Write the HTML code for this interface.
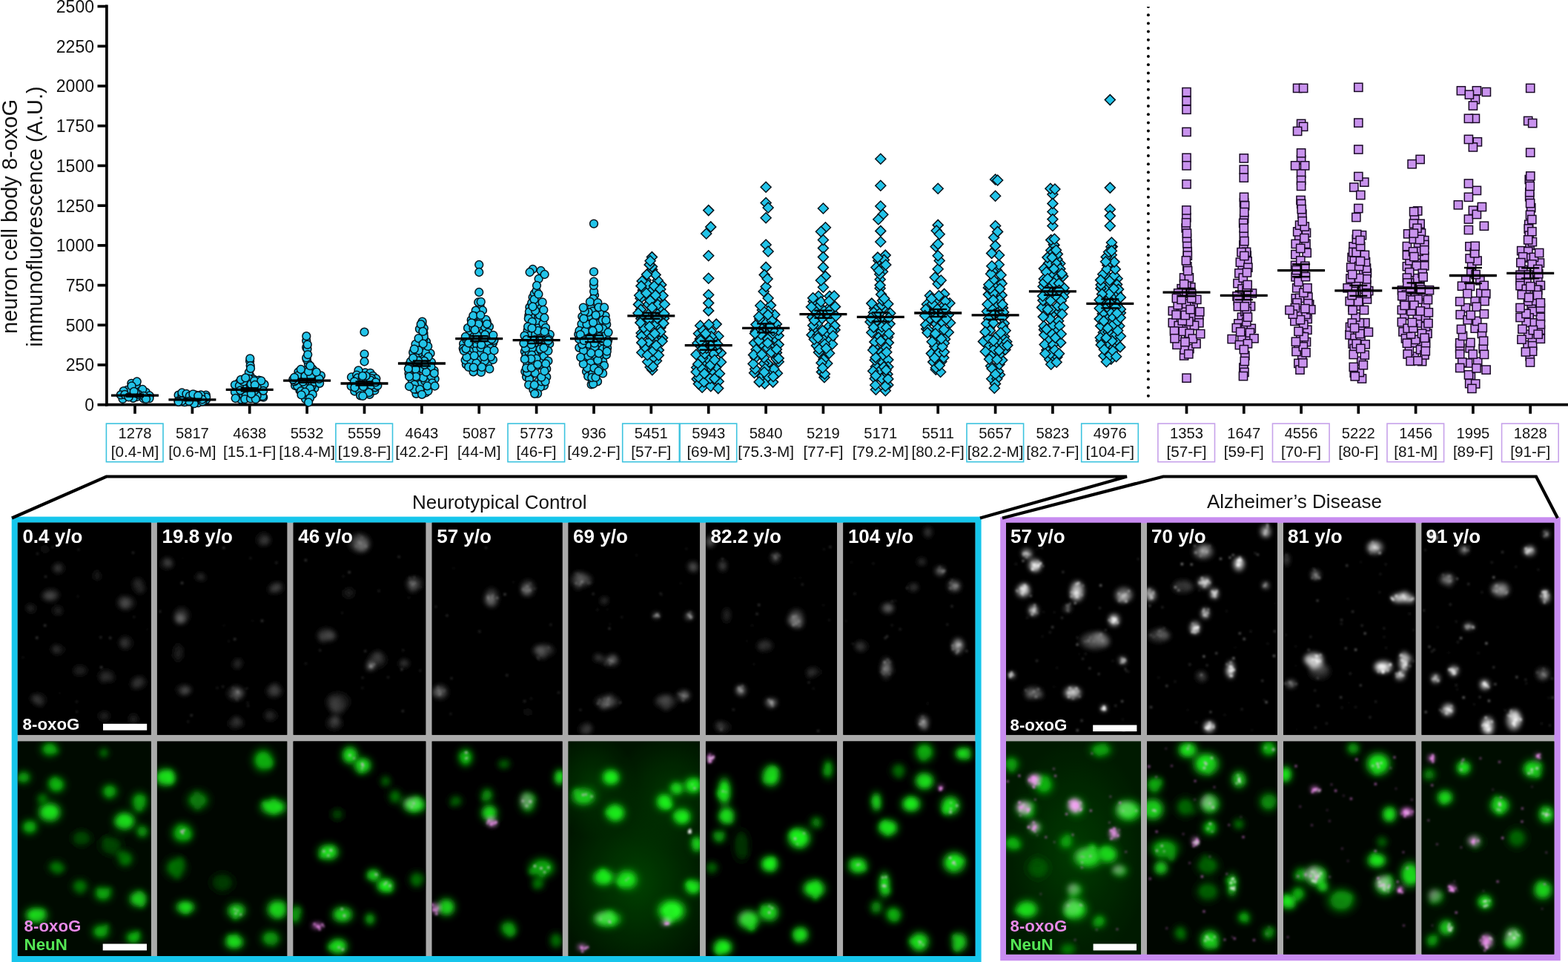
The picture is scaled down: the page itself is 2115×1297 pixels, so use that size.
<!DOCTYPE html>
<html><head><meta charset="utf-8"><title>8-oxoG neuron immunofluorescence</title>
<style>html,body{margin:0;padding:0;background:#fff;} body{width:2115px;height:1297px;overflow:hidden;} svg{display:block;}</style>
</head><body>
<svg width="2115" height="1297" viewBox="0 0 2115 1297">
<rect width="2115" height="1297" fill="#fff"/>
<defs>
<filter id="b3" x="-50%" y="-50%" width="200%" height="200%"><feGaussianBlur stdDeviation="3"/></filter>
<filter id="b5" x="-50%" y="-50%" width="200%" height="200%"><feGaussianBlur stdDeviation="5"/></filter>
<filter id="b2" x="-50%" y="-50%" width="200%" height="200%"><feGaussianBlur stdDeviation="1.6"/></filter>
<filter id="b25" x="-50%" y="-50%" width="200%" height="200%"><feGaussianBlur stdDeviation="25"/></filter>
<radialGradient id="hz1"><stop offset="0" stop-color="#003000"/><stop offset="1" stop-color="#003000" stop-opacity="0"/></radialGradient>
<radialGradient id="hz2"><stop offset="0" stop-color="#002400"/><stop offset="1" stop-color="#002400" stop-opacity="0"/></radialGradient>
<clipPath id="ct0"><rect x="23.8" y="704.7" width="180.0" height="286.0999999999999"/></clipPath>
<clipPath id="cb0"><rect x="23.8" y="999.5" width="180.0" height="289.5"/></clipPath>
<clipPath id="ct1"><rect x="211.9" y="704.7" width="175.4" height="286.0999999999999"/></clipPath>
<clipPath id="cb1"><rect x="211.9" y="999.5" width="175.4" height="289.5"/></clipPath>
<clipPath id="ct2"><rect x="395.6" y="704.7" width="178.69999999999993" height="286.0999999999999"/></clipPath>
<clipPath id="cb2"><rect x="395.6" y="999.5" width="178.7" height="289.5"/></clipPath>
<clipPath id="ct3"><rect x="582.6" y="704.7" width="176.0" height="286.0999999999999"/></clipPath>
<clipPath id="cb3"><rect x="582.6" y="999.5" width="176.0" height="289.5"/></clipPath>
<clipPath id="ct4"><rect x="766.5" y="704.7" width="177.5" height="286.0999999999999"/></clipPath>
<clipPath id="cb4"><rect x="766.5" y="999.5" width="177.5" height="289.5"/></clipPath>
<clipPath id="ct5"><rect x="951.9" y="704.7" width="177.10000000000002" height="286.0999999999999"/></clipPath>
<clipPath id="cb5"><rect x="951.9" y="999.5" width="177.1" height="289.5"/></clipPath>
<clipPath id="ct6"><rect x="1137.3" y="704.7" width="178.0" height="286.0999999999999"/></clipPath>
<clipPath id="cb6"><rect x="1137.3" y="999.5" width="178.0" height="289.5"/></clipPath>
<clipPath id="ct7"><rect x="1357.0" y="704.7" width="182.0" height="286.0999999999999"/></clipPath>
<clipPath id="cb7"><rect x="1357.0" y="999.5" width="182.0" height="287.1"/></clipPath>
<clipPath id="ct8"><rect x="1547.0" y="704.7" width="176.0" height="286.0999999999999"/></clipPath>
<clipPath id="cb8"><rect x="1547.0" y="999.5" width="176.0" height="287.1"/></clipPath>
<clipPath id="ct9"><rect x="1731.0" y="704.7" width="178.5" height="286.0999999999999"/></clipPath>
<clipPath id="cb9"><rect x="1731.0" y="999.5" width="178.5" height="287.1"/></clipPath>
<clipPath id="ct10"><rect x="1917.5" y="704.7" width="178.9000000000001" height="286.0999999999999"/></clipPath>
<clipPath id="cb10"><rect x="1917.5" y="999.5" width="178.9" height="287.1"/></clipPath>
</defs>
<rect x="15.7" y="696.6" width="1307.8999999999999" height="602.4" fill="#16C6EC"/>
<rect x="23.8" y="704.7" width="1291.5" height="584.3" fill="#ABABAB"/>
<rect x="1349.2" y="697.3" width="755.6" height="597.9" fill="#C88CF0"/>
<rect x="1357" y="705.3" width="739.4" height="581.3" fill="#ABABAB"/>
<rect x="23.8" y="704.7" width="180.0" height="286.1" fill="#000"/>
<rect x="23.8" y="999.5" width="180.0" height="289.5" fill="rgb(0, 10, 0)"/>
<rect x="211.9" y="704.7" width="175.4" height="286.1" fill="#000"/>
<rect x="211.9" y="999.5" width="175.4" height="289.5" fill="rgb(0, 6, 0)"/>
<rect x="395.6" y="704.7" width="178.7" height="286.1" fill="#000"/>
<rect x="395.6" y="999.5" width="178.7" height="289.5" fill="rgb(0, 0, 0)"/>
<rect x="582.6" y="704.7" width="176.0" height="286.1" fill="#000"/>
<rect x="582.6" y="999.5" width="176.0" height="289.5" fill="rgb(0, 0, 0)"/>
<rect x="766.5" y="704.7" width="177.5" height="286.1" fill="#000"/>
<rect x="766.5" y="999.5" width="177.5" height="289.5" fill="rgb(0, 20, 0)"/>
<rect x="951.9" y="704.7" width="177.1" height="286.1" fill="#000"/>
<rect x="951.9" y="999.5" width="177.1" height="289.5" fill="rgb(0, 0, 0)"/>
<rect x="1137.3" y="704.7" width="178.0" height="286.1" fill="#000"/>
<rect x="1137.3" y="999.5" width="178.0" height="289.5" fill="rgb(0, 0, 0)"/>
<rect x="1357.0" y="705.3" width="182.0" height="285.5" fill="#000"/>
<rect x="1357.0" y="999.5" width="182.0" height="287.1" fill="rgb(0, 26, 0)"/>
<rect x="1547.0" y="705.3" width="176.0" height="285.5" fill="#000"/>
<rect x="1547.0" y="999.5" width="176.0" height="287.1" fill="rgb(0, 6, 0)"/>
<rect x="1731.0" y="705.3" width="178.5" height="285.5" fill="#000"/>
<rect x="1731.0" y="999.5" width="178.5" height="287.1" fill="rgb(0, 5, 0)"/>
<rect x="1917.5" y="705.3" width="178.9" height="285.5" fill="#000"/>
<rect x="1917.5" y="999.5" width="178.9" height="287.1" fill="rgb(0, 13, 0)"/>
<g clip-path="url(#ct0)"><rect x="23.8" y="702.7" width="180.0" height="288.1" fill="#000"/><g filter="url(#b3)">
<ellipse cx="79" cy="766" rx="8.1" ry="7.2" fill="rgb(22,22,22)" style="mix-blend-mode:screen"/>
<ellipse transform="rotate(84 78.6 766.4)" cx="78.6" cy="766.4" rx="5.2" ry="4.0" fill="rgb(24,24,24)" style="mix-blend-mode:screen"/>
<ellipse transform="rotate(143 76.4 766.1)" cx="76.4" cy="766.1" rx="4.3" ry="3.4" fill="rgb(22,22,22)" style="mix-blend-mode:screen"/>
<ellipse cx="69" cy="802" rx="10.8" ry="8.1" fill="rgb(32,32,32)" style="mix-blend-mode:screen"/>
<ellipse transform="rotate(8 64.6 804.5)" cx="64.6" cy="804.5" rx="8.3" ry="5.3" fill="rgb(32,32,32)" style="mix-blend-mode:screen"/>
<ellipse transform="rotate(3 70.7 802.9)" cx="70.7" cy="802.9" rx="7.0" ry="3.3" fill="rgb(25,25,25)" style="mix-blend-mode:screen"/>
<ellipse cx="170" cy="813" rx="11.7" ry="9.0" fill="rgb(35,35,35)" style="mix-blend-mode:screen"/>
<ellipse transform="rotate(84 166.4 810.7)" cx="166.4" cy="810.7" rx="7.3" ry="5.6" fill="rgb(26,26,26)" style="mix-blend-mode:screen"/>
<ellipse transform="rotate(119 170.2 814.3)" cx="170.2" cy="814.3" rx="7.3" ry="4.2" fill="rgb(32,32,32)" style="mix-blend-mode:screen"/>
<ellipse cx="187" cy="790" rx="8.1" ry="9.9" fill="rgb(22,22,22)" style="mix-blend-mode:screen"/>
<ellipse transform="rotate(127 191.0 794.9)" cx="191.0" cy="794.9" rx="4.8" ry="4.5" fill="rgb(23,23,23)" style="mix-blend-mode:screen"/>
<ellipse transform="rotate(72 185.3 785.7)" cx="185.3" cy="785.7" rx="6.0" ry="4.9" fill="rgb(23,23,23)" style="mix-blend-mode:screen"/>
<ellipse cx="77" cy="823" rx="6.3" ry="6.3" fill="rgb(19,19,19)" style="mix-blend-mode:screen"/>
<ellipse transform="rotate(38 79.9 825.2)" cx="79.9" cy="825.2" rx="4.7" ry="3.3" fill="rgb(14,14,14)" style="mix-blend-mode:screen"/>
<ellipse transform="rotate(113 80.0 822.4)" cx="80.0" cy="822.4" rx="4.5" ry="2.9" fill="rgb(14,14,14)" style="mix-blend-mode:screen"/>
<ellipse cx="43" cy="821" rx="7.2" ry="6.3" fill="rgb(16,16,16)" style="mix-blend-mode:screen"/>
<ellipse transform="rotate(136 40.0 819.9)" cx="40.0" cy="819.9" rx="3.8" ry="2.9" fill="rgb(17,17,17)" style="mix-blend-mode:screen"/>
<ellipse transform="rotate(32 40.1 818.2)" cx="40.1" cy="818.2" rx="4.7" ry="3.2" fill="rgb(16,16,16)" style="mix-blend-mode:screen"/>
<ellipse cx="170" cy="867" rx="9.0" ry="9.0" fill="rgb(22,22,22)" style="mix-blend-mode:screen"/>
<ellipse transform="rotate(116 167.2 869.1)" cx="167.2" cy="869.1" rx="4.8" ry="4.6" fill="rgb(17,17,17)" style="mix-blend-mode:screen"/>
<ellipse transform="rotate(145 167.4 864.9)" cx="167.4" cy="864.9" rx="5.3" ry="5.7" fill="rgb(24,24,24)" style="mix-blend-mode:screen"/>
<ellipse cx="78" cy="876" rx="9.0" ry="6.3" fill="rgb(19,19,19)" style="mix-blend-mode:screen"/>
<ellipse transform="rotate(116 75.4 875.3)" cx="75.4" cy="875.3" rx="4.8" ry="4.2" fill="rgb(20,20,20)" style="mix-blend-mode:screen"/>
<ellipse transform="rotate(59 75.4 874.5)" cx="75.4" cy="874.5" rx="5.2" ry="2.6" fill="rgb(19,19,19)" style="mix-blend-mode:screen"/>
<ellipse cx="108" cy="904" rx="9.0" ry="7.2" fill="rgb(19,19,19)" style="mix-blend-mode:screen"/>
<ellipse transform="rotate(108 104.3 904.6)" cx="104.3" cy="904.6" rx="5.4" ry="3.7" fill="rgb(16,16,16)" style="mix-blend-mode:screen"/>
<ellipse transform="rotate(156 112.1 903.9)" cx="112.1" cy="903.9" rx="5.0" ry="3.1" fill="rgb(18,18,18)" style="mix-blend-mode:screen"/>
<ellipse cx="143" cy="911" rx="10.8" ry="8.1" fill="rgb(22,22,22)" style="mix-blend-mode:screen"/>
<ellipse transform="rotate(34 147.4 913.6)" cx="147.4" cy="913.6" rx="7.6" ry="5.3" fill="rgb(18,18,18)" style="mix-blend-mode:screen"/>
<ellipse transform="rotate(109 139.7 914.6)" cx="139.7" cy="914.6" rx="6.7" ry="3.4" fill="rgb(24,24,24)" style="mix-blend-mode:screen"/>
<ellipse cx="187" cy="920" rx="9.9" ry="8.1" fill="rgb(28,28,28)" style="mix-blend-mode:screen"/>
<ellipse transform="rotate(127 182.4 923.7)" cx="182.4" cy="923.7" rx="5.7" ry="5.0" fill="rgb(24,24,24)" style="mix-blend-mode:screen"/>
<ellipse transform="rotate(130 188.0 918.3)" cx="188.0" cy="918.3" rx="5.1" ry="3.7" fill="rgb(23,23,23)" style="mix-blend-mode:screen"/>
<ellipse cx="52" cy="943" rx="9.9" ry="8.1" fill="rgb(25,25,25)" style="mix-blend-mode:screen"/>
<ellipse transform="rotate(50 52.6 945.9)" cx="52.6" cy="945.9" rx="7.5" ry="3.6" fill="rgb(25,25,25)" style="mix-blend-mode:screen"/>
<ellipse transform="rotate(11 47.2 941.1)" cx="47.2" cy="941.1" rx="5.4" ry="4.0" fill="rgb(23,23,23)" style="mix-blend-mode:screen"/>
<ellipse cx="140" cy="966" rx="8.1" ry="6.3" fill="rgb(16,16,16)" style="mix-blend-mode:screen"/>
<ellipse transform="rotate(160 140.6 963.7)" cx="140.6" cy="963.7" rx="6.3" ry="3.6" fill="rgb(14,14,14)" style="mix-blend-mode:screen"/>
<ellipse transform="rotate(6 141.5 966.5)" cx="141.5" cy="966.5" rx="4.1" ry="4.0" fill="rgb(12,12,12)" style="mix-blend-mode:screen"/>
<ellipse cx="180" cy="968" rx="7.2" ry="6.3" fill="rgb(16,16,16)" style="mix-blend-mode:screen"/>
<ellipse transform="rotate(115 181.4 970.9)" cx="181.4" cy="970.9" rx="4.6" ry="3.7" fill="rgb(12,12,12)" style="mix-blend-mode:screen"/>
<ellipse transform="rotate(98 178.7 971.1)" cx="178.7" cy="971.1" rx="5.1" ry="4.0" fill="rgb(12,12,12)" style="mix-blend-mode:screen"/>
<ellipse cx="130" cy="775" rx="5.4" ry="7.2" fill="rgb(12,12,12)" style="mix-blend-mode:screen"/>
<ellipse transform="rotate(165 131.3 776.5)" cx="131.3" cy="776.5" rx="3.2" ry="4.2" fill="rgb(13,13,13)" style="mix-blend-mode:screen"/>
<ellipse transform="rotate(142 132.2 777.7)" cx="132.2" cy="777.7" rx="4.0" ry="3.9" fill="rgb(11,11,11)" style="mix-blend-mode:screen"/>
<ellipse cx="60" cy="740" rx="5.4" ry="5.4" fill="rgb(9,9,9)" style="mix-blend-mode:screen"/>
<ellipse transform="rotate(110 60.7 739.4)" cx="60.7" cy="739.4" rx="2.8" ry="3.1" fill="rgb(9,9,9)" style="mix-blend-mode:screen"/>
<ellipse transform="rotate(70 62.7 742.1)" cx="62.7" cy="742.1" rx="3.8" ry="3.0" fill="rgb(9,9,9)" style="mix-blend-mode:screen"/>
</g><g filter="url(#b2)" style="mix-blend-mode:screen">
<circle cx="103.3" cy="946.1" r="1.2" fill="rgb(55,55,55)"/>
<circle cx="31.0" cy="886.3" r="0.8" fill="rgb(78,78,78)"/>
<circle cx="148.7" cy="860.1" r="1.3" fill="rgb(86,86,86)"/>
<circle cx="70.8" cy="737.6" r="1.1" fill="rgb(68,68,68)"/>
<circle cx="61.5" cy="777.5" r="1.1" fill="rgb(104,104,104)"/>
<circle cx="103.6" cy="959.5" r="1.1" fill="rgb(69,69,69)"/>
<circle cx="60.7" cy="843.3" r="1.3" fill="rgb(98,98,98)"/>
<circle cx="180.7" cy="831.6" r="0.9" fill="rgb(84,84,84)"/>
<circle cx="49.8" cy="859.9" r="1.3" fill="rgb(100,100,100)"/>
<circle cx="151.0" cy="974.2" r="0.7" fill="rgb(66,66,66)"/>
<circle cx="105.1" cy="804.1" r="0.9" fill="rgb(62,62,62)"/>
<circle cx="135.9" cy="859.2" r="1.3" fill="rgb(68,68,68)"/>
<circle cx="198.6" cy="848.8" r="0.6" fill="rgb(54,54,54)"/>
<circle cx="179.4" cy="745.2" r="1.1" fill="rgb(92,92,92)"/>
<circle cx="80.2" cy="934.2" r="0.7" fill="rgb(51,51,51)"/>
<circle cx="105.9" cy="740.9" r="0.8" fill="rgb(99,99,99)"/>
<circle cx="50.6" cy="746.5" r="1.0" fill="rgb(87,87,87)"/>
<circle cx="136.7" cy="899.8" r="1.4" fill="rgb(98,98,98)"/>
</g></g>
<g clip-path="url(#ct1)"><rect x="211.9" y="702.7" width="175.4" height="288.1" fill="#000"/><g filter="url(#b3)">
<ellipse cx="225" cy="760" rx="9.0" ry="7.2" fill="rgb(28,28,28)" style="mix-blend-mode:screen"/>
<ellipse transform="rotate(32 226.7 757.8)" cx="226.7" cy="757.8" rx="4.5" ry="3.7" fill="rgb(26,26,26)" style="mix-blend-mode:screen"/>
<ellipse transform="rotate(62 226.9 757.7)" cx="226.9" cy="757.7" rx="6.2" ry="3.8" fill="rgb(24,24,24)" style="mix-blend-mode:screen"/>
<ellipse cx="355" cy="727" rx="9.0" ry="9.0" fill="rgb(25,25,25)" style="mix-blend-mode:screen"/>
<ellipse transform="rotate(143 356.0 729.3)" cx="356.0" cy="729.3" rx="6.8" ry="3.7" fill="rgb(22,22,22)" style="mix-blend-mode:screen"/>
<ellipse transform="rotate(82 358.9 729.0)" cx="358.9" cy="729.0" rx="6.1" ry="5.8" fill="rgb(20,20,20)" style="mix-blend-mode:screen"/>
<ellipse cx="372" cy="793" rx="10.8" ry="7.2" fill="rgb(25,25,25)" style="mix-blend-mode:screen"/>
<ellipse transform="rotate(143 370.7 793.5)" cx="370.7" cy="793.5" rx="8.2" ry="3.7" fill="rgb(27,27,27)" style="mix-blend-mode:screen"/>
<ellipse transform="rotate(147 373.6 790.9)" cx="373.6" cy="790.9" rx="7.3" ry="4.2" fill="rgb(26,26,26)" style="mix-blend-mode:screen"/>
<ellipse cx="245" cy="830" rx="9.9" ry="10.8" fill="rgb(38,38,38)" style="mix-blend-mode:screen"/>
<ellipse transform="rotate(176 242.2 834.3)" cx="242.2" cy="834.3" rx="6.4" ry="6.6" fill="rgb(42,42,42)" style="mix-blend-mode:screen"/>
<ellipse transform="rotate(63 243.2 834.4)" cx="243.2" cy="834.4" rx="5.2" ry="5.5" fill="rgb(41,41,41)" style="mix-blend-mode:screen"/>
<ellipse cx="240" cy="880" rx="7.2" ry="12.6" fill="rgb(16,16,16)" style="mix-blend-mode:screen"/>
<ellipse transform="rotate(5 240.4 883.4)" cx="240.4" cy="883.4" rx="5.2" ry="5.1" fill="rgb(14,14,14)" style="mix-blend-mode:screen"/>
<ellipse transform="rotate(142 242.2 875.9)" cx="242.2" cy="875.9" rx="3.9" ry="5.4" fill="rgb(14,14,14)" style="mix-blend-mode:screen"/>
<ellipse cx="320" cy="895" rx="6.3" ry="7.2" fill="rgb(19,19,19)" style="mix-blend-mode:screen"/>
<ellipse transform="rotate(124 320.1 896.6)" cx="320.1" cy="896.6" rx="4.8" ry="3.8" fill="rgb(20,20,20)" style="mix-blend-mode:screen"/>
<ellipse transform="rotate(95 322.8 892.0)" cx="322.8" cy="892.0" rx="3.7" ry="4.3" fill="rgb(15,15,15)" style="mix-blend-mode:screen"/>
<ellipse cx="248" cy="930" rx="9.9" ry="6.3" fill="rgb(35,35,35)" style="mix-blend-mode:screen"/>
<ellipse transform="rotate(101 249.4 930.1)" cx="249.4" cy="930.1" rx="5.8" ry="3.1" fill="rgb(37,37,37)" style="mix-blend-mode:screen"/>
<ellipse transform="rotate(153 251.4 932.5)" cx="251.4" cy="932.5" rx="7.6" ry="3.4" fill="rgb(29,29,29)" style="mix-blend-mode:screen"/>
<ellipse cx="318" cy="935" rx="10.8" ry="9.0" fill="rgb(44,44,44)" style="mix-blend-mode:screen"/>
<ellipse transform="rotate(91 318.8 932.3)" cx="318.8" cy="932.3" rx="7.2" ry="3.6" fill="rgb(42,42,42)" style="mix-blend-mode:screen"/>
<ellipse transform="rotate(144 323.1 935.1)" cx="323.1" cy="935.1" rx="7.1" ry="4.7" fill="rgb(40,40,40)" style="mix-blend-mode:screen"/>
<ellipse cx="370" cy="932" rx="10.8" ry="8.1" fill="rgb(28,28,28)" style="mix-blend-mode:screen"/>
<ellipse transform="rotate(74 372.1 928.5)" cx="372.1" cy="928.5" rx="8.3" ry="5.2" fill="rgb(27,27,27)" style="mix-blend-mode:screen"/>
<ellipse transform="rotate(78 367.5 931.8)" cx="367.5" cy="931.8" rx="7.8" ry="5.2" fill="rgb(22,22,22)" style="mix-blend-mode:screen"/>
<ellipse cx="318" cy="975" rx="10.8" ry="7.2" fill="rgb(25,25,25)" style="mix-blend-mode:screen"/>
<ellipse transform="rotate(111 317.7 973.7)" cx="317.7" cy="973.7" rx="8.2" ry="3.1" fill="rgb(21,21,21)" style="mix-blend-mode:screen"/>
<ellipse transform="rotate(41 321.0 971.6)" cx="321.0" cy="971.6" rx="7.5" ry="3.4" fill="rgb(21,21,21)" style="mix-blend-mode:screen"/>
<ellipse cx="365" cy="965" rx="9.0" ry="7.2" fill="rgb(19,19,19)" style="mix-blend-mode:screen"/>
<ellipse transform="rotate(132 363.7 965.9)" cx="363.7" cy="965.9" rx="4.8" ry="3.8" fill="rgb(15,15,15)" style="mix-blend-mode:screen"/>
<ellipse transform="rotate(79 362.8 962.8)" cx="362.8" cy="962.8" rx="5.4" ry="3.6" fill="rgb(18,18,18)" style="mix-blend-mode:screen"/>
<ellipse cx="270" cy="778" rx="7.2" ry="4.5" fill="rgb(22,22,22)" style="mix-blend-mode:screen"/>
<ellipse transform="rotate(114 270.2 776.5)" cx="270.2" cy="776.5" rx="4.9" ry="2.4" fill="rgb(18,18,18)" style="mix-blend-mode:screen"/>
<ellipse transform="rotate(42 272.5 778.5)" cx="272.5" cy="778.5" rx="5.1" ry="2.8" fill="rgb(23,23,23)" style="mix-blend-mode:screen"/>
</g><g filter="url(#b2)" style="mix-blend-mode:screen">
<circle cx="320.9" cy="933.3" r="1.7" fill="rgb(60,60,60)"/>
<circle cx="320.3" cy="944.3" r="0.9" fill="rgb(80,80,80)"/>
<circle cx="318.6" cy="941.9" r="0.9" fill="rgb(59,59,59)"/>
<circle cx="320.4" cy="931.5" r="0.9" fill="rgb(76,76,76)"/>
<circle cx="311.6" cy="938.7" r="1.0" fill="rgb(50,50,50)"/>
<circle cx="313.7" cy="927.1" r="0.9" fill="rgb(82,82,82)"/>
<circle cx="300.6" cy="925.8" r="1.1" fill="rgb(80,80,80)"/>
<circle cx="246.3" cy="752.5" r="0.6" fill="rgb(56,56,56)"/>
<circle cx="308.5" cy="864.5" r="0.7" fill="rgb(84,84,84)"/>
<circle cx="245.5" cy="786.1" r="1.4" fill="rgb(100,100,100)"/>
<circle cx="372.8" cy="758.7" r="1.4" fill="rgb(53,53,53)"/>
<circle cx="293.1" cy="927.5" r="1.0" fill="rgb(69,69,69)"/>
<circle cx="302.2" cy="843.1" r="0.6" fill="rgb(86,86,86)"/>
<circle cx="334.1" cy="947.5" r="1.0" fill="rgb(60,60,60)"/>
<circle cx="340.6" cy="836.9" r="0.7" fill="rgb(61,61,61)"/>
<circle cx="301.8" cy="738.6" r="1.2" fill="rgb(103,103,103)"/>
<circle cx="334.7" cy="951.7" r="0.9" fill="rgb(87,87,87)"/>
<circle cx="316.7" cy="861.8" r="1.2" fill="rgb(108,108,108)"/>
<circle cx="258.2" cy="964.4" r="1.2" fill="rgb(94,94,94)"/>
<circle cx="353.5" cy="837.0" r="1.3" fill="rgb(103,103,103)"/>
<circle cx="333.0" cy="928.1" r="0.9" fill="rgb(95,95,95)"/>
<circle cx="337.8" cy="752.5" r="1.0" fill="rgb(70,70,70)"/>
<circle cx="215.7" cy="824.4" r="1.1" fill="rgb(88,88,88)"/>
<circle cx="253.7" cy="972.9" r="0.9" fill="rgb(89,89,89)"/>
</g></g>
<g clip-path="url(#ct2)"><rect x="395.6" y="702.7" width="178.7" height="288.1" fill="#000"/><g filter="url(#b3)">
<ellipse cx="485" cy="732" rx="14.4" ry="12.6" fill="rgb(41,41,41)" style="mix-blend-mode:screen"/>
<ellipse transform="rotate(70 487.3 732.9)" cx="487.3" cy="732.9" rx="11.2" ry="7.1" fill="rgb(39,39,39)" style="mix-blend-mode:screen"/>
<ellipse transform="rotate(4 487.9 735.3)" cx="487.9" cy="735.3" rx="9.7" ry="7.5" fill="rgb(46,46,46)" style="mix-blend-mode:screen"/>
<ellipse cx="559" cy="787" rx="10.8" ry="9.0" fill="rgb(41,41,41)" style="mix-blend-mode:screen"/>
<ellipse transform="rotate(35 556.4 786.1)" cx="556.4" cy="786.1" rx="6.5" ry="3.7" fill="rgb(31,31,31)" style="mix-blend-mode:screen"/>
<ellipse transform="rotate(91 556.3 790.7)" cx="556.3" cy="790.7" rx="8.3" ry="4.9" fill="rgb(39,39,39)" style="mix-blend-mode:screen"/>
<ellipse cx="440" cy="856" rx="11.7" ry="9.0" fill="rgb(38,38,38)" style="mix-blend-mode:screen"/>
<ellipse transform="rotate(14 445.8 857.2)" cx="445.8" cy="857.2" rx="7.8" ry="5.4" fill="rgb(40,40,40)" style="mix-blend-mode:screen"/>
<ellipse transform="rotate(85 434.7 859.9)" cx="434.7" cy="859.9" rx="6.4" ry="4.7" fill="rgb(31,31,31)" style="mix-blend-mode:screen"/>
<ellipse cx="509" cy="890" rx="12.6" ry="10.8" fill="rgb(22,22,22)" style="mix-blend-mode:screen"/>
<ellipse transform="rotate(76 510.4 885.2)" cx="510.4" cy="885.2" rx="8.1" ry="6.0" fill="rgb(24,24,24)" style="mix-blend-mode:screen"/>
<ellipse transform="rotate(101 507.3 887.7)" cx="507.3" cy="887.7" rx="7.3" ry="6.3" fill="rgb(22,22,22)" style="mix-blend-mode:screen"/>
<ellipse cx="500" cy="898" rx="5.4" ry="5.4" fill="rgb(57,57,57)" style="mix-blend-mode:screen"/>
<ellipse transform="rotate(8 498.9 895.4)" cx="498.9" cy="895.4" rx="2.9" ry="3.2" fill="rgb(48,48,48)" style="mix-blend-mode:screen"/>
<ellipse transform="rotate(9 499.4 900.1)" cx="499.4" cy="900.1" rx="4.2" ry="3.5" fill="rgb(59,59,59)" style="mix-blend-mode:screen"/>
<ellipse cx="456" cy="946" rx="16.2" ry="12.6" fill="rgb(25,25,25)" style="mix-blend-mode:screen"/>
<ellipse transform="rotate(86 449.1 951.1)" cx="449.1" cy="951.1" rx="12.5" ry="5.8" fill="rgb(23,23,23)" style="mix-blend-mode:screen"/>
<ellipse transform="rotate(84 456.4 951.5)" cx="456.4" cy="951.5" rx="12.5" ry="7.8" fill="rgb(26,26,26)" style="mix-blend-mode:screen"/>
<ellipse cx="451" cy="975" rx="10.8" ry="9.0" fill="rgb(28,28,28)" style="mix-blend-mode:screen"/>
<ellipse transform="rotate(82 452.1 971.5)" cx="452.1" cy="971.5" rx="6.0" ry="3.6" fill="rgb(28,28,28)" style="mix-blend-mode:screen"/>
<ellipse transform="rotate(120 451.3 971.6)" cx="451.3" cy="971.6" rx="6.8" ry="4.2" fill="rgb(26,26,26)" style="mix-blend-mode:screen"/>
<ellipse cx="470" cy="800" rx="9.0" ry="7.2" fill="rgb(11,11,11)" style="mix-blend-mode:screen"/>
<ellipse transform="rotate(96 470.7 799.4)" cx="470.7" cy="799.4" rx="7.0" ry="4.7" fill="rgb(12,12,12)" style="mix-blend-mode:screen"/>
<ellipse transform="rotate(161 472.1 798.1)" cx="472.1" cy="798.1" rx="6.5" ry="4.0" fill="rgb(9,9,9)" style="mix-blend-mode:screen"/>
<ellipse cx="545" cy="895" rx="7.2" ry="5.4" fill="rgb(25,25,25)" style="mix-blend-mode:screen"/>
<ellipse transform="rotate(102 544.0 893.8)" cx="544.0" cy="893.8" rx="4.8" ry="3.0" fill="rgb(25,25,25)" style="mix-blend-mode:screen"/>
<ellipse transform="rotate(176 546.8 893.3)" cx="546.8" cy="893.3" rx="5.4" ry="3.4" fill="rgb(21,21,21)" style="mix-blend-mode:screen"/>
</g><g filter="url(#b2)" style="mix-blend-mode:screen">
<circle cx="485.9" cy="732.2" r="1.2" fill="rgb(55,55,55)"/>
<circle cx="483.9" cy="731.0" r="0.9" fill="rgb(63,63,63)"/>
<circle cx="493.8" cy="736.6" r="1.4" fill="rgb(63,63,63)"/>
<circle cx="479.9" cy="736.6" r="1.1" fill="rgb(53,53,53)"/>
<circle cx="484.6" cy="720.9" r="0.9" fill="rgb(49,49,49)"/>
<circle cx="488.4" cy="724.3" r="1.0" fill="rgb(70,70,70)"/>
<circle cx="556.4" cy="788.1" r="1.2" fill="rgb(72,72,72)"/>
<circle cx="552.6" cy="779.3" r="1.3" fill="rgb(56,56,56)"/>
<circle cx="558.7" cy="778.3" r="1.2" fill="rgb(60,60,60)"/>
<circle cx="567.2" cy="791.8" r="0.9" fill="rgb(49,49,49)"/>
<circle cx="553.9" cy="785.2" r="1.1" fill="rgb(68,68,68)"/>
<circle cx="559.1" cy="786.3" r="1.5" fill="rgb(53,53,53)"/>
<circle cx="501.5" cy="898.9" r="1.5" fill="rgb(96,96,96)"/>
<circle cx="499.8" cy="898.8" r="1.5" fill="rgb(80,80,80)"/>
<circle cx="499.6" cy="898.5" r="1.4" fill="rgb(95,95,95)"/>
<circle cx="504.7" cy="895.4" r="1.2" fill="rgb(104,104,104)"/>
<circle cx="500.6" cy="896.4" r="1.2" fill="rgb(78,78,78)"/>
<circle cx="504.7" cy="896.0" r="1.2" fill="rgb(75,75,75)"/>
<circle cx="461.5" cy="826.3" r="0.9" fill="rgb(73,73,73)"/>
<circle cx="431.7" cy="876.8" r="1.0" fill="rgb(97,97,97)"/>
<circle cx="543.7" cy="876.6" r="1.2" fill="rgb(60,60,60)"/>
<circle cx="551.5" cy="805.7" r="1.0" fill="rgb(51,51,51)"/>
<circle cx="492.7" cy="877.8" r="1.1" fill="rgb(107,107,107)"/>
<circle cx="538.1" cy="750.8" r="1.2" fill="rgb(82,82,82)"/>
<circle cx="412.3" cy="755.3" r="1.3" fill="rgb(94,94,94)"/>
<circle cx="412.4" cy="894.6" r="1.2" fill="rgb(58,58,58)"/>
<circle cx="511.0" cy="796.6" r="1.2" fill="rgb(63,63,63)"/>
<circle cx="488.7" cy="927.5" r="0.9" fill="rgb(73,73,73)"/>
<circle cx="566.8" cy="904.2" r="1.0" fill="rgb(79,79,79)"/>
<circle cx="523.5" cy="913.2" r="0.9" fill="rgb(104,104,104)"/>
<circle cx="541.9" cy="902.8" r="1.2" fill="rgb(101,101,101)"/>
<circle cx="543.3" cy="958.7" r="1.1" fill="rgb(107,107,107)"/>
<circle cx="489.1" cy="913.7" r="0.9" fill="rgb(98,98,98)"/>
<circle cx="471.1" cy="771.6" r="1.4" fill="rgb(94,94,94)"/>
<circle cx="463.2" cy="777.0" r="0.9" fill="rgb(62,62,62)"/>
<circle cx="448.6" cy="979.2" r="0.8" fill="rgb(53,53,53)"/>
</g></g>
<g clip-path="url(#ct3)"><rect x="582.6" y="702.7" width="176.0" height="288.1" fill="#000"/><g filter="url(#b3)">
<ellipse cx="663" cy="806" rx="9.0" ry="12.6" fill="rgb(51,51,51)" style="mix-blend-mode:screen"/>
<ellipse transform="rotate(32 659.5 807.9)" cx="659.5" cy="807.9" rx="4.7" ry="6.5" fill="rgb(53,53,53)" style="mix-blend-mode:screen"/>
<ellipse transform="rotate(20 663.8 811.2)" cx="663.8" cy="811.2" rx="5.0" ry="5.7" fill="rgb(39,39,39)" style="mix-blend-mode:screen"/>
<ellipse cx="712" cy="793" rx="9.0" ry="10.8" fill="rgb(48,48,48)" style="mix-blend-mode:screen"/>
<ellipse transform="rotate(40 709.6 795.3)" cx="709.6" cy="795.3" rx="5.0" ry="5.0" fill="rgb(46,46,46)" style="mix-blend-mode:screen"/>
<ellipse transform="rotate(99 709.1 795.8)" cx="709.1" cy="795.8" rx="6.5" ry="5.6" fill="rgb(41,41,41)" style="mix-blend-mode:screen"/>
<ellipse cx="733" cy="877" rx="14.4" ry="8.1" fill="rgb(38,38,38)" style="mix-blend-mode:screen"/>
<ellipse transform="rotate(62 729.6 880.1)" cx="729.6" cy="880.1" rx="9.4" ry="5.3" fill="rgb(41,41,41)" style="mix-blend-mode:screen"/>
<ellipse transform="rotate(171 732.7 874.7)" cx="732.7" cy="874.7" rx="10.4" ry="4.0" fill="rgb(29,29,29)" style="mix-blend-mode:screen"/>
<ellipse cx="594" cy="933" rx="9.9" ry="9.9" fill="rgb(44,44,44)" style="mix-blend-mode:screen"/>
<ellipse transform="rotate(178 594.3 933.2)" cx="594.3" cy="933.2" rx="6.8" ry="4.5" fill="rgb(38,38,38)" style="mix-blend-mode:screen"/>
<ellipse transform="rotate(143 589.2 932.7)" cx="589.2" cy="932.7" rx="6.9" ry="5.5" fill="rgb(39,39,39)" style="mix-blend-mode:screen"/>
<ellipse cx="712" cy="960" rx="5.4" ry="4.5" fill="rgb(12,12,12)" style="mix-blend-mode:screen"/>
<ellipse transform="rotate(47 710.1 958.5)" cx="710.1" cy="958.5" rx="4.0" ry="2.4" fill="rgb(11,11,11)" style="mix-blend-mode:screen"/>
<ellipse transform="rotate(96 712.7 962.2)" cx="712.7" cy="962.2" rx="2.9" ry="2.7" fill="rgb(10,10,10)" style="mix-blend-mode:screen"/>
</g><g filter="url(#b2)" style="mix-blend-mode:screen">
<circle cx="670.8" cy="806.1" r="1.6" fill="rgb(90,90,90)"/>
<circle cx="665.2" cy="807.8" r="0.9" fill="rgb(85,85,85)"/>
<circle cx="658.6" cy="806.8" r="1.4" fill="rgb(94,94,94)"/>
<circle cx="664.8" cy="802.8" r="1.2" fill="rgb(87,87,87)"/>
<circle cx="663.7" cy="805.4" r="1.0" fill="rgb(89,89,89)"/>
<circle cx="658.2" cy="804.1" r="1.6" fill="rgb(63,63,63)"/>
<circle cx="710.9" cy="796.3" r="1.1" fill="rgb(56,56,56)"/>
<circle cx="705.3" cy="794.7" r="1.5" fill="rgb(66,66,66)"/>
<circle cx="714.9" cy="795.8" r="1.8" fill="rgb(70,70,70)"/>
<circle cx="715.0" cy="786.5" r="1.2" fill="rgb(54,54,54)"/>
<circle cx="711.4" cy="790.4" r="1.3" fill="rgb(74,74,74)"/>
<circle cx="721.4" cy="793.7" r="1.0" fill="rgb(82,82,82)"/>
<circle cx="591.7" cy="931.0" r="1.3" fill="rgb(63,63,63)"/>
<circle cx="592.9" cy="936.4" r="1.5" fill="rgb(63,63,63)"/>
<circle cx="593.9" cy="935.1" r="1.1" fill="rgb(74,74,74)"/>
<circle cx="599.5" cy="931.0" r="1.1" fill="rgb(74,74,74)"/>
<circle cx="594.4" cy="932.1" r="0.9" fill="rgb(55,55,55)"/>
<circle cx="590.8" cy="926.3" r="1.2" fill="rgb(56,56,56)"/>
<circle cx="728.6" cy="884.1" r="0.8" fill="rgb(55,55,55)"/>
<circle cx="611.6" cy="766.0" r="0.7" fill="rgb(74,74,74)"/>
<circle cx="742.9" cy="842.3" r="1.1" fill="rgb(80,80,80)"/>
<circle cx="716.5" cy="941.7" r="0.9" fill="rgb(73,73,73)"/>
<circle cx="655.5" cy="738.6" r="1.2" fill="rgb(74,74,74)"/>
<circle cx="753.5" cy="933.8" r="1.1" fill="rgb(89,89,89)"/>
<circle cx="587.8" cy="818.1" r="1.1" fill="rgb(70,70,70)"/>
<circle cx="602.9" cy="829.9" r="1.2" fill="rgb(80,80,80)"/>
<circle cx="726.5" cy="888.8" r="1.2" fill="rgb(59,59,59)"/>
<circle cx="739.9" cy="872.9" r="1.0" fill="rgb(71,71,71)"/>
<circle cx="609.0" cy="914.6" r="1.0" fill="rgb(109,109,109)"/>
<circle cx="707.6" cy="945.3" r="1.4" fill="rgb(61,61,61)"/>
<circle cx="692.5" cy="784.6" r="0.8" fill="rgb(54,54,54)"/>
<circle cx="683.8" cy="910.4" r="1.3" fill="rgb(69,69,69)"/>
<circle cx="646.7" cy="851.4" r="1.4" fill="rgb(57,57,57)"/>
<circle cx="607.9" cy="962.6" r="1.0" fill="rgb(82,82,82)"/>
<circle cx="681.0" cy="801.3" r="1.4" fill="rgb(104,104,104)"/>
<circle cx="725.2" cy="886.3" r="1.3" fill="rgb(57,57,57)"/>
</g></g>
<g clip-path="url(#ct4)"><rect x="766.5" y="702.7" width="177.5" height="288.1" fill="#000"/><g filter="url(#b3)">
<ellipse cx="784" cy="782" rx="14.4" ry="9.0" fill="rgb(44,44,44)" style="mix-blend-mode:screen"/>
<ellipse transform="rotate(103 781.0 785.6)" cx="781.0" cy="785.6" rx="10.5" ry="4.0" fill="rgb(37,37,37)" style="mix-blend-mode:screen"/>
<ellipse transform="rotate(32 784.7 778.2)" cx="784.7" cy="778.2" rx="11.1" ry="5.8" fill="rgb(34,34,34)" style="mix-blend-mode:screen"/>
<ellipse cx="824" cy="891" rx="10.8" ry="7.2" fill="rgb(44,44,44)" style="mix-blend-mode:screen"/>
<ellipse transform="rotate(133 825.7 889.6)" cx="825.7" cy="889.6" rx="6.5" ry="4.0" fill="rgb(44,44,44)" style="mix-blend-mode:screen"/>
<ellipse transform="rotate(84 827.3 887.5)" cx="827.3" cy="887.5" rx="5.8" ry="3.6" fill="rgb(36,36,36)" style="mix-blend-mode:screen"/>
<ellipse cx="807" cy="888" rx="7.2" ry="5.4" fill="rgb(25,25,25)" style="mix-blend-mode:screen"/>
<ellipse transform="rotate(47 807.5 886.2)" cx="807.5" cy="886.2" rx="4.7" ry="2.6" fill="rgb(24,24,24)" style="mix-blend-mode:screen"/>
<ellipse transform="rotate(26 808.0 885.5)" cx="808.0" cy="885.5" rx="5.5" ry="3.0" fill="rgb(25,25,25)" style="mix-blend-mode:screen"/>
<ellipse cx="819" cy="946" rx="16.2" ry="8.1" fill="rgb(41,41,41)" style="mix-blend-mode:screen"/>
<ellipse transform="rotate(124 818.5 945.3)" cx="818.5" cy="945.3" rx="11.5" ry="4.8" fill="rgb(40,40,40)" style="mix-blend-mode:screen"/>
<ellipse transform="rotate(154 818.8 950.0)" cx="818.8" cy="950.0" rx="9.9" ry="4.1" fill="rgb(44,44,44)" style="mix-blend-mode:screen"/>
<ellipse cx="898" cy="946" rx="14.4" ry="9.0" fill="rgb(32,32,32)" style="mix-blend-mode:screen"/>
<ellipse transform="rotate(95 898.9 949.6)" cx="898.9" cy="949.6" rx="8.9" ry="5.8" fill="rgb(30,30,30)" style="mix-blend-mode:screen"/>
<ellipse transform="rotate(162 895.4 942.0)" cx="895.4" cy="942.0" rx="10.1" ry="5.0" fill="rgb(32,32,32)" style="mix-blend-mode:screen"/>
<ellipse cx="922" cy="938" rx="9.0" ry="7.2" fill="rgb(51,51,51)" style="mix-blend-mode:screen"/>
<ellipse transform="rotate(13 924.3 936.6)" cx="924.3" cy="936.6" rx="4.8" ry="3.7" fill="rgb(49,49,49)" style="mix-blend-mode:screen"/>
<ellipse transform="rotate(125 922.0 937.3)" cx="922.0" cy="937.3" rx="5.8" ry="3.3" fill="rgb(39,39,39)" style="mix-blend-mode:screen"/>
<ellipse cx="935" cy="764" rx="7.2" ry="7.2" fill="rgb(38,38,38)" style="mix-blend-mode:screen"/>
<ellipse transform="rotate(12 933.6 763.2)" cx="933.6" cy="763.2" rx="5.4" ry="4.7" fill="rgb(32,32,32)" style="mix-blend-mode:screen"/>
<ellipse transform="rotate(145 936.2 766.6)" cx="936.2" cy="766.6" rx="4.0" ry="4.3" fill="rgb(34,34,34)" style="mix-blend-mode:screen"/>
<ellipse cx="790" cy="983" rx="9.0" ry="7.2" fill="rgb(35,35,35)" style="mix-blend-mode:screen"/>
<ellipse transform="rotate(143 790.6 985.9)" cx="790.6" cy="985.9" rx="4.8" ry="3.9" fill="rgb(27,27,27)" style="mix-blend-mode:screen"/>
<ellipse transform="rotate(54 794.1 979.4)" cx="794.1" cy="979.4" rx="5.3" ry="2.9" fill="rgb(29,29,29)" style="mix-blend-mode:screen"/>
<ellipse cx="930" cy="830" rx="4.5" ry="4.5" fill="rgb(76,76,76)" style="mix-blend-mode:screen"/>
<ellipse transform="rotate(64 931.8 831.4)" cx="931.8" cy="831.4" rx="3.0" ry="1.8" fill="rgb(69,69,69)" style="mix-blend-mode:screen"/>
<ellipse transform="rotate(90 927.9 831.8)" cx="927.9" cy="831.8" rx="3.4" ry="3.0" fill="rgb(66,66,66)" style="mix-blend-mode:screen"/>
<ellipse cx="885" cy="830" rx="3.6" ry="3.6" fill="rgb(76,76,76)" style="mix-blend-mode:screen"/>
<ellipse transform="rotate(166 884.9 828.9)" cx="884.9" cy="828.9" rx="2.7" ry="1.6" fill="rgb(66,66,66)" style="mix-blend-mode:screen"/>
<ellipse transform="rotate(31 886.2 829.5)" cx="886.2" cy="829.5" rx="2.7" ry="2.4" fill="rgb(71,71,71)" style="mix-blend-mode:screen"/>
<ellipse cx="815" cy="810" rx="5.4" ry="5.4" fill="rgb(25,25,25)" style="mix-blend-mode:screen"/>
<ellipse transform="rotate(158 813.4 810.7)" cx="813.4" cy="810.7" rx="2.8" ry="2.3" fill="rgb(21,21,21)" style="mix-blend-mode:screen"/>
<ellipse transform="rotate(157 816.2 809.0)" cx="816.2" cy="809.0" rx="3.8" ry="2.3" fill="rgb(27,27,27)" style="mix-blend-mode:screen"/>
</g><g filter="url(#b2)" style="mix-blend-mode:screen">
<circle cx="779.3" cy="773.6" r="0.9" fill="rgb(65,65,65)"/>
<circle cx="784.8" cy="784.9" r="1.0" fill="rgb(74,74,74)"/>
<circle cx="785.5" cy="784.0" r="1.6" fill="rgb(72,72,72)"/>
<circle cx="777.0" cy="786.5" r="1.4" fill="rgb(80,80,80)"/>
<circle cx="784.6" cy="784.8" r="1.5" fill="rgb(81,81,81)"/>
<circle cx="782.4" cy="788.0" r="1.8" fill="rgb(53,53,53)"/>
<circle cx="818.4" cy="892.5" r="0.8" fill="rgb(68,68,68)"/>
<circle cx="821.4" cy="889.7" r="1.6" fill="rgb(58,58,58)"/>
<circle cx="826.8" cy="892.1" r="1.0" fill="rgb(75,75,75)"/>
<circle cx="822.9" cy="895.1" r="1.7" fill="rgb(56,56,56)"/>
<circle cx="824.4" cy="891.0" r="1.6" fill="rgb(65,65,65)"/>
<circle cx="816.1" cy="895.7" r="1.0" fill="rgb(67,67,67)"/>
<circle cx="808.6" cy="944.1" r="1.5" fill="rgb(58,58,58)"/>
<circle cx="820.8" cy="941.7" r="1.6" fill="rgb(62,62,62)"/>
<circle cx="815.4" cy="941.9" r="1.0" fill="rgb(76,76,76)"/>
<circle cx="819.5" cy="944.6" r="1.0" fill="rgb(65,65,65)"/>
<circle cx="806.7" cy="948.4" r="1.6" fill="rgb(71,71,71)"/>
<circle cx="819.7" cy="950.2" r="1.4" fill="rgb(53,53,53)"/>
<circle cx="921.7" cy="938.0" r="1.5" fill="rgb(80,80,80)"/>
<circle cx="914.6" cy="935.1" r="1.0" fill="rgb(64,64,64)"/>
<circle cx="926.7" cy="938.4" r="1.2" fill="rgb(74,74,74)"/>
<circle cx="921.4" cy="944.0" r="1.7" fill="rgb(60,60,60)"/>
<circle cx="917.3" cy="936.3" r="1.0" fill="rgb(87,87,87)"/>
<circle cx="923.8" cy="939.9" r="1.1" fill="rgb(59,59,59)"/>
<circle cx="928.2" cy="828.3" r="1.4" fill="rgb(101,101,101)"/>
<circle cx="933.3" cy="832.1" r="1.1" fill="rgb(96,96,96)"/>
<circle cx="931.8" cy="832.8" r="1.6" fill="rgb(134,134,134)"/>
<circle cx="931.8" cy="830.7" r="1.0" fill="rgb(107,107,107)"/>
<circle cx="930.2" cy="830.0" r="1.6" fill="rgb(114,114,114)"/>
<circle cx="930.7" cy="829.9" r="1.5" fill="rgb(112,112,112)"/>
<circle cx="931.1" cy="830.3" r="0.9" fill="rgb(137,137,137)"/>
<circle cx="884.1" cy="830.7" r="0.9" fill="rgb(110,110,110)"/>
<circle cx="888.7" cy="830.8" r="1.5" fill="rgb(130,130,130)"/>
<circle cx="885.1" cy="831.0" r="1.0" fill="rgb(118,118,118)"/>
<circle cx="881.6" cy="830.8" r="1.1" fill="rgb(107,107,107)"/>
<circle cx="887.3" cy="829.7" r="1.2" fill="rgb(88,88,88)"/>
<circle cx="884.9" cy="829.8" r="1.5" fill="rgb(106,106,106)"/>
<circle cx="886.5" cy="828.3" r="1.3" fill="rgb(137,137,137)"/>
<circle cx="836.7" cy="947.2" r="1.2" fill="rgb(72,72,72)"/>
<circle cx="805.9" cy="822.3" r="1.0" fill="rgb(61,61,61)"/>
<circle cx="796.9" cy="786.0" r="1.0" fill="rgb(62,62,62)"/>
<circle cx="822.0" cy="847.4" r="1.1" fill="rgb(109,109,109)"/>
<circle cx="918.2" cy="786.3" r="0.7" fill="rgb(72,72,72)"/>
<circle cx="888.5" cy="826.2" r="0.6" fill="rgb(66,66,66)"/>
<circle cx="800.1" cy="800.8" r="1.3" fill="rgb(73,73,73)"/>
<circle cx="892.6" cy="802.4" r="0.7" fill="rgb(71,71,71)"/>
<circle cx="931.0" cy="825.4" r="1.2" fill="rgb(95,95,95)"/>
<circle cx="925.9" cy="739.8" r="0.9" fill="rgb(69,69,69)"/>
<circle cx="782.9" cy="957.1" r="1.2" fill="rgb(69,69,69)"/>
<circle cx="858.6" cy="748.5" r="0.8" fill="rgb(73,73,73)"/>
<circle cx="775.6" cy="772.7" r="0.6" fill="rgb(85,85,85)"/>
<circle cx="822.7" cy="841.6" r="0.7" fill="rgb(82,82,82)"/>
<circle cx="891.1" cy="800.3" r="1.1" fill="rgb(93,93,93)"/>
<circle cx="794.0" cy="786.3" r="1.2" fill="rgb(66,66,66)"/>
<circle cx="838.8" cy="832.1" r="0.8" fill="rgb(101,101,101)"/>
<circle cx="819.2" cy="821.7" r="0.6" fill="rgb(62,62,62)"/>
</g></g>
<g clip-path="url(#ct5)"><rect x="951.9" y="702.7" width="177.1" height="288.1" fill="#000"/><g filter="url(#b3)">
<ellipse cx="1074" cy="834" rx="9.9" ry="12.6" fill="rgb(57,57,57)" style="mix-blend-mode:screen"/>
<ellipse transform="rotate(146 1069.3 835.6)" cx="1069.3" cy="835.6" rx="7.6" ry="5.9" fill="rgb(55,55,55)" style="mix-blend-mode:screen"/>
<ellipse transform="rotate(124 1075.7 839.3)" cx="1075.7" cy="839.3" rx="6.8" ry="8.2" fill="rgb(47,47,47)" style="mix-blend-mode:screen"/>
<ellipse cx="1046" cy="752" rx="5.4" ry="7.2" fill="rgb(44,44,44)" style="mix-blend-mode:screen"/>
<ellipse transform="rotate(16 1048.0 750.1)" cx="1048.0" cy="750.1" rx="3.3" ry="3.6" fill="rgb(44,44,44)" style="mix-blend-mode:screen"/>
<ellipse transform="rotate(89 1043.6 751.2)" cx="1043.6" cy="751.2" rx="3.1" ry="3.1" fill="rgb(39,39,39)" style="mix-blend-mode:screen"/>
<ellipse cx="975" cy="763" rx="5.4" ry="8.1" fill="rgb(32,32,32)" style="mix-blend-mode:screen"/>
<ellipse transform="rotate(120 974.5 762.8)" cx="974.5" cy="762.8" rx="3.1" ry="3.4" fill="rgb(26,26,26)" style="mix-blend-mode:screen"/>
<ellipse transform="rotate(105 974.1 762.4)" cx="974.1" cy="762.4" rx="3.8" ry="4.4" fill="rgb(25,25,25)" style="mix-blend-mode:screen"/>
<ellipse cx="1032" cy="871" rx="10.8" ry="7.2" fill="rgb(28,28,28)" style="mix-blend-mode:screen"/>
<ellipse transform="rotate(66 1034.2 867.6)" cx="1034.2" cy="867.6" rx="5.6" ry="3.6" fill="rgb(25,25,25)" style="mix-blend-mode:screen"/>
<ellipse transform="rotate(84 1027.2 871.0)" cx="1027.2" cy="871.0" rx="6.4" ry="3.3" fill="rgb(27,27,27)" style="mix-blend-mode:screen"/>
<ellipse cx="1000" cy="931" rx="6.3" ry="7.2" fill="rgb(70,70,70)" style="mix-blend-mode:screen"/>
<ellipse transform="rotate(102 997.0 929.9)" cx="997.0" cy="929.9" rx="3.6" ry="4.1" fill="rgb(76,76,76)" style="mix-blend-mode:screen"/>
<ellipse transform="rotate(172 998.0 930.8)" cx="998.0" cy="930.8" rx="3.8" ry="4.0" fill="rgb(69,69,69)" style="mix-blend-mode:screen"/>
<ellipse cx="1040" cy="947" rx="8.1" ry="5.4" fill="rgb(70,70,70)" style="mix-blend-mode:screen"/>
<ellipse transform="rotate(112 1043.6 948.5)" cx="1043.6" cy="948.5" rx="5.0" ry="2.7" fill="rgb(69,69,69)" style="mix-blend-mode:screen"/>
<ellipse transform="rotate(69 1038.2 948.8)" cx="1038.2" cy="948.8" rx="6.1" ry="2.2" fill="rgb(76,76,76)" style="mix-blend-mode:screen"/>
<ellipse cx="975" cy="980" rx="10.8" ry="7.2" fill="rgb(25,25,25)" style="mix-blend-mode:screen"/>
<ellipse transform="rotate(65 971.1 980.1)" cx="971.1" cy="980.1" rx="8.3" ry="3.1" fill="rgb(22,22,22)" style="mix-blend-mode:screen"/>
<ellipse transform="rotate(42 971.7 978.0)" cx="971.7" cy="978.0" rx="5.4" ry="3.9" fill="rgb(25,25,25)" style="mix-blend-mode:screen"/>
<ellipse cx="958" cy="730" rx="6.3" ry="8.1" fill="rgb(38,38,38)" style="mix-blend-mode:screen"/>
<ellipse transform="rotate(117 957.3 727.9)" cx="957.3" cy="727.9" rx="4.1" ry="4.6" fill="rgb(35,35,35)" style="mix-blend-mode:screen"/>
<ellipse transform="rotate(60 958.4 732.7)" cx="958.4" cy="732.7" rx="3.8" ry="5.1" fill="rgb(42,42,42)" style="mix-blend-mode:screen"/>
<ellipse cx="1097" cy="906" rx="10.8" ry="5.4" fill="rgb(22,22,22)" style="mix-blend-mode:screen"/>
<ellipse transform="rotate(124 1095.0 907.2)" cx="1095.0" cy="907.2" rx="8.3" ry="3.3" fill="rgb(22,22,22)" style="mix-blend-mode:screen"/>
<ellipse transform="rotate(101 1093.3 906.7)" cx="1093.3" cy="906.7" rx="6.5" ry="2.5" fill="rgb(20,20,20)" style="mix-blend-mode:screen"/>
<ellipse cx="980" cy="830" rx="5.4" ry="10.8" fill="rgb(19,19,19)" style="mix-blend-mode:screen"/>
<ellipse transform="rotate(45 981.3 830.4)" cx="981.3" cy="830.4" rx="3.2" ry="4.7" fill="rgb(16,16,16)" style="mix-blend-mode:screen"/>
<ellipse transform="rotate(12 980.1 826.0)" cx="980.1" cy="826.0" rx="2.9" ry="6.3" fill="rgb(14,14,14)" style="mix-blend-mode:screen"/>
</g><g filter="url(#b2)" style="mix-blend-mode:screen">
<circle cx="1077.6" cy="837.9" r="1.3" fill="rgb(98,98,98)"/>
<circle cx="1078.7" cy="843.8" r="0.9" fill="rgb(102,102,102)"/>
<circle cx="1073.9" cy="840.7" r="1.2" fill="rgb(99,99,99)"/>
<circle cx="1073.4" cy="830.7" r="1.1" fill="rgb(95,95,95)"/>
<circle cx="1070.0" cy="842.7" r="1.6" fill="rgb(101,101,101)"/>
<circle cx="1070.0" cy="831.7" r="1.4" fill="rgb(95,95,95)"/>
<circle cx="1048.2" cy="746.7" r="1.2" fill="rgb(54,54,54)"/>
<circle cx="1045.4" cy="750.5" r="0.8" fill="rgb(56,56,56)"/>
<circle cx="1041.4" cy="748.3" r="0.9" fill="rgb(83,83,83)"/>
<circle cx="1045.1" cy="749.1" r="1.2" fill="rgb(71,71,71)"/>
<circle cx="1051.1" cy="748.9" r="1.5" fill="rgb(52,52,52)"/>
<circle cx="1046.2" cy="752.2" r="1.5" fill="rgb(60,60,60)"/>
<circle cx="1000.8" cy="931.0" r="0.8" fill="rgb(96,96,96)"/>
<circle cx="996.9" cy="930.0" r="1.1" fill="rgb(98,98,98)"/>
<circle cx="1001.7" cy="924.9" r="1.2" fill="rgb(94,94,94)"/>
<circle cx="996.2" cy="927.1" r="1.2" fill="rgb(130,130,130)"/>
<circle cx="998.7" cy="927.1" r="0.9" fill="rgb(121,121,121)"/>
<circle cx="1000.3" cy="931.7" r="1.1" fill="rgb(128,128,128)"/>
<circle cx="999.2" cy="931.1" r="0.8" fill="rgb(96,96,96)"/>
<circle cx="1038.9" cy="946.7" r="1.1" fill="rgb(112,112,112)"/>
<circle cx="1040.6" cy="949.7" r="1.1" fill="rgb(98,98,98)"/>
<circle cx="1040.5" cy="947.1" r="1.1" fill="rgb(126,126,126)"/>
<circle cx="1041.4" cy="947.5" r="1.8" fill="rgb(104,104,104)"/>
<circle cx="1042.2" cy="951.7" r="1.2" fill="rgb(104,104,104)"/>
<circle cx="1041.2" cy="944.9" r="1.4" fill="rgb(82,82,82)"/>
<circle cx="1037.1" cy="944.0" r="1.7" fill="rgb(93,93,93)"/>
<circle cx="1103.6" cy="985.4" r="1.3" fill="rgb(76,76,76)"/>
<circle cx="1079.4" cy="779.0" r="0.7" fill="rgb(51,51,51)"/>
<circle cx="974.5" cy="753.5" r="1.2" fill="rgb(71,71,71)"/>
<circle cx="1007.6" cy="864.3" r="0.8" fill="rgb(50,50,50)"/>
<circle cx="1119.9" cy="737.5" r="1.2" fill="rgb(81,81,81)"/>
<circle cx="1091.0" cy="920.1" r="1.2" fill="rgb(73,73,73)"/>
<circle cx="1097.2" cy="928.2" r="0.7" fill="rgb(109,109,109)"/>
<circle cx="1118.4" cy="836.1" r="0.8" fill="rgb(92,92,92)"/>
<circle cx="1111.4" cy="740.6" r="0.8" fill="rgb(84,84,84)"/>
<circle cx="1021.1" cy="827.8" r="1.2" fill="rgb(89,89,89)"/>
<circle cx="1017.0" cy="895.5" r="0.8" fill="rgb(71,71,71)"/>
<circle cx="1110.6" cy="815.8" r="0.9" fill="rgb(55,55,55)"/>
<circle cx="1082.3" cy="788.0" r="1.0" fill="rgb(94,94,94)"/>
<circle cx="1071.6" cy="779.4" r="0.7" fill="rgb(56,56,56)"/>
<circle cx="1014.5" cy="843.3" r="1.0" fill="rgb(50,50,50)"/>
<circle cx="1023.7" cy="815.7" r="1.4" fill="rgb(82,82,82)"/>
<circle cx="989.3" cy="956.7" r="1.2" fill="rgb(69,69,69)"/>
<circle cx="972.7" cy="983.6" r="1.4" fill="rgb(75,75,75)"/>
</g></g>
<g clip-path="url(#ct6)"><rect x="1137.3" y="702.7" width="178.0" height="288.1" fill="#000"/><g filter="url(#b3)">
<ellipse cx="1292" cy="871" rx="7.2" ry="10.8" fill="rgb(83,83,83)" style="mix-blend-mode:screen"/>
<ellipse transform="rotate(32 1290.0 870.0)" cx="1290.0" cy="870.0" rx="4.1" ry="6.2" fill="rgb(84,84,84)" style="mix-blend-mode:screen"/>
<ellipse transform="rotate(64 1295.2 869.1)" cx="1295.2" cy="869.1" rx="5.6" ry="4.6" fill="rgb(68,68,68)" style="mix-blend-mode:screen"/>
<ellipse cx="1195" cy="901" rx="6.3" ry="14.4" fill="rgb(57,57,57)" style="mix-blend-mode:screen"/>
<ellipse transform="rotate(38 1195.8 899.2)" cx="1195.8" cy="899.2" rx="4.2" ry="9.2" fill="rgb(57,57,57)" style="mix-blend-mode:screen"/>
<ellipse transform="rotate(102 1197.2 902.9)" cx="1197.2" cy="902.9" rx="3.3" ry="8.9" fill="rgb(54,54,54)" style="mix-blend-mode:screen"/>
<ellipse cx="1287" cy="790" rx="9.0" ry="8.1" fill="rgb(51,51,51)" style="mix-blend-mode:screen"/>
<ellipse transform="rotate(75 1288.7 789.6)" cx="1288.7" cy="789.6" rx="5.5" ry="3.7" fill="rgb(51,51,51)" style="mix-blend-mode:screen"/>
<ellipse transform="rotate(6 1287.9 790.6)" cx="1287.9" cy="790.6" rx="6.1" ry="4.2" fill="rgb(48,48,48)" style="mix-blend-mode:screen"/>
<ellipse cx="1197" cy="820" rx="9.0" ry="7.2" fill="rgb(38,38,38)" style="mix-blend-mode:screen"/>
<ellipse transform="rotate(27 1197.8 820.7)" cx="1197.8" cy="820.7" rx="5.7" ry="4.8" fill="rgb(42,42,42)" style="mix-blend-mode:screen"/>
<ellipse transform="rotate(178 1199.1 818.7)" cx="1199.1" cy="818.7" rx="5.5" ry="4.5" fill="rgb(39,39,39)" style="mix-blend-mode:screen"/>
<ellipse cx="1268" cy="769" rx="6.3" ry="5.4" fill="rgb(57,57,57)" style="mix-blend-mode:screen"/>
<ellipse transform="rotate(42 1265.6 771.6)" cx="1265.6" cy="771.6" rx="4.6" ry="3.1" fill="rgb(53,53,53)" style="mix-blend-mode:screen"/>
<ellipse transform="rotate(92 1270.8 770.8)" cx="1270.8" cy="770.8" rx="4.9" ry="2.2" fill="rgb(60,60,60)" style="mix-blend-mode:screen"/>
<ellipse cx="1231" cy="792" rx="7.2" ry="5.4" fill="rgb(28,28,28)" style="mix-blend-mode:screen"/>
<ellipse transform="rotate(145 1233.7 793.1)" cx="1233.7" cy="793.1" rx="4.5" ry="2.9" fill="rgb(24,24,24)" style="mix-blend-mode:screen"/>
<ellipse transform="rotate(116 1233.6 790.4)" cx="1233.6" cy="790.4" rx="3.7" ry="2.9" fill="rgb(24,24,24)" style="mix-blend-mode:screen"/>
<ellipse cx="1245" cy="973" rx="7.2" ry="9.0" fill="rgb(60,60,60)" style="mix-blend-mode:screen"/>
<ellipse transform="rotate(144 1247.1 972.9)" cx="1247.1" cy="972.9" rx="5.3" ry="5.4" fill="rgb(51,51,51)" style="mix-blend-mode:screen"/>
<ellipse transform="rotate(27 1245.4 976.7)" cx="1245.4" cy="976.7" rx="4.3" ry="3.8" fill="rgb(63,63,63)" style="mix-blend-mode:screen"/>
<ellipse cx="1162" cy="871" rx="9.0" ry="7.2" fill="rgb(25,25,25)" style="mix-blend-mode:screen"/>
<ellipse transform="rotate(150 1157.8 869.9)" cx="1157.8" cy="869.9" rx="4.8" ry="3.2" fill="rgb(27,27,27)" style="mix-blend-mode:screen"/>
<ellipse transform="rotate(162 1161.0 873.5)" cx="1161.0" cy="873.5" rx="4.7" ry="4.8" fill="rgb(25,25,25)" style="mix-blend-mode:screen"/>
<ellipse cx="1252" cy="718" rx="5.4" ry="7.2" fill="rgb(28,28,28)" style="mix-blend-mode:screen"/>
<ellipse transform="rotate(131 1250.4 718.9)" cx="1250.4" cy="718.9" rx="3.0" ry="4.1" fill="rgb(31,31,31)" style="mix-blend-mode:screen"/>
<ellipse transform="rotate(57 1251.6 714.5)" cx="1251.6" cy="714.5" rx="3.6" ry="3.4" fill="rgb(25,25,25)" style="mix-blend-mode:screen"/>
<ellipse cx="1247" cy="980" rx="4.5" ry="4.5" fill="rgb(38,38,38)" style="mix-blend-mode:screen"/>
<ellipse transform="rotate(23 1247.5 980.9)" cx="1247.5" cy="980.9" rx="3.1" ry="2.3" fill="rgb(31,31,31)" style="mix-blend-mode:screen"/>
<ellipse transform="rotate(110 1245.3 978.3)" cx="1245.3" cy="978.3" rx="2.7" ry="2.0" fill="rgb(42,42,42)" style="mix-blend-mode:screen"/>
<ellipse cx="1243" cy="757" rx="5.4" ry="5.4" fill="rgb(25,25,25)" style="mix-blend-mode:screen"/>
<ellipse transform="rotate(65 1245.7 758.0)" cx="1245.7" cy="758.0" rx="3.2" ry="2.7" fill="rgb(26,26,26)" style="mix-blend-mode:screen"/>
<ellipse transform="rotate(148 1241.1 757.7)" cx="1241.1" cy="757.7" rx="3.3" ry="2.8" fill="rgb(23,23,23)" style="mix-blend-mode:screen"/>
</g><g filter="url(#b2)" style="mix-blend-mode:screen">
<circle cx="1284.8" cy="870.6" r="1.5" fill="rgb(115,115,115)"/>
<circle cx="1292.4" cy="877.6" r="1.7" fill="rgb(111,111,111)"/>
<circle cx="1290.5" cy="880.5" r="1.3" fill="rgb(135,135,135)"/>
<circle cx="1294.7" cy="869.2" r="1.4" fill="rgb(139,139,139)"/>
<circle cx="1291.5" cy="871.2" r="1.1" fill="rgb(119,119,119)"/>
<circle cx="1285.2" cy="874.9" r="1.5" fill="rgb(111,111,111)"/>
<circle cx="1291.1" cy="868.5" r="0.9" fill="rgb(119,119,119)"/>
<circle cx="1293.5" cy="869.2" r="1.1" fill="rgb(119,119,119)"/>
<circle cx="1197.4" cy="889.3" r="1.3" fill="rgb(90,90,90)"/>
<circle cx="1199.8" cy="909.0" r="1.2" fill="rgb(68,68,68)"/>
<circle cx="1191.6" cy="908.8" r="1.1" fill="rgb(93,93,93)"/>
<circle cx="1200.1" cy="892.4" r="1.4" fill="rgb(65,65,65)"/>
<circle cx="1192.6" cy="902.1" r="1.1" fill="rgb(84,84,84)"/>
<circle cx="1193.1" cy="892.9" r="1.8" fill="rgb(106,106,106)"/>
<circle cx="1290.7" cy="789.8" r="1.4" fill="rgb(89,89,89)"/>
<circle cx="1284.1" cy="781.9" r="1.3" fill="rgb(60,60,60)"/>
<circle cx="1281.9" cy="793.3" r="1.8" fill="rgb(65,65,65)"/>
<circle cx="1287.9" cy="793.1" r="1.2" fill="rgb(63,63,63)"/>
<circle cx="1287.0" cy="789.3" r="1.4" fill="rgb(64,64,64)"/>
<circle cx="1282.0" cy="785.6" r="1.6" fill="rgb(67,67,67)"/>
<circle cx="1267.4" cy="764.6" r="1.3" fill="rgb(69,69,69)"/>
<circle cx="1273.7" cy="769.5" r="1.7" fill="rgb(105,105,105)"/>
<circle cx="1270.3" cy="769.3" r="1.3" fill="rgb(87,87,87)"/>
<circle cx="1272.0" cy="771.9" r="1.3" fill="rgb(77,77,77)"/>
<circle cx="1270.7" cy="771.3" r="0.9" fill="rgb(70,70,70)"/>
<circle cx="1266.1" cy="768.9" r="1.0" fill="rgb(98,98,98)"/>
<circle cx="1244.6" cy="973.3" r="1.3" fill="rgb(78,78,78)"/>
<circle cx="1241.7" cy="971.4" r="0.9" fill="rgb(107,107,107)"/>
<circle cx="1245.7" cy="971.8" r="1.3" fill="rgb(112,112,112)"/>
<circle cx="1241.1" cy="976.2" r="1.8" fill="rgb(107,107,107)"/>
<circle cx="1244.9" cy="973.1" r="1.6" fill="rgb(75,75,75)"/>
<circle cx="1244.5" cy="966.3" r="1.3" fill="rgb(75,75,75)"/>
<circle cx="1245.8" cy="973.2" r="1.8" fill="rgb(82,82,82)"/>
<circle cx="1251.2" cy="948.4" r="0.9" fill="rgb(52,52,52)"/>
<circle cx="1152.9" cy="800.5" r="1.3" fill="rgb(56,56,56)"/>
<circle cx="1196.5" cy="858.0" r="1.3" fill="rgb(89,89,89)"/>
<circle cx="1304.0" cy="877.9" r="1.3" fill="rgb(80,80,80)"/>
<circle cx="1207.9" cy="810.2" r="0.8" fill="rgb(94,94,94)"/>
<circle cx="1203.3" cy="842.9" r="0.9" fill="rgb(78,78,78)"/>
<circle cx="1214.2" cy="848.4" r="1.3" fill="rgb(52,52,52)"/>
<circle cx="1150.0" cy="867.8" r="0.9" fill="rgb(82,82,82)"/>
<circle cx="1178.0" cy="759.7" r="0.9" fill="rgb(72,72,72)"/>
<circle cx="1223.5" cy="792.8" r="1.0" fill="rgb(94,94,94)"/>
<circle cx="1140.9" cy="837.2" r="0.6" fill="rgb(107,107,107)"/>
<circle cx="1242.5" cy="976.9" r="1.1" fill="rgb(71,71,71)"/>
<circle cx="1203.5" cy="810.6" r="1.1" fill="rgb(86,86,86)"/>
<circle cx="1194.1" cy="860.2" r="1.2" fill="rgb(80,80,80)"/>
<circle cx="1148.5" cy="758.1" r="0.8" fill="rgb(65,65,65)"/>
<circle cx="1277.7" cy="842.0" r="0.9" fill="rgb(101,101,101)"/>
<circle cx="1189.0" cy="906.1" r="1.4" fill="rgb(55,55,55)"/>
<circle cx="1284.0" cy="817.4" r="1.3" fill="rgb(69,69,69)"/>
</g></g>
<g clip-path="url(#ct7)"><rect x="1357.0" y="702.7" width="182.0" height="288.1" fill="#000"/><g filter="url(#b3)">
<ellipse cx="1396" cy="762" rx="8.1" ry="8.1" fill="rgb(160,160,160)" style="mix-blend-mode:screen"/>
<ellipse transform="rotate(137 1398.3 763.2)" cx="1398.3" cy="763.2" rx="4.2" ry="4.6" fill="rgb(123,123,123)" style="mix-blend-mode:screen"/>
<ellipse transform="rotate(4 1396.4 765.5)" cx="1396.4" cy="765.5" rx="6.2" ry="4.8" fill="rgb(158,158,158)" style="mix-blend-mode:screen"/>
<ellipse cx="1380" cy="797" rx="9.0" ry="8.1" fill="rgb(136,136,136)" style="mix-blend-mode:screen"/>
<ellipse transform="rotate(75 1380.7 793.0)" cx="1380.7" cy="793.0" rx="6.2" ry="5.4" fill="rgb(139,139,139)" style="mix-blend-mode:screen"/>
<ellipse transform="rotate(79 1383.8 793.6)" cx="1383.8" cy="793.6" rx="6.4" ry="4.0" fill="rgb(141,141,141)" style="mix-blend-mode:screen"/>
<ellipse cx="1453" cy="797" rx="9.0" ry="13.5" fill="rgb(136,136,136)" style="mix-blend-mode:screen"/>
<ellipse transform="rotate(58 1452.5 796.1)" cx="1452.5" cy="796.1" rx="6.3" ry="5.5" fill="rgb(108,108,108)" style="mix-blend-mode:screen"/>
<ellipse transform="rotate(99 1449.5 801.5)" cx="1449.5" cy="801.5" rx="4.8" ry="5.7" fill="rgb(135,135,135)" style="mix-blend-mode:screen"/>
<ellipse cx="1516" cy="802" rx="11.7" ry="9.9" fill="rgb(96,96,96)" style="mix-blend-mode:screen"/>
<ellipse transform="rotate(166 1513.8 806.5)" cx="1513.8" cy="806.5" rx="6.5" ry="5.0" fill="rgb(92,92,92)" style="mix-blend-mode:screen"/>
<ellipse transform="rotate(157 1516.4 805.4)" cx="1516.4" cy="805.4" rx="7.4" ry="3.9" fill="rgb(76,76,76)" style="mix-blend-mode:screen"/>
<ellipse cx="1394" cy="823" rx="6.3" ry="7.2" fill="rgb(112,112,112)" style="mix-blend-mode:screen"/>
<ellipse transform="rotate(167 1393.6 822.1)" cx="1393.6" cy="822.1" rx="4.0" ry="4.2" fill="rgb(112,112,112)" style="mix-blend-mode:screen"/>
<ellipse transform="rotate(134 1393.3 825.0)" cx="1393.3" cy="825.0" rx="3.4" ry="4.0" fill="rgb(88,88,88)" style="mix-blend-mode:screen"/>
<ellipse cx="1503" cy="836" rx="7.2" ry="8.1" fill="rgb(136,136,136)" style="mix-blend-mode:screen"/>
<ellipse transform="rotate(63 1500.9 834.8)" cx="1500.9" cy="834.8" rx="4.8" ry="4.3" fill="rgb(110,110,110)" style="mix-blend-mode:screen"/>
<ellipse transform="rotate(64 1502.2 836.6)" cx="1502.2" cy="836.6" rx="4.8" ry="4.2" fill="rgb(144,144,144)" style="mix-blend-mode:screen"/>
<ellipse cx="1477" cy="864" rx="19.8" ry="11.7" fill="rgb(56,56,56)" style="mix-blend-mode:screen"/>
<ellipse transform="rotate(42 1486.5 862.0)" cx="1486.5" cy="862.0" rx="11.3" ry="6.9" fill="rgb(56,56,56)" style="mix-blend-mode:screen"/>
<ellipse transform="rotate(148 1478.5 861.2)" cx="1478.5" cy="861.2" rx="12.0" ry="6.9" fill="rgb(43,43,43)" style="mix-blend-mode:screen"/>
<ellipse cx="1447" cy="934" rx="11.7" ry="8.1" fill="rgb(104,104,104)" style="mix-blend-mode:screen"/>
<ellipse transform="rotate(176 1446.2 935.0)" cx="1446.2" cy="935.0" rx="8.8" ry="4.2" fill="rgb(99,99,99)" style="mix-blend-mode:screen"/>
<ellipse transform="rotate(18 1446.8 931.8)" cx="1446.8" cy="931.8" rx="6.8" ry="5.1" fill="rgb(107,107,107)" style="mix-blend-mode:screen"/>
<ellipse cx="1394" cy="934" rx="11.7" ry="8.1" fill="rgb(56,56,56)" style="mix-blend-mode:screen"/>
<ellipse transform="rotate(99 1388.6 935.6)" cx="1388.6" cy="935.6" rx="6.9" ry="3.5" fill="rgb(53,53,53)" style="mix-blend-mode:screen"/>
<ellipse transform="rotate(18 1399.3 936.1)" cx="1399.3" cy="936.1" rx="8.4" ry="3.6" fill="rgb(58,58,58)" style="mix-blend-mode:screen"/>
<ellipse cx="1514" cy="890" rx="4.5" ry="4.5" fill="rgb(96,96,96)" style="mix-blend-mode:screen"/>
<ellipse transform="rotate(22 1512.6 890.2)" cx="1512.6" cy="890.2" rx="3.2" ry="2.5" fill="rgb(93,93,93)" style="mix-blend-mode:screen"/>
<ellipse transform="rotate(66 1515.8 891.9)" cx="1515.8" cy="891.9" rx="3.4" ry="2.6" fill="rgb(96,96,96)" style="mix-blend-mode:screen"/>
<ellipse cx="1489" cy="955" rx="3.6" ry="3.6" fill="rgb(160,160,160)" style="mix-blend-mode:screen"/>
<ellipse transform="rotate(48 1488.2 956.3)" cx="1488.2" cy="956.3" rx="2.0" ry="1.4" fill="rgb(163,163,163)" style="mix-blend-mode:screen"/>
<ellipse transform="rotate(46 1489.1 954.1)" cx="1489.1" cy="954.1" rx="1.9" ry="1.9" fill="rgb(137,137,137)" style="mix-blend-mode:screen"/>
<ellipse cx="1385" cy="746" rx="7.2" ry="6.3" fill="rgb(88,88,88)" style="mix-blend-mode:screen"/>
<ellipse transform="rotate(92 1383.4 744.6)" cx="1383.4" cy="744.6" rx="5.3" ry="2.7" fill="rgb(75,75,75)" style="mix-blend-mode:screen"/>
<ellipse transform="rotate(98 1387.6 748.2)" cx="1387.6" cy="748.2" rx="5.1" ry="3.4" fill="rgb(86,86,86)" style="mix-blend-mode:screen"/>
<ellipse cx="1365" cy="910" rx="3.6" ry="3.6" fill="rgb(120,120,120)" style="mix-blend-mode:screen"/>
<ellipse transform="rotate(47 1365.6 911.5)" cx="1365.6" cy="911.5" rx="1.9" ry="2.3" fill="rgb(124,124,124)" style="mix-blend-mode:screen"/>
<ellipse transform="rotate(82 1364.5 911.0)" cx="1364.5" cy="911.0" rx="2.2" ry="2.1" fill="rgb(100,100,100)" style="mix-blend-mode:screen"/>
<ellipse cx="1440" cy="820" rx="4.5" ry="4.5" fill="rgb(56,56,56)" style="mix-blend-mode:screen"/>
<ellipse transform="rotate(63 1442.0 820.0)" cx="1442.0" cy="820.0" rx="2.5" ry="2.9" fill="rgb(53,53,53)" style="mix-blend-mode:screen"/>
<ellipse transform="rotate(13 1438.2 822.0)" cx="1438.2" cy="822.0" rx="3.4" ry="1.9" fill="rgb(55,55,55)" style="mix-blend-mode:screen"/>
</g><g filter="url(#b2)" style="mix-blend-mode:screen">
<circle cx="1395.1" cy="761.6" r="1.1" fill="rgb(255,255,255)"/>
<circle cx="1396.4" cy="761.6" r="0.9" fill="rgb(255,255,255)"/>
<circle cx="1400.8" cy="762.9" r="1.5" fill="rgb(255,255,255)"/>
<circle cx="1400.1" cy="756.7" r="0.9" fill="rgb(242,242,242)"/>
<circle cx="1394.4" cy="761.7" r="1.2" fill="rgb(243,243,243)"/>
<circle cx="1394.3" cy="762.0" r="1.2" fill="rgb(255,255,255)"/>
<circle cx="1395.3" cy="762.1" r="1.4" fill="rgb(238,238,238)"/>
<circle cx="1400.7" cy="761.2" r="1.1" fill="rgb(196,196,196)"/>
<circle cx="1392.9" cy="767.2" r="1.8" fill="rgb(255,255,255)"/>
<circle cx="1403.5" cy="759.6" r="1.7" fill="rgb(255,255,255)"/>
<circle cx="1400.2" cy="762.5" r="1.5" fill="rgb(250,250,250)"/>
<circle cx="1392.0" cy="758.6" r="0.9" fill="rgb(255,255,255)"/>
<circle cx="1371.0" cy="796.0" r="0.9" fill="rgb(156,156,156)"/>
<circle cx="1386.2" cy="791.0" r="0.8" fill="rgb(155,155,155)"/>
<circle cx="1383.1" cy="791.8" r="1.4" fill="rgb(206,206,206)"/>
<circle cx="1380.4" cy="790.1" r="0.9" fill="rgb(153,153,153)"/>
<circle cx="1382.5" cy="789.0" r="1.2" fill="rgb(238,238,238)"/>
<circle cx="1378.3" cy="799.5" r="1.6" fill="rgb(154,154,154)"/>
<circle cx="1379.6" cy="802.0" r="1.1" fill="rgb(206,206,206)"/>
<circle cx="1378.0" cy="793.5" r="1.7" fill="rgb(176,176,176)"/>
<circle cx="1380.6" cy="798.1" r="1.3" fill="rgb(178,178,178)"/>
<circle cx="1380.7" cy="794.2" r="1.5" fill="rgb(177,177,177)"/>
<circle cx="1452.7" cy="804.4" r="1.7" fill="rgb(179,179,179)"/>
<circle cx="1453.9" cy="800.0" r="1.1" fill="rgb(183,183,183)"/>
<circle cx="1452.1" cy="787.5" r="1.3" fill="rgb(233,233,233)"/>
<circle cx="1459.4" cy="802.2" r="1.0" fill="rgb(177,177,177)"/>
<circle cx="1444.9" cy="804.2" r="1.2" fill="rgb(190,190,190)"/>
<circle cx="1461.0" cy="789.5" r="0.9" fill="rgb(192,192,192)"/>
<circle cx="1454.8" cy="786.2" r="1.6" fill="rgb(187,187,187)"/>
<circle cx="1451.0" cy="799.8" r="1.5" fill="rgb(213,213,213)"/>
<circle cx="1445.3" cy="798.8" r="1.3" fill="rgb(154,154,154)"/>
<circle cx="1452.5" cy="797.6" r="0.9" fill="rgb(246,246,246)"/>
<circle cx="1519.0" cy="810.8" r="1.7" fill="rgb(177,177,177)"/>
<circle cx="1509.7" cy="810.1" r="1.5" fill="rgb(118,118,118)"/>
<circle cx="1518.2" cy="801.3" r="1.5" fill="rgb(117,117,117)"/>
<circle cx="1522.6" cy="796.9" r="1.3" fill="rgb(176,176,176)"/>
<circle cx="1515.0" cy="802.9" r="1.7" fill="rgb(127,127,127)"/>
<circle cx="1518.1" cy="802.8" r="0.8" fill="rgb(133,133,133)"/>
<circle cx="1515.2" cy="803.8" r="1.3" fill="rgb(116,116,116)"/>
<circle cx="1509.2" cy="800.5" r="1.3" fill="rgb(162,162,162)"/>
<circle cx="1394.5" cy="822.8" r="0.9" fill="rgb(144,144,144)"/>
<circle cx="1392.2" cy="828.4" r="1.3" fill="rgb(203,203,203)"/>
<circle cx="1395.2" cy="825.1" r="1.1" fill="rgb(173,173,173)"/>
<circle cx="1395.7" cy="815.9" r="1.4" fill="rgb(164,164,164)"/>
<circle cx="1395.8" cy="820.1" r="1.7" fill="rgb(142,142,142)"/>
<circle cx="1394.2" cy="823.0" r="1.2" fill="rgb(190,190,190)"/>
<circle cx="1395.0" cy="823.4" r="1.5" fill="rgb(140,140,140)"/>
<circle cx="1394.0" cy="823.1" r="1.6" fill="rgb(144,144,144)"/>
<circle cx="1389.7" cy="823.0" r="1.0" fill="rgb(165,165,165)"/>
<circle cx="1505.3" cy="836.2" r="1.1" fill="rgb(157,157,157)"/>
<circle cx="1500.9" cy="833.9" r="1.4" fill="rgb(201,201,201)"/>
<circle cx="1501.9" cy="838.8" r="1.4" fill="rgb(243,243,243)"/>
<circle cx="1499.4" cy="838.3" r="1.1" fill="rgb(199,199,199)"/>
<circle cx="1504.5" cy="835.0" r="1.7" fill="rgb(248,248,248)"/>
<circle cx="1503.9" cy="835.1" r="1.8" fill="rgb(204,204,204)"/>
<circle cx="1502.7" cy="837.4" r="1.0" fill="rgb(226,226,226)"/>
<circle cx="1502.0" cy="835.3" r="1.1" fill="rgb(249,249,249)"/>
<circle cx="1507.3" cy="839.4" r="1.4" fill="rgb(188,188,188)"/>
<circle cx="1496.0" cy="836.1" r="1.2" fill="rgb(205,205,205)"/>
<circle cx="1487.4" cy="864.1" r="1.4" fill="rgb(74,74,74)"/>
<circle cx="1470.5" cy="859.8" r="1.3" fill="rgb(66,66,66)"/>
<circle cx="1463.7" cy="864.9" r="1.1" fill="rgb(103,103,103)"/>
<circle cx="1475.3" cy="864.4" r="1.0" fill="rgb(96,96,96)"/>
<circle cx="1484.9" cy="855.3" r="1.7" fill="rgb(73,73,73)"/>
<circle cx="1468.1" cy="863.9" r="1.7" fill="rgb(86,86,86)"/>
<circle cx="1441.1" cy="934.3" r="1.6" fill="rgb(139,139,139)"/>
<circle cx="1442.8" cy="933.9" r="1.0" fill="rgb(132,132,132)"/>
<circle cx="1452.0" cy="928.1" r="1.7" fill="rgb(193,193,193)"/>
<circle cx="1443.1" cy="927.7" r="1.6" fill="rgb(172,172,172)"/>
<circle cx="1447.7" cy="932.6" r="1.1" fill="rgb(180,180,180)"/>
<circle cx="1447.4" cy="941.9" r="1.3" fill="rgb(118,118,118)"/>
<circle cx="1441.6" cy="939.6" r="1.7" fill="rgb(164,164,164)"/>
<circle cx="1454.3" cy="931.7" r="1.5" fill="rgb(122,122,122)"/>
<circle cx="1456.4" cy="939.3" r="1.1" fill="rgb(184,184,184)"/>
<circle cx="1397.4" cy="939.5" r="1.8" fill="rgb(94,94,94)"/>
<circle cx="1392.9" cy="933.3" r="0.9" fill="rgb(93,93,93)"/>
<circle cx="1400.4" cy="929.1" r="1.7" fill="rgb(95,95,95)"/>
<circle cx="1383.4" cy="930.6" r="1.3" fill="rgb(89,89,89)"/>
<circle cx="1390.7" cy="936.0" r="1.0" fill="rgb(63,63,63)"/>
<circle cx="1394.8" cy="932.1" r="1.6" fill="rgb(90,90,90)"/>
<circle cx="1513.2" cy="887.7" r="1.1" fill="rgb(130,130,130)"/>
<circle cx="1515.2" cy="892.8" r="1.7" fill="rgb(157,157,157)"/>
<circle cx="1511.9" cy="893.9" r="1.1" fill="rgb(173,173,173)"/>
<circle cx="1516.8" cy="889.1" r="1.6" fill="rgb(177,177,177)"/>
<circle cx="1513.3" cy="891.1" r="1.3" fill="rgb(145,145,145)"/>
<circle cx="1518.0" cy="890.9" r="1.3" fill="rgb(146,146,146)"/>
<circle cx="1514.0" cy="888.8" r="1.4" fill="rgb(122,122,122)"/>
<circle cx="1514.1" cy="891.6" r="0.9" fill="rgb(113,113,113)"/>
<circle cx="1487.8" cy="956.6" r="1.4" fill="rgb(255,255,255)"/>
<circle cx="1487.7" cy="955.8" r="1.3" fill="rgb(208,208,208)"/>
<circle cx="1489.4" cy="954.9" r="1.5" fill="rgb(231,231,231)"/>
<circle cx="1489.2" cy="952.9" r="1.7" fill="rgb(255,255,255)"/>
<circle cx="1489.8" cy="954.5" r="1.8" fill="rgb(244,244,244)"/>
<circle cx="1488.3" cy="954.9" r="0.9" fill="rgb(255,255,255)"/>
<circle cx="1490.2" cy="956.7" r="1.5" fill="rgb(212,212,212)"/>
<circle cx="1488.8" cy="953.8" r="1.4" fill="rgb(255,255,255)"/>
<circle cx="1488.5" cy="953.3" r="0.9" fill="rgb(231,231,231)"/>
<circle cx="1485.4" cy="955.6" r="0.9" fill="rgb(255,255,255)"/>
<circle cx="1489.9" cy="955.4" r="1.2" fill="rgb(255,255,255)"/>
<circle cx="1490.1" cy="956.2" r="1.5" fill="rgb(248,248,248)"/>
<circle cx="1381.0" cy="748.5" r="1.4" fill="rgb(143,143,143)"/>
<circle cx="1390.2" cy="747.4" r="0.9" fill="rgb(107,107,107)"/>
<circle cx="1384.9" cy="746.0" r="1.2" fill="rgb(103,103,103)"/>
<circle cx="1384.2" cy="746.1" r="1.7" fill="rgb(161,161,161)"/>
<circle cx="1380.5" cy="746.3" r="1.8" fill="rgb(119,119,119)"/>
<circle cx="1386.7" cy="747.4" r="1.7" fill="rgb(113,113,113)"/>
<circle cx="1381.9" cy="745.8" r="1.7" fill="rgb(125,125,125)"/>
<circle cx="1384.7" cy="751.3" r="1.2" fill="rgb(145,145,145)"/>
<circle cx="1363.9" cy="911.2" r="1.1" fill="rgb(175,175,175)"/>
<circle cx="1363.9" cy="908.9" r="1.6" fill="rgb(162,162,162)"/>
<circle cx="1363.3" cy="910.5" r="1.3" fill="rgb(214,214,214)"/>
<circle cx="1362.6" cy="912.4" r="1.6" fill="rgb(222,222,222)"/>
<circle cx="1362.9" cy="911.5" r="1.1" fill="rgb(201,201,201)"/>
<circle cx="1364.4" cy="906.4" r="1.5" fill="rgb(194,194,194)"/>
<circle cx="1362.7" cy="911.0" r="1.6" fill="rgb(155,155,155)"/>
<circle cx="1361.4" cy="909.1" r="1.5" fill="rgb(165,165,165)"/>
<circle cx="1366.6" cy="910.2" r="1.1" fill="rgb(203,203,203)"/>
<circle cx="1364.4" cy="909.5" r="1.8" fill="rgb(170,170,170)"/>
<circle cx="1441.4" cy="824.1" r="1.4" fill="rgb(65,65,65)"/>
<circle cx="1441.7" cy="816.4" r="1.4" fill="rgb(79,79,79)"/>
<circle cx="1439.1" cy="816.5" r="1.4" fill="rgb(94,94,94)"/>
<circle cx="1440.0" cy="823.3" r="1.3" fill="rgb(86,86,86)"/>
<circle cx="1440.6" cy="819.9" r="1.1" fill="rgb(95,95,95)"/>
<circle cx="1439.3" cy="815.5" r="1.4" fill="rgb(74,74,74)"/>
<circle cx="1453.0" cy="859.5" r="1.1" fill="rgb(75,75,75)"/>
<circle cx="1518.0" cy="901.9" r="1.2" fill="rgb(93,93,93)"/>
<circle cx="1433.8" cy="771.3" r="1.0" fill="rgb(140,140,140)"/>
<circle cx="1453.3" cy="984.6" r="1.4" fill="rgb(135,135,135)"/>
<circle cx="1421.8" cy="926.0" r="0.8" fill="rgb(61,61,61)"/>
<circle cx="1482.2" cy="908.7" r="0.9" fill="rgb(174,174,174)"/>
<circle cx="1407.7" cy="825.1" r="0.6" fill="rgb(130,130,130)"/>
<circle cx="1425.7" cy="900.4" r="0.8" fill="rgb(72,72,72)"/>
<circle cx="1514.3" cy="970.0" r="0.7" fill="rgb(87,87,87)"/>
<circle cx="1380.0" cy="756.3" r="1.2" fill="rgb(169,169,169)"/>
<circle cx="1406.1" cy="858.0" r="0.6" fill="rgb(154,154,154)"/>
<circle cx="1504.8" cy="951.4" r="1.2" fill="rgb(81,81,81)"/>
<circle cx="1483.5" cy="819.7" r="0.8" fill="rgb(181,181,181)"/>
<circle cx="1443.4" cy="813.8" r="1.2" fill="rgb(116,116,116)"/>
<circle cx="1460.5" cy="888.3" r="0.8" fill="rgb(198,198,198)"/>
<circle cx="1398.6" cy="890.9" r="1.4" fill="rgb(72,72,72)"/>
<circle cx="1419.7" cy="845.6" r="1.3" fill="rgb(114,114,114)"/>
<circle cx="1521.9" cy="905.4" r="0.9" fill="rgb(75,75,75)"/>
<circle cx="1484.7" cy="789.2" r="1.3" fill="rgb(182,182,182)"/>
<circle cx="1399.3" cy="826.5" r="1.2" fill="rgb(84,84,84)"/>
<circle cx="1367.4" cy="910.1" r="1.3" fill="rgb(59,59,59)"/>
<circle cx="1455.7" cy="881.7" r="0.6" fill="rgb(64,64,64)"/>
<circle cx="1421.8" cy="982.9" r="1.3" fill="rgb(140,140,140)"/>
<circle cx="1370.2" cy="760.4" r="1.2" fill="rgb(53,53,53)"/>
<circle cx="1390.4" cy="803.4" r="1.2" fill="rgb(150,150,150)"/>
<circle cx="1416.4" cy="852.5" r="1.0" fill="rgb(93,93,93)"/>
<circle cx="1422.3" cy="825.5" r="0.8" fill="rgb(87,87,87)"/>
<circle cx="1405.4" cy="738.8" r="1.1" fill="rgb(96,96,96)"/>
<circle cx="1406.8" cy="763.2" r="1.0" fill="rgb(176,176,176)"/>
<circle cx="1450.1" cy="813.3" r="1.2" fill="rgb(183,183,183)"/>
<circle cx="1469.8" cy="900.9" r="1.0" fill="rgb(153,153,153)"/>
<circle cx="1432.5" cy="833.0" r="1.0" fill="rgb(125,125,125)"/>
<circle cx="1453.1" cy="869.1" r="1.3" fill="rgb(168,168,168)"/>
<circle cx="1398.9" cy="740.3" r="0.6" fill="rgb(95,95,95)"/>
<circle cx="1500.8" cy="891.1" r="0.8" fill="rgb(92,92,92)"/>
<circle cx="1513.6" cy="945.5" r="1.2" fill="rgb(152,152,152)"/>
<circle cx="1491.5" cy="849.3" r="1.0" fill="rgb(109,109,109)"/>
<circle cx="1515.7" cy="984.6" r="1.3" fill="rgb(187,187,187)"/>
<circle cx="1372.2" cy="797.0" r="1.0" fill="rgb(195,195,195)"/>
<circle cx="1450.6" cy="812.8" r="1.0" fill="rgb(179,179,179)"/>
<circle cx="1535.3" cy="753.7" r="0.6" fill="rgb(198,198,198)"/>
<circle cx="1385.4" cy="832.9" r="0.7" fill="rgb(145,145,145)"/>
<circle cx="1459.1" cy="971.5" r="1.2" fill="rgb(115,115,115)"/>
<circle cx="1464.4" cy="881.5" r="1.0" fill="rgb(75,75,75)"/>
<circle cx="1519.3" cy="904.7" r="1.0" fill="rgb(82,82,82)"/>
</g></g>
<g clip-path="url(#ct8)"><rect x="1547.0" y="702.7" width="176.0" height="288.1" fill="#000"/><g filter="url(#b3)">
<ellipse cx="1623" cy="744" rx="13.5" ry="9.9" fill="rgb(72,72,72)" style="mix-blend-mode:screen"/>
<ellipse transform="rotate(114 1623.6 742.4)" cx="1623.6" cy="742.4" rx="6.8" ry="4.5" fill="rgb(69,69,69)" style="mix-blend-mode:screen"/>
<ellipse transform="rotate(137 1625.1 741.2)" cx="1625.1" cy="741.2" rx="8.0" ry="6.5" fill="rgb(55,55,55)" style="mix-blend-mode:screen"/>
<ellipse cx="1671" cy="761" rx="7.2" ry="9.0" fill="rgb(152,152,152)" style="mix-blend-mode:screen"/>
<ellipse transform="rotate(47 1671.4 757.4)" cx="1671.4" cy="757.4" rx="5.2" ry="5.3" fill="rgb(150,150,150)" style="mix-blend-mode:screen"/>
<ellipse transform="rotate(144 1672.9 757.0)" cx="1672.9" cy="757.0" rx="3.9" ry="4.0" fill="rgb(115,115,115)" style="mix-blend-mode:screen"/>
<ellipse cx="1625" cy="786" rx="8.1" ry="7.2" fill="rgb(128,128,128)" style="mix-blend-mode:screen"/>
<ellipse transform="rotate(172 1621.2 783.6)" cx="1621.2" cy="783.6" rx="4.8" ry="3.3" fill="rgb(118,118,118)" style="mix-blend-mode:screen"/>
<ellipse transform="rotate(111 1627.7 783.7)" cx="1627.7" cy="783.7" rx="6.2" ry="2.9" fill="rgb(126,126,126)" style="mix-blend-mode:screen"/>
<ellipse cx="1638" cy="800" rx="5.4" ry="6.3" fill="rgb(136,136,136)" style="mix-blend-mode:screen"/>
<ellipse transform="rotate(45 1638.3 799.3)" cx="1638.3" cy="799.3" rx="3.8" ry="2.8" fill="rgb(144,144,144)" style="mix-blend-mode:screen"/>
<ellipse transform="rotate(50 1638.0 803.0)" cx="1638.0" cy="803.0" rx="4.1" ry="3.6" fill="rgb(114,114,114)" style="mix-blend-mode:screen"/>
<ellipse cx="1551" cy="802" rx="7.2" ry="9.0" fill="rgb(96,96,96)" style="mix-blend-mode:screen"/>
<ellipse transform="rotate(52 1547.9 799.2)" cx="1547.9" cy="799.2" rx="5.3" ry="5.3" fill="rgb(80,80,80)" style="mix-blend-mode:screen"/>
<ellipse transform="rotate(69 1554.5 803.5)" cx="1554.5" cy="803.5" rx="5.0" ry="4.7" fill="rgb(94,94,94)" style="mix-blend-mode:screen"/>
<ellipse cx="1595" cy="791" rx="13.5" ry="9.0" fill="rgb(32,32,32)" style="mix-blend-mode:screen"/>
<ellipse transform="rotate(96 1589.0 790.9)" cx="1589.0" cy="790.9" rx="6.9" ry="3.6" fill="rgb(28,28,28)" style="mix-blend-mode:screen"/>
<ellipse transform="rotate(27 1601.5 789.8)" cx="1601.5" cy="789.8" rx="9.0" ry="5.8" fill="rgb(27,27,27)" style="mix-blend-mode:screen"/>
<ellipse cx="1626" cy="827" rx="5.4" ry="7.2" fill="rgb(112,112,112)" style="mix-blend-mode:screen"/>
<ellipse transform="rotate(138 1624.3 827.0)" cx="1624.3" cy="827.0" rx="3.5" ry="3.3" fill="rgb(104,104,104)" style="mix-blend-mode:screen"/>
<ellipse transform="rotate(156 1624.3 828.6)" cx="1624.3" cy="828.6" rx="2.8" ry="3.2" fill="rgb(87,87,87)" style="mix-blend-mode:screen"/>
<ellipse cx="1612" cy="846" rx="6.3" ry="8.1" fill="rgb(144,144,144)" style="mix-blend-mode:screen"/>
<ellipse transform="rotate(134 1611.8 848.8)" cx="1611.8" cy="848.8" rx="4.5" ry="4.8" fill="rgb(141,141,141)" style="mix-blend-mode:screen"/>
<ellipse transform="rotate(29 1609.2 848.6)" cx="1609.2" cy="848.6" rx="3.2" ry="3.2" fill="rgb(115,115,115)" style="mix-blend-mode:screen"/>
<ellipse cx="1563" cy="857" rx="14.4" ry="9.0" fill="rgb(44,44,44)" style="mix-blend-mode:screen"/>
<ellipse transform="rotate(8 1568.4 855.9)" cx="1568.4" cy="855.9" rx="10.6" ry="5.0" fill="rgb(34,34,34)" style="mix-blend-mode:screen"/>
<ellipse transform="rotate(52 1569.0 852.8)" cx="1569.0" cy="852.8" rx="8.0" ry="3.8" fill="rgb(34,34,34)" style="mix-blend-mode:screen"/>
<ellipse cx="1660" cy="903" rx="4.5" ry="11.7" fill="rgb(168,168,168)" style="mix-blend-mode:screen"/>
<ellipse transform="rotate(30 1658.7 904.6)" cx="1658.7" cy="904.6" rx="2.9" ry="5.8" fill="rgb(136,136,136)" style="mix-blend-mode:screen"/>
<ellipse transform="rotate(70 1658.4 903.8)" cx="1658.4" cy="903.8" rx="2.8" ry="4.7" fill="rgb(158,158,158)" style="mix-blend-mode:screen"/>
<ellipse cx="1631" cy="980" rx="7.2" ry="7.2" fill="rgb(152,152,152)" style="mix-blend-mode:screen"/>
<ellipse transform="rotate(2 1631.8 977.8)" cx="1631.8" cy="977.8" rx="5.4" ry="4.0" fill="rgb(133,133,133)" style="mix-blend-mode:screen"/>
<ellipse transform="rotate(24 1630.2 980.3)" cx="1630.2" cy="980.3" rx="4.4" ry="4.2" fill="rgb(167,167,167)" style="mix-blend-mode:screen"/>
<ellipse cx="1707" cy="716" rx="7.2" ry="9.0" fill="rgb(88,88,88)" style="mix-blend-mode:screen"/>
<ellipse transform="rotate(7 1706.1 717.9)" cx="1706.1" cy="717.9" rx="4.2" ry="4.2" fill="rgb(95,95,95)" style="mix-blend-mode:screen"/>
<ellipse transform="rotate(166 1708.8 718.6)" cx="1708.8" cy="718.6" rx="4.0" ry="4.5" fill="rgb(89,89,89)" style="mix-blend-mode:screen"/>
<ellipse cx="1707" cy="789" rx="4.5" ry="4.5" fill="rgb(72,72,72)" style="mix-blend-mode:screen"/>
<ellipse transform="rotate(176 1708.6 790.2)" cx="1708.6" cy="790.2" rx="3.2" ry="2.8" fill="rgb(57,57,57)" style="mix-blend-mode:screen"/>
<ellipse transform="rotate(162 1706.4 789.5)" cx="1706.4" cy="789.5" rx="3.0" ry="2.9" fill="rgb(79,79,79)" style="mix-blend-mode:screen"/>
<ellipse cx="1620" cy="912" rx="7.2" ry="7.2" fill="rgb(32,32,32)" style="mix-blend-mode:screen"/>
<ellipse transform="rotate(173 1623.6 914.4)" cx="1623.6" cy="914.4" rx="3.9" ry="3.6" fill="rgb(31,31,31)" style="mix-blend-mode:screen"/>
<ellipse transform="rotate(11 1620.5 909.3)" cx="1620.5" cy="909.3" rx="4.9" ry="3.4" fill="rgb(33,33,33)" style="mix-blend-mode:screen"/>
</g><g filter="url(#b2)" style="mix-blend-mode:screen">
<circle cx="1619.2" cy="749.7" r="1.2" fill="rgb(91,91,91)"/>
<circle cx="1631.8" cy="735.9" r="1.2" fill="rgb(95,95,95)"/>
<circle cx="1622.1" cy="742.1" r="1.0" fill="rgb(126,126,126)"/>
<circle cx="1618.5" cy="742.8" r="0.8" fill="rgb(81,81,81)"/>
<circle cx="1627.7" cy="744.0" r="1.8" fill="rgb(95,95,95)"/>
<circle cx="1622.4" cy="743.5" r="1.0" fill="rgb(119,119,119)"/>
<circle cx="1612.8" cy="744.9" r="1.7" fill="rgb(127,127,127)"/>
<circle cx="1668.9" cy="762.4" r="1.1" fill="rgb(216,216,216)"/>
<circle cx="1670.8" cy="756.6" r="1.0" fill="rgb(249,249,249)"/>
<circle cx="1672.5" cy="752.0" r="1.4" fill="rgb(194,194,194)"/>
<circle cx="1671.1" cy="761.3" r="1.0" fill="rgb(218,218,218)"/>
<circle cx="1670.5" cy="755.6" r="1.8" fill="rgb(247,247,247)"/>
<circle cx="1671.7" cy="761.3" r="1.3" fill="rgb(175,175,175)"/>
<circle cx="1673.3" cy="755.2" r="1.7" fill="rgb(233,233,233)"/>
<circle cx="1670.4" cy="761.8" r="0.8" fill="rgb(244,244,244)"/>
<circle cx="1671.0" cy="761.3" r="0.9" fill="rgb(189,189,189)"/>
<circle cx="1670.0" cy="760.8" r="1.6" fill="rgb(239,239,239)"/>
<circle cx="1670.5" cy="761.9" r="1.5" fill="rgb(247,247,247)"/>
<circle cx="1628.5" cy="783.2" r="1.7" fill="rgb(199,199,199)"/>
<circle cx="1621.3" cy="779.4" r="1.6" fill="rgb(171,171,171)"/>
<circle cx="1622.3" cy="783.4" r="1.3" fill="rgb(145,145,145)"/>
<circle cx="1624.6" cy="790.6" r="1.3" fill="rgb(192,192,192)"/>
<circle cx="1626.0" cy="786.4" r="1.5" fill="rgb(202,202,202)"/>
<circle cx="1631.8" cy="785.6" r="1.3" fill="rgb(171,171,171)"/>
<circle cx="1618.1" cy="785.8" r="1.7" fill="rgb(181,181,181)"/>
<circle cx="1621.6" cy="786.3" r="1.2" fill="rgb(190,190,190)"/>
<circle cx="1625.4" cy="786.0" r="0.9" fill="rgb(182,182,182)"/>
<circle cx="1624.4" cy="785.0" r="1.2" fill="rgb(158,158,158)"/>
<circle cx="1634.5" cy="797.0" r="1.1" fill="rgb(198,198,198)"/>
<circle cx="1634.6" cy="804.4" r="0.8" fill="rgb(174,174,174)"/>
<circle cx="1640.1" cy="797.9" r="0.9" fill="rgb(166,166,166)"/>
<circle cx="1641.3" cy="796.8" r="1.5" fill="rgb(159,159,159)"/>
<circle cx="1638.6" cy="802.9" r="0.9" fill="rgb(214,214,214)"/>
<circle cx="1639.8" cy="799.1" r="1.6" fill="rgb(167,167,167)"/>
<circle cx="1638.2" cy="800.2" r="1.3" fill="rgb(219,219,219)"/>
<circle cx="1641.7" cy="796.9" r="0.8" fill="rgb(174,174,174)"/>
<circle cx="1635.9" cy="798.1" r="1.7" fill="rgb(183,183,183)"/>
<circle cx="1638.9" cy="804.1" r="1.7" fill="rgb(160,160,160)"/>
<circle cx="1555.5" cy="800.1" r="1.5" fill="rgb(131,131,131)"/>
<circle cx="1556.0" cy="797.7" r="1.3" fill="rgb(110,110,110)"/>
<circle cx="1553.6" cy="806.0" r="1.7" fill="rgb(176,176,176)"/>
<circle cx="1551.0" cy="807.2" r="1.0" fill="rgb(130,130,130)"/>
<circle cx="1550.8" cy="794.8" r="1.2" fill="rgb(132,132,132)"/>
<circle cx="1549.2" cy="795.5" r="0.9" fill="rgb(141,141,141)"/>
<circle cx="1552.1" cy="802.9" r="1.3" fill="rgb(167,167,167)"/>
<circle cx="1549.3" cy="799.3" r="1.0" fill="rgb(134,134,134)"/>
<circle cx="1629.4" cy="826.3" r="1.5" fill="rgb(136,136,136)"/>
<circle cx="1623.1" cy="824.3" r="1.4" fill="rgb(190,190,190)"/>
<circle cx="1629.9" cy="821.8" r="1.4" fill="rgb(160,160,160)"/>
<circle cx="1624.4" cy="829.2" r="1.4" fill="rgb(156,156,156)"/>
<circle cx="1624.8" cy="829.1" r="1.6" fill="rgb(197,197,197)"/>
<circle cx="1623.9" cy="821.3" r="1.4" fill="rgb(158,158,158)"/>
<circle cx="1626.0" cy="829.4" r="1.6" fill="rgb(134,134,134)"/>
<circle cx="1627.5" cy="825.9" r="0.9" fill="rgb(157,157,157)"/>
<circle cx="1628.3" cy="830.8" r="0.9" fill="rgb(200,200,200)"/>
<circle cx="1611.9" cy="852.5" r="1.7" fill="rgb(186,186,186)"/>
<circle cx="1610.1" cy="849.2" r="1.1" fill="rgb(183,183,183)"/>
<circle cx="1610.4" cy="847.1" r="0.8" fill="rgb(240,240,240)"/>
<circle cx="1608.6" cy="840.7" r="1.0" fill="rgb(197,197,197)"/>
<circle cx="1612.4" cy="846.5" r="1.4" fill="rgb(247,247,247)"/>
<circle cx="1615.0" cy="846.4" r="1.1" fill="rgb(226,226,226)"/>
<circle cx="1614.7" cy="846.8" r="1.8" fill="rgb(200,200,200)"/>
<circle cx="1608.1" cy="852.1" r="1.4" fill="rgb(255,255,255)"/>
<circle cx="1615.8" cy="850.9" r="1.4" fill="rgb(171,171,171)"/>
<circle cx="1612.5" cy="846.5" r="1.0" fill="rgb(206,206,206)"/>
<circle cx="1615.8" cy="845.8" r="1.8" fill="rgb(255,255,255)"/>
<circle cx="1563.5" cy="850.9" r="1.6" fill="rgb(65,65,65)"/>
<circle cx="1561.8" cy="855.7" r="1.2" fill="rgb(66,66,66)"/>
<circle cx="1552.2" cy="856.3" r="1.4" fill="rgb(72,72,72)"/>
<circle cx="1566.0" cy="849.4" r="0.9" fill="rgb(52,52,52)"/>
<circle cx="1565.3" cy="857.4" r="1.1" fill="rgb(81,81,81)"/>
<circle cx="1556.4" cy="858.7" r="1.1" fill="rgb(68,68,68)"/>
<circle cx="1660.3" cy="899.0" r="1.6" fill="rgb(255,255,255)"/>
<circle cx="1662.6" cy="903.0" r="1.7" fill="rgb(200,200,200)"/>
<circle cx="1661.2" cy="904.4" r="1.4" fill="rgb(255,255,255)"/>
<circle cx="1659.0" cy="898.6" r="1.0" fill="rgb(254,254,254)"/>
<circle cx="1658.8" cy="903.7" r="0.9" fill="rgb(255,255,255)"/>
<circle cx="1660.6" cy="904.9" r="1.4" fill="rgb(255,255,255)"/>
<circle cx="1664.7" cy="903.2" r="1.2" fill="rgb(255,255,255)"/>
<circle cx="1662.1" cy="911.6" r="1.0" fill="rgb(255,255,255)"/>
<circle cx="1660.1" cy="892.9" r="1.0" fill="rgb(255,255,255)"/>
<circle cx="1660.6" cy="904.4" r="1.7" fill="rgb(218,218,218)"/>
<circle cx="1661.9" cy="899.9" r="1.2" fill="rgb(205,205,205)"/>
<circle cx="1660.2" cy="911.0" r="1.6" fill="rgb(255,255,255)"/>
<circle cx="1627.8" cy="981.3" r="1.2" fill="rgb(224,224,224)"/>
<circle cx="1626.0" cy="981.4" r="1.1" fill="rgb(252,252,252)"/>
<circle cx="1630.0" cy="979.6" r="1.2" fill="rgb(176,176,176)"/>
<circle cx="1630.8" cy="980.2" r="1.2" fill="rgb(180,180,180)"/>
<circle cx="1637.0" cy="977.7" r="1.1" fill="rgb(174,174,174)"/>
<circle cx="1629.4" cy="981.7" r="1.4" fill="rgb(186,186,186)"/>
<circle cx="1632.5" cy="977.5" r="0.9" fill="rgb(191,191,191)"/>
<circle cx="1636.8" cy="980.6" r="1.5" fill="rgb(197,197,197)"/>
<circle cx="1631.2" cy="979.4" r="1.1" fill="rgb(192,192,192)"/>
<circle cx="1631.7" cy="974.4" r="1.3" fill="rgb(205,205,205)"/>
<circle cx="1628.8" cy="982.8" r="1.1" fill="rgb(255,255,255)"/>
<circle cx="1709.6" cy="707.9" r="1.8" fill="rgb(138,138,138)"/>
<circle cx="1708.2" cy="715.4" r="1.0" fill="rgb(164,164,164)"/>
<circle cx="1707.3" cy="714.9" r="1.2" fill="rgb(118,118,118)"/>
<circle cx="1709.8" cy="710.5" r="1.7" fill="rgb(112,112,112)"/>
<circle cx="1709.6" cy="712.4" r="1.1" fill="rgb(102,102,102)"/>
<circle cx="1706.2" cy="719.8" r="1.4" fill="rgb(161,161,161)"/>
<circle cx="1707.2" cy="715.4" r="1.5" fill="rgb(115,115,115)"/>
<circle cx="1706.1" cy="717.8" r="0.9" fill="rgb(103,103,103)"/>
<circle cx="1704.8" cy="790.4" r="1.4" fill="rgb(102,102,102)"/>
<circle cx="1707.0" cy="789.1" r="1.1" fill="rgb(117,117,117)"/>
<circle cx="1705.2" cy="789.1" r="0.9" fill="rgb(95,95,95)"/>
<circle cx="1706.6" cy="790.4" r="0.8" fill="rgb(87,87,87)"/>
<circle cx="1706.9" cy="789.0" r="1.2" fill="rgb(128,128,128)"/>
<circle cx="1704.7" cy="789.9" r="0.9" fill="rgb(82,82,82)"/>
<circle cx="1707.6" cy="786.4" r="1.1" fill="rgb(107,107,107)"/>
<circle cx="1678.2" cy="861.5" r="1.3" fill="rgb(168,168,168)"/>
<circle cx="1702.7" cy="917.7" r="1.0" fill="rgb(151,151,151)"/>
<circle cx="1640.7" cy="880.7" r="1.3" fill="rgb(128,128,128)"/>
<circle cx="1696.6" cy="747.8" r="1.1" fill="rgb(162,162,162)"/>
<circle cx="1651.9" cy="963.7" r="1.0" fill="rgb(57,57,57)"/>
<circle cx="1613.6" cy="973.8" r="1.1" fill="rgb(74,74,74)"/>
<circle cx="1573.8" cy="924.8" r="1.2" fill="rgb(123,123,123)"/>
<circle cx="1601.8" cy="957.4" r="0.8" fill="rgb(51,51,51)"/>
<circle cx="1675.1" cy="956.3" r="0.8" fill="rgb(166,166,166)"/>
<circle cx="1562.9" cy="913.5" r="0.6" fill="rgb(159,159,159)"/>
<circle cx="1709.8" cy="867.8" r="1.0" fill="rgb(55,55,55)"/>
<circle cx="1607.2" cy="761.0" r="1.3" fill="rgb(182,182,182)"/>
<circle cx="1570.3" cy="847.0" r="1.1" fill="rgb(91,91,91)"/>
<circle cx="1567.9" cy="818.8" r="1.0" fill="rgb(111,111,111)"/>
<circle cx="1623.9" cy="885.0" r="1.3" fill="rgb(191,191,191)"/>
<circle cx="1705.1" cy="943.7" r="0.8" fill="rgb(84,84,84)"/>
<circle cx="1628.1" cy="896.9" r="0.9" fill="rgb(140,140,140)"/>
<circle cx="1719.6" cy="813.4" r="0.7" fill="rgb(52,52,52)"/>
<circle cx="1585.0" cy="918.9" r="0.6" fill="rgb(176,176,176)"/>
<circle cx="1589.8" cy="795.8" r="1.3" fill="rgb(167,167,167)"/>
<circle cx="1594.3" cy="760.5" r="1.4" fill="rgb(195,195,195)"/>
<circle cx="1672.3" cy="853.9" r="1.2" fill="rgb(162,162,162)"/>
<circle cx="1636.6" cy="803.1" r="1.1" fill="rgb(128,128,128)"/>
<circle cx="1604.8" cy="895.9" r="1.4" fill="rgb(72,72,72)"/>
<circle cx="1585.4" cy="791.8" r="1.4" fill="rgb(194,194,194)"/>
<circle cx="1708.1" cy="946.8" r="1.3" fill="rgb(177,177,177)"/>
<circle cx="1646.5" cy="753.4" r="1.3" fill="rgb(159,159,159)"/>
<circle cx="1693.1" cy="745.7" r="1.2" fill="rgb(59,59,59)"/>
<circle cx="1632.9" cy="960.0" r="1.0" fill="rgb(198,198,198)"/>
<circle cx="1665.2" cy="902.4" r="0.9" fill="rgb(154,154,154)"/>
<circle cx="1659.0" cy="751.8" r="1.2" fill="rgb(185,185,185)"/>
<circle cx="1687.0" cy="851.2" r="1.0" fill="rgb(80,80,80)"/>
<circle cx="1666.1" cy="872.9" r="0.6" fill="rgb(66,66,66)"/>
<circle cx="1617.4" cy="796.4" r="0.8" fill="rgb(84,84,84)"/>
<circle cx="1620.5" cy="910.0" r="1.1" fill="rgb(186,186,186)"/>
<circle cx="1552.6" cy="953.4" r="1.2" fill="rgb(141,141,141)"/>
<circle cx="1654.5" cy="824.0" r="0.7" fill="rgb(100,100,100)"/>
<circle cx="1663.2" cy="748.3" r="1.3" fill="rgb(152,152,152)"/>
<circle cx="1663.9" cy="887.5" r="1.4" fill="rgb(171,171,171)"/>
<circle cx="1688.8" cy="984.3" r="0.6" fill="rgb(118,118,118)"/>
<circle cx="1654.7" cy="895.7" r="1.1" fill="rgb(179,179,179)"/>
<circle cx="1611.5" cy="735.9" r="1.1" fill="rgb(174,174,174)"/>
<circle cx="1718.5" cy="884.3" r="1.2" fill="rgb(177,177,177)"/>
<circle cx="1719.4" cy="851.2" r="0.9" fill="rgb(184,184,184)"/>
<circle cx="1550.9" cy="816.8" r="1.4" fill="rgb(102,102,102)"/>
</g></g>
<g clip-path="url(#ct9)"><rect x="1731.0" y="702.7" width="178.5" height="288.1" fill="#000"/><g filter="url(#b3)">
<ellipse cx="1855" cy="738" rx="10.8" ry="9.0" fill="rgb(104,104,104)" style="mix-blend-mode:screen"/>
<ellipse transform="rotate(18 1853.9 736.0)" cx="1853.9" cy="736.0" rx="6.3" ry="4.5" fill="rgb(104,104,104)" style="mix-blend-mode:screen"/>
<ellipse transform="rotate(144 1850.9 738.9)" cx="1850.9" cy="738.9" rx="6.4" ry="5.9" fill="rgb(94,94,94)" style="mix-blend-mode:screen"/>
<ellipse cx="1775" cy="775" rx="6.3" ry="6.3" fill="rgb(64,64,64)" style="mix-blend-mode:screen"/>
<ellipse transform="rotate(3 1773.1 775.2)" cx="1773.1" cy="775.2" rx="3.7" ry="4.0" fill="rgb(53,53,53)" style="mix-blend-mode:screen"/>
<ellipse transform="rotate(48 1773.7 774.9)" cx="1773.7" cy="774.9" rx="4.1" ry="2.6" fill="rgb(60,60,60)" style="mix-blend-mode:screen"/>
<ellipse cx="1892" cy="806" rx="15.3" ry="6.3" fill="rgb(136,136,136)" style="mix-blend-mode:screen"/>
<ellipse transform="rotate(139 1889.7 804.6)" cx="1889.7" cy="804.6" rx="10.6" ry="3.5" fill="rgb(143,143,143)" style="mix-blend-mode:screen"/>
<ellipse transform="rotate(23 1897.6 807.5)" cx="1897.6" cy="807.5" rx="10.8" ry="3.9" fill="rgb(104,104,104)" style="mix-blend-mode:screen"/>
<ellipse cx="1772" cy="889" rx="12.6" ry="9.0" fill="rgb(152,152,152)" style="mix-blend-mode:screen"/>
<ellipse transform="rotate(102 1778.2 891.5)" cx="1778.2" cy="891.5" rx="8.5" ry="5.0" fill="rgb(122,122,122)" style="mix-blend-mode:screen"/>
<ellipse transform="rotate(48 1767.4 893.2)" cx="1767.4" cy="893.2" rx="9.7" ry="4.5" fill="rgb(143,143,143)" style="mix-blend-mode:screen"/>
<ellipse cx="1866" cy="899" rx="11.7" ry="8.1" fill="rgb(160,160,160)" style="mix-blend-mode:screen"/>
<ellipse transform="rotate(39 1861.0 900.4)" cx="1861.0" cy="900.4" rx="6.8" ry="4.5" fill="rgb(135,135,135)" style="mix-blend-mode:screen"/>
<ellipse transform="rotate(178 1863.9 900.3)" cx="1863.9" cy="900.3" rx="8.7" ry="5.2" fill="rgb(174,174,174)" style="mix-blend-mode:screen"/>
<ellipse cx="1894" cy="892" rx="6.3" ry="13.5" fill="rgb(144,144,144)" style="mix-blend-mode:screen"/>
<ellipse transform="rotate(105 1892.4 896.4)" cx="1892.4" cy="896.4" rx="3.3" ry="5.6" fill="rgb(112,112,112)" style="mix-blend-mode:screen"/>
<ellipse transform="rotate(95 1896.8 887.0)" cx="1896.8" cy="887.0" rx="3.2" ry="8.2" fill="rgb(146,146,146)" style="mix-blend-mode:screen"/>
<ellipse cx="1889" cy="911" rx="6.3" ry="5.4" fill="rgb(120,120,120)" style="mix-blend-mode:screen"/>
<ellipse transform="rotate(89 1886.2 913.1)" cx="1886.2" cy="913.1" rx="3.9" ry="2.1" fill="rgb(126,126,126)" style="mix-blend-mode:screen"/>
<ellipse transform="rotate(167 1890.3 908.5)" cx="1890.3" cy="908.5" rx="4.3" ry="2.3" fill="rgb(113,113,113)" style="mix-blend-mode:screen"/>
<ellipse cx="1741" cy="922" rx="7.2" ry="5.4" fill="rgb(56,56,56)" style="mix-blend-mode:screen"/>
<ellipse transform="rotate(139 1742.6 923.1)" cx="1742.6" cy="923.1" rx="4.8" ry="2.7" fill="rgb(48,48,48)" style="mix-blend-mode:screen"/>
<ellipse transform="rotate(160 1741.2 920.8)" cx="1741.2" cy="920.8" rx="4.3" ry="3.3" fill="rgb(48,48,48)" style="mix-blend-mode:screen"/>
<ellipse cx="1780" cy="905" rx="14.4" ry="10.8" fill="rgb(32,32,32)" style="mix-blend-mode:screen"/>
<ellipse transform="rotate(173 1778.1 901.7)" cx="1778.1" cy="901.7" rx="10.2" ry="7.1" fill="rgb(24,24,24)" style="mix-blend-mode:screen"/>
<ellipse transform="rotate(9 1781.3 900.3)" cx="1781.3" cy="900.3" rx="9.6" ry="6.1" fill="rgb(25,25,25)" style="mix-blend-mode:screen"/>
<ellipse cx="1735" cy="755" rx="4.5" ry="9.0" fill="rgb(32,32,32)" style="mix-blend-mode:screen"/>
<ellipse transform="rotate(40 1737.0 753.2)" cx="1737.0" cy="753.2" rx="2.4" ry="3.6" fill="rgb(26,26,26)" style="mix-blend-mode:screen"/>
<ellipse transform="rotate(171 1735.0 754.3)" cx="1735.0" cy="754.3" rx="2.6" ry="5.6" fill="rgb(28,28,28)" style="mix-blend-mode:screen"/>
</g><g filter="url(#b2)" style="mix-blend-mode:screen">
<circle cx="1853.9" cy="737.8" r="1.4" fill="rgb(119,119,119)"/>
<circle cx="1855.4" cy="737.7" r="1.0" fill="rgb(171,171,171)"/>
<circle cx="1851.3" cy="730.7" r="1.0" fill="rgb(173,173,173)"/>
<circle cx="1861.1" cy="745.6" r="1.7" fill="rgb(188,188,188)"/>
<circle cx="1854.4" cy="737.9" r="1.7" fill="rgb(145,145,145)"/>
<circle cx="1858.1" cy="739.1" r="1.7" fill="rgb(120,120,120)"/>
<circle cx="1854.4" cy="738.6" r="1.0" fill="rgb(144,144,144)"/>
<circle cx="1848.6" cy="740.4" r="0.9" fill="rgb(168,168,168)"/>
<circle cx="1854.4" cy="737.9" r="1.6" fill="rgb(151,151,151)"/>
<circle cx="1774.6" cy="780.5" r="1.2" fill="rgb(83,83,83)"/>
<circle cx="1775.0" cy="775.0" r="1.3" fill="rgb(98,98,98)"/>
<circle cx="1773.6" cy="768.8" r="1.0" fill="rgb(105,105,105)"/>
<circle cx="1776.0" cy="778.0" r="1.4" fill="rgb(85,85,85)"/>
<circle cx="1778.9" cy="777.5" r="0.8" fill="rgb(91,91,91)"/>
<circle cx="1779.5" cy="779.3" r="1.7" fill="rgb(112,112,112)"/>
<circle cx="1770.0" cy="779.2" r="1.5" fill="rgb(80,80,80)"/>
<circle cx="1895.1" cy="805.5" r="0.9" fill="rgb(153,153,153)"/>
<circle cx="1903.2" cy="808.7" r="1.3" fill="rgb(214,214,214)"/>
<circle cx="1899.8" cy="808.8" r="0.9" fill="rgb(166,166,166)"/>
<circle cx="1883.4" cy="803.6" r="1.6" fill="rgb(234,234,234)"/>
<circle cx="1895.2" cy="807.5" r="1.3" fill="rgb(167,167,167)"/>
<circle cx="1905.8" cy="807.0" r="1.6" fill="rgb(222,222,222)"/>
<circle cx="1877.3" cy="806.4" r="1.6" fill="rgb(238,238,238)"/>
<circle cx="1893.2" cy="804.7" r="0.9" fill="rgb(188,188,188)"/>
<circle cx="1892.7" cy="802.9" r="1.1" fill="rgb(253,253,253)"/>
<circle cx="1879.3" cy="808.4" r="1.6" fill="rgb(251,251,251)"/>
<circle cx="1781.1" cy="883.1" r="1.4" fill="rgb(201,201,201)"/>
<circle cx="1780.3" cy="891.5" r="1.3" fill="rgb(255,255,255)"/>
<circle cx="1776.6" cy="893.3" r="1.3" fill="rgb(178,178,178)"/>
<circle cx="1776.9" cy="890.9" r="1.5" fill="rgb(255,255,255)"/>
<circle cx="1775.7" cy="885.5" r="0.9" fill="rgb(221,221,221)"/>
<circle cx="1773.8" cy="883.7" r="0.9" fill="rgb(217,217,217)"/>
<circle cx="1771.2" cy="889.2" r="0.9" fill="rgb(184,184,184)"/>
<circle cx="1770.4" cy="889.6" r="1.4" fill="rgb(255,255,255)"/>
<circle cx="1776.9" cy="885.1" r="1.1" fill="rgb(189,189,189)"/>
<circle cx="1776.2" cy="884.3" r="1.4" fill="rgb(244,244,244)"/>
<circle cx="1774.5" cy="889.6" r="1.6" fill="rgb(220,220,220)"/>
<circle cx="1872.8" cy="897.2" r="0.8" fill="rgb(211,211,211)"/>
<circle cx="1861.3" cy="897.7" r="1.0" fill="rgb(255,255,255)"/>
<circle cx="1866.1" cy="899.1" r="1.6" fill="rgb(183,183,183)"/>
<circle cx="1867.3" cy="898.0" r="1.4" fill="rgb(181,181,181)"/>
<circle cx="1866.2" cy="904.3" r="1.5" fill="rgb(255,255,255)"/>
<circle cx="1864.6" cy="904.1" r="1.6" fill="rgb(214,214,214)"/>
<circle cx="1865.5" cy="906.4" r="1.7" fill="rgb(255,255,255)"/>
<circle cx="1859.3" cy="905.7" r="1.1" fill="rgb(249,249,249)"/>
<circle cx="1863.7" cy="896.9" r="0.8" fill="rgb(193,193,193)"/>
<circle cx="1863.7" cy="897.7" r="1.6" fill="rgb(192,192,192)"/>
<circle cx="1871.9" cy="904.0" r="1.2" fill="rgb(212,212,212)"/>
<circle cx="1875.3" cy="896.1" r="1.8" fill="rgb(255,255,255)"/>
<circle cx="1889.1" cy="883.9" r="1.4" fill="rgb(229,229,229)"/>
<circle cx="1892.9" cy="896.8" r="1.0" fill="rgb(223,223,223)"/>
<circle cx="1890.4" cy="882.4" r="1.0" fill="rgb(239,239,239)"/>
<circle cx="1896.4" cy="892.9" r="1.6" fill="rgb(208,208,208)"/>
<circle cx="1890.7" cy="889.9" r="1.4" fill="rgb(227,227,227)"/>
<circle cx="1892.4" cy="884.8" r="1.0" fill="rgb(221,221,221)"/>
<circle cx="1896.1" cy="896.4" r="1.7" fill="rgb(255,255,255)"/>
<circle cx="1893.0" cy="899.9" r="1.3" fill="rgb(217,217,217)"/>
<circle cx="1896.3" cy="902.1" r="1.0" fill="rgb(171,171,171)"/>
<circle cx="1893.8" cy="894.8" r="0.9" fill="rgb(182,182,182)"/>
<circle cx="1892.9" cy="891.6" r="1.4" fill="rgb(231,231,231)"/>
<circle cx="1886.7" cy="909.1" r="1.1" fill="rgb(190,190,190)"/>
<circle cx="1884.5" cy="911.9" r="1.5" fill="rgb(154,154,154)"/>
<circle cx="1883.4" cy="908.2" r="1.3" fill="rgb(190,190,190)"/>
<circle cx="1889.2" cy="909.4" r="1.2" fill="rgb(168,168,168)"/>
<circle cx="1888.5" cy="906.9" r="1.8" fill="rgb(151,151,151)"/>
<circle cx="1892.3" cy="910.7" r="1.4" fill="rgb(224,224,224)"/>
<circle cx="1888.6" cy="911.3" r="1.4" fill="rgb(136,136,136)"/>
<circle cx="1888.2" cy="907.6" r="1.2" fill="rgb(205,205,205)"/>
<circle cx="1888.8" cy="907.6" r="1.3" fill="rgb(192,192,192)"/>
<circle cx="1887.1" cy="908.2" r="1.5" fill="rgb(143,143,143)"/>
<circle cx="1740.1" cy="919.7" r="1.3" fill="rgb(103,103,103)"/>
<circle cx="1742.9" cy="924.5" r="1.0" fill="rgb(78,78,78)"/>
<circle cx="1742.0" cy="921.3" r="1.0" fill="rgb(92,92,92)"/>
<circle cx="1733.5" cy="921.4" r="1.7" fill="rgb(66,66,66)"/>
<circle cx="1748.4" cy="922.2" r="1.2" fill="rgb(101,101,101)"/>
<circle cx="1738.7" cy="920.0" r="1.2" fill="rgb(69,69,69)"/>
<circle cx="1810.0" cy="954.0" r="1.0" fill="rgb(67,67,67)"/>
<circle cx="1815.3" cy="874.1" r="1.1" fill="rgb(168,168,168)"/>
<circle cx="1789.4" cy="975.4" r="0.8" fill="rgb(139,139,139)"/>
<circle cx="1828.5" cy="953.4" r="1.1" fill="rgb(56,56,56)"/>
<circle cx="1818.1" cy="807.3" r="0.8" fill="rgb(73,73,73)"/>
<circle cx="1809.3" cy="841.1" r="0.8" fill="rgb(140,140,140)"/>
<circle cx="1841.2" cy="854.0" r="1.2" fill="rgb(169,169,169)"/>
<circle cx="1774.4" cy="981.0" r="0.9" fill="rgb(131,131,131)"/>
<circle cx="1777.4" cy="914.4" r="1.1" fill="rgb(115,115,115)"/>
<circle cx="1777.7" cy="951.6" r="1.3" fill="rgb(89,89,89)"/>
<circle cx="1809.5" cy="835.8" r="1.0" fill="rgb(136,136,136)"/>
<circle cx="1828.6" cy="876.0" r="1.2" fill="rgb(192,192,192)"/>
<circle cx="1749.1" cy="983.7" r="0.6" fill="rgb(52,52,52)"/>
<circle cx="1875.8" cy="804.2" r="0.7" fill="rgb(54,54,54)"/>
<circle cx="1819.4" cy="947.4" r="0.7" fill="rgb(52,52,52)"/>
<circle cx="1735.2" cy="748.2" r="1.0" fill="rgb(97,97,97)"/>
<circle cx="1902.0" cy="898.1" r="1.1" fill="rgb(178,178,178)"/>
<circle cx="1891.9" cy="904.4" r="0.9" fill="rgb(85,85,85)"/>
<circle cx="1816.7" cy="762.4" r="1.0" fill="rgb(188,188,188)"/>
<circle cx="1767.9" cy="858.6" r="0.8" fill="rgb(170,170,170)"/>
<circle cx="1835.5" cy="757.8" r="0.7" fill="rgb(86,86,86)"/>
<circle cx="1821.2" cy="908.1" r="1.2" fill="rgb(84,84,84)"/>
<circle cx="1835.3" cy="924.0" r="0.9" fill="rgb(199,199,199)"/>
<circle cx="1906.9" cy="849.5" r="0.7" fill="rgb(126,126,126)"/>
<circle cx="1747.8" cy="897.4" r="0.6" fill="rgb(65,65,65)"/>
<circle cx="1747.7" cy="871.5" r="0.8" fill="rgb(79,79,79)"/>
<circle cx="1866.9" cy="847.2" r="1.1" fill="rgb(72,72,72)"/>
<circle cx="1906.6" cy="891.5" r="1.0" fill="rgb(116,116,116)"/>
<circle cx="1855.6" cy="946.0" r="0.8" fill="rgb(167,167,167)"/>
<circle cx="1869.1" cy="760.8" r="1.0" fill="rgb(69,69,69)"/>
<circle cx="1765.2" cy="876.2" r="1.4" fill="rgb(92,92,92)"/>
<circle cx="1808.6" cy="940.3" r="1.0" fill="rgb(191,191,191)"/>
<circle cx="1867.1" cy="858.8" r="0.7" fill="rgb(109,109,109)"/>
<circle cx="1847.9" cy="967.1" r="0.9" fill="rgb(153,153,153)"/>
<circle cx="1824.6" cy="824.6" r="1.2" fill="rgb(108,108,108)"/>
<circle cx="1734.2" cy="856.1" r="0.7" fill="rgb(126,126,126)"/>
<circle cx="1860.8" cy="798.6" r="0.8" fill="rgb(110,110,110)"/>
<circle cx="1837.2" cy="843.3" r="0.9" fill="rgb(152,152,152)"/>
<circle cx="1869.7" cy="873.6" r="1.0" fill="rgb(65,65,65)"/>
<circle cx="1777.1" cy="809.8" r="1.0" fill="rgb(192,192,192)"/>
<circle cx="1861.9" cy="774.0" r="0.7" fill="rgb(144,144,144)"/>
<circle cx="1771.7" cy="766.8" r="1.3" fill="rgb(53,53,53)"/>
<circle cx="1901.3" cy="827.4" r="1.2" fill="rgb(51,51,51)"/>
<circle cx="1848.7" cy="746.2" r="0.7" fill="rgb(164,164,164)"/>
<circle cx="1773.7" cy="931.0" r="0.8" fill="rgb(165,165,165)"/>
</g></g>
<g clip-path="url(#ct10)"><rect x="1917.5" y="702.7" width="178.9" height="288.1" fill="#000"/><g filter="url(#b3)">
<ellipse cx="1975" cy="741" rx="6.3" ry="5.4" fill="rgb(64,64,64)" style="mix-blend-mode:screen"/>
<ellipse transform="rotate(95 1975.1 742.6)" cx="1975.1" cy="742.6" rx="3.5" ry="2.2" fill="rgb(62,62,62)" style="mix-blend-mode:screen"/>
<ellipse transform="rotate(83 1973.0 741.1)" cx="1973.0" cy="741.1" rx="4.3" ry="2.9" fill="rgb(62,62,62)" style="mix-blend-mode:screen"/>
<ellipse cx="1933" cy="723" rx="5.4" ry="5.4" fill="rgb(64,64,64)" style="mix-blend-mode:screen"/>
<ellipse transform="rotate(96 1933.8 722.5)" cx="1933.8" cy="722.5" rx="4.0" ry="3.6" fill="rgb(68,68,68)" style="mix-blend-mode:screen"/>
<ellipse transform="rotate(99 1934.8 724.5)" cx="1934.8" cy="724.5" rx="3.1" ry="2.3" fill="rgb(64,64,64)" style="mix-blend-mode:screen"/>
<ellipse cx="2063" cy="743" rx="8.1" ry="6.3" fill="rgb(112,112,112)" style="mix-blend-mode:screen"/>
<ellipse transform="rotate(99 2064.3 741.4)" cx="2064.3" cy="741.4" rx="5.4" ry="3.2" fill="rgb(109,109,109)" style="mix-blend-mode:screen"/>
<ellipse transform="rotate(159 2060.9 741.8)" cx="2060.9" cy="741.8" rx="4.8" ry="3.0" fill="rgb(113,113,113)" style="mix-blend-mode:screen"/>
<ellipse cx="1952" cy="781" rx="10.8" ry="7.2" fill="rgb(56,56,56)" style="mix-blend-mode:screen"/>
<ellipse transform="rotate(136 1951.4 780.5)" cx="1951.4" cy="780.5" rx="7.7" ry="4.4" fill="rgb(55,55,55)" style="mix-blend-mode:screen"/>
<ellipse transform="rotate(80 1954.4 784.4)" cx="1954.4" cy="784.4" rx="7.4" ry="3.4" fill="rgb(51,51,51)" style="mix-blend-mode:screen"/>
<ellipse cx="2024" cy="795" rx="12.6" ry="9.9" fill="rgb(68,68,68)" style="mix-blend-mode:screen"/>
<ellipse transform="rotate(94 2028.2 794.2)" cx="2028.2" cy="794.2" rx="7.6" ry="3.9" fill="rgb(65,65,65)" style="mix-blend-mode:screen"/>
<ellipse transform="rotate(25 2021.2 794.8)" cx="2021.2" cy="794.8" rx="9.5" ry="6.5" fill="rgb(75,75,75)" style="mix-blend-mode:screen"/>
<ellipse cx="2084" cy="804" rx="5.4" ry="9.0" fill="rgb(136,136,136)" style="mix-blend-mode:screen"/>
<ellipse transform="rotate(158 2085.6 802.0)" cx="2085.6" cy="802.0" rx="2.8" ry="4.2" fill="rgb(102,102,102)" style="mix-blend-mode:screen"/>
<ellipse transform="rotate(150 2086.4 805.6)" cx="2086.4" cy="805.6" rx="3.0" ry="4.8" fill="rgb(144,144,144)" style="mix-blend-mode:screen"/>
<ellipse cx="1982" cy="845" rx="7.2" ry="3.6" fill="rgb(96,96,96)" style="mix-blend-mode:screen"/>
<ellipse transform="rotate(147 1979.1 844.6)" cx="1979.1" cy="844.6" rx="4.2" ry="2.1" fill="rgb(89,89,89)" style="mix-blend-mode:screen"/>
<ellipse transform="rotate(105 1979.4 844.1)" cx="1979.4" cy="844.1" rx="4.8" ry="2.1" fill="rgb(74,74,74)" style="mix-blend-mode:screen"/>
<ellipse cx="1961" cy="904" rx="6.3" ry="6.3" fill="rgb(136,136,136)" style="mix-blend-mode:screen"/>
<ellipse transform="rotate(102 1960.5 906.8)" cx="1960.5" cy="906.8" rx="4.7" ry="2.8" fill="rgb(138,138,138)" style="mix-blend-mode:screen"/>
<ellipse transform="rotate(172 1959.7 904.3)" cx="1959.7" cy="904.3" rx="4.3" ry="2.5" fill="rgb(132,132,132)" style="mix-blend-mode:screen"/>
<ellipse cx="1936" cy="915" rx="5.4" ry="6.3" fill="rgb(104,104,104)" style="mix-blend-mode:screen"/>
<ellipse transform="rotate(137 1938.4 914.8)" cx="1938.4" cy="914.8" rx="3.6" ry="3.9" fill="rgb(86,86,86)" style="mix-blend-mode:screen"/>
<ellipse transform="rotate(84 1936.3 913.5)" cx="1936.3" cy="913.5" rx="3.2" ry="3.5" fill="rgb(96,96,96)" style="mix-blend-mode:screen"/>
<ellipse cx="2003" cy="923" rx="6.3" ry="6.3" fill="rgb(136,136,136)" style="mix-blend-mode:screen"/>
<ellipse transform="rotate(5 2000.8 921.4)" cx="2000.8" cy="921.4" rx="4.1" ry="3.7" fill="rgb(108,108,108)" style="mix-blend-mode:screen"/>
<ellipse transform="rotate(119 2002.4 925.5)" cx="2002.4" cy="925.5" rx="3.7" ry="4.0" fill="rgb(133,133,133)" style="mix-blend-mode:screen"/>
<ellipse cx="1953" cy="957" rx="8.1" ry="8.1" fill="rgb(136,136,136)" style="mix-blend-mode:screen"/>
<ellipse transform="rotate(171 1951.8 959.8)" cx="1951.8" cy="959.8" rx="5.6" ry="3.6" fill="rgb(114,114,114)" style="mix-blend-mode:screen"/>
<ellipse transform="rotate(68 1954.9 954.2)" cx="1954.9" cy="954.2" rx="4.8" ry="4.0" fill="rgb(121,121,121)" style="mix-blend-mode:screen"/>
<ellipse cx="2007" cy="978" rx="8.1" ry="11.7" fill="rgb(144,144,144)" style="mix-blend-mode:screen"/>
<ellipse transform="rotate(143 2004.3 976.8)" cx="2004.3" cy="976.8" rx="4.8" ry="6.9" fill="rgb(113,113,113)" style="mix-blend-mode:screen"/>
<ellipse transform="rotate(127 2006.4 983.6)" cx="2006.4" cy="983.6" rx="5.9" ry="7.5" fill="rgb(155,155,155)" style="mix-blend-mode:screen"/>
<ellipse cx="2042" cy="971" rx="9.9" ry="13.5" fill="rgb(144,144,144)" style="mix-blend-mode:screen"/>
<ellipse transform="rotate(12 2046.3 969.8)" cx="2046.3" cy="969.8" rx="6.0" ry="6.5" fill="rgb(140,140,140)" style="mix-blend-mode:screen"/>
<ellipse transform="rotate(13 2043.2 964.4)" cx="2043.2" cy="964.4" rx="6.1" ry="7.1" fill="rgb(148,148,148)" style="mix-blend-mode:screen"/>
<ellipse cx="2081" cy="908" rx="9.0" ry="8.1" fill="rgb(48,48,48)" style="mix-blend-mode:screen"/>
<ellipse transform="rotate(120 2084.1 909.1)" cx="2084.1" cy="909.1" rx="5.1" ry="4.5" fill="rgb(38,38,38)" style="mix-blend-mode:screen"/>
<ellipse transform="rotate(49 2080.2 911.7)" cx="2080.2" cy="911.7" rx="5.3" ry="5.3" fill="rgb(44,44,44)" style="mix-blend-mode:screen"/>
<ellipse cx="2086" cy="720" rx="4.5" ry="4.5" fill="rgb(64,64,64)" style="mix-blend-mode:screen"/>
<ellipse transform="rotate(121 2085.3 718.8)" cx="2085.3" cy="718.8" rx="3.4" ry="1.8" fill="rgb(60,60,60)" style="mix-blend-mode:screen"/>
<ellipse transform="rotate(124 2085.2 721.0)" cx="2085.2" cy="721.0" rx="3.1" ry="1.9" fill="rgb(59,59,59)" style="mix-blend-mode:screen"/>
</g><g filter="url(#b2)" style="mix-blend-mode:screen">
<circle cx="1976.1" cy="741.3" r="1.0" fill="rgb(86,86,86)"/>
<circle cx="1974.8" cy="741.6" r="1.3" fill="rgb(73,73,73)"/>
<circle cx="1975.1" cy="740.1" r="1.5" fill="rgb(76,76,76)"/>
<circle cx="1975.8" cy="741.4" r="1.1" fill="rgb(95,95,95)"/>
<circle cx="1975.7" cy="738.2" r="1.2" fill="rgb(97,97,97)"/>
<circle cx="1980.4" cy="741.8" r="1.6" fill="rgb(90,90,90)"/>
<circle cx="1977.3" cy="742.5" r="1.0" fill="rgb(97,97,97)"/>
<circle cx="1937.8" cy="725.4" r="1.8" fill="rgb(117,117,117)"/>
<circle cx="1929.0" cy="721.9" r="1.3" fill="rgb(100,100,100)"/>
<circle cx="1934.7" cy="726.2" r="1.5" fill="rgb(93,93,93)"/>
<circle cx="1934.6" cy="723.4" r="1.6" fill="rgb(77,77,77)"/>
<circle cx="1931.4" cy="723.2" r="1.3" fill="rgb(109,109,109)"/>
<circle cx="1932.4" cy="725.2" r="0.9" fill="rgb(72,72,72)"/>
<circle cx="1938.3" cy="724.3" r="1.3" fill="rgb(114,114,114)"/>
<circle cx="2067.3" cy="741.7" r="0.9" fill="rgb(183,183,183)"/>
<circle cx="2058.2" cy="744.6" r="1.5" fill="rgb(160,160,160)"/>
<circle cx="2059.9" cy="746.6" r="1.3" fill="rgb(143,143,143)"/>
<circle cx="2059.0" cy="744.5" r="1.0" fill="rgb(130,130,130)"/>
<circle cx="2062.7" cy="741.9" r="1.8" fill="rgb(166,166,166)"/>
<circle cx="2058.2" cy="739.9" r="1.8" fill="rgb(190,190,190)"/>
<circle cx="2060.4" cy="744.7" r="0.8" fill="rgb(189,189,189)"/>
<circle cx="2060.7" cy="743.4" r="1.5" fill="rgb(172,172,172)"/>
<circle cx="2065.8" cy="740.4" r="0.9" fill="rgb(184,184,184)"/>
<circle cx="1946.3" cy="775.0" r="1.3" fill="rgb(88,88,88)"/>
<circle cx="1947.3" cy="780.8" r="1.0" fill="rgb(70,70,70)"/>
<circle cx="1953.6" cy="777.2" r="1.4" fill="rgb(64,64,64)"/>
<circle cx="1955.6" cy="776.7" r="1.8" fill="rgb(70,70,70)"/>
<circle cx="1954.4" cy="784.5" r="1.0" fill="rgb(82,82,82)"/>
<circle cx="1951.8" cy="782.4" r="0.8" fill="rgb(70,70,70)"/>
<circle cx="2018.6" cy="789.5" r="1.8" fill="rgb(89,89,89)"/>
<circle cx="2018.6" cy="797.2" r="1.4" fill="rgb(123,123,123)"/>
<circle cx="2014.3" cy="796.7" r="1.1" fill="rgb(114,114,114)"/>
<circle cx="2032.8" cy="798.2" r="1.4" fill="rgb(114,114,114)"/>
<circle cx="2031.3" cy="800.2" r="1.6" fill="rgb(85,85,85)"/>
<circle cx="2017.9" cy="790.4" r="1.2" fill="rgb(80,80,80)"/>
<circle cx="2023.8" cy="793.8" r="1.2" fill="rgb(78,78,78)"/>
<circle cx="2086.2" cy="799.2" r="0.9" fill="rgb(176,176,176)"/>
<circle cx="2086.5" cy="797.2" r="1.0" fill="rgb(224,224,224)"/>
<circle cx="2084.0" cy="803.9" r="1.1" fill="rgb(170,170,170)"/>
<circle cx="2084.2" cy="803.9" r="1.5" fill="rgb(169,169,169)"/>
<circle cx="2084.1" cy="801.5" r="1.7" fill="rgb(160,160,160)"/>
<circle cx="2089.1" cy="802.4" r="0.9" fill="rgb(210,210,210)"/>
<circle cx="2083.8" cy="797.8" r="1.6" fill="rgb(237,237,237)"/>
<circle cx="2078.4" cy="803.8" r="1.2" fill="rgb(200,200,200)"/>
<circle cx="2081.1" cy="798.3" r="1.7" fill="rgb(212,212,212)"/>
<circle cx="2083.3" cy="812.4" r="1.1" fill="rgb(242,242,242)"/>
<circle cx="1986.5" cy="845.4" r="1.8" fill="rgb(152,152,152)"/>
<circle cx="1976.9" cy="844.0" r="1.0" fill="rgb(162,162,162)"/>
<circle cx="1980.3" cy="843.6" r="1.1" fill="rgb(123,123,123)"/>
<circle cx="1978.4" cy="847.1" r="1.1" fill="rgb(147,147,147)"/>
<circle cx="1987.6" cy="846.0" r="1.6" fill="rgb(162,162,162)"/>
<circle cx="1982.1" cy="844.8" r="1.3" fill="rgb(128,128,128)"/>
<circle cx="1980.2" cy="848.0" r="0.8" fill="rgb(122,122,122)"/>
<circle cx="1981.6" cy="845.1" r="1.4" fill="rgb(110,110,110)"/>
<circle cx="1958.1" cy="901.8" r="1.4" fill="rgb(160,160,160)"/>
<circle cx="1959.0" cy="903.7" r="1.0" fill="rgb(175,175,175)"/>
<circle cx="1958.6" cy="904.3" r="1.5" fill="rgb(212,212,212)"/>
<circle cx="1960.3" cy="908.0" r="1.5" fill="rgb(179,179,179)"/>
<circle cx="1962.1" cy="907.8" r="1.6" fill="rgb(228,228,228)"/>
<circle cx="1955.0" cy="902.8" r="1.6" fill="rgb(253,253,253)"/>
<circle cx="1959.9" cy="905.4" r="0.9" fill="rgb(216,216,216)"/>
<circle cx="1961.3" cy="904.6" r="1.2" fill="rgb(219,219,219)"/>
<circle cx="1965.7" cy="901.5" r="1.1" fill="rgb(207,207,207)"/>
<circle cx="1960.9" cy="904.3" r="1.7" fill="rgb(164,164,164)"/>
<circle cx="1936.0" cy="915.1" r="1.2" fill="rgb(193,193,193)"/>
<circle cx="1936.4" cy="912.0" r="0.9" fill="rgb(192,192,192)"/>
<circle cx="1932.4" cy="915.7" r="1.7" fill="rgb(118,118,118)"/>
<circle cx="1934.0" cy="918.8" r="0.9" fill="rgb(123,123,123)"/>
<circle cx="1939.8" cy="917.7" r="1.7" fill="rgb(190,190,190)"/>
<circle cx="1935.5" cy="914.9" r="1.3" fill="rgb(177,177,177)"/>
<circle cx="1936.7" cy="910.9" r="1.0" fill="rgb(161,161,161)"/>
<circle cx="1936.3" cy="915.4" r="1.1" fill="rgb(150,150,150)"/>
<circle cx="1936.3" cy="914.9" r="0.9" fill="rgb(176,176,176)"/>
<circle cx="2007.9" cy="926.7" r="1.4" fill="rgb(175,175,175)"/>
<circle cx="2000.7" cy="921.7" r="0.9" fill="rgb(188,188,188)"/>
<circle cx="2002.2" cy="920.7" r="1.6" fill="rgb(214,214,214)"/>
<circle cx="2005.5" cy="924.3" r="1.7" fill="rgb(188,188,188)"/>
<circle cx="2002.1" cy="922.1" r="0.8" fill="rgb(199,199,199)"/>
<circle cx="2002.5" cy="923.0" r="1.3" fill="rgb(167,167,167)"/>
<circle cx="2001.6" cy="922.7" r="1.1" fill="rgb(212,212,212)"/>
<circle cx="2002.9" cy="922.7" r="1.2" fill="rgb(238,238,238)"/>
<circle cx="2003.9" cy="924.7" r="0.9" fill="rgb(217,217,217)"/>
<circle cx="2004.3" cy="922.2" r="0.9" fill="rgb(194,194,194)"/>
<circle cx="1945.1" cy="959.2" r="1.0" fill="rgb(172,172,172)"/>
<circle cx="1947.8" cy="955.4" r="1.0" fill="rgb(167,167,167)"/>
<circle cx="1951.4" cy="955.8" r="1.5" fill="rgb(155,155,155)"/>
<circle cx="1957.7" cy="951.9" r="1.0" fill="rgb(240,240,240)"/>
<circle cx="1951.1" cy="961.8" r="1.4" fill="rgb(215,215,215)"/>
<circle cx="1951.1" cy="956.3" r="0.9" fill="rgb(177,177,177)"/>
<circle cx="1957.6" cy="958.8" r="1.7" fill="rgb(161,161,161)"/>
<circle cx="1954.2" cy="956.7" r="1.4" fill="rgb(251,251,251)"/>
<circle cx="1956.3" cy="957.1" r="1.1" fill="rgb(189,189,189)"/>
<circle cx="1954.9" cy="957.9" r="1.2" fill="rgb(154,154,154)"/>
<circle cx="2005.0" cy="978.3" r="1.7" fill="rgb(255,255,255)"/>
<circle cx="2000.1" cy="978.0" r="1.6" fill="rgb(200,200,200)"/>
<circle cx="2007.5" cy="973.7" r="1.2" fill="rgb(241,241,241)"/>
<circle cx="2008.7" cy="982.6" r="1.5" fill="rgb(174,174,174)"/>
<circle cx="2007.0" cy="984.1" r="1.4" fill="rgb(249,249,249)"/>
<circle cx="2012.2" cy="973.1" r="1.5" fill="rgb(236,236,236)"/>
<circle cx="2004.1" cy="967.4" r="1.5" fill="rgb(226,226,226)"/>
<circle cx="2002.7" cy="976.0" r="1.1" fill="rgb(255,255,255)"/>
<circle cx="2008.6" cy="983.8" r="1.5" fill="rgb(195,195,195)"/>
<circle cx="2007.0" cy="978.0" r="1.4" fill="rgb(184,184,184)"/>
<circle cx="2002.4" cy="983.1" r="0.9" fill="rgb(212,212,212)"/>
<circle cx="2038.2" cy="958.1" r="1.4" fill="rgb(171,171,171)"/>
<circle cx="2037.2" cy="965.3" r="1.3" fill="rgb(216,216,216)"/>
<circle cx="2051.1" cy="970.2" r="1.6" fill="rgb(208,208,208)"/>
<circle cx="2037.8" cy="961.0" r="0.9" fill="rgb(255,255,255)"/>
<circle cx="2042.6" cy="974.2" r="1.7" fill="rgb(250,250,250)"/>
<circle cx="2042.8" cy="977.8" r="1.5" fill="rgb(255,255,255)"/>
<circle cx="2034.0" cy="964.4" r="0.9" fill="rgb(255,255,255)"/>
<circle cx="2045.0" cy="970.1" r="1.6" fill="rgb(228,228,228)"/>
<circle cx="2041.1" cy="975.2" r="1.6" fill="rgb(255,255,255)"/>
<circle cx="2043.0" cy="970.8" r="1.5" fill="rgb(229,229,229)"/>
<circle cx="2049.3" cy="968.2" r="0.9" fill="rgb(192,192,192)"/>
<circle cx="2082.1" cy="910.0" r="1.1" fill="rgb(74,74,74)"/>
<circle cx="2081.5" cy="908.6" r="1.6" fill="rgb(78,78,78)"/>
<circle cx="2084.5" cy="911.1" r="1.2" fill="rgb(89,89,89)"/>
<circle cx="2073.5" cy="906.5" r="1.7" fill="rgb(54,54,54)"/>
<circle cx="2082.1" cy="901.8" r="1.3" fill="rgb(66,66,66)"/>
<circle cx="2081.5" cy="907.8" r="1.4" fill="rgb(56,56,56)"/>
<circle cx="2086.7" cy="719.8" r="1.3" fill="rgb(81,81,81)"/>
<circle cx="2086.6" cy="717.4" r="0.9" fill="rgb(103,103,103)"/>
<circle cx="2086.9" cy="722.6" r="0.9" fill="rgb(106,106,106)"/>
<circle cx="2087.3" cy="720.8" r="1.1" fill="rgb(91,91,91)"/>
<circle cx="2086.2" cy="720.3" r="1.8" fill="rgb(102,102,102)"/>
<circle cx="2083.1" cy="716.7" r="1.4" fill="rgb(78,78,78)"/>
<circle cx="2083.3" cy="723.0" r="1.4" fill="rgb(100,100,100)"/>
<circle cx="2079.4" cy="975.6" r="1.0" fill="rgb(70,70,70)"/>
<circle cx="1934.4" cy="876.0" r="1.2" fill="rgb(83,83,83)"/>
<circle cx="1981.7" cy="736.7" r="0.7" fill="rgb(183,183,183)"/>
<circle cx="1966.5" cy="865.8" r="1.2" fill="rgb(58,58,58)"/>
<circle cx="2044.8" cy="764.3" r="0.7" fill="rgb(143,143,143)"/>
<circle cx="2012.3" cy="758.2" r="1.0" fill="rgb(92,92,92)"/>
<circle cx="2014.7" cy="899.6" r="0.9" fill="rgb(189,189,189)"/>
<circle cx="1980.7" cy="787.4" r="0.9" fill="rgb(160,160,160)"/>
<circle cx="1956.6" cy="783.2" r="1.3" fill="rgb(113,113,113)"/>
<circle cx="1996.1" cy="939.8" r="1.1" fill="rgb(120,120,120)"/>
<circle cx="1964.2" cy="837.9" r="0.7" fill="rgb(158,158,158)"/>
<circle cx="1998.9" cy="798.4" r="0.9" fill="rgb(93,93,93)"/>
<circle cx="1954.1" cy="880.0" r="0.8" fill="rgb(56,56,56)"/>
<circle cx="1965.6" cy="780.3" r="1.1" fill="rgb(175,175,175)"/>
<circle cx="2074.8" cy="768.2" r="0.9" fill="rgb(78,78,78)"/>
<circle cx="2008.4" cy="944.9" r="1.3" fill="rgb(175,175,175)"/>
<circle cx="1922.5" cy="741.6" r="0.9" fill="rgb(100,100,100)"/>
<circle cx="1920.6" cy="823.0" r="1.3" fill="rgb(69,69,69)"/>
<circle cx="1956.3" cy="815.0" r="1.3" fill="rgb(76,76,76)"/>
<circle cx="1939.2" cy="845.5" r="0.8" fill="rgb(83,83,83)"/>
<circle cx="2093.5" cy="914.8" r="0.9" fill="rgb(160,160,160)"/>
<circle cx="2090.5" cy="978.0" r="0.8" fill="rgb(145,145,145)"/>
<circle cx="1928.0" cy="872.0" r="1.3" fill="rgb(122,122,122)"/>
<circle cx="2094.1" cy="940.6" r="1.4" fill="rgb(86,86,86)"/>
<circle cx="2026.6" cy="744.3" r="1.4" fill="rgb(81,81,81)"/>
<circle cx="2058.7" cy="921.4" r="0.6" fill="rgb(149,149,149)"/>
<circle cx="2083.3" cy="809.8" r="1.0" fill="rgb(165,165,165)"/>
<circle cx="2004.9" cy="867.4" r="1.3" fill="rgb(187,187,187)"/>
<circle cx="1988.5" cy="949.6" r="0.9" fill="rgb(76,76,76)"/>
<circle cx="1975.6" cy="746.6" r="0.6" fill="rgb(110,110,110)"/>
<circle cx="2088.9" cy="940.8" r="0.6" fill="rgb(121,121,121)"/>
<circle cx="1965.5" cy="929.5" r="0.7" fill="rgb(94,94,94)"/>
<circle cx="1994.2" cy="880.5" r="0.9" fill="rgb(68,68,68)"/>
<circle cx="2016.9" cy="922.5" r="1.4" fill="rgb(111,111,111)"/>
<circle cx="1964.2" cy="923.8" r="1.3" fill="rgb(61,61,61)"/>
<circle cx="2014.8" cy="778.4" r="1.3" fill="rgb(172,172,172)"/>
<circle cx="1942.2" cy="957.2" r="0.9" fill="rgb(193,193,193)"/>
<circle cx="2057.8" cy="916.3" r="0.9" fill="rgb(135,135,135)"/>
<circle cx="1974.2" cy="940.4" r="1.4" fill="rgb(167,167,167)"/>
<circle cx="1931.4" cy="878.4" r="0.8" fill="rgb(155,155,155)"/>
<circle cx="1923.2" cy="960.0" r="1.2" fill="rgb(167,167,167)"/>
<circle cx="1977.7" cy="845.2" r="0.7" fill="rgb(171,171,171)"/>
<circle cx="2045.9" cy="913.0" r="1.4" fill="rgb(119,119,119)"/>
<circle cx="2030.0" cy="957.5" r="0.9" fill="rgb(79,79,79)"/>
<circle cx="1970.6" cy="860.3" r="1.4" fill="rgb(163,163,163)"/>
</g></g>
<g clip-path="url(#cb0)">
<rect x="23.8" y="999.5" width="180.0" height="291.5" fill="rgb(0, 10, 0)"/>
<g filter="url(#b5)" style="mix-blend-mode:screen">
<ellipse cx="67" cy="1010" rx="13.2" ry="10.8" fill="rgb(5,70,5)"/>
<ellipse cx="76" cy="1058" rx="13.2" ry="12.0" fill="rgb(6,76,6)"/>
<ellipse cx="67" cy="1095" rx="16.8" ry="14.4" fill="rgb(8,108,8)"/>
<ellipse cx="40" cy="1115" rx="12.0" ry="10.8" fill="rgb(6,76,6)"/>
<ellipse cx="32" cy="1048" rx="10.8" ry="9.6" fill="rgb(5,63,5)"/>
<ellipse cx="57" cy="1077" rx="8.4" ry="8.4" fill="rgb(3,44,3)"/>
<ellipse cx="148" cy="1067" rx="12.0" ry="10.8" fill="rgb(5,70,5)"/>
<ellipse cx="188" cy="1081" rx="12.0" ry="14.4" fill="rgb(5,70,5)"/>
<ellipse cx="168" cy="1107" rx="15.6" ry="13.2" fill="rgb(9,114,9)"/>
<ellipse cx="192" cy="1121" rx="9.6" ry="9.6" fill="rgb(5,63,5)"/>
<ellipse cx="169" cy="1158" rx="12.0" ry="12.0" fill="rgb(3,44,3)"/>
<ellipse cx="76" cy="1169" rx="12.0" ry="9.6" fill="rgb(3,44,3)"/>
<ellipse cx="108" cy="1195" rx="12.0" ry="10.8" fill="rgb(3,44,3)"/>
<ellipse cx="139" cy="1205" rx="13.2" ry="10.8" fill="rgb(5,70,5)"/>
<ellipse cx="186" cy="1212" rx="13.2" ry="12.0" fill="rgb(7,89,7)"/>
<ellipse cx="49" cy="1234" rx="16.8" ry="12.0" fill="rgb(8,102,8)"/>
<ellipse cx="136" cy="1256" rx="13.2" ry="10.8" fill="rgb(5,70,5)"/>
<ellipse cx="180" cy="1264" rx="12.0" ry="9.6" fill="rgb(6,76,6)"/>
<ellipse cx="140" cy="1015" rx="7.2" ry="7.2" fill="rgb(3,44,3)"/>
<ellipse cx="110" cy="1130" rx="14.4" ry="12.0" fill="rgb(2,25,2)"/>
<ellipse cx="150" cy="1140" rx="16.8" ry="14.4" fill="rgb(1,22,1)"/>
</g><g filter="url(#b3)" style="mix-blend-mode:screen">
<ellipse cx="67" cy="1010" rx="8.8" ry="7.2" fill="rgb(9,134,9)"/>
<ellipse transform="rotate(176 71.5 1013.2)" cx="71.5" cy="1013.2" rx="7.9" ry="2.9" fill="rgb(9,125,9)"/>
<ellipse transform="rotate(19 66.0 1009.9)" cx="66.0" cy="1009.9" rx="6.7" ry="3.2" fill="rgb(9,130,9)"/>
<ellipse cx="76" cy="1058" rx="8.8" ry="8.0" fill="rgb(10,147,10)"/>
<ellipse transform="rotate(61 71.4 1058.4)" cx="71.4" cy="1058.4" rx="7.6" ry="4.1" fill="rgb(10,145,10)"/>
<ellipse transform="rotate(124 72.2 1053.5)" cx="72.2" cy="1053.5" rx="7.1" ry="4.3" fill="rgb(10,132,10)"/>
<ellipse cx="67" cy="1095" rx="11.2" ry="9.6" fill="rgb(15,208,15)"/>
<ellipse transform="rotate(10 65.7 1099.9)" cx="65.7" cy="1099.9" rx="10.3" ry="4.5" fill="rgb(15,168,15)"/>
<ellipse transform="rotate(53 64.6 1094.2)" cx="64.6" cy="1094.2" rx="7.4" ry="5.3" fill="rgb(15,195,15)"/>
<ellipse cx="40" cy="1115" rx="8.0" ry="7.2" fill="rgb(10,147,10)"/>
<ellipse transform="rotate(131 42.1 1113.6)" cx="42.1" cy="1113.6" rx="6.9" ry="2.9" fill="rgb(10,123,10)"/>
<ellipse transform="rotate(110 38.2 1115.5)" cx="38.2" cy="1115.5" rx="5.1" ry="3.9" fill="rgb(10,127,10)"/>
<ellipse cx="32" cy="1048" rx="7.2" ry="6.4" fill="rgb(9,122,9)"/>
<ellipse transform="rotate(37 35.3 1046.2)" cx="35.3" cy="1046.2" rx="5.1" ry="2.6" fill="rgb(9,110,9)"/>
<ellipse transform="rotate(159 28.2 1049.0)" cx="28.2" cy="1049.0" rx="6.1" ry="4.1" fill="rgb(9,115,9)"/>
<ellipse cx="57" cy="1077" rx="5.6" ry="5.6" fill="rgb(6,85,6)"/>
<ellipse transform="rotate(69 59.4 1075.4)" cx="59.4" cy="1075.4" rx="5.5" ry="3.2" fill="rgb(6,84,6)"/>
<ellipse transform="rotate(16 57.9 1075.9)" cx="57.9" cy="1075.9" rx="4.0" ry="3.2" fill="rgb(6,70,6)"/>
<ellipse cx="148" cy="1067" rx="8.0" ry="7.2" fill="rgb(9,134,9)"/>
<ellipse transform="rotate(164 149.6 1068.2)" cx="149.6" cy="1068.2" rx="5.6" ry="2.9" fill="rgb(9,100,9)"/>
<ellipse transform="rotate(84 146.7 1070.7)" cx="146.7" cy="1070.7" rx="5.5" ry="3.5" fill="rgb(9,127,9)"/>
<ellipse cx="188" cy="1081" rx="8.0" ry="9.6" fill="rgb(9,134,9)"/>
<ellipse transform="rotate(131 191.0 1078.5)" cx="191.0" cy="1078.5" rx="7.0" ry="3.7" fill="rgb(9,120,9)"/>
<ellipse transform="rotate(68 186.6 1086.8)" cx="186.6" cy="1086.8" rx="8.0" ry="5.4" fill="rgb(9,109,9)"/>
<ellipse cx="168" cy="1107" rx="10.4" ry="8.8" fill="rgb(16,220,16)"/>
<ellipse transform="rotate(112 170.6 1106.8)" cx="170.6" cy="1106.8" rx="7.6" ry="4.1" fill="rgb(16,186,16)"/>
<ellipse transform="rotate(16 164.5 1109.1)" cx="164.5" cy="1109.1" rx="8.5" ry="6.0" fill="rgb(16,171,16)"/>
<ellipse cx="192" cy="1121" rx="6.4" ry="6.4" fill="rgb(9,122,9)"/>
<ellipse transform="rotate(133 194.3 1122.4)" cx="194.3" cy="1122.4" rx="5.2" ry="2.4" fill="rgb(9,97,9)"/>
<ellipse transform="rotate(21 192.2 1117.3)" cx="192.2" cy="1117.3" rx="4.8" ry="3.4" fill="rgb(9,95,9)"/>
<ellipse cx="169" cy="1158" rx="8.0" ry="8.0" fill="rgb(6,85,6)"/>
<ellipse transform="rotate(22 166.2 1153.8)" cx="166.2" cy="1153.8" rx="8.0" ry="5.3" fill="rgb(6,83,6)"/>
<ellipse transform="rotate(158 165.4 1155.0)" cx="165.4" cy="1155.0" rx="5.4" ry="4.6" fill="rgb(6,64,6)"/>
<ellipse cx="76" cy="1169" rx="8.0" ry="6.4" fill="rgb(6,85,6)"/>
<ellipse transform="rotate(152 80.6 1172.4)" cx="80.6" cy="1172.4" rx="7.2" ry="4.3" fill="rgb(6,70,6)"/>
<ellipse transform="rotate(137 80.0 1172.8)" cx="80.0" cy="1172.8" rx="7.1" ry="3.2" fill="rgb(6,80,6)"/>
<ellipse cx="108" cy="1195" rx="8.0" ry="7.2" fill="rgb(6,85,6)"/>
<ellipse transform="rotate(103 108.7 1198.9)" cx="108.7" cy="1198.9" rx="6.3" ry="4.7" fill="rgb(6,64,6)"/>
<ellipse transform="rotate(168 110.1 1194.8)" cx="110.1" cy="1194.8" rx="5.7" ry="4.3" fill="rgb(6,79,6)"/>
<ellipse cx="139" cy="1205" rx="8.8" ry="7.2" fill="rgb(9,134,9)"/>
<ellipse transform="rotate(169 143.1 1200.6)" cx="143.1" cy="1200.6" rx="8.3" ry="2.7" fill="rgb(9,114,9)"/>
<ellipse transform="rotate(39 137.0 1203.2)" cx="137.0" cy="1203.2" rx="8.1" ry="4.2" fill="rgb(9,122,9)"/>
<ellipse cx="186" cy="1212" rx="8.8" ry="8.0" fill="rgb(12,171,12)"/>
<ellipse transform="rotate(52 190.5 1208.1)" cx="190.5" cy="1208.1" rx="8.1" ry="4.8" fill="rgb(12,145,12)"/>
<ellipse transform="rotate(95 191.4 1215.7)" cx="191.4" cy="1215.7" rx="8.2" ry="4.3" fill="rgb(12,159,12)"/>
<ellipse cx="49" cy="1234" rx="11.2" ry="8.0" fill="rgb(14,196,14)"/>
<ellipse transform="rotate(150 51.5 1237.5)" cx="51.5" cy="1237.5" rx="7.1" ry="4.8" fill="rgb(14,154,14)"/>
<ellipse transform="rotate(153 53.4 1230.9)" cx="53.4" cy="1230.9" rx="7.7" ry="3.4" fill="rgb(14,184,14)"/>
<ellipse cx="136" cy="1256" rx="8.8" ry="7.2" fill="rgb(9,134,9)"/>
<ellipse transform="rotate(29 137.7 1257.1)" cx="137.7" cy="1257.1" rx="6.2" ry="4.6" fill="rgb(9,130,9)"/>
<ellipse transform="rotate(126 140.9 1252.6)" cx="140.9" cy="1252.6" rx="8.5" ry="3.7" fill="rgb(9,118,9)"/>
<ellipse cx="180" cy="1264" rx="8.0" ry="6.4" fill="rgb(10,147,10)"/>
<ellipse transform="rotate(152 179.1 1261.9)" cx="179.1" cy="1261.9" rx="7.7" ry="2.5" fill="rgb(10,122,10)"/>
<ellipse transform="rotate(130 183.9 1260.2)" cx="183.9" cy="1260.2" rx="6.0" ry="3.6" fill="rgb(10,145,10)"/>
<ellipse cx="140" cy="1015" rx="4.8" ry="4.8" fill="rgb(6,85,6)"/>
<ellipse transform="rotate(151 139.5 1012.4)" cx="139.5" cy="1012.4" rx="4.4" ry="1.9" fill="rgb(6,74,6)"/>
<ellipse transform="rotate(147 138.0 1013.4)" cx="138.0" cy="1013.4" rx="3.0" ry="2.4" fill="rgb(6,64,6)"/>
<ellipse cx="110" cy="1130" rx="9.6" ry="8.0" fill="rgb(3,49,3)"/>
<ellipse transform="rotate(155 108.6 1133.5)" cx="108.6" cy="1133.5" rx="8.7" ry="3.9" fill="rgb(3,39,3)"/>
<ellipse transform="rotate(13 113.2 1131.6)" cx="113.2" cy="1131.6" rx="7.5" ry="4.1" fill="rgb(3,42,3)"/>
<ellipse cx="150" cy="1140" rx="11.2" ry="9.6" fill="rgb(3,44,3)"/>
<ellipse transform="rotate(72 150.8 1142.3)" cx="150.8" cy="1142.3" rx="10.5" ry="5.6" fill="rgb(3,38,3)"/>
<ellipse transform="rotate(49 145.7 1135.7)" cx="145.7" cy="1135.7" rx="8.6" ry="6.2" fill="rgb(3,43,3)"/>
</g><g filter="url(#b2)">
</g></g>
<g clip-path="url(#cb1)">
<rect x="211.9" y="999.5" width="175.4" height="291.5" fill="rgb(0, 6, 0)"/>
<g filter="url(#b5)" style="mix-blend-mode:screen">
<ellipse cx="355" cy="1025" rx="15.6" ry="16.8" fill="rgb(6,76,6)"/>
<ellipse cx="223" cy="1048" rx="15.6" ry="13.2" fill="rgb(8,108,8)"/>
<ellipse cx="267" cy="1079" rx="16.8" ry="14.4" fill="rgb(4,51,4)"/>
<ellipse cx="369" cy="1088" rx="19.2" ry="12.0" fill="rgb(8,108,8)"/>
<ellipse cx="246" cy="1123" rx="15.6" ry="14.4" fill="rgb(6,82,6)"/>
<ellipse cx="237" cy="1170" rx="15.6" ry="15.6" fill="rgb(3,44,3)"/>
<ellipse cx="250" cy="1223" rx="14.4" ry="9.6" fill="rgb(8,108,8)"/>
<ellipse cx="319" cy="1228" rx="14.4" ry="12.0" fill="rgb(7,89,7)"/>
<ellipse cx="374" cy="1226" rx="15.6" ry="14.4" fill="rgb(8,102,8)"/>
<ellipse cx="316" cy="1270" rx="14.4" ry="10.8" fill="rgb(8,108,8)"/>
<ellipse cx="365" cy="1265" rx="14.4" ry="12.0" fill="rgb(5,63,5)"/>
<ellipse cx="300" cy="1190" rx="16.8" ry="14.4" fill="rgb(1,19,1)"/>
</g><g filter="url(#b3)" style="mix-blend-mode:screen">
<ellipse cx="355" cy="1025" rx="10.4" ry="11.2" fill="rgb(10,147,10)"/>
<ellipse transform="rotate(66 361.0 1027.8)" cx="361.0" cy="1027.8" rx="8.5" ry="7.5" fill="rgb(10,137,10)"/>
<ellipse transform="rotate(123 355.0 1026.9)" cx="355.0" cy="1026.9" rx="7.2" ry="6.2" fill="rgb(10,133,10)"/>
<ellipse cx="223" cy="1048" rx="10.4" ry="8.8" fill="rgb(15,208,15)"/>
<ellipse transform="rotate(139 222.1 1050.0)" cx="222.1" cy="1050.0" rx="7.9" ry="4.0" fill="rgb(15,166,15)"/>
<ellipse transform="rotate(81 229.0 1047.9)" cx="229.0" cy="1047.9" rx="9.6" ry="5.7" fill="rgb(15,206,15)"/>
<ellipse cx="267" cy="1079" rx="11.2" ry="9.6" fill="rgb(7,98,7)"/>
<ellipse transform="rotate(67 267.0 1074.5)" cx="267.0" cy="1074.5" rx="8.7" ry="5.0" fill="rgb(7,75,7)"/>
<ellipse transform="rotate(96 266.7 1084.7)" cx="266.7" cy="1084.7" rx="7.8" ry="5.6" fill="rgb(7,77,7)"/>
<ellipse cx="369" cy="1088" rx="12.8" ry="8.0" fill="rgb(15,208,15)"/>
<ellipse transform="rotate(89 369.3 1087.1)" cx="369.3" cy="1087.1" rx="11.3" ry="4.5" fill="rgb(15,177,15)"/>
<ellipse transform="rotate(45 361.8 1088.0)" cx="361.8" cy="1088.0" rx="10.2" ry="4.9" fill="rgb(15,186,15)"/>
<ellipse cx="246" cy="1123" rx="10.4" ry="9.6" fill="rgb(11,159,11)"/>
<ellipse transform="rotate(111 252.0 1125.9)" cx="252.0" cy="1125.9" rx="6.9" ry="5.8" fill="rgb(11,139,11)"/>
<ellipse transform="rotate(105 242.1 1121.6)" cx="242.1" cy="1121.6" rx="9.9" ry="5.2" fill="rgb(11,129,11)"/>
<ellipse cx="237" cy="1170" rx="10.4" ry="10.4" fill="rgb(6,85,6)"/>
<ellipse transform="rotate(84 243.1 1163.8)" cx="243.1" cy="1163.8" rx="8.7" ry="6.0" fill="rgb(6,70,6)"/>
<ellipse transform="rotate(79 238.2 1175.7)" cx="238.2" cy="1175.7" rx="9.4" ry="5.7" fill="rgb(6,71,6)"/>
<ellipse cx="250" cy="1223" rx="9.6" ry="6.4" fill="rgb(15,208,15)"/>
<ellipse transform="rotate(41 247.2 1226.4)" cx="247.2" cy="1226.4" rx="7.9" ry="4.2" fill="rgb(15,159,15)"/>
<ellipse transform="rotate(110 254.3 1225.5)" cx="254.3" cy="1225.5" rx="7.0" ry="2.7" fill="rgb(15,182,15)"/>
<ellipse cx="319" cy="1228" rx="9.6" ry="8.0" fill="rgb(12,171,12)"/>
<ellipse transform="rotate(100 318.3 1231.3)" cx="318.3" cy="1231.3" rx="8.9" ry="4.4" fill="rgb(12,170,12)"/>
<ellipse transform="rotate(163 320.1 1227.2)" cx="320.1" cy="1227.2" rx="6.6" ry="5.3" fill="rgb(12,163,12)"/>
<ellipse cx="374" cy="1226" rx="10.4" ry="9.6" fill="rgb(14,196,14)"/>
<ellipse transform="rotate(134 376.3 1224.3)" cx="376.3" cy="1224.3" rx="9.2" ry="5.1" fill="rgb(14,167,14)"/>
<ellipse transform="rotate(160 375.7 1231.1)" cx="375.7" cy="1231.1" rx="8.0" ry="5.7" fill="rgb(14,170,14)"/>
<ellipse cx="316" cy="1270" rx="9.6" ry="7.2" fill="rgb(15,208,15)"/>
<ellipse transform="rotate(92 318.0 1266.4)" cx="318.0" cy="1266.4" rx="8.3" ry="3.1" fill="rgb(15,170,15)"/>
<ellipse transform="rotate(50 313.6 1267.8)" cx="313.6" cy="1267.8" rx="9.1" ry="4.1" fill="rgb(15,185,15)"/>
<ellipse cx="365" cy="1265" rx="9.6" ry="8.0" fill="rgb(9,122,9)"/>
<ellipse transform="rotate(70 366.8 1267.6)" cx="366.8" cy="1267.6" rx="8.3" ry="3.5" fill="rgb(9,104,9)"/>
<ellipse transform="rotate(159 368.0 1269.2)" cx="368.0" cy="1269.2" rx="9.3" ry="3.6" fill="rgb(9,93,9)"/>
<ellipse cx="300" cy="1190" rx="11.2" ry="9.6" fill="rgb(2,36,2)"/>
<ellipse transform="rotate(62 294.8 1191.4)" cx="294.8" cy="1191.4" rx="9.6" ry="5.2" fill="rgb(2,28,2)"/>
<ellipse transform="rotate(111 300.5 1190.1)" cx="300.5" cy="1190.1" rx="10.0" ry="5.7" fill="rgb(2,33,2)"/>
</g><g filter="url(#b2)">
<circle cx="248.1" cy="1119.3" r="1.6" fill="rgb(182,182,182)"/>
<circle cx="246.6" cy="1123.5" r="1.5" fill="rgb(182,182,182)"/>
<circle cx="245.0" cy="1121.1" r="2.0" fill="rgb(182,182,182)"/>
<circle cx="317.9" cy="1231.6" r="1.5" fill="rgb(194,194,194)"/>
<circle cx="320.4" cy="1227.8" r="1.3" fill="rgb(194,194,194)"/>
<circle cx="316.8" cy="1226.0" r="1.3" fill="rgb(194,194,194)"/>
<circle cx="324.6" cy="1233.1" r="1.4" fill="rgb(194,194,194)"/>
</g></g>
<g clip-path="url(#cb2)">
<rect x="395.6" y="999.5" width="178.7" height="291.5" fill="rgb(0, 0, 0)"/>
<g filter="url(#b5)" style="mix-blend-mode:screen">
<ellipse cx="472" cy="1018" rx="12.0" ry="13.2" fill="rgb(8,108,8)"/>
<ellipse cx="489" cy="1032" rx="13.2" ry="12.0" fill="rgb(8,108,8)"/>
<ellipse cx="559" cy="1085" rx="16.8" ry="12.0" fill="rgb(9,121,9)"/>
<ellipse cx="443" cy="1149" rx="15.6" ry="12.0" fill="rgb(8,108,8)"/>
<ellipse cx="504" cy="1180" rx="10.8" ry="9.6" fill="rgb(7,95,7)"/>
<ellipse cx="520" cy="1194" rx="13.2" ry="10.8" fill="rgb(9,121,9)"/>
<ellipse cx="462" cy="1233" rx="15.6" ry="12.0" fill="rgb(8,102,8)"/>
<ellipse cx="456" cy="1276" rx="14.4" ry="12.0" fill="rgb(8,108,8)"/>
<ellipse cx="562" cy="1186" rx="10.8" ry="12.0" fill="rgb(3,44,3)"/>
<ellipse cx="499" cy="1239" rx="8.4" ry="9.6" fill="rgb(5,63,5)"/>
<ellipse cx="398" cy="1233" rx="9.6" ry="14.4" fill="rgb(5,63,5)"/>
<ellipse cx="533" cy="1074" rx="9.6" ry="10.8" fill="rgb(3,44,3)"/>
<ellipse cx="520" cy="1053" rx="7.2" ry="8.4" fill="rgb(3,38,3)"/>
<ellipse cx="455" cy="1098" rx="9.6" ry="9.6" fill="rgb(2,25,2)"/>
</g><g filter="url(#b3)" style="mix-blend-mode:screen">
<ellipse cx="472" cy="1018" rx="8.0" ry="8.8" fill="rgb(15,208,15)"/>
<ellipse transform="rotate(168 472.8 1015.2)" cx="472.8" cy="1015.2" rx="7.1" ry="3.5" fill="rgb(15,161,15)"/>
<ellipse transform="rotate(171 472.3 1016.1)" cx="472.3" cy="1016.1" rx="7.5" ry="3.4" fill="rgb(15,178,15)"/>
<ellipse cx="489" cy="1032" rx="8.8" ry="8.0" fill="rgb(15,208,15)"/>
<ellipse transform="rotate(67 486.1 1036.9)" cx="486.1" cy="1036.9" rx="6.4" ry="3.9" fill="rgb(15,157,15)"/>
<ellipse transform="rotate(55 489.3 1030.8)" cx="489.3" cy="1030.8" rx="7.0" ry="3.5" fill="rgb(15,180,15)"/>
<ellipse cx="559" cy="1085" rx="11.2" ry="8.0" fill="rgb(17,232,17)"/>
<ellipse transform="rotate(103 559.3 1085.8)" cx="559.3" cy="1085.8" rx="8.9" ry="3.5" fill="rgb(17,216,17)"/>
<ellipse transform="rotate(55 565.2 1081.2)" cx="565.2" cy="1081.2" rx="8.7" ry="3.5" fill="rgb(17,198,17)"/>
<ellipse cx="555.5" cy="1083.0" rx="10.5" ry="7.5" fill="rgb(240,125,240)" opacity="0.24"/>
<ellipse cx="443" cy="1149" rx="10.4" ry="8.0" fill="rgb(15,208,15)"/>
<ellipse transform="rotate(98 447.7 1147.0)" cx="447.7" cy="1147.0" rx="7.0" ry="4.1" fill="rgb(15,187,15)"/>
<ellipse transform="rotate(131 438.2 1149.4)" cx="438.2" cy="1149.4" rx="10.2" ry="3.3" fill="rgb(15,200,15)"/>
<ellipse cx="504" cy="1180" rx="7.2" ry="6.4" fill="rgb(13,183,13)"/>
<ellipse transform="rotate(67 503.6 1181.3)" cx="503.6" cy="1181.3" rx="5.8" ry="4.1" fill="rgb(13,180,13)"/>
<ellipse transform="rotate(125 500.1 1179.1)" cx="500.1" cy="1179.1" rx="5.8" ry="4.1" fill="rgb(13,175,13)"/>
<ellipse cx="520" cy="1194" rx="8.8" ry="7.2" fill="rgb(17,232,17)"/>
<ellipse transform="rotate(128 522.9 1193.2)" cx="522.9" cy="1193.2" rx="5.9" ry="4.7" fill="rgb(17,203,17)"/>
<ellipse transform="rotate(42 523.8 1197.5)" cx="523.8" cy="1197.5" rx="5.6" ry="3.8" fill="rgb(17,219,17)"/>
<ellipse cx="462" cy="1233" rx="10.4" ry="8.0" fill="rgb(14,196,14)"/>
<ellipse transform="rotate(69 459.4 1233.1)" cx="459.4" cy="1233.1" rx="8.2" ry="4.9" fill="rgb(14,173,14)"/>
<ellipse transform="rotate(36 464.1 1230.8)" cx="464.1" cy="1230.8" rx="7.8" ry="4.1" fill="rgb(14,158,14)"/>
<ellipse cx="456" cy="1276" rx="9.6" ry="8.0" fill="rgb(15,208,15)"/>
<ellipse transform="rotate(177 456.1 1278.6)" cx="456.1" cy="1278.6" rx="7.1" ry="4.3" fill="rgb(15,169,15)"/>
<ellipse transform="rotate(7 450.1 1277.3)" cx="450.1" cy="1277.3" rx="8.1" ry="4.0" fill="rgb(15,186,15)"/>
<ellipse cx="562" cy="1186" rx="7.2" ry="8.0" fill="rgb(6,85,6)"/>
<ellipse transform="rotate(3 566.4 1184.1)" cx="566.4" cy="1184.1" rx="5.1" ry="4.8" fill="rgb(6,66,6)"/>
<ellipse transform="rotate(159 564.2 1184.5)" cx="564.2" cy="1184.5" rx="5.1" ry="4.4" fill="rgb(6,67,6)"/>
<ellipse cx="499" cy="1239" rx="5.6" ry="6.4" fill="rgb(9,122,9)"/>
<ellipse transform="rotate(56 499.2 1241.3)" cx="499.2" cy="1241.3" rx="4.8" ry="3.8" fill="rgb(9,119,9)"/>
<ellipse transform="rotate(101 499.5 1236.7)" cx="499.5" cy="1236.7" rx="3.5" ry="3.1" fill="rgb(9,120,9)"/>
<ellipse cx="427.8" cy="1248.0" rx="6.8" ry="3.8" fill="rgb(240,125,240)" opacity="0.72"/>
<ellipse cx="398" cy="1233" rx="6.4" ry="9.6" fill="rgb(9,122,9)"/>
<ellipse transform="rotate(139 396.5 1230.1)" cx="396.5" cy="1230.1" rx="4.3" ry="5.7" fill="rgb(9,111,9)"/>
<ellipse transform="rotate(3 401.0 1227.8)" cx="401.0" cy="1227.8" rx="6.1" ry="5.3" fill="rgb(9,109,9)"/>
<ellipse cx="533" cy="1074" rx="6.4" ry="7.2" fill="rgb(6,85,6)"/>
<ellipse transform="rotate(102 533.0 1073.2)" cx="533.0" cy="1073.2" rx="5.4" ry="4.4" fill="rgb(6,83,6)"/>
<ellipse transform="rotate(138 532.7 1077.5)" cx="532.7" cy="1077.5" rx="4.7" ry="3.4" fill="rgb(6,74,6)"/>
<ellipse cx="520" cy="1053" rx="4.8" ry="5.6" fill="rgb(5,73,5)"/>
<ellipse transform="rotate(13 522.9 1054.0)" cx="522.9" cy="1054.0" rx="3.8" ry="3.1" fill="rgb(5,64,5)"/>
<ellipse transform="rotate(87 518.7 1055.8)" cx="518.7" cy="1055.8" rx="3.5" ry="3.7" fill="rgb(5,69,5)"/>
<ellipse cx="455" cy="1098" rx="6.4" ry="6.4" fill="rgb(3,49,3)"/>
<ellipse transform="rotate(78 455.4 1098.4)" cx="455.4" cy="1098.4" rx="5.4" ry="3.5" fill="rgb(3,48,3)"/>
<ellipse transform="rotate(49 453.9 1097.7)" cx="453.9" cy="1097.7" rx="4.6" ry="2.6" fill="rgb(3,42,3)"/>
</g><g filter="url(#b2)">
<circle cx="471.9" cy="1018.2" r="1.7" fill="rgb(178,178,178)"/>
<circle cx="477.6" cy="1022.2" r="1.3" fill="rgb(178,178,178)"/>
<circle cx="488.4" cy="1036.1" r="1.3" fill="rgb(182,182,182)"/>
<circle cx="488.6" cy="1029.8" r="1.9" fill="rgb(182,182,182)"/>
<circle cx="489.5" cy="1032.1" r="1.9" fill="rgb(182,182,182)"/>
<circle cx="558.0" cy="1083.2" r="1.6" fill="rgb(178,178,178)"/>
<circle cx="555.6" cy="1087.9" r="1.3" fill="rgb(178,178,178)"/>
<circle cx="436.9" cy="1147.8" r="1.8" fill="rgb(186,186,186)"/>
<circle cx="442.8" cy="1153.3" r="1.6" fill="rgb(186,186,186)"/>
<circle cx="446.3" cy="1146.4" r="1.9" fill="rgb(186,186,186)"/>
<circle cx="506.5" cy="1178.9" r="1.4" fill="rgb(178,178,178)"/>
<circle cx="507.8" cy="1179.3" r="1.5" fill="rgb(178,178,178)"/>
<circle cx="520.9" cy="1190.0" r="1.5" fill="rgb(182,182,182)"/>
<circle cx="518.8" cy="1192.5" r="1.4" fill="rgb(182,182,182)"/>
<circle cx="525.9" cy="1194.3" r="1.8" fill="rgb(182,182,182)"/>
<circle cx="461.2" cy="1225.7" r="1.8" fill="rgb(178,178,178)"/>
<circle cx="464.4" cy="1234.5" r="1.9" fill="rgb(178,178,178)"/>
<circle cx="462.2" cy="1280.1" r="1.8" fill="rgb(178,178,178)"/>
<circle cx="457.1" cy="1277.3" r="1.7" fill="rgb(178,178,178)"/>
<circle cx="428.0" cy="1248.9" r="1.4" fill="rgb(245,150,245)"/>
<circle cx="431.1" cy="1253.0" r="1.4" fill="rgb(245,150,245)"/>
<circle cx="431.7" cy="1249.2" r="0.9" fill="rgb(245,150,245)"/>
<circle cx="434.8" cy="1246.5" r="1.5" fill="rgb(245,150,245)"/>
<circle cx="436.6" cy="1249.1" r="1.1" fill="rgb(245,150,245)"/>
<circle cx="424.2" cy="1245.9" r="1.4" fill="rgb(245,150,245)"/>
<circle cx="429.8" cy="1249.8" r="1.6" fill="rgb(245,150,245)"/>
</g></g>
<g clip-path="url(#cb3)">
<rect x="582.6" y="999.5" width="176.0" height="291.5" fill="rgb(0, 0, 0)"/>
<g filter="url(#b5)" style="mix-blend-mode:screen">
<ellipse cx="628" cy="1021" rx="10.8" ry="13.2" fill="rgb(6,82,6)"/>
<ellipse cx="657" cy="1072" rx="9.6" ry="10.8" fill="rgb(4,57,4)"/>
<ellipse cx="660" cy="1096" rx="12.0" ry="12.0" fill="rgb(8,108,8)"/>
<ellipse cx="665" cy="1110" rx="9.6" ry="7.2" fill="rgb(1,12,1)"/>
<ellipse cx="712" cy="1082" rx="12.0" ry="15.6" fill="rgb(5,70,5)"/>
<ellipse cx="755" cy="1048" rx="8.4" ry="12.0" fill="rgb(8,102,8)"/>
<ellipse cx="615" cy="1080" rx="9.6" ry="8.4" fill="rgb(3,38,3)"/>
<ellipse cx="731" cy="1170" rx="19.2" ry="14.4" fill="rgb(6,76,6)"/>
<ellipse cx="602" cy="1223" rx="13.2" ry="13.2" fill="rgb(8,102,8)"/>
<ellipse cx="686" cy="1252" rx="12.0" ry="12.0" fill="rgb(5,70,5)"/>
<ellipse cx="750" cy="1268" rx="9.6" ry="12.0" fill="rgb(3,44,3)"/>
<ellipse cx="726" cy="1191" rx="9.6" ry="9.6" fill="rgb(3,44,3)"/>
<ellipse cx="680" cy="1030" rx="9.6" ry="7.2" fill="rgb(3,38,3)"/>
</g><g filter="url(#b3)" style="mix-blend-mode:screen">
<ellipse cx="628" cy="1021" rx="7.2" ry="8.8" fill="rgb(11,159,11)"/>
<ellipse transform="rotate(168 624.6 1019.6)" cx="624.6" cy="1019.6" rx="4.9" ry="5.1" fill="rgb(11,135,11)"/>
<ellipse transform="rotate(66 626.6 1024.2)" cx="626.6" cy="1024.2" rx="6.7" ry="3.8" fill="rgb(11,152,11)"/>
<ellipse cx="657" cy="1072" rx="6.4" ry="7.2" fill="rgb(8,110,8)"/>
<ellipse transform="rotate(22 657.4 1071.5)" cx="657.4" cy="1071.5" rx="4.8" ry="4.1" fill="rgb(8,107,8)"/>
<ellipse transform="rotate(176 653.5 1076.1)" cx="653.5" cy="1076.1" rx="4.3" ry="4.2" fill="rgb(8,101,8)"/>
<ellipse cx="660" cy="1096" rx="8.0" ry="8.0" fill="rgb(15,208,15)"/>
<ellipse transform="rotate(39 659.7 1095.7)" cx="659.7" cy="1095.7" rx="7.5" ry="4.5" fill="rgb(15,163,15)"/>
<ellipse transform="rotate(72 662.5 1098.4)" cx="662.5" cy="1098.4" rx="5.9" ry="4.6" fill="rgb(15,184,15)"/>
<ellipse cx="665" cy="1110" rx="6.4" ry="4.8" fill="rgb(1,24,1)"/>
<ellipse transform="rotate(53 664.4 1111.7)" cx="664.4" cy="1111.7" rx="4.2" ry="1.9" fill="rgb(1,20,1)"/>
<ellipse transform="rotate(76 662.7 1107.1)" cx="662.7" cy="1107.1" rx="6.1" ry="1.9" fill="rgb(1,20,1)"/>
<ellipse cx="663.0" cy="1108.8" rx="6.0" ry="4.5" fill="rgb(240,125,240)" opacity="0.84"/>
<ellipse cx="712" cy="1082" rx="8.0" ry="10.4" fill="rgb(9,134,9)"/>
<ellipse transform="rotate(149 716.9 1076.7)" cx="716.9" cy="1076.7" rx="5.7" ry="5.9" fill="rgb(9,112,9)"/>
<ellipse transform="rotate(24 710.6 1075.7)" cx="710.6" cy="1075.7" rx="7.2" ry="7.1" fill="rgb(9,123,9)"/>
<ellipse cx="709.5" cy="1079.4" rx="7.5" ry="9.8" fill="rgb(240,125,240)" opacity="0.36"/>
<ellipse cx="755" cy="1048" rx="5.6" ry="8.0" fill="rgb(14,196,14)"/>
<ellipse transform="rotate(62 753.3 1050.7)" cx="753.3" cy="1050.7" rx="4.1" ry="4.0" fill="rgb(14,172,14)"/>
<ellipse transform="rotate(76 757.9 1045.5)" cx="757.9" cy="1045.5" rx="4.4" ry="5.0" fill="rgb(14,191,14)"/>
<ellipse cx="615" cy="1080" rx="6.4" ry="5.6" fill="rgb(5,73,5)"/>
<ellipse transform="rotate(130 615.3 1078.9)" cx="615.3" cy="1078.9" rx="4.9" ry="3.8" fill="rgb(5,66,5)"/>
<ellipse transform="rotate(130 611.7 1082.4)" cx="611.7" cy="1082.4" rx="5.1" ry="3.4" fill="rgb(5,67,5)"/>
<ellipse cx="731" cy="1170" rx="12.8" ry="9.6" fill="rgb(10,147,10)"/>
<ellipse transform="rotate(156 723.7 1172.0)" cx="723.7" cy="1172.0" rx="11.6" ry="5.7" fill="rgb(10,125,10)"/>
<ellipse transform="rotate(87 731.0 1173.2)" cx="731.0" cy="1173.2" rx="10.5" ry="5.9" fill="rgb(10,114,10)"/>
<ellipse cx="602" cy="1223" rx="8.8" ry="8.8" fill="rgb(14,196,14)"/>
<ellipse transform="rotate(150 598.3 1222.6)" cx="598.3" cy="1222.6" rx="8.3" ry="4.3" fill="rgb(14,147,14)"/>
<ellipse transform="rotate(103 600.5 1225.2)" cx="600.5" cy="1225.2" rx="6.0" ry="4.5" fill="rgb(14,161,14)"/>
<ellipse cx="586.5" cy="1224.2" rx="4.5" ry="6.8" fill="rgb(240,125,240)" opacity="0.72"/>
<ellipse cx="686" cy="1252" rx="8.0" ry="8.0" fill="rgb(9,134,9)"/>
<ellipse transform="rotate(129 689.9 1256.9)" cx="689.9" cy="1256.9" rx="7.1" ry="5.3" fill="rgb(9,123,9)"/>
<ellipse transform="rotate(152 682.6 1248.4)" cx="682.6" cy="1248.4" rx="6.6" ry="4.0" fill="rgb(9,101,9)"/>
<ellipse cx="750" cy="1268" rx="6.4" ry="8.0" fill="rgb(6,85,6)"/>
<ellipse transform="rotate(41 753.3 1269.2)" cx="753.3" cy="1269.2" rx="5.1" ry="4.4" fill="rgb(6,65,6)"/>
<ellipse transform="rotate(11 749.7 1268.8)" cx="749.7" cy="1268.8" rx="6.0" ry="3.7" fill="rgb(6,71,6)"/>
<ellipse cx="726" cy="1191" rx="6.4" ry="6.4" fill="rgb(6,85,6)"/>
<ellipse transform="rotate(169 723.5 1188.4)" cx="723.5" cy="1188.4" rx="5.0" ry="3.1" fill="rgb(6,82,6)"/>
<ellipse transform="rotate(164 724.9 1194.1)" cx="724.9" cy="1194.1" rx="6.1" ry="3.8" fill="rgb(6,83,6)"/>
<ellipse cx="680" cy="1030" rx="6.4" ry="4.8" fill="rgb(5,73,5)"/>
<ellipse transform="rotate(30 676.9 1032.7)" cx="676.9" cy="1032.7" rx="4.9" ry="1.9" fill="rgb(5,68,5)"/>
<ellipse transform="rotate(160 681.3 1028.5)" cx="681.3" cy="1028.5" rx="5.6" ry="2.5" fill="rgb(5,58,5)"/>
</g><g filter="url(#b2)">
<circle cx="629.8" cy="1021.7" r="1.3" fill="rgb(182,182,182)"/>
<circle cx="628.8" cy="1014.7" r="1.9" fill="rgb(182,182,182)"/>
<circle cx="628.7" cy="1022.5" r="1.4" fill="rgb(182,182,182)"/>
<circle cx="662.7" cy="1111.1" r="1.6" fill="rgb(245,150,245)"/>
<circle cx="667.7" cy="1110.1" r="1.0" fill="rgb(245,150,245)"/>
<circle cx="662.5" cy="1111.6" r="1.3" fill="rgb(245,150,245)"/>
<circle cx="668.9" cy="1108.3" r="1.3" fill="rgb(245,150,245)"/>
<circle cx="665.4" cy="1109.9" r="1.1" fill="rgb(245,150,245)"/>
<circle cx="659.4" cy="1106.5" r="1.6" fill="rgb(245,150,245)"/>
<circle cx="657.6" cy="1109.8" r="1.2" fill="rgb(245,150,245)"/>
<circle cx="669.0" cy="1108.6" r="1.6" fill="rgb(245,150,245)"/>
<circle cx="705.3" cy="1079.8" r="1.5" fill="rgb(186,186,186)"/>
<circle cx="715.2" cy="1080.7" r="2.0" fill="rgb(186,186,186)"/>
<circle cx="710.4" cy="1086.6" r="1.6" fill="rgb(186,186,186)"/>
<circle cx="721.4" cy="1167.7" r="1.8" fill="rgb(194,194,194)"/>
<circle cx="734.5" cy="1175.8" r="1.5" fill="rgb(194,194,194)"/>
<circle cx="729.9" cy="1170.6" r="1.9" fill="rgb(194,194,194)"/>
<circle cx="739.7" cy="1169.5" r="1.6" fill="rgb(194,194,194)"/>
<circle cx="588.5" cy="1227.4" r="1.2" fill="rgb(245,150,245)"/>
<circle cx="588.7" cy="1227.7" r="1.2" fill="rgb(245,150,245)"/>
<circle cx="586.4" cy="1226.3" r="1.0" fill="rgb(245,150,245)"/>
<circle cx="590.0" cy="1224.5" r="1.1" fill="rgb(245,150,245)"/>
<circle cx="584.7" cy="1227.0" r="1.3" fill="rgb(245,150,245)"/>
<circle cx="588.8" cy="1232.0" r="1.7" fill="rgb(245,150,245)"/>
<circle cx="582.8" cy="1219.8" r="1.6" fill="rgb(245,150,245)"/>
</g></g>
<g clip-path="url(#cb4)">
<rect x="766.5" y="999.5" width="177.5" height="291.5" fill="rgb(0, 20, 0)"/>
<g style="mix-blend-mode:screen"><ellipse cx="860" cy="1190" rx="110" ry="130" fill="url(#hz1)"/><ellipse cx="905" cy="1070" rx="80" ry="80" fill="url(#hz2)"/><ellipse cx="800" cy="1060" rx="60" ry="70" fill="url(#hz2)"/></g>
<g filter="url(#b5)" style="mix-blend-mode:screen">
<ellipse cx="824" cy="1048" rx="13.2" ry="12.0" fill="rgb(9,121,9)"/>
<ellipse cx="787" cy="1074" rx="18.0" ry="13.2" fill="rgb(7,89,7)"/>
<ellipse cx="830" cy="1096" rx="14.4" ry="13.2" fill="rgb(9,121,9)"/>
<ellipse cx="896" cy="1081" rx="12.0" ry="12.0" fill="rgb(9,121,9)"/>
<ellipse cx="920" cy="1101" rx="13.2" ry="12.0" fill="rgb(9,121,9)"/>
<ellipse cx="935" cy="1059" rx="13.2" ry="12.0" fill="rgb(9,114,9)"/>
<ellipse cx="913" cy="1063" rx="9.6" ry="9.6" fill="rgb(8,108,8)"/>
<ellipse cx="940" cy="1138" rx="8.4" ry="12.0" fill="rgb(8,102,8)"/>
<ellipse cx="814" cy="1183" rx="15.6" ry="12.0" fill="rgb(9,121,9)"/>
<ellipse cx="846" cy="1186" rx="15.6" ry="14.4" fill="rgb(8,108,8)"/>
<ellipse cx="935" cy="1196" rx="12.0" ry="10.8" fill="rgb(9,114,9)"/>
<ellipse cx="906" cy="1228" rx="20.4" ry="16.8" fill="rgb(10,127,10)"/>
<ellipse cx="819" cy="1239" rx="20.4" ry="12.0" fill="rgb(9,114,9)"/>
</g><g filter="url(#b3)" style="mix-blend-mode:screen">
<ellipse cx="824" cy="1048" rx="8.8" ry="8.0" fill="rgb(17,232,17)"/>
<ellipse transform="rotate(124 824.4 1048.2)" cx="824.4" cy="1048.2" rx="5.8" ry="4.1" fill="rgb(17,195,17)"/>
<ellipse transform="rotate(7 827.5 1049.7)" cx="827.5" cy="1049.7" rx="5.7" ry="4.3" fill="rgb(17,221,17)"/>
<ellipse cx="787" cy="1074" rx="12.0" ry="8.8" fill="rgb(12,171,12)"/>
<ellipse transform="rotate(42 782.2 1071.8)" cx="782.2" cy="1071.8" rx="10.7" ry="5.7" fill="rgb(12,154,12)"/>
<ellipse transform="rotate(7 787.1 1069.2)" cx="787.1" cy="1069.2" rx="8.1" ry="3.8" fill="rgb(12,131,12)"/>
<ellipse cx="830" cy="1096" rx="9.6" ry="8.8" fill="rgb(17,232,17)"/>
<ellipse transform="rotate(153 827.6 1092.2)" cx="827.6" cy="1092.2" rx="7.7" ry="5.5" fill="rgb(17,194,17)"/>
<ellipse transform="rotate(7 826.2 1096.0)" cx="826.2" cy="1096.0" rx="9.3" ry="4.9" fill="rgb(17,202,17)"/>
<ellipse cx="896" cy="1081" rx="8.0" ry="8.0" fill="rgb(17,232,17)"/>
<ellipse transform="rotate(90 894.0 1082.3)" cx="894.0" cy="1082.3" rx="6.9" ry="4.8" fill="rgb(17,202,17)"/>
<ellipse transform="rotate(173 899.9 1085.8)" cx="899.9" cy="1085.8" rx="7.0" ry="5.0" fill="rgb(17,221,17)"/>
<ellipse cx="920" cy="1101" rx="8.8" ry="8.0" fill="rgb(17,232,17)"/>
<ellipse transform="rotate(152 916.6 1098.0)" cx="916.6" cy="1098.0" rx="5.6" ry="4.9" fill="rgb(17,199,17)"/>
<ellipse transform="rotate(166 916.0 1098.7)" cx="916.0" cy="1098.7" rx="8.2" ry="3.7" fill="rgb(17,184,17)"/>
<ellipse cx="935" cy="1059" rx="8.8" ry="8.0" fill="rgb(16,220,16)"/>
<ellipse transform="rotate(101 938.2 1057.8)" cx="938.2" cy="1057.8" rx="7.9" ry="3.5" fill="rgb(16,202,16)"/>
<ellipse transform="rotate(44 936.9 1055.7)" cx="936.9" cy="1055.7" rx="6.0" ry="4.0" fill="rgb(16,207,16)"/>
<ellipse cx="913" cy="1063" rx="6.4" ry="6.4" fill="rgb(15,208,15)"/>
<ellipse transform="rotate(32 909.9 1063.7)" cx="909.9" cy="1063.7" rx="6.3" ry="3.3" fill="rgb(15,174,15)"/>
<ellipse transform="rotate(47 913.0 1059.3)" cx="913.0" cy="1059.3" rx="5.5" ry="2.7" fill="rgb(15,161,15)"/>
<ellipse cx="940" cy="1138" rx="5.6" ry="8.0" fill="rgb(14,196,14)"/>
<ellipse transform="rotate(133 937.7 1134.4)" cx="937.7" cy="1134.4" rx="4.1" ry="3.8" fill="rgb(14,178,14)"/>
<ellipse transform="rotate(103 938.4 1138.5)" cx="938.4" cy="1138.5" rx="3.8" ry="4.6" fill="rgb(14,153,14)"/>
<ellipse cx="814" cy="1183" rx="10.4" ry="8.0" fill="rgb(17,232,17)"/>
<ellipse transform="rotate(32 811.1 1184.7)" cx="811.1" cy="1184.7" rx="6.8" ry="5.1" fill="rgb(17,179,17)"/>
<ellipse transform="rotate(64 814.5 1178.2)" cx="814.5" cy="1178.2" rx="7.4" ry="5.1" fill="rgb(17,210,17)"/>
<ellipse cx="846" cy="1186" rx="10.4" ry="9.6" fill="rgb(15,208,15)"/>
<ellipse transform="rotate(103 839.6 1186.3)" cx="839.6" cy="1186.3" rx="10.3" ry="5.2" fill="rgb(15,165,15)"/>
<ellipse transform="rotate(5 841.2 1189.1)" cx="841.2" cy="1189.1" rx="9.8" ry="5.5" fill="rgb(15,191,15)"/>
<ellipse cx="935" cy="1196" rx="8.0" ry="7.2" fill="rgb(16,220,16)"/>
<ellipse transform="rotate(149 930.2 1192.1)" cx="930.2" cy="1192.1" rx="5.8" ry="4.8" fill="rgb(16,211,16)"/>
<ellipse transform="rotate(159 938.1 1192.5)" cx="938.1" cy="1192.5" rx="6.0" ry="3.2" fill="rgb(16,165,16)"/>
<ellipse cx="906" cy="1228" rx="13.6" ry="11.2" fill="rgb(18,245,18)"/>
<ellipse transform="rotate(8 901.1 1228.0)" cx="901.1" cy="1228.0" rx="9.6" ry="6.6" fill="rgb(18,242,18)"/>
<ellipse transform="rotate(101 903.5 1233.8)" cx="903.5" cy="1233.8" rx="12.4" ry="6.2" fill="rgb(18,214,18)"/>
<ellipse cx="819" cy="1239" rx="13.6" ry="8.0" fill="rgb(16,220,16)"/>
<ellipse transform="rotate(144 818.2 1235.7)" cx="818.2" cy="1235.7" rx="10.9" ry="5.5" fill="rgb(16,199,16)"/>
<ellipse transform="rotate(29 818.4 1241.4)" cx="818.4" cy="1241.4" rx="11.7" ry="3.6" fill="rgb(16,184,16)"/>
<ellipse cx="814.8" cy="1237.0" rx="12.8" ry="7.5" fill="rgb(240,125,240)" opacity="0.18"/>
<ellipse cx="785.0" cy="1277.0" rx="6.0" ry="3.8" fill="rgb(240,125,240)" opacity="0.72"/>
<ellipse cx="898.0" cy="1244.0" rx="6.0" ry="3.8" fill="rgb(240,125,240)" opacity="0.60"/>
</g><g filter="url(#b2)">
<circle cx="798.1" cy="1073.8" r="1.6" fill="rgb(186,186,186)"/>
<circle cx="786.4" cy="1071.8" r="1.8" fill="rgb(186,186,186)"/>
<circle cx="790.3" cy="1071.1" r="1.6" fill="rgb(186,186,186)"/>
<circle cx="933.8" cy="1057.5" r="1.0" fill="rgb(178,178,178)"/>
<circle cx="936.8" cy="1062.6" r="1.6" fill="rgb(178,178,178)"/>
<circle cx="847.6" cy="1184.1" r="1.2" fill="rgb(178,178,178)"/>
<circle cx="844.6" cy="1186.7" r="1.3" fill="rgb(178,178,178)"/>
<circle cx="810.3" cy="1239.4" r="1.1" fill="rgb(182,182,182)"/>
<circle cx="821.8" cy="1242.1" r="1.5" fill="rgb(182,182,182)"/>
<circle cx="822.8" cy="1243.4" r="1.6" fill="rgb(182,182,182)"/>
<circle cx="792.8" cy="1276.9" r="1.5" fill="rgb(245,150,245)"/>
<circle cx="788.9" cy="1279.4" r="1.1" fill="rgb(245,150,245)"/>
<circle cx="785.3" cy="1278.4" r="1.5" fill="rgb(245,150,245)"/>
<circle cx="784.2" cy="1276.9" r="1.1" fill="rgb(245,150,245)"/>
<circle cx="789.8" cy="1277.9" r="1.5" fill="rgb(245,150,245)"/>
<circle cx="785.6" cy="1282.7" r="1.5" fill="rgb(245,150,245)"/>
<circle cx="784.5" cy="1278.0" r="1.3" fill="rgb(245,150,245)"/>
<circle cx="900.1" cy="1245.2" r="1.6" fill="rgb(245,150,245)"/>
<circle cx="899.7" cy="1245.7" r="1.2" fill="rgb(245,150,245)"/>
<circle cx="899.7" cy="1244.8" r="1.3" fill="rgb(245,150,245)"/>
<circle cx="898.0" cy="1245.0" r="1.4" fill="rgb(245,150,245)"/>
<circle cx="900.7" cy="1245.7" r="1.2" fill="rgb(245,150,245)"/>
<circle cx="901.9" cy="1245.0" r="1.2" fill="rgb(245,150,245)"/>
<circle cx="897.3" cy="1246.3" r="1.0" fill="rgb(245,150,245)"/>
<circle cx="929.2" cy="1121.9" r="1.4" fill="rgb(234,234,234)"/>
<circle cx="930.0" cy="1120.1" r="1.8" fill="rgb(234,234,234)"/>
<circle cx="929.8" cy="1120.8" r="1.8" fill="rgb(234,234,234)"/>
<circle cx="931.6" cy="1119.7" r="1.1" fill="rgb(234,234,234)"/>
<circle cx="931.2" cy="1118.0" r="1.0" fill="rgb(234,234,234)"/>
<circle cx="929.4" cy="1122.4" r="1.5" fill="rgb(234,234,234)"/>
<circle cx="931.3" cy="1122.6" r="1.2" fill="rgb(234,234,234)"/>
<circle cx="930.9" cy="1121.9" r="2.0" fill="rgb(234,234,234)"/>
</g></g>
<g clip-path="url(#cb5)">
<rect x="951.9" y="999.5" width="177.1" height="291.5" fill="rgb(0, 0, 0)"/>
<g filter="url(#b5)" style="mix-blend-mode:screen">
<ellipse cx="1040" cy="1046" rx="13.2" ry="15.6" fill="rgb(9,114,9)"/>
<ellipse cx="977" cy="1067" rx="9.6" ry="20.4" fill="rgb(9,114,9)"/>
<ellipse cx="980" cy="1100" rx="12.0" ry="13.2" fill="rgb(9,114,9)"/>
<ellipse cx="970" cy="1128" rx="9.6" ry="9.6" fill="rgb(5,70,5)"/>
<ellipse cx="1078" cy="1130" rx="16.8" ry="15.6" fill="rgb(9,121,9)"/>
<ellipse cx="1101" cy="1109" rx="9.6" ry="9.6" fill="rgb(4,51,4)"/>
<ellipse cx="1038" cy="1165" rx="13.2" ry="12.0" fill="rgb(9,121,9)"/>
<ellipse cx="1098" cy="1198" rx="16.8" ry="13.2" fill="rgb(9,114,9)"/>
<ellipse cx="1010" cy="1240" rx="16.8" ry="14.4" fill="rgb(8,108,8)"/>
<ellipse cx="1038" cy="1230" rx="14.4" ry="14.4" fill="rgb(7,95,7)"/>
<ellipse cx="1080" cy="1260" rx="12.0" ry="12.0" fill="rgb(8,108,8)"/>
<ellipse cx="975" cy="1277" rx="14.4" ry="12.0" fill="rgb(9,121,9)"/>
<ellipse cx="1117" cy="1037" rx="7.2" ry="14.4" fill="rgb(6,76,6)"/>
<ellipse cx="1000" cy="1140" rx="12.0" ry="24.0" fill="rgb(1,19,1)"/>
<ellipse cx="960" cy="1170" rx="9.6" ry="9.6" fill="rgb(3,38,3)"/>
</g><g filter="url(#b3)" style="mix-blend-mode:screen">
<ellipse cx="1040" cy="1046" rx="8.8" ry="10.4" fill="rgb(16,220,16)"/>
<ellipse transform="rotate(4 1042.3 1039.8)" cx="1042.3" cy="1039.8" rx="7.7" ry="7.0" fill="rgb(16,176,16)"/>
<ellipse transform="rotate(122 1035.8 1048.2)" cx="1035.8" cy="1048.2" rx="8.5" ry="4.9" fill="rgb(16,166,16)"/>
<ellipse cx="977" cy="1067" rx="6.4" ry="13.6" fill="rgb(16,220,16)"/>
<ellipse transform="rotate(98 976.0 1072.0)" cx="976.0" cy="1072.0" rx="4.1" ry="7.7" fill="rgb(16,199,16)"/>
<ellipse transform="rotate(139 974.2 1072.5)" cx="974.2" cy="1072.5" rx="5.5" ry="9.2" fill="rgb(16,200,16)"/>
<ellipse cx="980" cy="1100" rx="8.0" ry="8.8" fill="rgb(16,220,16)"/>
<ellipse transform="rotate(65 983.3 1102.4)" cx="983.3" cy="1102.4" rx="8.0" ry="3.5" fill="rgb(16,165,16)"/>
<ellipse transform="rotate(179 975.4 1101.0)" cx="975.4" cy="1101.0" rx="5.6" ry="3.4" fill="rgb(16,189,16)"/>
<ellipse cx="970" cy="1128" rx="6.4" ry="6.4" fill="rgb(9,134,9)"/>
<ellipse transform="rotate(63 967.3 1126.9)" cx="967.3" cy="1126.9" rx="6.1" ry="4.4" fill="rgb(9,109,9)"/>
<ellipse transform="rotate(125 973.8 1125.6)" cx="973.8" cy="1125.6" rx="5.1" ry="3.4" fill="rgb(9,105,9)"/>
<ellipse cx="1078" cy="1130" rx="11.2" ry="10.4" fill="rgb(17,232,17)"/>
<ellipse transform="rotate(40 1075.4 1133.7)" cx="1075.4" cy="1133.7" rx="10.2" ry="5.9" fill="rgb(17,220,17)"/>
<ellipse transform="rotate(145 1072.1 1125.1)" cx="1072.1" cy="1125.1" rx="8.0" ry="6.1" fill="rgb(17,229,17)"/>
<ellipse cx="1101" cy="1109" rx="6.4" ry="6.4" fill="rgb(7,98,7)"/>
<ellipse transform="rotate(24 1103.1 1112.0)" cx="1103.1" cy="1112.0" rx="4.2" ry="3.8" fill="rgb(7,78,7)"/>
<ellipse transform="rotate(30 1099.9 1110.6)" cx="1099.9" cy="1110.6" rx="4.7" ry="3.3" fill="rgb(7,89,7)"/>
<ellipse cx="1038" cy="1165" rx="8.8" ry="8.0" fill="rgb(17,232,17)"/>
<ellipse transform="rotate(34 1039.0 1169.5)" cx="1039.0" cy="1169.5" rx="5.7" ry="3.4" fill="rgb(17,219,17)"/>
<ellipse transform="rotate(151 1040.2 1160.8)" cx="1040.2" cy="1160.8" rx="6.2" ry="4.8" fill="rgb(17,225,17)"/>
<ellipse cx="1098" cy="1198" rx="11.2" ry="8.8" fill="rgb(16,220,16)"/>
<ellipse transform="rotate(89 1100.1 1203.3)" cx="1100.1" cy="1203.3" rx="10.7" ry="4.0" fill="rgb(16,185,16)"/>
<ellipse transform="rotate(73 1103.8 1196.5)" cx="1103.8" cy="1196.5" rx="10.2" ry="3.8" fill="rgb(16,210,16)"/>
<ellipse cx="1010" cy="1240" rx="11.2" ry="9.6" fill="rgb(15,208,15)"/>
<ellipse transform="rotate(72 1012.2 1245.9)" cx="1012.2" cy="1245.9" rx="9.8" ry="5.8" fill="rgb(15,185,15)"/>
<ellipse transform="rotate(32 1008.5 1238.6)" cx="1008.5" cy="1238.6" rx="8.4" ry="6.0" fill="rgb(15,188,15)"/>
<ellipse cx="1006.5" cy="1237.6" rx="10.5" ry="9.0" fill="rgb(240,125,240)" opacity="0.12"/>
<ellipse cx="1038" cy="1230" rx="9.6" ry="9.6" fill="rgb(13,183,13)"/>
<ellipse transform="rotate(29 1032.5 1233.1)" cx="1032.5" cy="1233.1" rx="9.0" ry="4.7" fill="rgb(13,176,13)"/>
<ellipse transform="rotate(37 1033.2 1226.5)" cx="1033.2" cy="1226.5" rx="8.9" ry="3.7" fill="rgb(13,182,13)"/>
<ellipse cx="1080" cy="1260" rx="8.0" ry="8.0" fill="rgb(15,208,15)"/>
<ellipse transform="rotate(82 1075.1 1260.6)" cx="1075.1" cy="1260.6" rx="7.5" ry="5.1" fill="rgb(15,184,15)"/>
<ellipse transform="rotate(83 1076.3 1264.7)" cx="1076.3" cy="1264.7" rx="5.5" ry="3.6" fill="rgb(15,180,15)"/>
<ellipse cx="975" cy="1277" rx="9.6" ry="8.0" fill="rgb(17,232,17)"/>
<ellipse transform="rotate(98 971.2 1274.8)" cx="971.2" cy="1274.8" rx="7.0" ry="3.3" fill="rgb(17,188,17)"/>
<ellipse transform="rotate(79 969.8 1281.1)" cx="969.8" cy="1281.1" rx="6.5" ry="5.5" fill="rgb(17,200,17)"/>
<ellipse cx="1117" cy="1037" rx="4.8" ry="9.6" fill="rgb(10,147,10)"/>
<ellipse transform="rotate(8 1114.1 1040.4)" cx="1114.1" cy="1040.4" rx="3.9" ry="5.0" fill="rgb(10,120,10)"/>
<ellipse transform="rotate(126 1118.2 1037.8)" cx="1118.2" cy="1037.8" rx="3.5" ry="4.4" fill="rgb(10,112,10)"/>
<ellipse cx="957.8" cy="1021.6" rx="3.8" ry="5.2" fill="rgb(240,125,240)" opacity="0.60"/>
<ellipse cx="1000" cy="1140" rx="8.0" ry="16.0" fill="rgb(2,36,2)"/>
<ellipse transform="rotate(19 999.8 1138.4)" cx="999.8" cy="1138.4" rx="5.2" ry="6.3" fill="rgb(2,28,2)"/>
<ellipse transform="rotate(107 1001.5 1149.3)" cx="1001.5" cy="1149.3" rx="6.8" ry="8.5" fill="rgb(2,28,2)"/>
<ellipse cx="960" cy="1170" rx="6.4" ry="6.4" fill="rgb(5,73,5)"/>
<ellipse transform="rotate(47 958.3 1172.4)" cx="958.3" cy="1172.4" rx="4.1" ry="2.9" fill="rgb(5,60,5)"/>
<ellipse transform="rotate(131 963.4 1169.8)" cx="963.4" cy="1169.8" rx="4.6" ry="3.1" fill="rgb(5,63,5)"/>
</g><g filter="url(#b2)">
<circle cx="975.2" cy="1066.8" r="1.5" fill="rgb(178,178,178)"/>
<circle cx="979.3" cy="1067.8" r="1.1" fill="rgb(178,178,178)"/>
<circle cx="1072.5" cy="1130.7" r="1.9" fill="rgb(186,186,186)"/>
<circle cx="1084.5" cy="1123.7" r="1.4" fill="rgb(186,186,186)"/>
<circle cx="1075.5" cy="1137.9" r="1.1" fill="rgb(186,186,186)"/>
<circle cx="1037.6" cy="1230.4" r="1.8" fill="rgb(186,186,186)"/>
<circle cx="1037.7" cy="1221.7" r="1.2" fill="rgb(186,186,186)"/>
<circle cx="1041.2" cy="1224.6" r="1.5" fill="rgb(186,186,186)"/>
<circle cx="956.2" cy="1024.5" r="1.5" fill="rgb(194,194,194)"/>
<circle cx="962.3" cy="1021.4" r="1.4" fill="rgb(194,194,194)"/>
<circle cx="957.4" cy="1022.5" r="1.9" fill="rgb(194,194,194)"/>
<circle cx="959.9" cy="1021.3" r="1.4" fill="rgb(194,194,194)"/>
<circle cx="956.6" cy="1027.2" r="1.5" fill="rgb(245,150,245)"/>
<circle cx="956.1" cy="1020.5" r="1.5" fill="rgb(245,150,245)"/>
<circle cx="960.4" cy="1023.1" r="1.5" fill="rgb(245,150,245)"/>
<circle cx="957.5" cy="1017.3" r="1.1" fill="rgb(245,150,245)"/>
<circle cx="962.3" cy="1020.0" r="1.5" fill="rgb(245,150,245)"/>
<circle cx="958.4" cy="1021.8" r="1.1" fill="rgb(245,150,245)"/>
<circle cx="958.5" cy="1026.7" r="1.7" fill="rgb(245,150,245)"/>
</g></g>
<g clip-path="url(#cb6)">
<rect x="1137.3" y="999.5" width="178.0" height="291.5" fill="rgb(0, 0, 0)"/>
<g filter="url(#b5)" style="mix-blend-mode:screen">
<ellipse cx="1247" cy="1014" rx="14.4" ry="14.4" fill="rgb(6,76,6)"/>
<ellipse cx="1299" cy="1016" rx="12.0" ry="9.6" fill="rgb(8,108,8)"/>
<ellipse cx="1212" cy="1039" rx="10.8" ry="10.8" fill="rgb(3,44,3)"/>
<ellipse cx="1247" cy="1053" rx="14.4" ry="13.2" fill="rgb(8,108,8)"/>
<ellipse cx="1182" cy="1081" rx="7.2" ry="14.4" fill="rgb(8,108,8)"/>
<ellipse cx="1229" cy="1084" rx="14.4" ry="12.0" fill="rgb(9,114,9)"/>
<ellipse cx="1282" cy="1086" rx="14.4" ry="14.4" fill="rgb(8,108,8)"/>
<ellipse cx="1198" cy="1116" rx="14.4" ry="12.0" fill="rgb(9,121,9)"/>
<ellipse cx="1157" cy="1167" rx="14.4" ry="12.0" fill="rgb(9,114,9)"/>
<ellipse cx="1287" cy="1163" rx="16.8" ry="15.6" fill="rgb(9,114,9)"/>
<ellipse cx="1193" cy="1193" rx="8.4" ry="19.2" fill="rgb(8,108,8)"/>
<ellipse cx="1205" cy="1233" rx="12.0" ry="12.0" fill="rgb(6,76,6)"/>
<ellipse cx="1182" cy="1223" rx="9.6" ry="10.8" fill="rgb(4,57,4)"/>
<ellipse cx="1240" cy="1270" rx="14.4" ry="14.4" fill="rgb(9,114,9)"/>
<ellipse cx="1294" cy="1270" rx="12.0" ry="14.4" fill="rgb(7,89,7)"/>
</g><g filter="url(#b3)" style="mix-blend-mode:screen">
<ellipse cx="1247" cy="1014" rx="9.6" ry="9.6" fill="rgb(10,147,10)"/>
<ellipse transform="rotate(150 1245.2 1019.2)" cx="1245.2" cy="1019.2" rx="6.1" ry="6.6" fill="rgb(10,111,10)"/>
<ellipse transform="rotate(155 1247.0 1017.3)" cx="1247.0" cy="1017.3" rx="6.1" ry="6.2" fill="rgb(10,121,10)"/>
<ellipse cx="1299" cy="1016" rx="8.0" ry="6.4" fill="rgb(15,208,15)"/>
<ellipse transform="rotate(119 1303.3 1015.2)" cx="1303.3" cy="1015.2" rx="7.8" ry="3.6" fill="rgb(15,156,15)"/>
<ellipse transform="rotate(65 1303.8 1017.5)" cx="1303.8" cy="1017.5" rx="6.5" ry="4.1" fill="rgb(15,165,15)"/>
<ellipse cx="1212" cy="1039" rx="7.2" ry="7.2" fill="rgb(6,85,6)"/>
<ellipse transform="rotate(40 1212.3 1039.4)" cx="1212.3" cy="1039.4" rx="5.1" ry="3.4" fill="rgb(6,66,6)"/>
<ellipse transform="rotate(49 1211.7 1043.0)" cx="1211.7" cy="1043.0" rx="6.5" ry="4.8" fill="rgb(6,68,6)"/>
<ellipse cx="1247" cy="1053" rx="9.6" ry="8.8" fill="rgb(15,208,15)"/>
<ellipse transform="rotate(75 1243.8 1050.8)" cx="1243.8" cy="1050.8" rx="6.3" ry="4.8" fill="rgb(15,159,15)"/>
<ellipse transform="rotate(145 1244.0 1050.1)" cx="1244.0" cy="1050.1" rx="8.0" ry="5.1" fill="rgb(15,181,15)"/>
<ellipse cx="1182" cy="1081" rx="4.8" ry="9.6" fill="rgb(15,208,15)"/>
<ellipse transform="rotate(175 1183.5 1086.1)" cx="1183.5" cy="1086.1" rx="4.3" ry="3.7" fill="rgb(15,161,15)"/>
<ellipse transform="rotate(23 1179.7 1078.1)" cx="1179.7" cy="1078.1" rx="3.4" ry="6.0" fill="rgb(15,163,15)"/>
<ellipse cx="1229" cy="1084" rx="9.6" ry="8.0" fill="rgb(16,220,16)"/>
<ellipse transform="rotate(99 1232.4 1084.0)" cx="1232.4" cy="1084.0" rx="8.1" ry="3.2" fill="rgb(16,206,16)"/>
<ellipse transform="rotate(85 1228.5 1081.0)" cx="1228.5" cy="1081.0" rx="6.7" ry="3.8" fill="rgb(16,218,16)"/>
<ellipse cx="1282" cy="1086" rx="9.6" ry="9.6" fill="rgb(15,208,15)"/>
<ellipse transform="rotate(55 1283.0 1087.9)" cx="1283.0" cy="1087.9" rx="7.8" ry="6.4" fill="rgb(15,176,15)"/>
<ellipse transform="rotate(100 1276.6 1090.7)" cx="1276.6" cy="1090.7" rx="7.4" ry="5.6" fill="rgb(15,203,15)"/>
<ellipse cx="1198" cy="1116" rx="9.6" ry="8.0" fill="rgb(17,232,17)"/>
<ellipse transform="rotate(117 1192.3 1113.2)" cx="1192.3" cy="1113.2" rx="7.9" ry="5.5" fill="rgb(17,193,17)"/>
<ellipse transform="rotate(102 1198.7 1117.7)" cx="1198.7" cy="1117.7" rx="9.5" ry="4.0" fill="rgb(17,188,17)"/>
<ellipse cx="1157" cy="1167" rx="9.6" ry="8.0" fill="rgb(16,220,16)"/>
<ellipse transform="rotate(75 1151.3 1166.3)" cx="1151.3" cy="1166.3" rx="7.5" ry="3.2" fill="rgb(16,176,16)"/>
<ellipse transform="rotate(52 1162.3 1167.2)" cx="1162.3" cy="1167.2" rx="8.1" ry="4.0" fill="rgb(16,195,16)"/>
<ellipse cx="1287" cy="1163" rx="11.2" ry="10.4" fill="rgb(16,220,16)"/>
<ellipse transform="rotate(166 1291.3 1162.4)" cx="1291.3" cy="1162.4" rx="9.9" ry="4.4" fill="rgb(16,207,16)"/>
<ellipse transform="rotate(146 1289.9 1169.2)" cx="1289.9" cy="1169.2" rx="8.2" ry="3.9" fill="rgb(16,167,16)"/>
<ellipse cx="1193" cy="1193" rx="5.6" ry="12.8" fill="rgb(15,208,15)"/>
<ellipse transform="rotate(124 1194.2 1199.2)" cx="1194.2" cy="1199.2" rx="4.6" ry="7.7" fill="rgb(15,190,15)"/>
<ellipse transform="rotate(28 1193.3 1197.8)" cx="1193.3" cy="1197.8" rx="4.8" ry="5.1" fill="rgb(15,180,15)"/>
<ellipse cx="1205" cy="1233" rx="8.0" ry="8.0" fill="rgb(10,147,10)"/>
<ellipse transform="rotate(16 1205.6 1237.2)" cx="1205.6" cy="1237.2" rx="7.2" ry="5.2" fill="rgb(10,137,10)"/>
<ellipse transform="rotate(108 1209.7 1234.4)" cx="1209.7" cy="1234.4" rx="6.3" ry="4.5" fill="rgb(10,127,10)"/>
<ellipse cx="1182" cy="1223" rx="6.4" ry="7.2" fill="rgb(8,110,8)"/>
<ellipse transform="rotate(98 1180.7 1225.7)" cx="1180.7" cy="1225.7" rx="5.2" ry="4.3" fill="rgb(8,94,8)"/>
<ellipse transform="rotate(128 1184.7 1225.8)" cx="1184.7" cy="1225.8" rx="4.0" ry="3.0" fill="rgb(8,89,8)"/>
<ellipse cx="1240" cy="1270" rx="9.6" ry="9.6" fill="rgb(16,220,16)"/>
<ellipse transform="rotate(14 1235.0 1270.1)" cx="1235.0" cy="1270.1" rx="8.7" ry="4.9" fill="rgb(16,191,16)"/>
<ellipse transform="rotate(87 1244.5 1268.3)" cx="1244.5" cy="1268.3" rx="6.5" ry="5.3" fill="rgb(16,179,16)"/>
<ellipse cx="1294" cy="1270" rx="8.0" ry="9.6" fill="rgb(12,171,12)"/>
<ellipse transform="rotate(52 1290.2 1265.8)" cx="1290.2" cy="1265.8" rx="7.9" ry="4.3" fill="rgb(12,159,12)"/>
<ellipse transform="rotate(105 1291.4 1275.6)" cx="1291.4" cy="1275.6" rx="8.0" ry="5.6" fill="rgb(12,162,12)"/>
<ellipse cx="1269.0" cy="1061.2" rx="3.0" ry="3.0" fill="rgb(240,125,240)" opacity="0.72"/>
</g><g filter="url(#b2)">
<circle cx="1282.1" cy="1094.8" r="1.9" fill="rgb(198,198,198)"/>
<circle cx="1290.7" cy="1086.2" r="1.6" fill="rgb(198,198,198)"/>
<circle cx="1282.5" cy="1090.2" r="1.3" fill="rgb(198,198,198)"/>
<circle cx="1282.6" cy="1082.4" r="1.1" fill="rgb(198,198,198)"/>
<circle cx="1159.3" cy="1165.4" r="1.2" fill="rgb(178,178,178)"/>
<circle cx="1156.6" cy="1166.1" r="1.6" fill="rgb(178,178,178)"/>
<circle cx="1285.8" cy="1163.4" r="2.0" fill="rgb(194,194,194)"/>
<circle cx="1286.8" cy="1162.5" r="1.9" fill="rgb(194,194,194)"/>
<circle cx="1281.7" cy="1156.7" r="1.8" fill="rgb(194,194,194)"/>
<circle cx="1288.6" cy="1165.7" r="1.2" fill="rgb(194,194,194)"/>
<circle cx="1194.9" cy="1182.5" r="1.6" fill="rgb(194,194,194)"/>
<circle cx="1190.4" cy="1182.9" r="1.5" fill="rgb(194,194,194)"/>
<circle cx="1191.6" cy="1194.2" r="2.0" fill="rgb(194,194,194)"/>
<circle cx="1193.7" cy="1194.6" r="1.9" fill="rgb(194,194,194)"/>
<circle cx="1241.8" cy="1270.3" r="1.5" fill="rgb(190,190,190)"/>
<circle cx="1240.3" cy="1273.4" r="1.0" fill="rgb(190,190,190)"/>
<circle cx="1239.7" cy="1269.4" r="1.3" fill="rgb(190,190,190)"/>
<circle cx="1245.0" cy="1273.7" r="1.2" fill="rgb(190,190,190)"/>
<circle cx="1269.1" cy="1062.0" r="1.4" fill="rgb(245,150,245)"/>
<circle cx="1267.2" cy="1065.0" r="1.1" fill="rgb(245,150,245)"/>
<circle cx="1268.2" cy="1065.3" r="1.0" fill="rgb(245,150,245)"/>
<circle cx="1267.3" cy="1062.1" r="1.2" fill="rgb(245,150,245)"/>
<circle cx="1270.2" cy="1063.7" r="0.9" fill="rgb(245,150,245)"/>
<circle cx="1270.3" cy="1062.1" r="1.2" fill="rgb(245,150,245)"/>
<circle cx="1269.1" cy="1064.8" r="1.3" fill="rgb(245,150,245)"/>
</g></g>
<g clip-path="url(#cb7)">
<rect x="1357.0" y="999.5" width="182.0" height="291.5" fill="rgb(0, 26, 0)"/>
<g style="mix-blend-mode:screen"><ellipse cx="1450" cy="1150" rx="100" ry="150" fill="url(#hz2)"/></g>
<g filter="url(#b5)" style="mix-blend-mode:screen">
<ellipse cx="1485" cy="1011" rx="16.8" ry="10.8" fill="rgb(5,63,5)"/>
<ellipse cx="1364" cy="1030" rx="12.0" ry="10.8" fill="rgb(5,63,5)"/>
<ellipse cx="1397" cy="1053" rx="12.0" ry="10.8" fill="rgb(1,19,1)"/>
<ellipse cx="1408" cy="1058" rx="14.4" ry="14.4" fill="rgb(5,70,5)"/>
<ellipse cx="1383" cy="1091" rx="14.4" ry="13.2" fill="rgb(5,63,5)"/>
<ellipse cx="1452" cy="1088" rx="13.2" ry="14.4" fill="rgb(4,57,4)"/>
<ellipse cx="1522" cy="1093" rx="19.2" ry="15.6" fill="rgb(8,108,8)"/>
<ellipse cx="1397" cy="1116" rx="9.6" ry="9.6" fill="rgb(4,51,4)"/>
<ellipse cx="1504" cy="1125" rx="8.4" ry="9.6" fill="rgb(1,12,1)"/>
<ellipse cx="1366" cy="1137" rx="13.2" ry="10.8" fill="rgb(6,76,6)"/>
<ellipse cx="1438" cy="1135" rx="10.8" ry="10.8" fill="rgb(4,57,4)"/>
<ellipse cx="1468" cy="1156" rx="21.6" ry="15.6" fill="rgb(8,102,8)"/>
<ellipse cx="1494" cy="1152" rx="15.6" ry="13.2" fill="rgb(7,95,7)"/>
<ellipse cx="1511" cy="1174" rx="12.0" ry="9.6" fill="rgb(5,63,5)"/>
<ellipse cx="1450" cy="1200" rx="12.0" ry="10.8" fill="rgb(5,63,5)"/>
<ellipse cx="1385" cy="1226" rx="16.8" ry="13.2" fill="rgb(8,108,8)"/>
<ellipse cx="1450" cy="1226" rx="18.0" ry="15.6" fill="rgb(8,108,8)"/>
<ellipse cx="1483" cy="1242" rx="9.6" ry="9.6" fill="rgb(5,63,5)"/>
<ellipse cx="1400" cy="1170" rx="16.8" ry="16.8" fill="rgb(1,19,1)"/>
<ellipse cx="1440" cy="1280" rx="12.0" ry="9.6" fill="rgb(3,38,3)"/>
</g><g filter="url(#b3)" style="mix-blend-mode:screen">
<ellipse cx="1485" cy="1011" rx="11.2" ry="7.2" fill="rgb(9,122,9)"/>
<ellipse transform="rotate(128 1486.5 1011.8)" cx="1486.5" cy="1011.8" rx="9.4" ry="4.3" fill="rgb(9,119,9)"/>
<ellipse transform="rotate(150 1485.8 1007.2)" cx="1485.8" cy="1007.2" rx="7.2" ry="4.4" fill="rgb(9,107,9)"/>
<ellipse cx="1364" cy="1030" rx="8.0" ry="7.2" fill="rgb(9,122,9)"/>
<ellipse transform="rotate(75 1364.0 1034.0)" cx="1364.0" cy="1034.0" rx="7.7" ry="4.8" fill="rgb(9,105,9)"/>
<ellipse transform="rotate(78 1366.7 1029.5)" cx="1366.7" cy="1029.5" rx="7.7" ry="3.7" fill="rgb(9,113,9)"/>
<ellipse cx="1397" cy="1053" rx="8.0" ry="7.2" fill="rgb(2,36,2)"/>
<ellipse transform="rotate(99 1399.0 1053.6)" cx="1399.0" cy="1053.6" rx="5.8" ry="3.3" fill="rgb(2,28,2)"/>
<ellipse transform="rotate(39 1401.8 1048.7)" cx="1401.8" cy="1048.7" rx="7.4" ry="4.2" fill="rgb(2,28,2)"/>
<ellipse cx="1394.5" cy="1051.2" rx="7.5" ry="6.8" fill="rgb(240,125,240)" opacity="1.00"/>
<ellipse cx="1408" cy="1058" rx="9.6" ry="9.6" fill="rgb(9,134,9)"/>
<ellipse transform="rotate(121 1405.7 1053.3)" cx="1405.7" cy="1053.3" rx="8.3" ry="5.7" fill="rgb(9,125,9)"/>
<ellipse transform="rotate(143 1409.2 1052.4)" cx="1409.2" cy="1052.4" rx="6.6" ry="4.7" fill="rgb(9,129,9)"/>
<ellipse cx="1383" cy="1091" rx="9.6" ry="8.8" fill="rgb(9,122,9)"/>
<ellipse transform="rotate(147 1388.8 1096.2)" cx="1388.8" cy="1096.2" rx="6.6" ry="5.7" fill="rgb(9,117,9)"/>
<ellipse transform="rotate(164 1386.9 1087.7)" cx="1386.9" cy="1087.7" rx="9.3" ry="5.8" fill="rgb(9,116,9)"/>
<ellipse cx="1380.0" cy="1088.8" rx="9.0" ry="8.2" fill="rgb(240,125,240)" opacity="0.72"/>
<ellipse cx="1452" cy="1088" rx="8.8" ry="9.6" fill="rgb(8,110,8)"/>
<ellipse transform="rotate(145 1447.5 1084.0)" cx="1447.5" cy="1084.0" rx="6.6" ry="6.0" fill="rgb(8,87,8)"/>
<ellipse transform="rotate(74 1455.6 1086.8)" cx="1455.6" cy="1086.8" rx="8.8" ry="5.5" fill="rgb(8,101,8)"/>
<ellipse cx="1449.2" cy="1085.6" rx="8.2" ry="9.0" fill="rgb(240,125,240)" opacity="1.00"/>
<ellipse cx="1522" cy="1093" rx="12.8" ry="10.4" fill="rgb(15,208,15)"/>
<ellipse transform="rotate(34 1519.6 1089.6)" cx="1519.6" cy="1089.6" rx="11.5" ry="4.6" fill="rgb(15,187,15)"/>
<ellipse transform="rotate(103 1525.9 1094.4)" cx="1525.9" cy="1094.4" rx="10.0" ry="3.9" fill="rgb(15,183,15)"/>
<ellipse cx="1518.0" cy="1090.4" rx="12.0" ry="9.8" fill="rgb(240,125,240)" opacity="0.24"/>
<ellipse cx="1397" cy="1116" rx="6.4" ry="6.4" fill="rgb(7,98,7)"/>
<ellipse transform="rotate(160 1397.3 1117.3)" cx="1397.3" cy="1117.3" rx="5.6" ry="2.7" fill="rgb(7,97,7)"/>
<ellipse transform="rotate(173 1399.9 1115.3)" cx="1399.9" cy="1115.3" rx="4.2" ry="2.5" fill="rgb(7,96,7)"/>
<ellipse cx="1395.0" cy="1114.4" rx="6.0" ry="6.0" fill="rgb(240,125,240)" opacity="0.72"/>
<ellipse cx="1504" cy="1125" rx="5.6" ry="6.4" fill="rgb(1,24,1)"/>
<ellipse transform="rotate(89 1500.8 1126.4)" cx="1500.8" cy="1126.4" rx="4.2" ry="3.6" fill="rgb(1,21,1)"/>
<ellipse transform="rotate(132 1501.2 1122.7)" cx="1501.2" cy="1122.7" rx="3.7" ry="3.7" fill="rgb(1,19,1)"/>
<ellipse cx="1502.2" cy="1123.4" rx="5.2" ry="6.0" fill="rgb(240,125,240)" opacity="0.96"/>
<ellipse cx="1366" cy="1137" rx="8.8" ry="7.2" fill="rgb(10,147,10)"/>
<ellipse transform="rotate(159 1371.3 1140.9)" cx="1371.3" cy="1140.9" rx="5.5" ry="3.1" fill="rgb(10,136,10)"/>
<ellipse transform="rotate(151 1366.9 1137.3)" cx="1366.9" cy="1137.3" rx="7.6" ry="2.9" fill="rgb(10,111,10)"/>
<ellipse cx="1438" cy="1135" rx="7.2" ry="7.2" fill="rgb(8,110,8)"/>
<ellipse transform="rotate(88 1440.3 1131.3)" cx="1440.3" cy="1131.3" rx="7.2" ry="4.5" fill="rgb(8,103,8)"/>
<ellipse transform="rotate(115 1440.5 1133.2)" cx="1440.5" cy="1133.2" rx="5.8" ry="4.0" fill="rgb(8,97,8)"/>
<ellipse cx="1468" cy="1156" rx="14.4" ry="10.4" fill="rgb(14,196,14)"/>
<ellipse transform="rotate(137 1467.0 1154.4)" cx="1467.0" cy="1154.4" rx="14.3" ry="6.9" fill="rgb(14,178,14)"/>
<ellipse transform="rotate(91 1473.4 1150.9)" cx="1473.4" cy="1150.9" rx="13.3" ry="6.9" fill="rgb(14,171,14)"/>
<ellipse cx="1463.5" cy="1153.4" rx="13.5" ry="9.8" fill="rgb(240,125,240)" opacity="0.12"/>
<ellipse cx="1494" cy="1152" rx="10.4" ry="8.8" fill="rgb(13,183,13)"/>
<ellipse transform="rotate(157 1490.1 1146.6)" cx="1490.1" cy="1146.6" rx="7.8" ry="5.0" fill="rgb(13,181,13)"/>
<ellipse transform="rotate(115 1492.5 1150.7)" cx="1492.5" cy="1150.7" rx="10.0" ry="4.3" fill="rgb(13,168,13)"/>
<ellipse cx="1511" cy="1174" rx="8.0" ry="6.4" fill="rgb(9,122,9)"/>
<ellipse transform="rotate(177 1510.9 1173.6)" cx="1510.9" cy="1173.6" rx="7.8" ry="4.3" fill="rgb(9,107,9)"/>
<ellipse transform="rotate(20 1506.3 1176.2)" cx="1506.3" cy="1176.2" rx="6.9" ry="2.6" fill="rgb(9,106,9)"/>
<ellipse cx="1508.5" cy="1172.4" rx="7.5" ry="6.0" fill="rgb(240,125,240)" opacity="0.36"/>
<ellipse cx="1450" cy="1200" rx="8.0" ry="7.2" fill="rgb(9,122,9)"/>
<ellipse transform="rotate(63 1450.8 1201.7)" cx="1450.8" cy="1201.7" rx="6.2" ry="3.0" fill="rgb(9,107,9)"/>
<ellipse transform="rotate(115 1447.6 1204.0)" cx="1447.6" cy="1204.0" rx="7.4" ry="4.6" fill="rgb(9,108,9)"/>
<ellipse cx="1447.5" cy="1198.2" rx="7.5" ry="6.8" fill="rgb(240,125,240)" opacity="0.36"/>
<ellipse cx="1385" cy="1226" rx="11.2" ry="8.8" fill="rgb(15,208,15)"/>
<ellipse transform="rotate(97 1388.6 1224.9)" cx="1388.6" cy="1224.9" rx="7.3" ry="5.8" fill="rgb(15,172,15)"/>
<ellipse transform="rotate(153 1379.1 1224.6)" cx="1379.1" cy="1224.6" rx="10.8" ry="3.4" fill="rgb(15,172,15)"/>
<ellipse cx="1450" cy="1226" rx="12.0" ry="10.4" fill="rgb(15,208,15)"/>
<ellipse transform="rotate(114 1444.7 1225.3)" cx="1444.7" cy="1225.3" rx="11.5" ry="6.6" fill="rgb(15,197,15)"/>
<ellipse transform="rotate(8 1445.3 1232.4)" cx="1445.3" cy="1232.4" rx="9.1" ry="4.0" fill="rgb(15,180,15)"/>
<ellipse cx="1446.2" cy="1223.4" rx="11.2" ry="9.8" fill="rgb(240,125,240)" opacity="0.24"/>
<ellipse cx="1483" cy="1242" rx="6.4" ry="6.4" fill="rgb(9,122,9)"/>
<ellipse transform="rotate(175 1480.6 1245.9)" cx="1480.6" cy="1245.9" rx="6.4" ry="3.9" fill="rgb(9,102,9)"/>
<ellipse transform="rotate(37 1479.3 1242.8)" cx="1479.3" cy="1242.8" rx="5.7" ry="2.8" fill="rgb(9,99,9)"/>
<ellipse cx="1400" cy="1170" rx="11.2" ry="11.2" fill="rgb(2,36,2)"/>
<ellipse transform="rotate(58 1397.9 1163.1)" cx="1397.9" cy="1163.1" rx="7.5" ry="4.5" fill="rgb(2,29,2)"/>
<ellipse transform="rotate(169 1398.7 1164.1)" cx="1398.7" cy="1164.1" rx="8.5" ry="4.4" fill="rgb(2,29,2)"/>
<ellipse cx="1440" cy="1280" rx="8.0" ry="6.4" fill="rgb(5,73,5)"/>
<ellipse transform="rotate(14 1443.1 1277.5)" cx="1443.1" cy="1277.5" rx="7.7" ry="4.2" fill="rgb(5,61,5)"/>
<ellipse transform="rotate(13 1439.7 1280.6)" cx="1439.7" cy="1280.6" rx="7.3" ry="2.9" fill="rgb(5,71,5)"/>
</g><g filter="url(#b2)">
<circle cx="1397.6" cy="1052.1" r="1.5" fill="rgb(190,190,190)"/>
<circle cx="1396.0" cy="1056.7" r="1.3" fill="rgb(190,190,190)"/>
<circle cx="1395.2" cy="1052.5" r="1.0" fill="rgb(190,190,190)"/>
<circle cx="1401.5" cy="1056.5" r="1.4" fill="rgb(190,190,190)"/>
<circle cx="1388.4" cy="1052.5" r="1.1" fill="rgb(245,150,245)"/>
<circle cx="1396.5" cy="1056.4" r="1.6" fill="rgb(245,150,245)"/>
<circle cx="1394.5" cy="1048.9" r="1.4" fill="rgb(245,150,245)"/>
<circle cx="1394.7" cy="1061.5" r="1.5" fill="rgb(245,150,245)"/>
<circle cx="1396.2" cy="1049.9" r="1.4" fill="rgb(245,150,245)"/>
<circle cx="1393.7" cy="1048.4" r="1.6" fill="rgb(245,150,245)"/>
<circle cx="1393.9" cy="1060.0" r="1.2" fill="rgb(245,150,245)"/>
<circle cx="1393.6" cy="1052.9" r="1.3" fill="rgb(245,150,245)"/>
<circle cx="1395.2" cy="1052.8" r="1.1" fill="rgb(245,150,245)"/>
<circle cx="1388.7" cy="1051.4" r="1.5" fill="rgb(245,150,245)"/>
<circle cx="1380.5" cy="1085.5" r="1.6" fill="rgb(194,194,194)"/>
<circle cx="1385.8" cy="1094.7" r="1.3" fill="rgb(194,194,194)"/>
<circle cx="1387.6" cy="1091.1" r="2.0" fill="rgb(194,194,194)"/>
<circle cx="1376.3" cy="1092.3" r="1.6" fill="rgb(194,194,194)"/>
<circle cx="1387.0" cy="1092.4" r="1.8" fill="rgb(245,150,245)"/>
<circle cx="1378.6" cy="1088.3" r="1.7" fill="rgb(245,150,245)"/>
<circle cx="1375.2" cy="1082.0" r="1.7" fill="rgb(245,150,245)"/>
<circle cx="1375.7" cy="1088.4" r="1.4" fill="rgb(245,150,245)"/>
<circle cx="1376.3" cy="1099.5" r="1.0" fill="rgb(245,150,245)"/>
<circle cx="1384.7" cy="1090.8" r="1.3" fill="rgb(245,150,245)"/>
<circle cx="1377.7" cy="1088.8" r="1.4" fill="rgb(245,150,245)"/>
<circle cx="1458.8" cy="1090.6" r="1.1" fill="rgb(178,178,178)"/>
<circle cx="1457.0" cy="1082.5" r="1.8" fill="rgb(178,178,178)"/>
<circle cx="1449.8" cy="1085.8" r="1.4" fill="rgb(245,150,245)"/>
<circle cx="1457.4" cy="1091.4" r="1.6" fill="rgb(245,150,245)"/>
<circle cx="1451.0" cy="1093.1" r="1.0" fill="rgb(245,150,245)"/>
<circle cx="1446.0" cy="1080.7" r="1.0" fill="rgb(245,150,245)"/>
<circle cx="1442.5" cy="1081.1" r="1.1" fill="rgb(245,150,245)"/>
<circle cx="1452.3" cy="1086.2" r="0.9" fill="rgb(245,150,245)"/>
<circle cx="1457.0" cy="1092.6" r="1.1" fill="rgb(245,150,245)"/>
<circle cx="1452.8" cy="1084.0" r="1.0" fill="rgb(245,150,245)"/>
<circle cx="1451.3" cy="1084.4" r="1.0" fill="rgb(245,150,245)"/>
<circle cx="1453.1" cy="1088.1" r="1.3" fill="rgb(245,150,245)"/>
<circle cx="1515.0" cy="1093.2" r="1.1" fill="rgb(178,178,178)"/>
<circle cx="1532.6" cy="1093.2" r="1.4" fill="rgb(178,178,178)"/>
<circle cx="1394.2" cy="1108.9" r="1.4" fill="rgb(245,150,245)"/>
<circle cx="1395.3" cy="1114.2" r="1.1" fill="rgb(245,150,245)"/>
<circle cx="1387.5" cy="1115.3" r="1.8" fill="rgb(245,150,245)"/>
<circle cx="1396.0" cy="1121.0" r="1.2" fill="rgb(245,150,245)"/>
<circle cx="1394.0" cy="1117.7" r="1.8" fill="rgb(245,150,245)"/>
<circle cx="1392.6" cy="1118.5" r="1.0" fill="rgb(245,150,245)"/>
<circle cx="1395.8" cy="1115.4" r="1.6" fill="rgb(245,150,245)"/>
<circle cx="1502.7" cy="1126.9" r="0.9" fill="rgb(245,150,245)"/>
<circle cx="1498.5" cy="1131.1" r="1.2" fill="rgb(245,150,245)"/>
<circle cx="1500.0" cy="1130.2" r="1.1" fill="rgb(245,150,245)"/>
<circle cx="1502.9" cy="1117.3" r="1.7" fill="rgb(245,150,245)"/>
<circle cx="1507.9" cy="1126.6" r="1.6" fill="rgb(245,150,245)"/>
<circle cx="1503.7" cy="1120.6" r="1.0" fill="rgb(245,150,245)"/>
<circle cx="1500.8" cy="1120.8" r="1.3" fill="rgb(245,150,245)"/>
<circle cx="1502.7" cy="1123.5" r="1.2" fill="rgb(245,150,245)"/>
<circle cx="1498.4" cy="1119.7" r="1.8" fill="rgb(245,150,245)"/>
<circle cx="1470.7" cy="1154.3" r="1.4" fill="rgb(182,182,182)"/>
<circle cx="1461.9" cy="1155.3" r="1.1" fill="rgb(182,182,182)"/>
<circle cx="1459.6" cy="1162.8" r="1.4" fill="rgb(182,182,182)"/>
<circle cx="1457.3" cy="1220.0" r="1.5" fill="rgb(182,182,182)"/>
<circle cx="1459.5" cy="1221.2" r="1.0" fill="rgb(182,182,182)"/>
<circle cx="1441.0" cy="1221.0" r="1.3" fill="rgb(182,182,182)"/>
<circle cx="1423.6" cy="1046.1" r="1.4" fill="rgb(220,120,220)"/>
<circle cx="1459.3" cy="1169.6" r="1.2" fill="rgb(220,120,220)"/>
<circle cx="1518.7" cy="1148.5" r="1.1" fill="rgb(220,120,220)"/>
<circle cx="1438.6" cy="1097.6" r="1.5" fill="rgb(220,120,220)"/>
<circle cx="1474.1" cy="1142.2" r="0.8" fill="rgb(220,120,220)"/>
<circle cx="1472.8" cy="1015.8" r="1.1" fill="rgb(220,120,220)"/>
<circle cx="1396.6" cy="1113.4" r="0.9" fill="rgb(220,120,220)"/>
<circle cx="1399.0" cy="1126.2" r="0.8" fill="rgb(220,120,220)"/>
<circle cx="1403.8" cy="1205.4" r="0.8" fill="rgb(220,120,220)"/>
<circle cx="1509.7" cy="1118.9" r="0.9" fill="rgb(220,120,220)"/>
<circle cx="1496.5" cy="1109.1" r="1.0" fill="rgb(220,120,220)"/>
<circle cx="1359.2" cy="1053.6" r="1.4" fill="rgb(220,120,220)"/>
<circle cx="1447.0" cy="1125.5" r="1.2" fill="rgb(220,120,220)"/>
<circle cx="1374.9" cy="1046.0" r="1.4" fill="rgb(220,120,220)"/>
<circle cx="1471.3" cy="1093.0" r="1.4" fill="rgb(220,120,220)"/>
<circle cx="1410.8" cy="1128.7" r="1.3" fill="rgb(220,120,220)"/>
<circle cx="1510.7" cy="1082.2" r="1.5" fill="rgb(220,120,220)"/>
<circle cx="1396.4" cy="1078.1" r="1.1" fill="rgb(220,120,220)"/>
<circle cx="1459.0" cy="1155.0" r="1.1" fill="rgb(220,120,220)"/>
<circle cx="1497.8" cy="1074.0" r="1.0" fill="rgb(220,120,220)"/>
<circle cx="1479.3" cy="1253.4" r="0.9" fill="rgb(220,120,220)"/>
<circle cx="1422.2" cy="1135.3" r="0.9" fill="rgb(220,120,220)"/>
<circle cx="1450.2" cy="1267.2" r="0.9" fill="rgb(220,120,220)"/>
<circle cx="1506.9" cy="1252.8" r="1.1" fill="rgb(220,120,220)"/>
<circle cx="1421.5" cy="1036.6" r="1.1" fill="rgb(220,120,220)"/>
</g></g>
<g clip-path="url(#cb8)">
<rect x="1547.0" y="999.5" width="176.0" height="291.5" fill="rgb(0, 6, 0)"/>
<g filter="url(#b5)" style="mix-blend-mode:screen">
<ellipse cx="1602" cy="1011" rx="14.4" ry="12.0" fill="rgb(8,108,8)"/>
<ellipse cx="1627" cy="1030" rx="19.2" ry="16.8" fill="rgb(8,108,8)"/>
<ellipse cx="1711" cy="1009" rx="12.0" ry="12.0" fill="rgb(6,76,6)"/>
<ellipse cx="1671" cy="1051" rx="10.8" ry="13.2" fill="rgb(7,89,7)"/>
<ellipse cx="1557" cy="1058" rx="12.0" ry="12.0" fill="rgb(6,76,6)"/>
<ellipse cx="1555" cy="1091" rx="16.8" ry="16.8" fill="rgb(7,95,7)"/>
<ellipse cx="1632" cy="1084" rx="14.4" ry="14.4" fill="rgb(8,102,8)"/>
<ellipse cx="1711" cy="1081" rx="14.4" ry="14.4" fill="rgb(4,57,4)"/>
<ellipse cx="1599" cy="1088" rx="14.4" ry="14.4" fill="rgb(3,38,3)"/>
<ellipse cx="1632" cy="1116" rx="10.8" ry="10.8" fill="rgb(6,82,6)"/>
<ellipse cx="1671" cy="1111" rx="8.4" ry="8.4" fill="rgb(3,44,3)"/>
<ellipse cx="1571" cy="1144" rx="21.6" ry="14.4" fill="rgb(5,70,5)"/>
<ellipse cx="1613" cy="1135" rx="6.0" ry="8.4" fill="rgb(1,12,1)"/>
<ellipse cx="1566" cy="1170" rx="10.8" ry="10.8" fill="rgb(7,89,7)"/>
<ellipse cx="1629" cy="1167" rx="16.8" ry="14.4" fill="rgb(3,38,3)"/>
<ellipse cx="1662" cy="1193" rx="7.2" ry="18.0" fill="rgb(7,89,7)"/>
<ellipse cx="1629" cy="1202" rx="16.8" ry="14.4" fill="rgb(3,38,3)"/>
<ellipse cx="1678" cy="1237" rx="9.6" ry="8.4" fill="rgb(6,76,6)"/>
<ellipse cx="1632" cy="1267" rx="14.4" ry="14.4" fill="rgb(8,102,8)"/>
<ellipse cx="1592" cy="1258" rx="9.6" ry="10.8" fill="rgb(3,44,3)"/>
<ellipse cx="1711" cy="1258" rx="9.6" ry="9.6" fill="rgb(4,57,4)"/>
</g><g filter="url(#b3)" style="mix-blend-mode:screen">
<ellipse cx="1602" cy="1011" rx="9.6" ry="8.0" fill="rgb(15,208,15)"/>
<ellipse transform="rotate(46 1606.1 1009.8)" cx="1606.1" cy="1009.8" rx="6.6" ry="4.4" fill="rgb(15,199,15)"/>
<ellipse transform="rotate(53 1605.2 1011.1)" cx="1605.2" cy="1011.1" rx="7.2" ry="4.7" fill="rgb(15,187,15)"/>
<ellipse cx="1627" cy="1030" rx="12.8" ry="11.2" fill="rgb(15,208,15)"/>
<ellipse transform="rotate(139 1631.7 1034.2)" cx="1631.7" cy="1034.2" rx="9.3" ry="6.5" fill="rgb(15,162,15)"/>
<ellipse transform="rotate(79 1629.2 1035.5)" cx="1629.2" cy="1035.5" rx="8.4" ry="4.4" fill="rgb(15,159,15)"/>
<ellipse cx="1711" cy="1009" rx="8.0" ry="8.0" fill="rgb(10,147,10)"/>
<ellipse transform="rotate(7 1711.4 1007.2)" cx="1711.4" cy="1007.2" rx="5.2" ry="3.9" fill="rgb(10,143,10)"/>
<ellipse transform="rotate(39 1713.7 1010.8)" cx="1713.7" cy="1010.8" rx="6.3" ry="5.1" fill="rgb(10,145,10)"/>
<ellipse cx="1671" cy="1051" rx="7.2" ry="8.8" fill="rgb(12,171,12)"/>
<ellipse transform="rotate(172 1670.3 1052.6)" cx="1670.3" cy="1052.6" rx="6.0" ry="4.9" fill="rgb(12,130,12)"/>
<ellipse transform="rotate(47 1675.2 1052.1)" cx="1675.2" cy="1052.1" rx="6.0" ry="3.8" fill="rgb(12,134,12)"/>
<ellipse cx="1557" cy="1058" rx="8.0" ry="8.0" fill="rgb(10,147,10)"/>
<ellipse transform="rotate(33 1555.5 1062.6)" cx="1555.5" cy="1062.6" rx="7.0" ry="4.3" fill="rgb(10,117,10)"/>
<ellipse transform="rotate(136 1561.1 1056.3)" cx="1561.1" cy="1056.3" rx="8.0" ry="5.3" fill="rgb(10,125,10)"/>
<ellipse cx="1555" cy="1091" rx="11.2" ry="11.2" fill="rgb(13,183,13)"/>
<ellipse transform="rotate(85 1550.7 1089.2)" cx="1550.7" cy="1089.2" rx="9.5" ry="6.6" fill="rgb(13,158,13)"/>
<ellipse transform="rotate(148 1550.1 1093.1)" cx="1550.1" cy="1093.1" rx="8.1" ry="5.1" fill="rgb(13,156,13)"/>
<ellipse cx="1632" cy="1084" rx="9.6" ry="9.6" fill="rgb(14,196,14)"/>
<ellipse transform="rotate(38 1633.3 1079.4)" cx="1633.3" cy="1079.4" rx="8.5" ry="5.8" fill="rgb(14,161,14)"/>
<ellipse transform="rotate(64 1632.5 1079.8)" cx="1632.5" cy="1079.8" rx="9.6" ry="5.0" fill="rgb(14,149,14)"/>
<ellipse cx="1629.0" cy="1081.6" rx="9.0" ry="9.0" fill="rgb(240,125,240)" opacity="0.36"/>
<ellipse cx="1711" cy="1081" rx="9.6" ry="9.6" fill="rgb(8,110,8)"/>
<ellipse transform="rotate(50 1715.1 1078.0)" cx="1715.1" cy="1078.0" rx="7.4" ry="5.7" fill="rgb(8,86,8)"/>
<ellipse transform="rotate(23 1711.6 1078.9)" cx="1711.6" cy="1078.9" rx="8.8" ry="4.1" fill="rgb(8,89,8)"/>
<ellipse cx="1599" cy="1088" rx="9.6" ry="9.6" fill="rgb(5,73,5)"/>
<ellipse transform="rotate(30 1604.9 1092.1)" cx="1604.9" cy="1092.1" rx="9.0" ry="3.7" fill="rgb(5,54,5)"/>
<ellipse transform="rotate(74 1601.0 1088.0)" cx="1601.0" cy="1088.0" rx="6.1" ry="5.9" fill="rgb(5,65,5)"/>
<ellipse cx="1632" cy="1116" rx="7.2" ry="7.2" fill="rgb(11,159,11)"/>
<ellipse transform="rotate(51 1635.1 1111.8)" cx="1635.1" cy="1111.8" rx="5.0" ry="3.0" fill="rgb(11,152,11)"/>
<ellipse transform="rotate(178 1634.7 1120.4)" cx="1634.7" cy="1120.4" rx="4.9" ry="2.7" fill="rgb(11,126,11)"/>
<ellipse cx="1671" cy="1111" rx="5.6" ry="5.6" fill="rgb(6,85,6)"/>
<ellipse transform="rotate(173 1668.3 1109.8)" cx="1668.3" cy="1109.8" rx="3.9" ry="2.8" fill="rgb(6,79,6)"/>
<ellipse transform="rotate(10 1671.3 1108.6)" cx="1671.3" cy="1108.6" rx="4.1" ry="2.2" fill="rgb(6,67,6)"/>
<ellipse cx="1571" cy="1144" rx="14.4" ry="9.6" fill="rgb(9,134,9)"/>
<ellipse transform="rotate(85 1579.5 1149.7)" cx="1579.5" cy="1149.7" rx="12.0" ry="6.1" fill="rgb(9,115,9)"/>
<ellipse transform="rotate(172 1569.4 1149.0)" cx="1569.4" cy="1149.0" rx="12.1" ry="6.5" fill="rgb(9,109,9)"/>
<ellipse cx="1613" cy="1135" rx="4.0" ry="5.6" fill="rgb(1,24,1)"/>
<ellipse transform="rotate(90 1612.0 1138.4)" cx="1612.0" cy="1138.4" rx="2.6" ry="2.8" fill="rgb(1,22,1)"/>
<ellipse transform="rotate(175 1613.8 1132.9)" cx="1613.8" cy="1132.9" rx="3.4" ry="3.5" fill="rgb(1,20,1)"/>
<ellipse cx="1611.8" cy="1133.6" rx="3.8" ry="5.2" fill="rgb(240,125,240)" opacity="0.60"/>
<ellipse cx="1566" cy="1170" rx="7.2" ry="7.2" fill="rgb(12,171,12)"/>
<ellipse transform="rotate(132 1564.3 1171.8)" cx="1564.3" cy="1171.8" rx="5.4" ry="3.5" fill="rgb(12,161,12)"/>
<ellipse transform="rotate(85 1566.7 1169.5)" cx="1566.7" cy="1169.5" rx="6.5" ry="3.0" fill="rgb(12,152,12)"/>
<ellipse cx="1629" cy="1167" rx="11.2" ry="9.6" fill="rgb(5,73,5)"/>
<ellipse transform="rotate(93 1625.0 1162.5)" cx="1625.0" cy="1162.5" rx="10.9" ry="4.2" fill="rgb(5,58,5)"/>
<ellipse transform="rotate(51 1628.3 1170.2)" cx="1628.3" cy="1170.2" rx="8.0" ry="5.7" fill="rgb(5,56,5)"/>
<ellipse cx="1662" cy="1193" rx="4.8" ry="12.0" fill="rgb(12,171,12)"/>
<ellipse transform="rotate(28 1661.1 1199.7)" cx="1661.1" cy="1199.7" rx="3.9" ry="5.8" fill="rgb(12,141,12)"/>
<ellipse transform="rotate(91 1660.8 1187.1)" cx="1660.8" cy="1187.1" rx="3.7" ry="8.2" fill="rgb(12,160,12)"/>
<ellipse cx="1629" cy="1202" rx="11.2" ry="9.6" fill="rgb(5,73,5)"/>
<ellipse transform="rotate(66 1630.7 1200.3)" cx="1630.7" cy="1200.3" rx="7.4" ry="5.0" fill="rgb(5,59,5)"/>
<ellipse transform="rotate(14 1629.5 1205.5)" cx="1629.5" cy="1205.5" rx="10.8" ry="4.7" fill="rgb(5,55,5)"/>
<ellipse cx="1678" cy="1237" rx="6.4" ry="5.6" fill="rgb(10,147,10)"/>
<ellipse transform="rotate(50 1679.8 1239.6)" cx="1679.8" cy="1239.6" rx="5.9" ry="2.6" fill="rgb(10,116,10)"/>
<ellipse transform="rotate(105 1678.0 1233.5)" cx="1678.0" cy="1233.5" rx="4.5" ry="2.4" fill="rgb(10,126,10)"/>
<ellipse cx="1632" cy="1267" rx="9.6" ry="9.6" fill="rgb(14,196,14)"/>
<ellipse transform="rotate(56 1637.1 1271.8)" cx="1637.1" cy="1271.8" rx="7.2" ry="4.6" fill="rgb(14,162,14)"/>
<ellipse transform="rotate(3 1630.6 1272.5)" cx="1630.6" cy="1272.5" rx="8.0" ry="5.4" fill="rgb(14,164,14)"/>
<ellipse cx="1592" cy="1258" rx="6.4" ry="7.2" fill="rgb(6,85,6)"/>
<ellipse transform="rotate(77 1590.7 1260.0)" cx="1590.7" cy="1260.0" rx="6.2" ry="3.2" fill="rgb(6,66,6)"/>
<ellipse transform="rotate(31 1593.6 1261.9)" cx="1593.6" cy="1261.9" rx="5.9" ry="3.5" fill="rgb(6,79,6)"/>
<ellipse cx="1711" cy="1258" rx="6.4" ry="6.4" fill="rgb(8,110,8)"/>
<ellipse transform="rotate(93 1714.3 1255.1)" cx="1714.3" cy="1255.1" rx="5.3" ry="4.2" fill="rgb(8,109,8)"/>
<ellipse transform="rotate(87 1710.2 1259.2)" cx="1710.2" cy="1259.2" rx="5.8" ry="3.8" fill="rgb(8,102,8)"/>
</g><g filter="url(#b2)">
<circle cx="1602.1" cy="1009.4" r="1.7" fill="rgb(178,178,178)"/>
<circle cx="1603.8" cy="1005.6" r="1.2" fill="rgb(178,178,178)"/>
<circle cx="1626.8" cy="1030.0" r="2.0" fill="rgb(194,194,194)"/>
<circle cx="1625.2" cy="1027.9" r="1.6" fill="rgb(194,194,194)"/>
<circle cx="1624.4" cy="1035.4" r="1.8" fill="rgb(194,194,194)"/>
<circle cx="1634.4" cy="1022.0" r="1.7" fill="rgb(194,194,194)"/>
<circle cx="1707.2" cy="1008.1" r="1.2" fill="rgb(178,178,178)"/>
<circle cx="1717.5" cy="1010.4" r="2.0" fill="rgb(178,178,178)"/>
<circle cx="1671.6" cy="1049.6" r="1.6" fill="rgb(218,218,218)"/>
<circle cx="1671.7" cy="1053.5" r="1.8" fill="rgb(218,218,218)"/>
<circle cx="1671.1" cy="1051.0" r="1.8" fill="rgb(218,218,218)"/>
<circle cx="1669.8" cy="1045.4" r="1.1" fill="rgb(218,218,218)"/>
<circle cx="1668.0" cy="1056.0" r="1.2" fill="rgb(218,218,218)"/>
<circle cx="1672.6" cy="1054.5" r="1.2" fill="rgb(218,218,218)"/>
<circle cx="1554.9" cy="1092.6" r="1.2" fill="rgb(198,198,198)"/>
<circle cx="1558.5" cy="1093.6" r="1.3" fill="rgb(198,198,198)"/>
<circle cx="1556.2" cy="1092.4" r="1.4" fill="rgb(198,198,198)"/>
<circle cx="1557.8" cy="1092.3" r="1.0" fill="rgb(198,198,198)"/>
<circle cx="1631.9" cy="1082.9" r="1.5" fill="rgb(186,186,186)"/>
<circle cx="1636.0" cy="1088.6" r="2.0" fill="rgb(186,186,186)"/>
<circle cx="1631.8" cy="1083.3" r="1.2" fill="rgb(186,186,186)"/>
<circle cx="1635.0" cy="1121.1" r="1.1" fill="rgb(186,186,186)"/>
<circle cx="1632.4" cy="1110.8" r="1.8" fill="rgb(186,186,186)"/>
<circle cx="1629.5" cy="1117.3" r="1.4" fill="rgb(186,186,186)"/>
<circle cx="1567.3" cy="1140.4" r="1.7" fill="rgb(182,182,182)"/>
<circle cx="1560.5" cy="1146.9" r="1.6" fill="rgb(182,182,182)"/>
<circle cx="1570.3" cy="1147.8" r="1.2" fill="rgb(182,182,182)"/>
<circle cx="1613.2" cy="1134.9" r="1.4" fill="rgb(202,202,202)"/>
<circle cx="1610.9" cy="1136.4" r="1.1" fill="rgb(202,202,202)"/>
<circle cx="1612.8" cy="1134.4" r="1.3" fill="rgb(202,202,202)"/>
<circle cx="1612.9" cy="1135.4" r="2.0" fill="rgb(202,202,202)"/>
<circle cx="1616.1" cy="1136.8" r="1.7" fill="rgb(202,202,202)"/>
<circle cx="1614.7" cy="1133.2" r="1.4" fill="rgb(245,150,245)"/>
<circle cx="1609.4" cy="1136.3" r="1.2" fill="rgb(245,150,245)"/>
<circle cx="1613.3" cy="1138.7" r="1.6" fill="rgb(245,150,245)"/>
<circle cx="1616.5" cy="1134.1" r="1.4" fill="rgb(245,150,245)"/>
<circle cx="1612.8" cy="1138.8" r="1.0" fill="rgb(245,150,245)"/>
<circle cx="1614.4" cy="1130.9" r="1.2" fill="rgb(245,150,245)"/>
<circle cx="1610.0" cy="1140.6" r="1.3" fill="rgb(245,150,245)"/>
<circle cx="1664.7" cy="1196.5" r="1.4" fill="rgb(242,242,242)"/>
<circle cx="1664.9" cy="1199.5" r="1.2" fill="rgb(242,242,242)"/>
<circle cx="1662.9" cy="1198.5" r="1.2" fill="rgb(242,242,242)"/>
<circle cx="1661.0" cy="1197.4" r="1.9" fill="rgb(242,242,242)"/>
<circle cx="1660.4" cy="1190.4" r="1.8" fill="rgb(242,242,242)"/>
<circle cx="1665.7" cy="1188.4" r="1.0" fill="rgb(242,242,242)"/>
<circle cx="1663.2" cy="1184.8" r="1.7" fill="rgb(242,242,242)"/>
<circle cx="1661.6" cy="1185.7" r="1.2" fill="rgb(242,242,242)"/>
<circle cx="1665.2" cy="1189.2" r="1.2" fill="rgb(242,242,242)"/>
<circle cx="1630.3" cy="1266.7" r="1.2" fill="rgb(210,210,210)"/>
<circle cx="1631.1" cy="1266.1" r="1.0" fill="rgb(210,210,210)"/>
<circle cx="1627.9" cy="1263.3" r="1.9" fill="rgb(210,210,210)"/>
<circle cx="1634.8" cy="1267.5" r="1.1" fill="rgb(210,210,210)"/>
<circle cx="1638.2" cy="1263.3" r="1.2" fill="rgb(210,210,210)"/>
<circle cx="1625.9" cy="1268.1" r="1.6" fill="rgb(210,210,210)"/>
<circle cx="1632.0" cy="1154.9" r="0.9" fill="rgb(220,120,220)"/>
<circle cx="1559.6" cy="1047.7" r="1.1" fill="rgb(220,120,220)"/>
<circle cx="1573.7" cy="1251.5" r="0.9" fill="rgb(220,120,220)"/>
<circle cx="1551.2" cy="1184.7" r="1.2" fill="rgb(220,120,220)"/>
<circle cx="1677.0" cy="1128.6" r="1.4" fill="rgb(220,120,220)"/>
<circle cx="1665.3" cy="1265.4" r="1.3" fill="rgb(220,120,220)"/>
<circle cx="1596.1" cy="1124.4" r="0.9" fill="rgb(220,120,220)"/>
<circle cx="1657.7" cy="1112.3" r="1.1" fill="rgb(220,120,220)"/>
<circle cx="1612.1" cy="1053.0" r="1.2" fill="rgb(220,120,220)"/>
<circle cx="1673.8" cy="1101.5" r="0.8" fill="rgb(220,120,220)"/>
<circle cx="1654.7" cy="1178.3" r="1.1" fill="rgb(220,120,220)"/>
<circle cx="1691.5" cy="1267.5" r="1.3" fill="rgb(220,120,220)"/>
<circle cx="1652.0" cy="1266.9" r="1.2" fill="rgb(220,120,220)"/>
<circle cx="1638.0" cy="1061.3" r="1.0" fill="rgb(220,120,220)"/>
<circle cx="1611.6" cy="1078.1" r="0.9" fill="rgb(220,120,220)"/>
<circle cx="1580.5" cy="1032.6" r="1.1" fill="rgb(220,120,220)"/>
<circle cx="1624.0" cy="1228.9" r="1.3" fill="rgb(220,120,220)"/>
<circle cx="1708.9" cy="1258.9" r="0.8" fill="rgb(220,120,220)"/>
<circle cx="1662.2" cy="1263.3" r="0.8" fill="rgb(220,120,220)"/>
<circle cx="1572.7" cy="1009.3" r="0.8" fill="rgb(220,120,220)"/>
<circle cx="1711.8" cy="1250.1" r="0.8" fill="rgb(220,120,220)"/>
<circle cx="1549.8" cy="1033.5" r="1.4" fill="rgb(220,120,220)"/>
<circle cx="1604.6" cy="1163.4" r="1.0" fill="rgb(220,120,220)"/>
<circle cx="1621.4" cy="1181.7" r="1.5" fill="rgb(220,120,220)"/>
<circle cx="1560.1" cy="1121.3" r="1.3" fill="rgb(220,120,220)"/>
</g></g>
<g clip-path="url(#cb9)">
<rect x="1731.0" y="999.5" width="178.5" height="291.5" fill="rgb(0, 5, 0)"/>
<g filter="url(#b5)" style="mix-blend-mode:screen">
<ellipse cx="1825" cy="1009" rx="9.6" ry="9.6" fill="rgb(5,63,5)"/>
<ellipse cx="1859" cy="1030" rx="18.0" ry="16.8" fill="rgb(9,114,9)"/>
<ellipse cx="1734" cy="1044" rx="9.6" ry="12.0" fill="rgb(8,108,8)"/>
<ellipse cx="1874" cy="1098" rx="10.8" ry="12.0" fill="rgb(8,108,8)"/>
<ellipse cx="1864" cy="1135" rx="8.4" ry="8.4" fill="rgb(3,38,3)"/>
<ellipse cx="1857" cy="1160" rx="14.4" ry="10.8" fill="rgb(9,114,9)"/>
<ellipse cx="1755" cy="1179" rx="10.8" ry="10.8" fill="rgb(5,63,5)"/>
<ellipse cx="1775" cy="1181" rx="15.6" ry="15.6" fill="rgb(8,102,8)"/>
<ellipse cx="1784" cy="1195" rx="8.4" ry="8.4" fill="rgb(8,108,8)"/>
<ellipse cx="1868" cy="1193" rx="14.4" ry="14.4" fill="rgb(8,108,8)"/>
<ellipse cx="1902" cy="1179" rx="14.4" ry="19.2" fill="rgb(8,102,8)"/>
<ellipse cx="1751" cy="1205" rx="10.8" ry="10.8" fill="rgb(6,76,6)"/>
<ellipse cx="1737" cy="1216" rx="12.0" ry="10.8" fill="rgb(9,114,9)"/>
<ellipse cx="1809" cy="1214" rx="21.6" ry="18.0" fill="rgb(4,57,4)"/>
</g><g filter="url(#b3)" style="mix-blend-mode:screen">
<ellipse cx="1825" cy="1009" rx="6.4" ry="6.4" fill="rgb(9,122,9)"/>
<ellipse transform="rotate(51 1827.3 1010.0)" cx="1827.3" cy="1010.0" rx="4.5" ry="3.5" fill="rgb(9,92,9)"/>
<ellipse transform="rotate(108 1828.2 1009.7)" cx="1828.2" cy="1009.7" rx="5.8" ry="4.3" fill="rgb(9,103,9)"/>
<ellipse cx="1859" cy="1030" rx="12.0" ry="11.2" fill="rgb(16,220,16)"/>
<ellipse transform="rotate(96 1858.6 1032.0)" cx="1858.6" cy="1032.0" rx="11.6" ry="4.5" fill="rgb(16,178,16)"/>
<ellipse transform="rotate(103 1857.8 1035.9)" cx="1857.8" cy="1035.9" rx="8.4" ry="5.5" fill="rgb(16,186,16)"/>
<ellipse cx="1734" cy="1044" rx="6.4" ry="8.0" fill="rgb(15,208,15)"/>
<ellipse transform="rotate(112 1736.0 1045.8)" cx="1736.0" cy="1045.8" rx="4.9" ry="3.7" fill="rgb(15,205,15)"/>
<ellipse transform="rotate(127 1735.0 1048.3)" cx="1735.0" cy="1048.3" rx="6.0" ry="3.1" fill="rgb(15,200,15)"/>
<ellipse cx="1773.2" cy="1064.0" rx="5.2" ry="3.8" fill="rgb(240,125,240)" opacity="0.72"/>
<ellipse cx="1874" cy="1098" rx="7.2" ry="8.0" fill="rgb(15,208,15)"/>
<ellipse transform="rotate(123 1875.2 1095.5)" cx="1875.2" cy="1095.5" rx="6.7" ry="3.5" fill="rgb(15,196,15)"/>
<ellipse transform="rotate(149 1872.8 1094.6)" cx="1872.8" cy="1094.6" rx="6.0" ry="4.4" fill="rgb(15,192,15)"/>
<ellipse cx="1897.5" cy="1094.6" rx="7.5" ry="5.2" fill="rgb(240,125,240)" opacity="1.00"/>
<ellipse cx="1864" cy="1135" rx="5.6" ry="5.6" fill="rgb(5,73,5)"/>
<ellipse transform="rotate(32 1865.7 1134.7)" cx="1865.7" cy="1134.7" rx="5.1" ry="3.0" fill="rgb(5,72,5)"/>
<ellipse transform="rotate(42 1864.4 1132.9)" cx="1864.4" cy="1132.9" rx="4.9" ry="3.5" fill="rgb(5,55,5)"/>
<ellipse cx="1857" cy="1160" rx="9.6" ry="7.2" fill="rgb(16,220,16)"/>
<ellipse transform="rotate(78 1854.1 1157.3)" cx="1854.1" cy="1157.3" rx="8.7" ry="3.3" fill="rgb(16,180,16)"/>
<ellipse transform="rotate(155 1854.1 1159.1)" cx="1854.1" cy="1159.1" rx="6.4" ry="3.0" fill="rgb(16,204,16)"/>
<ellipse cx="1755" cy="1179" rx="7.2" ry="7.2" fill="rgb(9,122,9)"/>
<ellipse transform="rotate(118 1751.0 1180.5)" cx="1751.0" cy="1180.5" rx="5.3" ry="4.6" fill="rgb(9,96,9)"/>
<ellipse transform="rotate(149 1750.9 1181.1)" cx="1750.9" cy="1181.1" rx="5.4" ry="4.4" fill="rgb(9,111,9)"/>
<ellipse cx="1775" cy="1181" rx="10.4" ry="10.4" fill="rgb(14,196,14)"/>
<ellipse transform="rotate(112 1780.5 1181.8)" cx="1780.5" cy="1181.8" rx="10.1" ry="7.1" fill="rgb(14,176,14)"/>
<ellipse transform="rotate(22 1777.1 1180.8)" cx="1777.1" cy="1180.8" rx="8.2" ry="6.1" fill="rgb(14,170,14)"/>
<ellipse cx="1771.8" cy="1178.4" rx="9.8" ry="9.8" fill="rgb(240,125,240)" opacity="0.48"/>
<ellipse cx="1784" cy="1195" rx="5.6" ry="5.6" fill="rgb(15,208,15)"/>
<ellipse transform="rotate(36 1783.9 1193.2)" cx="1783.9" cy="1193.2" rx="4.7" ry="3.4" fill="rgb(15,194,15)"/>
<ellipse transform="rotate(21 1781.9 1194.6)" cx="1781.9" cy="1194.6" rx="4.2" ry="2.6" fill="rgb(15,164,15)"/>
<ellipse cx="1868" cy="1193" rx="9.6" ry="9.6" fill="rgb(15,208,15)"/>
<ellipse transform="rotate(92 1873.4 1188.3)" cx="1873.4" cy="1188.3" rx="9.2" ry="3.9" fill="rgb(15,160,15)"/>
<ellipse transform="rotate(64 1872.3 1190.8)" cx="1872.3" cy="1190.8" rx="8.3" ry="3.8" fill="rgb(15,161,15)"/>
<ellipse cx="1865.0" cy="1190.6" rx="9.0" ry="9.0" fill="rgb(240,125,240)" opacity="0.48"/>
<ellipse cx="1902" cy="1179" rx="9.6" ry="12.8" fill="rgb(14,196,14)"/>
<ellipse transform="rotate(50 1904.0 1179.5)" cx="1904.0" cy="1179.5" rx="8.6" ry="5.1" fill="rgb(14,178,14)"/>
<ellipse transform="rotate(144 1907.0 1185.0)" cx="1907.0" cy="1185.0" rx="7.2" ry="5.3" fill="rgb(14,192,14)"/>
<ellipse cx="1888.8" cy="1199.0" rx="3.8" ry="3.8" fill="rgb(240,125,240)" opacity="0.84"/>
<ellipse cx="1751" cy="1205" rx="7.2" ry="7.2" fill="rgb(10,147,10)"/>
<ellipse transform="rotate(122 1750.4 1208.8)" cx="1750.4" cy="1208.8" rx="6.5" ry="4.5" fill="rgb(10,114,10)"/>
<ellipse transform="rotate(157 1750.6 1206.3)" cx="1750.6" cy="1206.3" rx="6.6" ry="4.0" fill="rgb(10,125,10)"/>
<ellipse cx="1737" cy="1216" rx="8.0" ry="7.2" fill="rgb(16,220,16)"/>
<ellipse transform="rotate(27 1739.9 1219.1)" cx="1739.9" cy="1219.1" rx="6.8" ry="3.5" fill="rgb(16,175,16)"/>
<ellipse transform="rotate(80 1735.0 1211.5)" cx="1735.0" cy="1211.5" rx="6.2" ry="3.2" fill="rgb(16,219,16)"/>
<ellipse cx="1809" cy="1214" rx="14.4" ry="12.0" fill="rgb(8,110,8)"/>
<ellipse transform="rotate(5 1806.7 1215.5)" cx="1806.7" cy="1215.5" rx="11.8" ry="5.9" fill="rgb(8,87,8)"/>
<ellipse transform="rotate(11 1812.5 1208.4)" cx="1812.5" cy="1208.4" rx="13.1" ry="6.9" fill="rgb(8,107,8)"/>
</g><g filter="url(#b2)">
<circle cx="1857.3" cy="1028.8" r="1.1" fill="rgb(202,202,202)"/>
<circle cx="1851.8" cy="1032.4" r="1.5" fill="rgb(202,202,202)"/>
<circle cx="1858.1" cy="1030.0" r="1.9" fill="rgb(202,202,202)"/>
<circle cx="1859.3" cy="1034.1" r="1.8" fill="rgb(202,202,202)"/>
<circle cx="1862.9" cy="1028.7" r="1.5" fill="rgb(202,202,202)"/>
<circle cx="1776.4" cy="1063.5" r="1.1" fill="rgb(186,186,186)"/>
<circle cx="1775.4" cy="1066.2" r="1.0" fill="rgb(186,186,186)"/>
<circle cx="1779.3" cy="1066.3" r="1.8" fill="rgb(186,186,186)"/>
<circle cx="1774.6" cy="1063.7" r="1.2" fill="rgb(245,150,245)"/>
<circle cx="1773.9" cy="1064.9" r="1.3" fill="rgb(245,150,245)"/>
<circle cx="1770.2" cy="1067.8" r="1.5" fill="rgb(245,150,245)"/>
<circle cx="1780.4" cy="1064.8" r="1.4" fill="rgb(245,150,245)"/>
<circle cx="1777.2" cy="1063.5" r="1.1" fill="rgb(245,150,245)"/>
<circle cx="1771.7" cy="1064.9" r="1.7" fill="rgb(245,150,245)"/>
<circle cx="1773.8" cy="1064.5" r="1.5" fill="rgb(245,150,245)"/>
<circle cx="1896.4" cy="1092.8" r="1.1" fill="rgb(194,194,194)"/>
<circle cx="1899.3" cy="1095.7" r="1.4" fill="rgb(194,194,194)"/>
<circle cx="1898.3" cy="1097.4" r="1.4" fill="rgb(194,194,194)"/>
<circle cx="1899.2" cy="1095.9" r="1.5" fill="rgb(194,194,194)"/>
<circle cx="1904.2" cy="1098.2" r="0.9" fill="rgb(245,150,245)"/>
<circle cx="1898.0" cy="1096.0" r="1.6" fill="rgb(245,150,245)"/>
<circle cx="1905.0" cy="1094.2" r="1.3" fill="rgb(245,150,245)"/>
<circle cx="1890.7" cy="1097.2" r="1.0" fill="rgb(245,150,245)"/>
<circle cx="1895.0" cy="1098.7" r="1.1" fill="rgb(245,150,245)"/>
<circle cx="1894.6" cy="1096.6" r="1.0" fill="rgb(245,150,245)"/>
<circle cx="1894.3" cy="1094.4" r="1.0" fill="rgb(245,150,245)"/>
<circle cx="1895.8" cy="1095.7" r="1.4" fill="rgb(245,150,245)"/>
<circle cx="1895.0" cy="1100.6" r="1.4" fill="rgb(245,150,245)"/>
<circle cx="1778.3" cy="1181.1" r="1.8" fill="rgb(226,226,226)"/>
<circle cx="1771.1" cy="1187.4" r="1.9" fill="rgb(226,226,226)"/>
<circle cx="1781.5" cy="1177.7" r="1.4" fill="rgb(226,226,226)"/>
<circle cx="1774.2" cy="1181.1" r="1.3" fill="rgb(226,226,226)"/>
<circle cx="1774.4" cy="1188.8" r="1.8" fill="rgb(226,226,226)"/>
<circle cx="1769.9" cy="1175.6" r="1.4" fill="rgb(226,226,226)"/>
<circle cx="1772.8" cy="1178.3" r="1.0" fill="rgb(226,226,226)"/>
<circle cx="1761.1" cy="1179.4" r="1.3" fill="rgb(245,150,245)"/>
<circle cx="1776.5" cy="1178.1" r="1.1" fill="rgb(245,150,245)"/>
<circle cx="1775.4" cy="1185.7" r="1.2" fill="rgb(245,150,245)"/>
<circle cx="1775.5" cy="1183.6" r="1.8" fill="rgb(245,150,245)"/>
<circle cx="1773.4" cy="1175.6" r="1.1" fill="rgb(245,150,245)"/>
<circle cx="1768.1" cy="1181.1" r="1.5" fill="rgb(245,150,245)"/>
<circle cx="1866.9" cy="1198.5" r="1.8" fill="rgb(210,210,210)"/>
<circle cx="1867.6" cy="1195.0" r="1.6" fill="rgb(210,210,210)"/>
<circle cx="1860.9" cy="1189.5" r="1.8" fill="rgb(210,210,210)"/>
<circle cx="1863.7" cy="1194.1" r="1.8" fill="rgb(210,210,210)"/>
<circle cx="1867.0" cy="1192.5" r="1.4" fill="rgb(210,210,210)"/>
<circle cx="1872.5" cy="1197.0" r="1.8" fill="rgb(210,210,210)"/>
<circle cx="1865.2" cy="1192.5" r="1.3" fill="rgb(245,150,245)"/>
<circle cx="1873.7" cy="1193.9" r="1.6" fill="rgb(245,150,245)"/>
<circle cx="1868.2" cy="1201.2" r="0.9" fill="rgb(245,150,245)"/>
<circle cx="1872.4" cy="1201.8" r="1.1" fill="rgb(245,150,245)"/>
<circle cx="1858.9" cy="1184.0" r="1.6" fill="rgb(245,150,245)"/>
<circle cx="1860.7" cy="1194.4" r="1.3" fill="rgb(245,150,245)"/>
<circle cx="1891.2" cy="1203.2" r="1.4" fill="rgb(245,150,245)"/>
<circle cx="1889.2" cy="1197.6" r="1.1" fill="rgb(245,150,245)"/>
<circle cx="1889.0" cy="1200.6" r="1.5" fill="rgb(245,150,245)"/>
<circle cx="1887.1" cy="1200.0" r="1.8" fill="rgb(245,150,245)"/>
<circle cx="1887.8" cy="1201.3" r="1.1" fill="rgb(245,150,245)"/>
<circle cx="1888.8" cy="1201.2" r="1.4" fill="rgb(245,150,245)"/>
<circle cx="1886.9" cy="1201.1" r="1.7" fill="rgb(245,150,245)"/>
<circle cx="1887.2" cy="1202.4" r="1.4" fill="rgb(245,150,245)"/>
<circle cx="1898.3" cy="1170.7" r="1.4" fill="rgb(220,120,220)"/>
<circle cx="1796.0" cy="1057.7" r="0.9" fill="rgb(220,120,220)"/>
<circle cx="1875.9" cy="1035.5" r="0.9" fill="rgb(220,120,220)"/>
<circle cx="1881.0" cy="1021.1" r="1.3" fill="rgb(220,120,220)"/>
<circle cx="1801.6" cy="1066.0" r="1.5" fill="rgb(220,120,220)"/>
<circle cx="1883.0" cy="1063.2" r="0.8" fill="rgb(220,120,220)"/>
<circle cx="1829.8" cy="1024.1" r="1.5" fill="rgb(220,120,220)"/>
<circle cx="1790.2" cy="1092.2" r="0.7" fill="rgb(220,120,220)"/>
<circle cx="1818.2" cy="1160.8" r="0.8" fill="rgb(220,120,220)"/>
<circle cx="1855.2" cy="1147.5" r="1.4" fill="rgb(220,120,220)"/>
<circle cx="1893.5" cy="1247.8" r="1.1" fill="rgb(220,120,220)"/>
<circle cx="1793.6" cy="1182.3" r="1.0" fill="rgb(220,120,220)"/>
<circle cx="1812.4" cy="1072.8" r="0.8" fill="rgb(220,120,220)"/>
<circle cx="1750.9" cy="1181.4" r="1.4" fill="rgb(220,120,220)"/>
<circle cx="1904.4" cy="1078.2" r="0.9" fill="rgb(220,120,220)"/>
<circle cx="1748.0" cy="1032.9" r="1.4" fill="rgb(220,120,220)"/>
<circle cx="1793.4" cy="1106.8" r="0.9" fill="rgb(220,120,220)"/>
<circle cx="1855.3" cy="1057.1" r="1.5" fill="rgb(220,120,220)"/>
<circle cx="1737.1" cy="1263.5" r="1.0" fill="rgb(220,120,220)"/>
<circle cx="1810.4" cy="1144.1" r="0.9" fill="rgb(220,120,220)"/>
<circle cx="1892.9" cy="1149.0" r="1.1" fill="rgb(220,120,220)"/>
<circle cx="1885.2" cy="1188.9" r="1.4" fill="rgb(220,120,220)"/>
<circle cx="1753.7" cy="1087.5" r="0.9" fill="rgb(220,120,220)"/>
<circle cx="1822.4" cy="1076.9" r="1.4" fill="rgb(220,120,220)"/>
<circle cx="1769.5" cy="1112.6" r="1.0" fill="rgb(220,120,220)"/>
</g></g>
<g clip-path="url(#cb10)">
<rect x="1917.5" y="999.5" width="178.9" height="291.5" fill="rgb(0, 13, 0)"/>
<g filter="url(#b5)" style="mix-blend-mode:screen">
<ellipse cx="1974" cy="1035" rx="10.8" ry="10.8" fill="rgb(8,108,8)"/>
<ellipse cx="2067" cy="1037" rx="14.4" ry="13.2" fill="rgb(8,108,8)"/>
<ellipse cx="1949" cy="1075" rx="12.0" ry="10.8" fill="rgb(8,108,8)"/>
<ellipse cx="2023" cy="1086" rx="14.4" ry="13.2" fill="rgb(8,108,8)"/>
<ellipse cx="2086" cy="1098" rx="12.0" ry="13.2" fill="rgb(7,95,7)"/>
<ellipse cx="1928" cy="1044" rx="9.6" ry="9.6" fill="rgb(4,51,4)"/>
<ellipse cx="2046" cy="1130" rx="14.4" ry="14.4" fill="rgb(3,38,3)"/>
<ellipse cx="1990" cy="1135" rx="12.0" ry="9.6" fill="rgb(3,38,3)"/>
<ellipse cx="2081" cy="1200" rx="14.4" ry="14.4" fill="rgb(7,95,7)"/>
<ellipse cx="2003" cy="1216" rx="10.8" ry="10.8" fill="rgb(8,108,8)"/>
<ellipse cx="1937" cy="1209" rx="12.0" ry="12.0" fill="rgb(4,57,4)"/>
<ellipse cx="1951" cy="1251" rx="12.0" ry="12.0" fill="rgb(7,89,7)"/>
<ellipse cx="2007" cy="1270" rx="10.8" ry="12.0" fill="rgb(2,25,2)"/>
<ellipse cx="2042" cy="1265" rx="13.2" ry="15.6" fill="rgb(8,102,8)"/>
<ellipse cx="1932" cy="1268" rx="9.6" ry="9.6" fill="rgb(5,63,5)"/>
</g><g filter="url(#b3)" style="mix-blend-mode:screen">
<ellipse cx="1974" cy="1035" rx="7.2" ry="7.2" fill="rgb(15,208,15)"/>
<ellipse transform="rotate(89 1972.4 1036.9)" cx="1972.4" cy="1036.9" rx="5.5" ry="4.6" fill="rgb(15,197,15)"/>
<ellipse transform="rotate(169 1977.0 1034.1)" cx="1977.0" cy="1034.1" rx="5.1" ry="3.9" fill="rgb(15,204,15)"/>
<ellipse cx="2067" cy="1037" rx="9.6" ry="8.8" fill="rgb(15,208,15)"/>
<ellipse transform="rotate(156 2071.5 1034.0)" cx="2071.5" cy="1034.0" rx="9.0" ry="4.3" fill="rgb(15,171,15)"/>
<ellipse transform="rotate(68 2072.3 1041.1)" cx="2072.3" cy="1041.1" rx="8.2" ry="4.9" fill="rgb(15,156,15)"/>
<ellipse cx="1930.8" cy="1022.0" rx="3.8" ry="3.8" fill="rgb(240,125,240)" opacity="0.96"/>
<ellipse cx="1949" cy="1075" rx="8.0" ry="7.2" fill="rgb(15,208,15)"/>
<ellipse transform="rotate(75 1947.0 1078.7)" cx="1947.0" cy="1078.7" rx="5.7" ry="4.3" fill="rgb(15,183,15)"/>
<ellipse transform="rotate(169 1949.4 1071.8)" cx="1949.4" cy="1071.8" rx="5.4" ry="4.3" fill="rgb(15,170,15)"/>
<ellipse cx="2023" cy="1086" rx="9.6" ry="8.8" fill="rgb(15,208,15)"/>
<ellipse transform="rotate(77 2022.0 1089.4)" cx="2022.0" cy="1089.4" rx="8.6" ry="5.7" fill="rgb(15,184,15)"/>
<ellipse transform="rotate(86 2019.0 1081.7)" cx="2019.0" cy="1081.7" rx="8.9" ry="4.2" fill="rgb(15,163,15)"/>
<ellipse cx="2086" cy="1098" rx="8.0" ry="8.8" fill="rgb(13,183,13)"/>
<ellipse transform="rotate(49 2084.6 1093.4)" cx="2084.6" cy="1093.4" rx="5.8" ry="3.9" fill="rgb(13,153,13)"/>
<ellipse transform="rotate(22 2083.8 1100.5)" cx="2083.8" cy="1100.5" rx="6.9" ry="3.4" fill="rgb(13,160,13)"/>
<ellipse cx="1928" cy="1044" rx="6.4" ry="6.4" fill="rgb(7,98,7)"/>
<ellipse transform="rotate(44 1930.6 1046.1)" cx="1930.6" cy="1046.1" rx="4.2" ry="4.1" fill="rgb(7,74,7)"/>
<ellipse transform="rotate(105 1924.3 1044.9)" cx="1924.3" cy="1044.9" rx="5.1" ry="3.3" fill="rgb(7,89,7)"/>
<ellipse cx="2046" cy="1130" rx="9.6" ry="9.6" fill="rgb(5,73,5)"/>
<ellipse transform="rotate(18 2045.6 1133.1)" cx="2045.6" cy="1133.1" rx="7.8" ry="4.8" fill="rgb(5,59,5)"/>
<ellipse transform="rotate(174 2047.3 1128.7)" cx="2047.3" cy="1128.7" rx="9.3" ry="3.7" fill="rgb(5,58,5)"/>
<ellipse cx="1990" cy="1135" rx="8.0" ry="6.4" fill="rgb(5,73,5)"/>
<ellipse transform="rotate(52 1993.1 1131.8)" cx="1993.1" cy="1131.8" rx="7.7" ry="2.7" fill="rgb(5,62,5)"/>
<ellipse transform="rotate(88 1990.1 1137.3)" cx="1990.1" cy="1137.3" rx="8.0" ry="4.0" fill="rgb(5,67,5)"/>
<ellipse cx="1987.5" cy="1133.4" rx="7.5" ry="6.0" fill="rgb(240,125,240)" opacity="0.60"/>
<ellipse cx="1958.8" cy="1197.0" rx="3.8" ry="3.8" fill="rgb(240,125,240)" opacity="0.96"/>
<ellipse cx="2081" cy="1200" rx="9.6" ry="9.6" fill="rgb(13,183,13)"/>
<ellipse transform="rotate(99 2078.0 1197.9)" cx="2078.0" cy="1197.9" rx="9.5" ry="6.1" fill="rgb(13,171,13)"/>
<ellipse transform="rotate(128 2084.4 1201.3)" cx="2084.4" cy="1201.3" rx="8.9" ry="4.1" fill="rgb(13,177,13)"/>
<ellipse cx="2003" cy="1216" rx="7.2" ry="7.2" fill="rgb(15,208,15)"/>
<ellipse transform="rotate(174 2000.5 1215.2)" cx="2000.5" cy="1215.2" rx="6.7" ry="3.4" fill="rgb(15,172,15)"/>
<ellipse transform="rotate(178 2004.9 1219.3)" cx="2004.9" cy="1219.3" rx="6.1" ry="3.1" fill="rgb(15,185,15)"/>
<ellipse cx="1937" cy="1209" rx="8.0" ry="8.0" fill="rgb(8,110,8)"/>
<ellipse transform="rotate(23 1940.5 1206.1)" cx="1940.5" cy="1206.1" rx="6.6" ry="4.2" fill="rgb(8,106,8)"/>
<ellipse transform="rotate(124 1933.9 1213.2)" cx="1933.9" cy="1213.2" rx="6.2" ry="4.2" fill="rgb(8,106,8)"/>
<ellipse cx="1934.5" cy="1207.0" rx="7.5" ry="7.5" fill="rgb(240,125,240)" opacity="0.36"/>
<ellipse cx="1951" cy="1251" rx="8.0" ry="8.0" fill="rgb(12,171,12)"/>
<ellipse transform="rotate(4 1951.1 1246.9)" cx="1951.1" cy="1246.9" rx="6.1" ry="5.1" fill="rgb(12,153,12)"/>
<ellipse transform="rotate(103 1953.6 1252.7)" cx="1953.6" cy="1252.7" rx="6.7" ry="4.7" fill="rgb(12,138,12)"/>
<ellipse cx="2007" cy="1270" rx="7.2" ry="8.0" fill="rgb(3,49,3)"/>
<ellipse transform="rotate(13 2004.8 1269.7)" cx="2004.8" cy="1269.7" rx="5.7" ry="3.5" fill="rgb(3,44,3)"/>
<ellipse transform="rotate(39 2008.9 1273.0)" cx="2008.9" cy="1273.0" rx="6.1" ry="5.4" fill="rgb(3,36,3)"/>
<ellipse cx="2004.8" cy="1268.0" rx="6.8" ry="7.5" fill="rgb(240,125,240)" opacity="0.96"/>
<ellipse cx="2042" cy="1265" rx="8.8" ry="10.4" fill="rgb(14,196,14)"/>
<ellipse transform="rotate(109 2037.5 1268.9)" cx="2037.5" cy="1268.9" rx="5.5" ry="5.2" fill="rgb(14,181,14)"/>
<ellipse transform="rotate(178 2037.0 1270.8)" cx="2037.0" cy="1270.8" rx="7.5" ry="6.4" fill="rgb(14,181,14)"/>
<ellipse cx="2039.2" cy="1262.4" rx="8.2" ry="9.8" fill="rgb(240,125,240)" opacity="0.36"/>
<ellipse cx="1932" cy="1268" rx="6.4" ry="6.4" fill="rgb(9,122,9)"/>
<ellipse transform="rotate(70 1929.0 1271.9)" cx="1929.0" cy="1271.9" rx="4.0" ry="2.6" fill="rgb(9,104,9)"/>
<ellipse transform="rotate(91 1935.4 1265.6)" cx="1935.4" cy="1265.6" rx="5.8" ry="3.3" fill="rgb(9,113,9)"/>
<ellipse cx="2074.0" cy="1019.2" rx="3.0" ry="3.0" fill="rgb(240,125,240)" opacity="0.72"/>
</g><g filter="url(#b2)">
<circle cx="1972.0" cy="1029.7" r="1.2" fill="rgb(178,178,178)"/>
<circle cx="1971.1" cy="1037.6" r="1.7" fill="rgb(178,178,178)"/>
<circle cx="2066.7" cy="1036.9" r="1.2" fill="rgb(202,202,202)"/>
<circle cx="2062.1" cy="1042.6" r="1.6" fill="rgb(202,202,202)"/>
<circle cx="2066.3" cy="1041.6" r="1.3" fill="rgb(202,202,202)"/>
<circle cx="2073.1" cy="1035.8" r="1.9" fill="rgb(202,202,202)"/>
<circle cx="2066.1" cy="1037.7" r="1.8" fill="rgb(202,202,202)"/>
<circle cx="1932.8" cy="1026.9" r="1.6" fill="rgb(245,150,245)"/>
<circle cx="1932.9" cy="1020.8" r="1.5" fill="rgb(245,150,245)"/>
<circle cx="1932.4" cy="1023.3" r="1.0" fill="rgb(245,150,245)"/>
<circle cx="1933.5" cy="1024.0" r="1.0" fill="rgb(245,150,245)"/>
<circle cx="1930.2" cy="1023.0" r="1.1" fill="rgb(245,150,245)"/>
<circle cx="1932.6" cy="1018.3" r="1.5" fill="rgb(245,150,245)"/>
<circle cx="1930.3" cy="1022.4" r="1.3" fill="rgb(245,150,245)"/>
<circle cx="1931.3" cy="1022.8" r="1.2" fill="rgb(245,150,245)"/>
<circle cx="1931.1" cy="1024.1" r="1.0" fill="rgb(245,150,245)"/>
<circle cx="2022.7" cy="1083.2" r="2.0" fill="rgb(194,194,194)"/>
<circle cx="2020.2" cy="1091.3" r="1.4" fill="rgb(194,194,194)"/>
<circle cx="2023.1" cy="1085.5" r="2.0" fill="rgb(194,194,194)"/>
<circle cx="2023.1" cy="1092.1" r="1.3" fill="rgb(194,194,194)"/>
<circle cx="2090.0" cy="1098.5" r="1.1" fill="rgb(210,210,210)"/>
<circle cx="2086.3" cy="1096.3" r="1.0" fill="rgb(210,210,210)"/>
<circle cx="2081.7" cy="1096.8" r="1.6" fill="rgb(210,210,210)"/>
<circle cx="2085.9" cy="1097.6" r="1.9" fill="rgb(210,210,210)"/>
<circle cx="2088.0" cy="1092.2" r="1.0" fill="rgb(210,210,210)"/>
<circle cx="2085.6" cy="1099.6" r="1.9" fill="rgb(210,210,210)"/>
<circle cx="1987.5" cy="1138.2" r="1.1" fill="rgb(245,150,245)"/>
<circle cx="1987.9" cy="1134.0" r="1.3" fill="rgb(245,150,245)"/>
<circle cx="1988.1" cy="1132.1" r="1.1" fill="rgb(245,150,245)"/>
<circle cx="1986.1" cy="1134.9" r="1.6" fill="rgb(245,150,245)"/>
<circle cx="1988.9" cy="1133.3" r="0.9" fill="rgb(245,150,245)"/>
<circle cx="1987.9" cy="1135.1" r="1.7" fill="rgb(245,150,245)"/>
<circle cx="1993.7" cy="1133.6" r="1.4" fill="rgb(245,150,245)"/>
<circle cx="1957.5" cy="1197.0" r="1.4" fill="rgb(245,150,245)"/>
<circle cx="1955.8" cy="1195.2" r="1.2" fill="rgb(245,150,245)"/>
<circle cx="1960.3" cy="1199.8" r="0.9" fill="rgb(245,150,245)"/>
<circle cx="1958.0" cy="1200.4" r="1.7" fill="rgb(245,150,245)"/>
<circle cx="1954.8" cy="1195.4" r="1.6" fill="rgb(245,150,245)"/>
<circle cx="1963.4" cy="1197.6" r="1.2" fill="rgb(245,150,245)"/>
<circle cx="1960.5" cy="1201.2" r="1.6" fill="rgb(245,150,245)"/>
<circle cx="1955.6" cy="1200.3" r="1.5" fill="rgb(245,150,245)"/>
<circle cx="1959.0" cy="1198.0" r="1.7" fill="rgb(245,150,245)"/>
<circle cx="2004.1" cy="1214.9" r="1.8" fill="rgb(210,210,210)"/>
<circle cx="2002.5" cy="1221.7" r="1.8" fill="rgb(210,210,210)"/>
<circle cx="2003.3" cy="1215.4" r="1.2" fill="rgb(210,210,210)"/>
<circle cx="2001.5" cy="1215.5" r="1.4" fill="rgb(210,210,210)"/>
<circle cx="2009.0" cy="1214.4" r="1.2" fill="rgb(210,210,210)"/>
<circle cx="2005.6" cy="1220.6" r="1.6" fill="rgb(210,210,210)"/>
<circle cx="1958.2" cy="1251.4" r="1.2" fill="rgb(210,210,210)"/>
<circle cx="1956.7" cy="1254.4" r="1.8" fill="rgb(210,210,210)"/>
<circle cx="1954.5" cy="1253.6" r="1.9" fill="rgb(210,210,210)"/>
<circle cx="1957.8" cy="1250.8" r="1.8" fill="rgb(210,210,210)"/>
<circle cx="1953.8" cy="1249.8" r="1.7" fill="rgb(210,210,210)"/>
<circle cx="1954.8" cy="1246.1" r="1.6" fill="rgb(210,210,210)"/>
<circle cx="2009.7" cy="1265.2" r="1.9" fill="rgb(194,194,194)"/>
<circle cx="2011.9" cy="1266.4" r="1.2" fill="rgb(194,194,194)"/>
<circle cx="2005.2" cy="1273.1" r="1.0" fill="rgb(194,194,194)"/>
<circle cx="2005.8" cy="1276.4" r="2.0" fill="rgb(194,194,194)"/>
<circle cx="2000.6" cy="1270.3" r="1.0" fill="rgb(245,150,245)"/>
<circle cx="1997.0" cy="1267.9" r="1.2" fill="rgb(245,150,245)"/>
<circle cx="2001.1" cy="1263.2" r="1.3" fill="rgb(245,150,245)"/>
<circle cx="1999.4" cy="1273.0" r="1.1" fill="rgb(245,150,245)"/>
<circle cx="2004.1" cy="1272.0" r="1.0" fill="rgb(245,150,245)"/>
<circle cx="2005.5" cy="1278.3" r="1.6" fill="rgb(245,150,245)"/>
<circle cx="2004.4" cy="1270.7" r="1.4" fill="rgb(245,150,245)"/>
<circle cx="2003.9" cy="1276.1" r="1.7" fill="rgb(245,150,245)"/>
<circle cx="2003.3" cy="1272.5" r="1.6" fill="rgb(245,150,245)"/>
<circle cx="2045.6" cy="1259.7" r="1.3" fill="rgb(218,218,218)"/>
<circle cx="2042.5" cy="1264.7" r="2.0" fill="rgb(218,218,218)"/>
<circle cx="2041.9" cy="1264.4" r="1.2" fill="rgb(218,218,218)"/>
<circle cx="2044.2" cy="1256.3" r="1.1" fill="rgb(218,218,218)"/>
<circle cx="2036.8" cy="1259.3" r="1.7" fill="rgb(218,218,218)"/>
<circle cx="2048.5" cy="1261.3" r="1.2" fill="rgb(218,218,218)"/>
<circle cx="2077.3" cy="1021.8" r="1.1" fill="rgb(245,150,245)"/>
<circle cx="2076.9" cy="1017.3" r="1.2" fill="rgb(245,150,245)"/>
<circle cx="2074.3" cy="1019.2" r="1.4" fill="rgb(245,150,245)"/>
<circle cx="2076.0" cy="1021.8" r="1.0" fill="rgb(245,150,245)"/>
<circle cx="2074.1" cy="1020.0" r="1.8" fill="rgb(245,150,245)"/>
<circle cx="2073.2" cy="1019.1" r="1.1" fill="rgb(245,150,245)"/>
<circle cx="2074.6" cy="1018.1" r="1.4" fill="rgb(245,150,245)"/>
<circle cx="1926.8" cy="1106.0" r="1.1" fill="rgb(220,120,220)"/>
<circle cx="2066.5" cy="1060.8" r="0.7" fill="rgb(220,120,220)"/>
<circle cx="2013.6" cy="1064.5" r="0.7" fill="rgb(220,120,220)"/>
<circle cx="1938.4" cy="1138.2" r="1.0" fill="rgb(220,120,220)"/>
<circle cx="1965.8" cy="1201.0" r="0.7" fill="rgb(220,120,220)"/>
<circle cx="1970.9" cy="1142.5" r="0.9" fill="rgb(220,120,220)"/>
<circle cx="2088.5" cy="1098.5" r="1.1" fill="rgb(220,120,220)"/>
<circle cx="2085.7" cy="1149.3" r="0.9" fill="rgb(220,120,220)"/>
<circle cx="2002.8" cy="1281.5" r="1.4" fill="rgb(220,120,220)"/>
<circle cx="1973.8" cy="1024.1" r="1.4" fill="rgb(220,120,220)"/>
<circle cx="1971.9" cy="1026.2" r="1.0" fill="rgb(220,120,220)"/>
<circle cx="2053.0" cy="1107.8" r="1.3" fill="rgb(220,120,220)"/>
<circle cx="2083.5" cy="1192.1" r="1.4" fill="rgb(220,120,220)"/>
<circle cx="2022.5" cy="1027.3" r="1.2" fill="rgb(220,120,220)"/>
<circle cx="1964.2" cy="1230.3" r="1.4" fill="rgb(220,120,220)"/>
<circle cx="2001.0" cy="1201.2" r="0.7" fill="rgb(220,120,220)"/>
<circle cx="2020.1" cy="1188.6" r="1.4" fill="rgb(220,120,220)"/>
<circle cx="1931.7" cy="1058.7" r="1.3" fill="rgb(220,120,220)"/>
<circle cx="2026.7" cy="1129.7" r="1.5" fill="rgb(220,120,220)"/>
<circle cx="1931.9" cy="1247.7" r="0.8" fill="rgb(220,120,220)"/>
<circle cx="1961.9" cy="1188.0" r="0.7" fill="rgb(220,120,220)"/>
<circle cx="2053.4" cy="1090.0" r="1.3" fill="rgb(220,120,220)"/>
<circle cx="2024.5" cy="1075.3" r="1.3" fill="rgb(220,120,220)"/>
<circle cx="2080.1" cy="1225.3" r="0.8" fill="rgb(220,120,220)"/>
<circle cx="1996.9" cy="1022.4" r="1.1" fill="rgb(220,120,220)"/>
</g></g>
<g font-family='"Liberation Sans", Arial, Helvetica, sans-serif' font-weight="bold" font-size="26" fill="#fff">
<text x="30.4" y="731.5">0.4 y/o</text>
<text x="218.5" y="731.5">19.8 y/o</text>
<text x="402.2" y="731.5">46 y/o</text>
<text x="589.2" y="731.5">57 y/o</text>
<text x="773.1" y="731.5">69 y/o</text>
<text x="958.5" y="731.5">82.2 y/o</text>
<text x="1143.9" y="731.5">104 y/o</text>
<text x="1363.0" y="731.5">57 y/o</text>
<text x="1553.0" y="731.5">70 y/o</text>
<text x="1737.0" y="731.5">81 y/o</text>
<text x="1923.5" y="731.5">91 y/o</text>
</g>
<g font-family='"Liberation Sans", Arial, Helvetica, sans-serif' font-weight="bold" font-size="22.3">
<text x="30.6" y="984" fill="#fff">8-oxoG</text>
<text x="1362.5" y="984.5" fill="#fff">8-oxoG</text>
<text x="32.6" y="1255.8" fill="#E88AE8">8-oxoG</text>
<text x="32.6" y="1281" fill="#55E655">NeuN</text>
<text x="1362.5" y="1255.8" fill="#E88AE8">8-oxoG</text>
<text x="1362.5" y="1281" fill="#55E655">NeuN</text>
</g>
<g fill="#fff">
<rect x="139" y="975.8" width="59.2" height="8.8"/>
<rect x="138.7" y="1272.5" width="59.3" height="8.9"/>
<rect x="1474.2" y="977.5" width="59.2" height="8.6"/>
<rect x="1474.6" y="1272.5" width="58.4" height="8.9"/>
</g>
<g fill="none" stroke="#000" stroke-width="3.7">
<line x1="143.9" y1="6.6" x2="143.9" y2="547.5"/>
<line x1="142" y1="545.7" x2="2115" y2="545.7"/>
<line x1="131.5" y1="545.7" x2="144" y2="545.7"/>
<line x1="131.5" y1="492.0" x2="144" y2="492.0"/>
<line x1="131.5" y1="438.3" x2="144" y2="438.3"/>
<line x1="131.5" y1="384.6" x2="144" y2="384.6"/>
<line x1="131.5" y1="330.9" x2="144" y2="330.9"/>
<line x1="131.5" y1="277.2" x2="144" y2="277.2"/>
<line x1="131.5" y1="223.4" x2="144" y2="223.4"/>
<line x1="131.5" y1="169.7" x2="144" y2="169.7"/>
<line x1="131.5" y1="116.0" x2="144" y2="116.0"/>
<line x1="131.5" y1="62.3" x2="144" y2="62.3"/>
<line x1="131.5" y1="8.6" x2="144" y2="8.6"/>
<line x1="182.0" y1="545" x2="182.0" y2="557.8"/>
<line x1="259.4" y1="545" x2="259.4" y2="557.8"/>
<line x1="336.7" y1="545" x2="336.7" y2="557.8"/>
<line x1="414.1" y1="545" x2="414.1" y2="557.8"/>
<line x1="491.5" y1="545" x2="491.5" y2="557.8"/>
<line x1="568.9" y1="545" x2="568.9" y2="557.8"/>
<line x1="646.2" y1="545" x2="646.2" y2="557.8"/>
<line x1="723.6" y1="545" x2="723.6" y2="557.8"/>
<line x1="801.0" y1="545" x2="801.0" y2="557.8"/>
<line x1="878.3" y1="545" x2="878.3" y2="557.8"/>
<line x1="955.7" y1="545" x2="955.7" y2="557.8"/>
<line x1="1033.1" y1="545" x2="1033.1" y2="557.8"/>
<line x1="1110.4" y1="545" x2="1110.4" y2="557.8"/>
<line x1="1187.8" y1="545" x2="1187.8" y2="557.8"/>
<line x1="1265.2" y1="545" x2="1265.2" y2="557.8"/>
<line x1="1342.6" y1="545" x2="1342.6" y2="557.8"/>
<line x1="1419.9" y1="545" x2="1419.9" y2="557.8"/>
<line x1="1497.3" y1="545" x2="1497.3" y2="557.8"/>
<line x1="1600.5" y1="545" x2="1600.5" y2="557.8"/>
<line x1="1677.8" y1="545" x2="1677.8" y2="557.8"/>
<line x1="1755.1" y1="545" x2="1755.1" y2="557.8"/>
<line x1="1832.3" y1="545" x2="1832.3" y2="557.8"/>
<line x1="1909.6" y1="545" x2="1909.6" y2="557.8"/>
<line x1="1986.9" y1="545" x2="1986.9" y2="557.8"/>
<line x1="2064.2" y1="545" x2="2064.2" y2="557.8"/>
</g>
<g font-family='"Liberation Sans", Arial, Helvetica, sans-serif' font-size="23" fill="#111" text-anchor="end">
<text x="127" y="554.0">0</text>
<text x="127" y="500.3">250</text>
<text x="127" y="446.6">500</text>
<text x="127" y="392.9">750</text>
<text x="127" y="339.2">1000</text>
<text x="127" y="285.5">1250</text>
<text x="127" y="231.7">1500</text>
<text x="127" y="178.0">1750</text>
<text x="127" y="124.3">2000</text>
<text x="127" y="70.6">2250</text>
<text x="127" y="16.9">2500</text>
</g>
<g font-family='"Liberation Sans", Arial, Helvetica, sans-serif' font-size="29" fill="#111" text-anchor="middle">
<text transform="translate(23.3 292) rotate(-90)">neuron cell body 8-oxoG</text>
<text transform="translate(57.3 292) rotate(-90)">immunofluorescence (A.U.)</text>
</g>
<g fill="#000">
<path d="M1546.9 9.0 A2 2 0 0 0 1550.9 9.0 Z"/>
<circle cx="1548.9" cy="20.3" r="2.0"/>
<circle cx="1548.9" cy="31.5" r="2.0"/>
<circle cx="1548.9" cy="42.6" r="2.0"/>
<circle cx="1548.9" cy="53.8" r="2.0"/>
<circle cx="1548.9" cy="64.9" r="2.0"/>
<circle cx="1548.9" cy="76.1" r="2.0"/>
<circle cx="1548.9" cy="87.3" r="2.0"/>
<circle cx="1548.9" cy="98.4" r="2.0"/>
<circle cx="1548.9" cy="109.6" r="2.0"/>
<circle cx="1548.9" cy="120.7" r="2.0"/>
<circle cx="1548.9" cy="131.9" r="2.0"/>
<circle cx="1548.9" cy="143.1" r="2.0"/>
<circle cx="1548.9" cy="154.2" r="2.0"/>
<circle cx="1548.9" cy="165.4" r="2.0"/>
<circle cx="1548.9" cy="176.5" r="2.0"/>
<circle cx="1548.9" cy="187.7" r="2.0"/>
<circle cx="1548.9" cy="198.9" r="2.0"/>
<circle cx="1548.9" cy="210.0" r="2.0"/>
<circle cx="1548.9" cy="221.2" r="2.0"/>
<circle cx="1548.9" cy="232.3" r="2.0"/>
<circle cx="1548.9" cy="243.5" r="2.0"/>
<circle cx="1548.9" cy="254.7" r="2.0"/>
<circle cx="1548.9" cy="265.8" r="2.0"/>
<circle cx="1548.9" cy="277.0" r="2.0"/>
<circle cx="1548.9" cy="288.1" r="2.0"/>
<circle cx="1548.9" cy="299.3" r="2.0"/>
<circle cx="1548.9" cy="310.5" r="2.0"/>
<circle cx="1548.9" cy="321.6" r="2.0"/>
<circle cx="1548.9" cy="332.8" r="2.0"/>
<circle cx="1548.9" cy="343.9" r="2.0"/>
<circle cx="1548.9" cy="355.1" r="2.0"/>
<circle cx="1548.9" cy="366.3" r="2.0"/>
<circle cx="1548.9" cy="377.4" r="2.0"/>
<circle cx="1548.9" cy="388.6" r="2.0"/>
<circle cx="1548.9" cy="399.7" r="2.0"/>
<circle cx="1548.9" cy="410.9" r="2.0"/>
<circle cx="1548.9" cy="422.1" r="2.0"/>
<circle cx="1548.9" cy="433.2" r="2.0"/>
<circle cx="1548.9" cy="444.4" r="2.0"/>
<circle cx="1548.9" cy="455.5" r="2.0"/>
<circle cx="1548.9" cy="466.7" r="2.0"/>
<circle cx="1548.9" cy="477.9" r="2.0"/>
<circle cx="1548.9" cy="489.0" r="2.0"/>
<circle cx="1548.9" cy="500.2" r="2.0"/>
<circle cx="1548.9" cy="511.3" r="2.0"/>
<circle cx="1548.9" cy="522.5" r="2.0"/>
<circle cx="1548.9" cy="533.7" r="2.0"/>
</g>
<g fill="#22C3E8" stroke="#06121a" stroke-width="1.5">
<circle cx="183.8" cy="523.3" r="5.4"/>
<circle cx="175.6" cy="533.0" r="5.4"/>
<circle cx="192.7" cy="527.3" r="5.4"/>
<circle cx="184.5" cy="535.0" r="5.4"/>
<circle cx="180.3" cy="532.5" r="5.4"/>
<circle cx="183.8" cy="518.5" r="5.4"/>
<circle cx="176.6" cy="522.9" r="5.4"/>
<circle cx="196.8" cy="528.9" r="5.4"/>
<circle cx="192.3" cy="525.0" r="5.4"/>
<circle cx="172.3" cy="527.0" r="5.4"/>
<circle cx="171.4" cy="525.8" r="5.4"/>
<circle cx="177.3" cy="516.8" r="5.4"/>
<circle cx="184.7" cy="514.5" r="5.4"/>
<circle cx="193.8" cy="537.5" r="5.4"/>
<circle cx="179.6" cy="536.8" r="5.4"/>
<circle cx="165.6" cy="537.9" r="5.4"/>
<circle cx="166.7" cy="527.2" r="5.4"/>
<circle cx="201.8" cy="533.5" r="5.4"/>
<circle cx="177.6" cy="520.4" r="5.4"/>
<circle cx="162.8" cy="532.4" r="5.4"/>
<circle cx="186.9" cy="531.9" r="5.4"/>
<circle cx="168.3" cy="532.0" r="5.4"/>
<circle cx="194.0" cy="533.9" r="5.4"/>
<circle cx="183.4" cy="529.8" r="5.4"/>
<circle cx="173.6" cy="535.4" r="5.4"/>
<circle cx="201.5" cy="537.1" r="5.4"/>
<circle cx="180.7" cy="527.8" r="5.4"/>
<circle cx="197.0" cy="537.9" r="5.4"/>
</g>
<g fill="#22C3E8" stroke="#06121a" stroke-width="1.5">
<circle cx="248.9" cy="542.2" r="5.4"/>
<circle cx="261.1" cy="539.1" r="5.4"/>
<circle cx="273.7" cy="535.2" r="5.4"/>
<circle cx="277.8" cy="532.7" r="5.4"/>
<circle cx="250.7" cy="536.4" r="5.4"/>
<circle cx="261.5" cy="534.2" r="5.4"/>
<circle cx="278.0" cy="538.8" r="5.4"/>
<circle cx="240.6" cy="532.7" r="5.4"/>
<circle cx="254.5" cy="539.6" r="5.4"/>
<circle cx="245.5" cy="533.1" r="5.4"/>
<circle cx="266.2" cy="538.5" r="5.4"/>
<circle cx="278.2" cy="535.5" r="5.4"/>
<circle cx="271.0" cy="532.5" r="5.4"/>
<circle cx="267.1" cy="543.2" r="5.4"/>
<circle cx="245.4" cy="529.5" r="5.4"/>
<circle cx="264.2" cy="532.7" r="5.4"/>
<circle cx="251.4" cy="531.0" r="5.4"/>
<circle cx="255.8" cy="533.8" r="5.4"/>
<circle cx="273.2" cy="541.3" r="5.4"/>
<circle cx="242.1" cy="541.2" r="5.4"/>
<circle cx="240.6" cy="540.4" r="5.4"/>
<circle cx="261.9" cy="544.2" r="5.4"/>
<circle cx="255.0" cy="540.9" r="5.4"/>
<circle cx="260.4" cy="531.4" r="5.4"/>
<circle cx="245.4" cy="540.7" r="5.4"/>
<circle cx="240.6" cy="541.8" r="5.4"/>
<circle cx="272.8" cy="538.5" r="5.4"/>
<circle cx="267.2" cy="533.6" r="5.4"/>
</g>
<g fill="#22C3E8" stroke="#06121a" stroke-width="1.5">
<circle cx="320.0" cy="524.8" r="5.4"/>
<circle cx="331.8" cy="522.4" r="5.4"/>
<circle cx="330.1" cy="520.7" r="5.4"/>
<circle cx="337.4" cy="506.7" r="5.4"/>
<circle cx="347.5" cy="521.9" r="5.4"/>
<circle cx="342.2" cy="511.5" r="5.4"/>
<circle cx="337.1" cy="487.0" r="5.4"/>
<circle cx="348.5" cy="535.6" r="5.4"/>
<circle cx="337.2" cy="516.9" r="5.4"/>
<circle cx="351.7" cy="529.2" r="5.4"/>
<circle cx="335.8" cy="502.0" r="5.4"/>
<circle cx="324.8" cy="538.5" r="5.4"/>
<circle cx="322.4" cy="515.9" r="5.4"/>
<circle cx="319.0" cy="531.9" r="5.4"/>
<circle cx="353.1" cy="524.2" r="5.4"/>
<circle cx="328.3" cy="532.8" r="5.4"/>
<circle cx="341.8" cy="525.8" r="5.4"/>
<circle cx="335.6" cy="510.6" r="5.4"/>
<circle cx="330.6" cy="529.4" r="5.4"/>
<circle cx="348.0" cy="520.2" r="5.4"/>
<circle cx="356.5" cy="518.2" r="5.4"/>
<circle cx="355.2" cy="535.6" r="5.4"/>
<circle cx="338.7" cy="517.9" r="5.4"/>
<circle cx="349.4" cy="512.6" r="5.4"/>
<circle cx="316.9" cy="528.4" r="5.4"/>
<circle cx="337.1" cy="529.1" r="5.4"/>
<circle cx="327.4" cy="522.1" r="5.4"/>
<circle cx="337.3" cy="483.4" r="5.4"/>
<circle cx="354.3" cy="534.2" r="5.4"/>
<circle cx="343.2" cy="513.3" r="5.4"/>
<circle cx="316.9" cy="518.8" r="5.4"/>
<circle cx="331.6" cy="533.9" r="5.4"/>
<circle cx="337.7" cy="493.1" r="5.4"/>
<circle cx="322.9" cy="520.0" r="5.4"/>
<circle cx="328.3" cy="514.4" r="5.4"/>
<circle cx="352.3" cy="513.4" r="5.4"/>
<circle cx="330.2" cy="538.1" r="5.4"/>
<circle cx="346.6" cy="533.6" r="5.4"/>
<circle cx="324.9" cy="511.8" r="5.4"/>
<circle cx="324.2" cy="526.3" r="5.4"/>
<circle cx="338.0" cy="537.4" r="5.4"/>
<circle cx="317.6" cy="537.0" r="5.4"/>
<circle cx="343.2" cy="526.6" r="5.4"/>
<circle cx="343.8" cy="519.0" r="5.4"/>
<circle cx="338.0" cy="496.8" r="5.4"/>
<circle cx="355.2" cy="526.8" r="5.4"/>
<circle cx="331.2" cy="509.4" r="5.4"/>
<circle cx="344.8" cy="538.1" r="5.4"/>
<circle cx="338.9" cy="530.8" r="5.4"/>
</g>
<g fill="#22C3E8" stroke="#06121a" stroke-width="1.5">
<circle cx="411.3" cy="526.5" r="5.4"/>
<circle cx="422.2" cy="511.2" r="5.4"/>
<circle cx="416.1" cy="512.9" r="5.4"/>
<circle cx="411.6" cy="522.1" r="5.4"/>
<circle cx="423.9" cy="519.2" r="5.4"/>
<circle cx="412.2" cy="532.1" r="5.4"/>
<circle cx="418.0" cy="515.0" r="5.4"/>
<circle cx="424.4" cy="523.5" r="5.4"/>
<circle cx="420.5" cy="520.3" r="5.4"/>
<circle cx="417.0" cy="493.5" r="5.4"/>
<circle cx="401.8" cy="514.0" r="5.4"/>
<circle cx="413.2" cy="468.3" r="5.4"/>
<circle cx="412.3" cy="536.9" r="5.4"/>
<circle cx="402.4" cy="501.5" r="5.4"/>
<circle cx="412.1" cy="538.0" r="5.4"/>
<circle cx="404.7" cy="509.7" r="5.4"/>
<circle cx="398.1" cy="520.0" r="5.4"/>
<circle cx="413.2" cy="459.3" r="5.4"/>
<circle cx="414.1" cy="533.0" r="5.4"/>
<circle cx="413.4" cy="499.0" r="5.4"/>
<circle cx="414.5" cy="470.4" r="5.4"/>
<circle cx="419.6" cy="528.4" r="5.4"/>
<circle cx="415.9" cy="490.7" r="5.4"/>
<circle cx="404.4" cy="526.2" r="5.4"/>
<circle cx="401.0" cy="520.2" r="5.4"/>
<circle cx="424.2" cy="515.0" r="5.4"/>
<circle cx="408.7" cy="514.6" r="5.4"/>
<circle cx="413.8" cy="484.9" r="5.4"/>
<circle cx="413.2" cy="482.4" r="5.4"/>
<circle cx="418.2" cy="523.8" r="5.4"/>
<circle cx="406.1" cy="527.2" r="5.4"/>
<circle cx="421.7" cy="531.7" r="5.4"/>
<circle cx="397.2" cy="514.4" r="5.4"/>
<circle cx="415.2" cy="478.1" r="5.4"/>
<circle cx="398.7" cy="512.8" r="5.4"/>
<circle cx="411.5" cy="528.6" r="5.4"/>
<circle cx="406.5" cy="532.4" r="5.4"/>
<circle cx="418.0" cy="536.8" r="5.4"/>
<circle cx="427.0" cy="507.0" r="5.4"/>
<circle cx="421.7" cy="497.7" r="5.4"/>
<circle cx="401.4" cy="506.6" r="5.4"/>
<circle cx="416.1" cy="542.5" r="5.4"/>
<circle cx="412.5" cy="504.1" r="5.4"/>
<circle cx="411.5" cy="507.1" r="5.4"/>
<circle cx="431.1" cy="516.8" r="5.4"/>
<circle cx="419.3" cy="507.1" r="5.4"/>
<circle cx="432.9" cy="506.3" r="5.4"/>
<circle cx="416.0" cy="500.9" r="5.4"/>
<circle cx="413.3" cy="453.2" r="5.4"/>
<circle cx="430.5" cy="510.8" r="5.4"/>
<circle cx="426.8" cy="501.7" r="5.4"/>
<circle cx="418.4" cy="493.2" r="5.4"/>
<circle cx="405.8" cy="498.0" r="5.4"/>
<circle cx="395.3" cy="511.6" r="5.4"/>
<circle cx="414.8" cy="464.6" r="5.4"/>
<circle cx="397.1" cy="508.8" r="5.4"/>
</g>
<g fill="#22C3E8" stroke="#06121a" stroke-width="1.5">
<circle cx="483.0" cy="523.5" r="5.4"/>
<circle cx="492.6" cy="502.5" r="5.4"/>
<circle cx="498.6" cy="531.8" r="5.4"/>
<circle cx="473.7" cy="520.7" r="5.4"/>
<circle cx="478.3" cy="527.5" r="5.4"/>
<circle cx="505.4" cy="526.4" r="5.4"/>
<circle cx="491.5" cy="477.3" r="5.4"/>
<circle cx="506.0" cy="522.3" r="5.4"/>
<circle cx="492.2" cy="526.1" r="5.4"/>
<circle cx="499.5" cy="502.8" r="5.4"/>
<circle cx="485.3" cy="527.5" r="5.4"/>
<circle cx="503.0" cy="506.9" r="5.4"/>
<circle cx="484.3" cy="514.5" r="5.4"/>
<circle cx="495.9" cy="511.3" r="5.4"/>
<circle cx="496.0" cy="518.7" r="5.4"/>
<circle cx="491.5" cy="487.5" r="5.4"/>
<circle cx="486.1" cy="533.3" r="5.4"/>
<circle cx="483.5" cy="499.4" r="5.4"/>
<circle cx="507.3" cy="510.5" r="5.4"/>
<circle cx="497.3" cy="521.4" r="5.4"/>
<circle cx="489.4" cy="515.0" r="5.4"/>
<circle cx="474.0" cy="508.5" r="5.4"/>
<circle cx="501.0" cy="510.2" r="5.4"/>
<circle cx="500.9" cy="519.5" r="5.4"/>
<circle cx="481.1" cy="505.6" r="5.4"/>
<circle cx="482.5" cy="509.4" r="5.4"/>
<circle cx="497.6" cy="529.2" r="5.4"/>
<circle cx="486.9" cy="518.3" r="5.4"/>
<circle cx="490.0" cy="521.2" r="5.4"/>
<circle cx="479.0" cy="518.8" r="5.4"/>
<circle cx="489.4" cy="533.9" r="5.4"/>
<circle cx="509.3" cy="519.9" r="5.4"/>
<circle cx="499.9" cy="512.7" r="5.4"/>
<circle cx="488.7" cy="508.4" r="5.4"/>
<circle cx="493.6" cy="506.8" r="5.4"/>
<circle cx="489.1" cy="506.9" r="5.4"/>
<circle cx="491.5" cy="447.7" r="5.4"/>
<circle cx="478.0" cy="514.4" r="5.4"/>
<circle cx="478.5" cy="522.4" r="5.4"/>
<circle cx="506.8" cy="515.3" r="5.4"/>
</g>
<g fill="#22C3E8" stroke="#06121a" stroke-width="1.5">
<circle cx="560.5" cy="464.0" r="5.4"/>
<circle cx="580.5" cy="476.4" r="5.4"/>
<circle cx="561.4" cy="530.8" r="5.4"/>
<circle cx="575.0" cy="460.7" r="5.4"/>
<circle cx="586.6" cy="511.0" r="5.4"/>
<circle cx="551.5" cy="503.6" r="5.4"/>
<circle cx="557.2" cy="475.2" r="5.4"/>
<circle cx="581.9" cy="488.4" r="5.4"/>
<circle cx="566.6" cy="481.5" r="5.4"/>
<circle cx="571.5" cy="449.3" r="5.4"/>
<circle cx="565.7" cy="515.8" r="5.4"/>
<circle cx="581.2" cy="509.9" r="5.4"/>
<circle cx="564.3" cy="490.9" r="5.4"/>
<circle cx="566.9" cy="518.5" r="5.4"/>
<circle cx="561.3" cy="504.0" r="5.4"/>
<circle cx="585.6" cy="499.6" r="5.4"/>
<circle cx="576.3" cy="500.0" r="5.4"/>
<circle cx="569.4" cy="436.9" r="5.4"/>
<circle cx="570.8" cy="498.0" r="5.4"/>
<circle cx="555.8" cy="512.9" r="5.4"/>
<circle cx="557.7" cy="492.1" r="5.4"/>
<circle cx="561.9" cy="524.8" r="5.4"/>
<circle cx="559.0" cy="518.6" r="5.4"/>
<circle cx="572.6" cy="469.2" r="5.4"/>
<circle cx="552.3" cy="491.2" r="5.4"/>
<circle cx="565.9" cy="443.6" r="5.4"/>
<circle cx="571.1" cy="457.8" r="5.4"/>
<circle cx="574.3" cy="529.4" r="5.4"/>
<circle cx="571.8" cy="453.9" r="5.4"/>
<circle cx="564.6" cy="456.1" r="5.4"/>
<circle cx="560.6" cy="497.8" r="5.4"/>
<circle cx="583.0" cy="516.4" r="5.4"/>
<circle cx="550.9" cy="497.2" r="5.4"/>
<circle cx="573.9" cy="475.4" r="5.4"/>
<circle cx="577.5" cy="527.1" r="5.4"/>
<circle cx="573.2" cy="513.6" r="5.4"/>
<circle cx="577.2" cy="466.9" r="5.4"/>
<circle cx="571.8" cy="442.6" r="5.4"/>
<circle cx="581.4" cy="494.6" r="5.4"/>
<circle cx="564.0" cy="476.8" r="5.4"/>
<circle cx="569.6" cy="433.6" r="5.4"/>
<circle cx="570.7" cy="463.5" r="5.4"/>
<circle cx="553.9" cy="487.4" r="5.4"/>
<circle cx="558.7" cy="524.7" r="5.4"/>
<circle cx="552.0" cy="521.0" r="5.4"/>
<circle cx="566.3" cy="525.0" r="5.4"/>
<circle cx="570.9" cy="509.3" r="5.4"/>
<circle cx="560.7" cy="481.9" r="5.4"/>
<circle cx="561.1" cy="507.8" r="5.4"/>
<circle cx="567.7" cy="437.2" r="5.4"/>
<circle cx="569.1" cy="531.8" r="5.4"/>
<circle cx="576.3" cy="520.3" r="5.4"/>
<circle cx="577.7" cy="481.0" r="5.4"/>
<circle cx="572.3" cy="486.7" r="5.4"/>
<circle cx="585.7" cy="503.3" r="5.4"/>
<circle cx="564.7" cy="472.4" r="5.4"/>
<circle cx="558.8" cy="470.6" r="5.4"/>
<circle cx="570.4" cy="446.9" r="5.4"/>
<circle cx="564.1" cy="486.5" r="5.4"/>
<circle cx="574.9" cy="501.7" r="5.4"/>
<circle cx="552.1" cy="507.6" r="5.4"/>
<circle cx="586.5" cy="520.5" r="5.4"/>
<circle cx="572.6" cy="491.8" r="5.4"/>
<circle cx="557.2" cy="482.7" r="5.4"/>
</g>
<g fill="#22C3E8" stroke="#06121a" stroke-width="1.5">
<circle cx="657.8" cy="491.1" r="5.4"/>
<circle cx="646.2" cy="357.0" r="5.4"/>
<circle cx="651.7" cy="447.7" r="5.4"/>
<circle cx="665.0" cy="462.3" r="5.4"/>
<circle cx="633.8" cy="445.8" r="5.4"/>
<circle cx="659.9" cy="440.3" r="5.4"/>
<circle cx="631.1" cy="489.3" r="5.4"/>
<circle cx="664.9" cy="485.0" r="5.4"/>
<circle cx="653.8" cy="440.6" r="5.4"/>
<circle cx="652.7" cy="457.0" r="5.4"/>
<circle cx="656.7" cy="433.9" r="5.4"/>
<circle cx="658.3" cy="448.4" r="5.4"/>
<circle cx="651.2" cy="489.7" r="5.4"/>
<circle cx="656.7" cy="465.2" r="5.4"/>
<circle cx="648.9" cy="501.9" r="5.4"/>
<circle cx="660.3" cy="497.4" r="5.4"/>
<circle cx="625.1" cy="463.4" r="5.4"/>
<circle cx="628.8" cy="491.3" r="5.4"/>
<circle cx="631.0" cy="442.2" r="5.4"/>
<circle cx="661.8" cy="481.1" r="5.4"/>
<circle cx="653.1" cy="469.8" r="5.4"/>
<circle cx="647.4" cy="411.8" r="5.4"/>
<circle cx="639.2" cy="454.0" r="5.4"/>
<circle cx="640.1" cy="467.6" r="5.4"/>
<circle cx="629.2" cy="458.1" r="5.4"/>
<circle cx="638.5" cy="501.3" r="5.4"/>
<circle cx="646.2" cy="367.0" r="5.4"/>
<circle cx="651.0" cy="418.5" r="5.4"/>
<circle cx="666.4" cy="458.8" r="5.4"/>
<circle cx="638.5" cy="442.8" r="5.4"/>
<circle cx="663.3" cy="457.1" r="5.4"/>
<circle cx="653.8" cy="486.7" r="5.4"/>
<circle cx="624.7" cy="469.8" r="5.4"/>
<circle cx="661.5" cy="469.7" r="5.4"/>
<circle cx="647.9" cy="428.6" r="5.4"/>
<circle cx="643.3" cy="465.1" r="5.4"/>
<circle cx="641.7" cy="418.7" r="5.4"/>
<circle cx="644.1" cy="484.7" r="5.4"/>
<circle cx="635.7" cy="431.4" r="5.4"/>
<circle cx="641.0" cy="473.3" r="5.4"/>
<circle cx="643.0" cy="457.0" r="5.4"/>
<circle cx="627.6" cy="485.5" r="5.4"/>
<circle cx="646.2" cy="394.0" r="5.4"/>
<circle cx="635.7" cy="486.9" r="5.4"/>
<circle cx="640.2" cy="426.2" r="5.4"/>
<circle cx="638.3" cy="425.7" r="5.4"/>
<circle cx="649.1" cy="475.8" r="5.4"/>
<circle cx="655.5" cy="431.0" r="5.4"/>
<circle cx="665.3" cy="451.9" r="5.4"/>
<circle cx="645.2" cy="407.5" r="5.4"/>
<circle cx="656.9" cy="436.8" r="5.4"/>
<circle cx="632.1" cy="494.9" r="5.4"/>
<circle cx="632.8" cy="473.1" r="5.4"/>
<circle cx="643.5" cy="451.7" r="5.4"/>
<circle cx="645.5" cy="436.9" r="5.4"/>
<circle cx="648.7" cy="468.9" r="5.4"/>
<circle cx="627.8" cy="454.0" r="5.4"/>
<circle cx="631.6" cy="478.1" r="5.4"/>
<circle cx="657.4" cy="473.0" r="5.4"/>
<circle cx="629.5" cy="481.4" r="5.4"/>
<circle cx="648.7" cy="406.9" r="5.4"/>
<circle cx="642.4" cy="489.5" r="5.4"/>
<circle cx="654.3" cy="451.2" r="5.4"/>
<circle cx="625.7" cy="472.9" r="5.4"/>
<circle cx="638.8" cy="495.4" r="5.4"/>
<circle cx="648.2" cy="424.9" r="5.4"/>
<circle cx="652.9" cy="481.0" r="5.4"/>
<circle cx="628.6" cy="470.3" r="5.4"/>
<circle cx="649.2" cy="464.7" r="5.4"/>
<circle cx="639.7" cy="479.6" r="5.4"/>
<circle cx="632.0" cy="462.5" r="5.4"/>
<circle cx="666.5" cy="472.5" r="5.4"/>
<circle cx="640.6" cy="444.7" r="5.4"/>
<circle cx="636.0" cy="435.3" r="5.4"/>
<circle cx="649.9" cy="495.0" r="5.4"/>
</g>
<g fill="#22C3E8" stroke="#06121a" stroke-width="1.5">
<circle cx="741.8" cy="451.0" r="5.4"/>
<circle cx="716.6" cy="505.2" r="5.4"/>
<circle cx="711.6" cy="445.7" r="5.4"/>
<circle cx="710.0" cy="508.1" r="5.4"/>
<circle cx="721.2" cy="431.1" r="5.4"/>
<circle cx="714.0" cy="511.2" r="5.4"/>
<circle cx="724.3" cy="434.0" r="5.4"/>
<circle cx="714.2" cy="452.7" r="5.4"/>
<circle cx="733.9" cy="519.9" r="5.4"/>
<circle cx="713.3" cy="425.3" r="5.4"/>
<circle cx="727.9" cy="424.7" r="5.4"/>
<circle cx="722.4" cy="495.2" r="5.4"/>
<circle cx="741.2" cy="463.5" r="5.4"/>
<circle cx="711.2" cy="467.7" r="5.4"/>
<circle cx="722.2" cy="451.1" r="5.4"/>
<circle cx="726.0" cy="514.3" r="5.4"/>
<circle cx="721.8" cy="503.0" r="5.4"/>
<circle cx="725.9" cy="442.4" r="5.4"/>
<circle cx="714.4" cy="414.2" r="5.4"/>
<circle cx="737.2" cy="508.2" r="5.4"/>
<circle cx="726.9" cy="480.0" r="5.4"/>
<circle cx="726.5" cy="457.1" r="5.4"/>
<circle cx="707.8" cy="473.9" r="5.4"/>
<circle cx="729.0" cy="411.8" r="5.4"/>
<circle cx="708.3" cy="500.9" r="5.4"/>
<circle cx="707.5" cy="452.6" r="5.4"/>
<circle cx="711.3" cy="490.9" r="5.4"/>
<circle cx="721.4" cy="475.8" r="5.4"/>
<circle cx="726.6" cy="376.0" r="5.4"/>
<circle cx="713.2" cy="518.9" r="5.4"/>
<circle cx="721.5" cy="462.3" r="5.4"/>
<circle cx="709.5" cy="479.1" r="5.4"/>
<circle cx="719.3" cy="525.3" r="5.4"/>
<circle cx="729.8" cy="485.8" r="5.4"/>
<circle cx="718.6" cy="400.9" r="5.4"/>
<circle cx="710.3" cy="457.8" r="5.4"/>
<circle cx="711.2" cy="502.3" r="5.4"/>
<circle cx="721.8" cy="408.7" r="5.4"/>
<circle cx="728.8" cy="522.0" r="5.4"/>
<circle cx="718.5" cy="490.1" r="5.4"/>
<circle cx="715.8" cy="425.9" r="5.4"/>
<circle cx="717.2" cy="408.4" r="5.4"/>
<circle cx="718.6" cy="363.0" r="5.4"/>
<circle cx="725.1" cy="530.6" r="5.4"/>
<circle cx="721.2" cy="530.8" r="5.4"/>
<circle cx="735.3" cy="451.7" r="5.4"/>
<circle cx="713.9" cy="420.3" r="5.4"/>
<circle cx="732.5" cy="436.2" r="5.4"/>
<circle cx="721.1" cy="458.2" r="5.4"/>
<circle cx="713.3" cy="474.3" r="5.4"/>
<circle cx="729.8" cy="472.7" r="5.4"/>
<circle cx="718.0" cy="469.3" r="5.4"/>
<circle cx="709.9" cy="496.3" r="5.4"/>
<circle cx="717.3" cy="478.6" r="5.4"/>
<circle cx="733.6" cy="480.1" r="5.4"/>
<circle cx="740.5" cy="457.9" r="5.4"/>
<circle cx="729.6" cy="365.0" r="5.4"/>
<circle cx="723.5" cy="483.6" r="5.4"/>
<circle cx="731.6" cy="407.4" r="5.4"/>
<circle cx="720.8" cy="395.8" r="5.4"/>
<circle cx="716.3" cy="483.8" r="5.4"/>
<circle cx="723.5" cy="392.0" r="5.4"/>
<circle cx="739.4" cy="486.7" r="5.4"/>
<circle cx="716.8" cy="495.8" r="5.4"/>
<circle cx="735.0" cy="465.2" r="5.4"/>
<circle cx="734.6" cy="370.0" r="5.4"/>
<circle cx="722.0" cy="419.0" r="5.4"/>
<circle cx="733.3" cy="417.9" r="5.4"/>
<circle cx="720.8" cy="518.9" r="5.4"/>
<circle cx="720.6" cy="403.7" r="5.4"/>
<circle cx="712.8" cy="429.5" r="5.4"/>
<circle cx="717.8" cy="433.8" r="5.4"/>
<circle cx="733.4" cy="494.4" r="5.4"/>
<circle cx="718.6" cy="413.5" r="5.4"/>
<circle cx="709.0" cy="469.4" r="5.4"/>
<circle cx="736.0" cy="441.9" r="5.4"/>
<circle cx="739.5" cy="459.2" r="5.4"/>
<circle cx="737.2" cy="497.3" r="5.4"/>
<circle cx="725.6" cy="446.0" r="5.4"/>
<circle cx="739.4" cy="473.1" r="5.4"/>
<circle cx="726.4" cy="396.6" r="5.4"/>
<circle cx="724.0" cy="385.0" r="5.4"/>
<circle cx="725.2" cy="491.3" r="5.4"/>
<circle cx="730.4" cy="514.4" r="5.4"/>
<circle cx="707.8" cy="484.2" r="5.4"/>
<circle cx="736.1" cy="490.5" r="5.4"/>
<circle cx="735.6" cy="514.5" r="5.4"/>
<circle cx="730.3" cy="508.6" r="5.4"/>
<circle cx="728.8" cy="470.6" r="5.4"/>
<circle cx="734.5" cy="447.2" r="5.4"/>
<circle cx="734.4" cy="500.4" r="5.4"/>
<circle cx="716.8" cy="464.4" r="5.4"/>
<circle cx="733.5" cy="469.0" r="5.4"/>
<circle cx="712.1" cy="440.4" r="5.4"/>
<circle cx="706.4" cy="462.8" r="5.4"/>
<circle cx="714.6" cy="367.0" r="5.4"/>
<circle cx="734.4" cy="428.5" r="5.4"/>
<circle cx="717.5" cy="442.4" r="5.4"/>
</g>
<g fill="#22C3E8" stroke="#06121a" stroke-width="1.5">
<circle cx="806.0" cy="514.3" r="5.4"/>
<circle cx="791.0" cy="500.9" r="5.4"/>
<circle cx="810.0" cy="462.4" r="5.4"/>
<circle cx="813.1" cy="503.4" r="5.4"/>
<circle cx="802.0" cy="398.0" r="5.4"/>
<circle cx="807.8" cy="457.2" r="5.4"/>
<circle cx="785.3" cy="440.5" r="5.4"/>
<circle cx="798.8" cy="430.5" r="5.4"/>
<circle cx="801.0" cy="366.4" r="5.4"/>
<circle cx="794.6" cy="426.2" r="5.4"/>
<circle cx="801.1" cy="393.1" r="5.4"/>
<circle cx="797.7" cy="518.4" r="5.4"/>
<circle cx="789.7" cy="470.1" r="5.4"/>
<circle cx="794.4" cy="464.0" r="5.4"/>
<circle cx="796.2" cy="440.9" r="5.4"/>
<circle cx="812.9" cy="459.6" r="5.4"/>
<circle cx="816.6" cy="425.8" r="5.4"/>
<circle cx="813.2" cy="487.4" r="5.4"/>
<circle cx="805.1" cy="430.8" r="5.4"/>
<circle cx="807.8" cy="436.0" r="5.4"/>
<circle cx="802.1" cy="467.8" r="5.4"/>
<circle cx="784.5" cy="436.8" r="5.4"/>
<circle cx="787.8" cy="487.7" r="5.4"/>
<circle cx="796.0" cy="484.4" r="5.4"/>
<circle cx="781.3" cy="468.8" r="5.4"/>
<circle cx="785.3" cy="426.8" r="5.4"/>
<circle cx="800.2" cy="402.9" r="5.4"/>
<circle cx="793.2" cy="480.0" r="5.4"/>
<circle cx="787.0" cy="472.7" r="5.4"/>
<circle cx="809.7" cy="449.1" r="5.4"/>
<circle cx="797.4" cy="416.0" r="5.4"/>
<circle cx="817.2" cy="473.1" r="5.4"/>
<circle cx="796.5" cy="489.4" r="5.4"/>
<circle cx="813.1" cy="470.6" r="5.4"/>
<circle cx="780.2" cy="450.8" r="5.4"/>
<circle cx="781.5" cy="445.8" r="5.4"/>
<circle cx="801.8" cy="462.6" r="5.4"/>
<circle cx="798.9" cy="513.8" r="5.4"/>
<circle cx="799.4" cy="419.7" r="5.4"/>
<circle cx="792.3" cy="495.9" r="5.4"/>
<circle cx="799.2" cy="451.8" r="5.4"/>
<circle cx="800.1" cy="517.7" r="5.4"/>
<circle cx="816.6" cy="452.6" r="5.4"/>
<circle cx="795.9" cy="406.9" r="5.4"/>
<circle cx="793.2" cy="507.4" r="5.4"/>
<circle cx="817.9" cy="478.3" r="5.4"/>
<circle cx="790.9" cy="454.3" r="5.4"/>
<circle cx="786.8" cy="490.7" r="5.4"/>
<circle cx="789.2" cy="446.5" r="5.4"/>
<circle cx="791.5" cy="437.2" r="5.4"/>
<circle cx="808.9" cy="421.7" r="5.4"/>
<circle cx="819.1" cy="469.1" r="5.4"/>
<circle cx="785.2" cy="464.3" r="5.4"/>
<circle cx="812.7" cy="431.7" r="5.4"/>
<circle cx="818.2" cy="437.3" r="5.4"/>
<circle cx="807.0" cy="489.5" r="5.4"/>
<circle cx="793.6" cy="420.8" r="5.4"/>
<circle cx="788.7" cy="419.9" r="5.4"/>
<circle cx="799.3" cy="503.9" r="5.4"/>
<circle cx="783.2" cy="481.6" r="5.4"/>
<circle cx="818.7" cy="473.7" r="5.4"/>
<circle cx="806.3" cy="408.1" r="5.4"/>
<circle cx="815.0" cy="492.9" r="5.4"/>
<circle cx="813.2" cy="443.1" r="5.4"/>
<circle cx="820.5" cy="448.1" r="5.4"/>
<circle cx="807.5" cy="414.3" r="5.4"/>
<circle cx="800.1" cy="434.9" r="5.4"/>
<circle cx="808.2" cy="480.1" r="5.4"/>
<circle cx="800.9" cy="384.9" r="5.4"/>
<circle cx="781.2" cy="457.2" r="5.4"/>
<circle cx="803.4" cy="479.0" r="5.4"/>
<circle cx="803.6" cy="424.9" r="5.4"/>
<circle cx="798.3" cy="509.0" r="5.4"/>
<circle cx="806.3" cy="485.8" r="5.4"/>
<circle cx="808.3" cy="498.5" r="5.4"/>
<circle cx="786.8" cy="414.6" r="5.4"/>
<circle cx="820.1" cy="459.0" r="5.4"/>
<circle cx="803.5" cy="508.9" r="5.4"/>
<circle cx="787.4" cy="429.6" r="5.4"/>
<circle cx="795.2" cy="456.2" r="5.4"/>
<circle cx="815.1" cy="414.5" r="5.4"/>
<circle cx="801.4" cy="496.3" r="5.4"/>
<circle cx="819.3" cy="462.2" r="5.4"/>
<circle cx="807.7" cy="476.3" r="5.4"/>
<circle cx="801.0" cy="301.6" r="5.4"/>
<circle cx="808.3" cy="454.2" r="5.4"/>
<circle cx="782.8" cy="451.1" r="5.4"/>
<circle cx="807.3" cy="500.5" r="5.4"/>
<circle cx="807.6" cy="442.5" r="5.4"/>
<circle cx="787.7" cy="459.2" r="5.4"/>
<circle cx="799.5" cy="446.0" r="5.4"/>
<circle cx="801.0" cy="379.6" r="5.4"/>
<circle cx="797.2" cy="476.0" r="5.4"/>
<circle cx="817.4" cy="431.7" r="5.4"/>
</g>
<g fill="#22C3E8" stroke="#06121a" stroke-width="1.5">
<path d="M880.8 455.8L887.8 462.8L880.8 469.8L873.8 462.8Z"/>
<path d="M886.9 448.8L893.9 455.8L886.9 462.8L879.9 455.8Z"/>
<path d="M893.6 448.6L900.6 455.6L893.6 462.6L886.6 455.6Z"/>
<path d="M886.3 396.9L893.3 403.9L886.3 410.9L879.3 403.9Z"/>
<path d="M891.8 376.9L898.8 383.9L891.8 390.9L884.8 383.9Z"/>
<path d="M889.9 408.0L896.9 415.0L889.9 422.0L882.9 415.0Z"/>
<path d="M879.8 491.8L886.8 498.8L879.8 505.8L872.8 498.8Z"/>
<path d="M865.1 442.0L872.1 449.0L865.1 456.0L858.1 449.0Z"/>
<path d="M878.4 384.9L885.4 391.9L878.4 398.9L871.4 391.9Z"/>
<path d="M877.1 488.0L884.1 495.0L877.1 502.0L870.1 495.0Z"/>
<path d="M885.5 479.5L892.5 486.5L885.5 493.5L878.5 486.5Z"/>
<path d="M879.6 356.5L886.6 363.5L879.6 370.5L872.6 363.5Z"/>
<path d="M874.4 403.4L881.4 410.4L874.4 417.4L867.4 410.4Z"/>
<path d="M890.9 434.8L897.9 441.8L890.9 448.8L883.9 441.8Z"/>
<path d="M887.3 403.7L894.3 410.7L887.3 417.7L880.3 410.7Z"/>
<path d="M871.0 370.8L878.0 377.8L871.0 384.8L864.0 377.8Z"/>
<path d="M874.4 417.0L881.4 424.0L874.4 431.0L867.4 424.0Z"/>
<path d="M873.5 376.5L880.5 383.5L873.5 390.5L866.5 383.5Z"/>
<path d="M893.1 453.1L900.1 460.1L893.1 467.1L886.1 460.1Z"/>
<path d="M881.3 475.1L888.3 482.1L881.3 489.1L874.3 482.1Z"/>
<path d="M875.5 461.8L882.5 468.8L875.5 475.8L868.5 468.8Z"/>
<path d="M865.8 468.3L872.8 475.3L865.8 482.3L858.8 475.3Z"/>
<path d="M888.4 465.1L895.4 472.1L888.4 479.1L881.4 472.1Z"/>
<path d="M870.0 461.1L877.0 468.1L870.0 475.1L863.0 468.1Z"/>
<path d="M880.1 466.8L887.1 473.8L880.1 480.8L873.1 473.8Z"/>
<path d="M887.1 371.0L894.1 378.0L887.1 385.0L880.1 378.0Z"/>
<path d="M884.1 363.4L891.1 370.4L884.1 377.4L877.1 370.4Z"/>
<path d="M883.4 429.2L890.4 436.2L883.4 443.2L876.4 436.2Z"/>
<path d="M887.0 416.8L894.0 423.8L887.0 430.8L880.0 423.8Z"/>
<path d="M895.5 422.2L902.5 429.2L895.5 436.2L888.5 429.2Z"/>
<path d="M864.0 395.3L871.0 402.3L864.0 409.3L857.0 402.3Z"/>
<path d="M879.5 352.6L886.5 359.6L879.5 366.6L872.5 359.6Z"/>
<path d="M880.6 486.9L887.6 493.9L880.6 500.9L873.6 493.9Z"/>
<path d="M867.3 384.3L874.3 391.3L867.3 398.3L860.3 391.3Z"/>
<path d="M882.4 378.6L889.4 385.6L882.4 392.6L875.4 385.6Z"/>
<path d="M861.4 403.4L868.4 410.4L861.4 417.4L854.4 410.4Z"/>
<path d="M895.0 428.9L902.0 435.9L895.0 442.9L888.0 435.9Z"/>
<path d="M868.6 435.1L875.6 442.1L868.6 449.1L861.6 442.1Z"/>
<path d="M874.6 426.8L881.6 433.8L874.6 440.8L867.6 433.8Z"/>
<path d="M872.5 363.1L879.5 370.1L872.5 377.1L865.5 370.1Z"/>
<path d="M895.8 415.9L902.8 422.9L895.8 429.9L888.8 422.9Z"/>
<path d="M877.0 398.2L884.0 405.2L877.0 412.2L870.0 405.2Z"/>
<path d="M873.6 480.8L880.6 487.8L873.6 494.8L866.6 487.8Z"/>
<path d="M864.7 422.4L871.7 429.4L864.7 436.4L857.7 429.4Z"/>
<path d="M874.8 453.9L881.8 460.9L874.8 467.9L867.8 460.9Z"/>
<path d="M873.9 443.2L880.9 450.2L873.9 457.2L866.9 450.2Z"/>
<path d="M875.1 423.8L882.1 430.8L875.1 437.8L868.1 430.8Z"/>
<path d="M866.1 372.0L873.1 379.0L866.1 386.0L859.1 379.0Z"/>
<path d="M885.1 458.8L892.1 465.8L885.1 472.8L878.1 465.8Z"/>
<path d="M876.1 349.9L883.1 356.9L876.1 363.9L869.1 356.9Z"/>
<path d="M865.2 446.4L872.2 453.4L865.2 460.4L858.2 453.4Z"/>
<path d="M873.2 471.8L880.2 478.8L873.2 485.8L866.2 478.8Z"/>
<path d="M886.5 422.1L893.5 429.1L886.5 436.1L879.5 429.1Z"/>
<path d="M864.9 378.6L871.9 385.6L864.9 392.6L857.9 385.6Z"/>
<path d="M896.4 403.3L903.4 410.3L896.4 417.3L889.4 410.3Z"/>
<path d="M862.6 391.2L869.6 398.2L862.6 405.2L855.6 398.2Z"/>
<path d="M890.8 383.0L897.8 390.0L890.8 397.0L883.8 390.0Z"/>
<path d="M894.1 391.6L901.1 398.6L894.1 405.6L887.1 398.6Z"/>
<path d="M879.4 339.6L886.4 346.6L879.4 353.6L872.4 346.6Z"/>
<path d="M876.1 433.2L883.1 440.2L876.1 447.2L869.1 440.2Z"/>
<path d="M871.8 388.3L878.8 395.3L871.8 402.3L864.8 395.3Z"/>
<path d="M864.4 410.4L871.4 417.4L864.4 424.4L857.4 417.4Z"/>
<path d="M879.7 445.9L886.7 452.9L879.7 459.9L872.7 452.9Z"/>
<path d="M879.5 407.7L886.5 414.7L879.5 421.7L872.5 414.7Z"/>
<path d="M888.3 472.0L895.3 479.0L888.3 486.0L881.3 479.0Z"/>
<path d="M891.0 440.2L898.0 447.2L891.0 454.2L884.0 447.2Z"/>
<path d="M883.1 442.7L890.1 449.7L883.1 456.7L876.1 449.7Z"/>
<path d="M860.9 415.2L867.9 422.2L860.9 429.2L853.9 422.2Z"/>
<path d="M865.7 454.9L872.7 461.9L865.7 468.9L858.7 461.9Z"/>
<path d="M863.8 428.1L870.8 435.1L863.8 442.1L856.8 435.1Z"/>
<path d="M884.1 391.0L891.1 398.0L884.1 405.0L877.1 398.0Z"/>
<path d="M877.1 344.7L884.1 351.7L877.1 358.7L870.1 351.7Z"/>
</g>
<g fill="#22C3E8" stroke="#06121a" stroke-width="1.5">
<path d="M947.1 515.3L954.1 522.3L947.1 529.3L940.1 522.3Z"/>
<path d="M952.4 483.7L959.4 490.7L952.4 497.7L945.4 490.7Z"/>
<path d="M972.4 468.9L979.4 475.9L972.4 482.9L965.4 475.9Z"/>
<path d="M965.5 488.8L972.5 495.8L965.5 502.8L958.5 495.8Z"/>
<path d="M958.7 298.9L965.7 305.9L958.7 312.9L951.7 305.9Z"/>
<path d="M958.0 507.6L965.0 514.6L958.0 521.6L951.0 514.6Z"/>
<path d="M940.1 504.1L947.1 511.1L940.1 518.1L933.1 511.1Z"/>
<path d="M955.7 368.3L962.7 375.3L955.7 382.3L948.7 375.3Z"/>
<path d="M949.0 457.7L956.0 464.7L949.0 471.7L942.0 464.7Z"/>
<path d="M966.2 430.1L973.2 437.1L966.2 444.1L959.2 437.1Z"/>
<path d="M942.3 510.6L949.3 517.6L942.3 524.6L935.3 517.6Z"/>
<path d="M966.8 465.7L973.8 472.7L966.8 479.7L959.8 472.7Z"/>
<path d="M955.7 390.5L962.7 397.5L955.7 404.5L948.7 397.5Z"/>
<path d="M962.2 470.1L969.2 477.1L962.2 484.1L955.2 477.1Z"/>
<path d="M939.6 488.5L946.6 495.5L939.6 502.5L932.6 495.5Z"/>
<path d="M944.6 432.0L951.6 439.0L944.6 446.0L937.6 439.0Z"/>
<path d="M959.0 439.4L966.0 446.4L959.0 453.4L952.0 446.4Z"/>
<path d="M958.7 513.7L965.7 520.7L958.7 527.7L951.7 520.7Z"/>
<path d="M952.7 308.0L959.7 315.0L952.7 322.0L945.7 315.0Z"/>
<path d="M942.4 442.8L949.4 449.8L942.4 456.8L935.4 449.8Z"/>
<path d="M941.6 483.9L948.6 490.9L941.6 497.9L934.6 490.9Z"/>
<path d="M942.5 501.8L949.5 508.8L942.5 515.8L935.5 508.8Z"/>
<path d="M944.3 450.1L951.3 457.1L944.3 464.1L937.3 457.1Z"/>
<path d="M959.0 494.0L966.0 501.0L959.0 508.0L952.0 501.0Z"/>
<path d="M953.8 476.1L960.8 483.1L953.8 490.1L946.8 483.1Z"/>
<path d="M970.5 496.8L977.5 503.8L970.5 510.8L963.5 503.8Z"/>
<path d="M969.0 446.2L976.0 453.2L969.0 460.2L962.0 453.2Z"/>
<path d="M955.7 276.6L962.7 283.6L955.7 290.6L948.7 283.6Z"/>
<path d="M964.6 453.0L971.6 460.0L964.6 467.0L957.6 460.0Z"/>
<path d="M949.6 508.0L956.6 515.0L949.6 522.0L942.6 515.0Z"/>
<path d="M947.7 475.7L954.7 482.7L947.7 489.7L940.7 482.7Z"/>
<path d="M969.2 507.2L976.2 514.2L969.2 521.2L962.2 514.2Z"/>
<path d="M957.9 503.3L964.9 510.3L957.9 517.3L950.9 510.3Z"/>
<path d="M968.7 516.6L975.7 523.6L968.7 530.6L961.7 523.6Z"/>
<path d="M963.8 503.4L970.8 510.4L963.8 517.4L956.8 510.4Z"/>
<path d="M939.2 494.5L946.2 501.5L939.2 508.5L932.2 501.5Z"/>
<path d="M940.9 455.7L947.9 462.7L940.9 469.7L933.9 462.7Z"/>
<path d="M948.4 438.8L955.4 445.8L948.4 452.8L941.4 445.8Z"/>
<path d="M956.9 487.9L963.9 494.9L956.9 501.9L949.9 494.9Z"/>
<path d="M955.7 337.8L962.7 344.8L955.7 351.8L948.7 344.8Z"/>
<path d="M959.3 446.7L966.3 453.7L959.3 460.7L952.3 453.7Z"/>
<path d="M972.5 481.3L979.5 488.3L972.5 495.3L965.5 488.3Z"/>
<path d="M958.3 485.0L965.3 492.0L958.3 499.0L951.3 492.0Z"/>
<path d="M939.0 471.0L946.0 478.0L939.0 485.0L932.0 478.0Z"/>
<path d="M951.8 442.8L958.8 449.8L951.8 456.8L944.8 449.8Z"/>
<path d="M947.5 490.5L954.5 497.5L947.5 504.5L940.5 497.5Z"/>
<path d="M968.0 457.3L975.0 464.3L968.0 471.3L961.0 464.3Z"/>
<path d="M957.3 452.4L964.3 459.4L957.3 466.4L950.3 459.4Z"/>
<path d="M950.6 469.9L957.6 476.9L950.6 483.9L943.6 476.9Z"/>
<path d="M953.0 462.4L960.0 469.4L953.0 476.4L946.0 469.4Z"/>
<path d="M950.1 496.6L957.1 503.6L950.1 510.6L943.1 503.6Z"/>
<path d="M955.7 411.9L962.7 418.9L955.7 425.9L948.7 418.9Z"/>
<path d="M956.1 430.5L963.1 437.5L956.1 444.5L949.1 437.5Z"/>
<path d="M945.1 452.2L952.1 459.2L945.1 466.2L938.1 459.2Z"/>
<path d="M958.7 459.0L965.7 466.0L958.7 473.0L951.7 466.0Z"/>
<path d="M955.7 401.6L962.7 408.6L955.7 415.6L948.7 408.6Z"/>
<path d="M963.9 478.3L970.9 485.3L963.9 492.3L956.9 485.3Z"/>
<path d="M947.8 463.5L954.8 470.5L947.8 477.5L940.8 470.5Z"/>
</g>
<g fill="#22C3E8" stroke="#06121a" stroke-width="1.5">
<path d="M1033.1 323.0L1040.1 330.0L1033.1 337.0L1026.1 330.0Z"/>
<path d="M1017.5 495.7L1024.5 502.7L1017.5 509.7L1010.5 502.7Z"/>
<path d="M1050.2 480.8L1057.2 487.8L1050.2 494.8L1043.2 487.8Z"/>
<path d="M1047.4 429.9L1054.4 436.9L1047.4 443.9L1040.4 436.9Z"/>
<path d="M1047.1 477.0L1054.1 484.0L1047.1 491.0L1040.1 484.0Z"/>
<path d="M1035.5 483.1L1042.5 490.1L1035.5 497.1L1028.5 490.1Z"/>
<path d="M1039.5 404.6L1046.5 411.6L1039.5 418.6L1032.5 411.6Z"/>
<path d="M1033.1 266.5L1040.1 273.5L1033.1 280.5L1026.1 273.5Z"/>
<path d="M1045.0 449.1L1052.0 456.1L1045.0 463.1L1038.0 456.1Z"/>
<path d="M1037.2 494.1L1044.2 501.1L1037.2 508.1L1030.2 501.1Z"/>
<path d="M1050.2 445.6L1057.2 452.6L1050.2 459.6L1043.2 452.6Z"/>
<path d="M1048.4 496.2L1055.4 503.2L1048.4 510.2L1041.4 503.2Z"/>
<path d="M1033.1 353.4L1040.1 360.4L1033.1 367.4L1026.1 360.4Z"/>
<path d="M1047.5 468.4L1054.5 475.4L1047.5 482.4L1040.5 475.4Z"/>
<path d="M1041.3 461.6L1048.3 468.6L1041.3 475.6L1034.3 468.6Z"/>
<path d="M1017.5 455.6L1024.5 462.6L1017.5 469.6L1010.5 462.6Z"/>
<path d="M1030.5 432.1L1037.5 439.1L1030.5 446.1L1023.5 439.1Z"/>
<path d="M1033.1 245.2L1040.1 252.2L1033.1 259.2L1026.1 252.2Z"/>
<path d="M1044.8 417.2L1051.8 424.2L1044.8 431.2L1037.8 424.2Z"/>
<path d="M1036.1 332.0L1043.1 339.0L1036.1 346.0L1029.1 339.0Z"/>
<path d="M1041.7 443.3L1048.7 450.3L1041.7 457.3L1034.7 450.3Z"/>
<path d="M1043.8 490.5L1050.8 497.5L1043.8 504.5L1036.8 497.5Z"/>
<path d="M1036.1 273.0L1043.1 280.0L1036.1 287.0L1029.1 280.0Z"/>
<path d="M1027.9 500.6L1034.9 507.6L1027.9 514.6L1020.9 507.6Z"/>
<path d="M1035.7 501.2L1042.7 508.2L1035.7 515.2L1028.7 508.2Z"/>
<path d="M1019.2 439.8L1026.2 446.8L1019.2 453.8L1012.2 446.8Z"/>
<path d="M1050.2 476.1L1057.2 483.1L1050.2 490.1L1043.2 483.1Z"/>
<path d="M1030.4 483.1L1037.4 490.1L1030.4 497.1L1023.4 490.1Z"/>
<path d="M1035.2 462.3L1042.2 469.3L1035.2 476.3L1028.2 469.3Z"/>
<path d="M1031.4 510.3L1038.4 517.3L1031.4 524.3L1024.4 517.3Z"/>
<path d="M1035.6 449.9L1042.6 456.9L1035.6 463.9L1028.6 456.9Z"/>
<path d="M1042.6 508.1L1049.6 515.1L1042.6 522.1L1035.6 515.1Z"/>
<path d="M1018.6 490.5L1025.6 497.5L1018.6 504.5L1011.6 497.5Z"/>
<path d="M1040.2 468.1L1047.2 475.1L1040.2 482.1L1033.2 475.1Z"/>
<path d="M1027.0 456.1L1034.0 463.1L1027.0 470.1L1020.0 463.1Z"/>
<path d="M1024.1 507.9L1031.1 514.9L1024.1 521.9L1017.1 514.9Z"/>
<path d="M1031.4 425.9L1038.4 432.9L1031.4 439.9L1024.4 432.9Z"/>
<path d="M1032.1 490.0L1039.1 497.0L1032.1 504.0L1025.1 497.0Z"/>
<path d="M1030.9 494.8L1037.9 501.8L1030.9 508.8L1023.9 501.8Z"/>
<path d="M1050.2 457.6L1057.2 464.6L1050.2 471.6L1043.2 464.6Z"/>
<path d="M1041.0 425.2L1048.0 432.2L1041.0 439.2L1034.0 432.2Z"/>
<path d="M1031.1 363.6L1038.1 370.6L1031.1 377.6L1024.1 370.6Z"/>
<path d="M1019.0 475.2L1026.0 482.2L1019.0 489.2L1012.0 482.2Z"/>
<path d="M1020.0 464.3L1027.0 471.3L1020.0 478.3L1013.0 471.3Z"/>
<path d="M1030.1 386.0L1037.1 393.0L1030.1 400.0L1023.1 393.0Z"/>
<path d="M1050.1 438.2L1057.1 445.2L1050.1 452.2L1043.1 445.2Z"/>
<path d="M1047.4 463.9L1054.4 470.9L1047.4 477.9L1040.4 470.9Z"/>
<path d="M1030.5 475.2L1037.5 482.2L1030.5 489.2L1023.5 482.2Z"/>
<path d="M1036.4 412.7L1043.4 419.7L1036.4 426.7L1029.4 419.7Z"/>
<path d="M1043.0 500.7L1050.0 507.7L1043.0 514.7L1036.0 507.7Z"/>
<path d="M1019.9 430.6L1026.9 437.6L1019.9 444.6L1012.9 437.6Z"/>
<path d="M1016.0 483.5L1023.0 490.5L1016.0 497.5L1009.0 490.5Z"/>
<path d="M1023.6 452.3L1030.6 459.3L1023.6 466.3L1016.6 459.3Z"/>
<path d="M1026.4 443.7L1033.4 450.7L1026.4 457.7L1019.4 450.7Z"/>
<path d="M1033.1 286.8L1040.1 293.8L1033.1 300.8L1026.1 293.8Z"/>
<path d="M1018.4 442.6L1025.4 449.6L1018.4 456.6L1011.4 449.6Z"/>
<path d="M1028.3 411.0L1035.3 418.0L1028.3 425.0L1021.3 418.0Z"/>
<path d="M1034.2 436.0L1041.2 443.0L1034.2 450.0L1027.2 443.0Z"/>
<path d="M1035.5 455.5L1042.5 462.5L1035.5 469.5L1028.5 462.5Z"/>
<path d="M1025.8 405.0L1032.8 412.0L1025.8 419.0L1018.8 412.0Z"/>
<path d="M1016.5 471.4L1023.5 478.4L1016.5 485.4L1009.5 478.4Z"/>
<path d="M1024.8 423.1L1031.8 430.1L1024.8 437.1L1017.8 430.1Z"/>
<path d="M1042.7 438.7L1049.7 445.7L1042.7 452.7L1035.7 445.7Z"/>
<path d="M1038.3 433.3L1045.3 440.3L1038.3 447.3L1031.3 440.3Z"/>
<path d="M1033.1 379.4L1040.1 386.4L1033.1 393.4L1026.1 386.4Z"/>
<path d="M1035.1 369.0L1042.1 376.0L1035.1 383.0L1028.1 376.0Z"/>
<path d="M1027.5 470.8L1034.5 477.8L1027.5 484.8L1020.5 477.8Z"/>
<path d="M1023.7 419.7L1030.7 426.7L1023.7 433.7L1016.7 426.7Z"/>
<path d="M1036.1 395.0L1043.1 402.0L1036.1 409.0L1029.1 402.0Z"/>
<path d="M1035.8 417.4L1042.8 424.4L1035.8 431.4L1028.8 424.4Z"/>
</g>
<g fill="#22C3E8" stroke="#06121a" stroke-width="1.5">
<path d="M1126.1 437.7L1133.1 444.7L1126.1 451.7L1119.1 444.7Z"/>
<path d="M1115.8 483.0L1122.8 490.0L1115.8 497.0L1108.8 490.0Z"/>
<path d="M1118.6 419.0L1125.6 426.0L1118.6 433.0L1111.6 426.0Z"/>
<path d="M1110.4 380.3L1117.4 387.3L1110.4 394.3L1103.4 387.3Z"/>
<path d="M1118.5 432.7L1125.5 439.7L1118.5 446.7L1111.5 439.7Z"/>
<path d="M1098.2 437.0L1105.2 444.0L1098.2 451.0L1091.2 444.0Z"/>
<path d="M1121.2 424.5L1128.2 431.5L1121.2 438.5L1114.2 431.5Z"/>
<path d="M1111.9 501.8L1118.9 508.8L1111.9 515.8L1104.9 508.8Z"/>
<path d="M1111.3 469.2L1118.3 476.2L1111.3 483.2L1104.3 476.2Z"/>
<path d="M1119.7 450.8L1126.7 457.8L1119.7 464.8L1112.7 457.8Z"/>
<path d="M1104.0 392.2L1111.0 399.2L1104.0 406.2L1097.0 399.2Z"/>
<path d="M1095.7 420.5L1102.7 427.5L1095.7 434.5L1088.7 427.5Z"/>
<path d="M1114.4 442.5L1121.4 449.5L1114.4 456.5L1107.4 449.5Z"/>
<path d="M1126.0 432.1L1133.0 439.1L1126.0 446.1L1119.0 439.1Z"/>
<path d="M1108.7 448.7L1115.7 455.7L1108.7 462.7L1101.7 455.7Z"/>
<path d="M1097.1 399.5L1104.1 406.5L1097.1 413.5L1090.1 406.5Z"/>
<path d="M1104.9 405.8L1111.9 412.8L1104.9 419.8L1097.9 412.8Z"/>
<path d="M1102.0 417.6L1109.0 424.6L1102.0 431.6L1095.0 424.6Z"/>
<path d="M1107.4 399.7L1114.4 406.7L1107.4 413.7L1100.4 406.7Z"/>
<path d="M1122.6 457.0L1129.6 464.0L1122.6 471.0L1115.6 464.0Z"/>
<path d="M1095.0 444.4L1102.0 451.4L1095.0 458.4L1088.0 451.4Z"/>
<path d="M1110.4 327.6L1117.4 334.6L1110.4 341.6L1103.4 334.6Z"/>
<path d="M1121.7 439.1L1128.7 446.1L1121.7 453.1L1114.7 446.1Z"/>
<path d="M1108.4 494.6L1115.4 501.6L1108.4 508.6L1101.4 501.6Z"/>
<path d="M1104.4 468.1L1111.4 475.1L1104.4 482.1L1097.4 475.1Z"/>
<path d="M1111.0 477.6L1118.0 484.6L1111.0 491.6L1104.0 484.6Z"/>
<path d="M1118.4 407.7L1125.4 414.7L1118.4 421.7L1111.4 414.7Z"/>
<path d="M1108.0 482.3L1115.0 489.3L1108.0 496.3L1101.0 489.3Z"/>
<path d="M1127.5 419.0L1134.5 426.0L1127.5 433.0L1120.5 426.0Z"/>
<path d="M1103.3 444.4L1110.3 451.4L1103.3 458.4L1096.3 451.4Z"/>
<path d="M1101.4 458.9L1108.4 465.9L1101.4 472.9L1094.4 465.9Z"/>
<path d="M1107.7 423.4L1114.7 430.4L1107.7 437.4L1100.7 430.4Z"/>
<path d="M1112.4 497.2L1119.4 504.2L1112.4 511.2L1105.4 504.2Z"/>
<path d="M1096.6 394.7L1103.6 401.7L1096.6 408.7L1089.6 401.7Z"/>
<path d="M1113.4 365.6L1120.4 372.6L1113.4 379.6L1106.4 372.6Z"/>
<path d="M1119.0 392.2L1126.0 399.2L1119.0 406.2L1112.0 399.2Z"/>
<path d="M1107.4 371.0L1114.4 378.0L1107.4 385.0L1100.4 378.0Z"/>
<path d="M1102.3 429.7L1109.3 436.7L1102.3 443.7L1095.3 436.7Z"/>
<path d="M1118.6 398.7L1125.6 405.7L1118.6 412.7L1111.6 405.7Z"/>
<path d="M1112.4 457.0L1119.4 464.0L1112.4 471.0L1105.4 464.0Z"/>
<path d="M1098.3 450.5L1105.3 457.5L1098.3 464.5L1091.3 457.5Z"/>
<path d="M1110.4 316.5L1117.4 323.5L1110.4 330.5L1103.4 323.5Z"/>
<path d="M1125.2 392.0L1132.2 399.0L1125.2 406.0L1118.2 399.0Z"/>
<path d="M1098.5 410.9L1105.5 417.9L1098.5 424.9L1091.5 417.9Z"/>
<path d="M1113.4 299.8L1120.4 306.8L1113.4 313.8L1106.4 306.8Z"/>
<path d="M1111.6 412.5L1118.6 419.5L1111.6 426.5L1104.6 419.5Z"/>
<path d="M1109.6 489.0L1116.6 496.0L1109.6 503.0L1102.6 496.0Z"/>
<path d="M1119.4 411.2L1126.4 418.2L1119.4 425.2L1112.4 418.2Z"/>
<path d="M1107.4 305.3L1114.4 312.3L1107.4 319.3L1100.4 312.3Z"/>
<path d="M1110.4 353.4L1117.4 360.4L1110.4 367.4L1103.4 360.4Z"/>
<path d="M1103.4 448.5L1110.4 455.5L1103.4 462.5L1096.4 455.5Z"/>
<path d="M1126.5 406.4L1133.5 413.4L1126.5 420.4L1119.5 413.4Z"/>
<path d="M1105.0 463.7L1112.0 470.7L1105.0 477.7L1098.0 470.7Z"/>
<path d="M1109.7 438.8L1116.7 445.8L1109.7 452.8L1102.7 445.8Z"/>
<path d="M1123.7 445.8L1130.7 452.8L1123.7 459.8L1116.7 452.8Z"/>
<path d="M1110.4 274.0L1117.4 281.0L1110.4 288.0L1103.4 281.0Z"/>
<path d="M1096.7 431.8L1103.7 438.8L1096.7 445.8L1089.7 438.8Z"/>
<path d="M1118.6 469.3L1125.6 476.3L1118.6 483.3L1111.6 476.3Z"/>
<path d="M1098.4 425.1L1105.4 432.1L1098.4 439.1L1091.4 432.1Z"/>
<path d="M1110.4 339.6L1117.4 346.6L1110.4 353.6L1103.4 346.6Z"/>
<path d="M1114.4 462.7L1121.4 469.7L1114.4 476.7L1107.4 469.7Z"/>
<path d="M1094.4 406.8L1101.4 413.8L1094.4 420.8L1087.4 413.8Z"/>
</g>
<g fill="#22C3E8" stroke="#06121a" stroke-width="1.5">
<path d="M1187.1 381.7L1194.1 388.7L1187.1 395.7L1180.1 388.7Z"/>
<path d="M1191.6 408.0L1198.6 415.0L1191.6 422.0L1184.6 415.0Z"/>
<path d="M1187.8 319.0L1194.8 326.0L1187.8 333.0L1180.8 326.0Z"/>
<path d="M1187.2 369.8L1194.2 376.8L1187.2 383.8L1180.2 376.8Z"/>
<path d="M1187.1 377.6L1194.1 384.6L1187.1 391.6L1180.1 384.6Z"/>
<path d="M1188.4 440.1L1195.4 447.1L1188.4 454.1L1181.4 447.1Z"/>
<path d="M1185.0 448.1L1192.0 455.1L1185.0 462.1L1178.0 455.1Z"/>
<path d="M1179.6 408.7L1186.6 415.7L1179.6 422.7L1172.6 415.7Z"/>
<path d="M1189.7 480.6L1196.7 487.6L1189.7 494.6L1182.7 487.6Z"/>
<path d="M1197.9 512.0L1204.9 519.0L1197.9 526.0L1190.9 519.0Z"/>
<path d="M1197.5 447.5L1204.5 454.5L1197.5 461.5L1190.5 454.5Z"/>
<path d="M1189.4 404.4L1196.4 411.4L1189.4 418.4L1182.4 411.4Z"/>
<path d="M1187.8 207.3L1194.8 214.3L1187.8 221.3L1180.8 214.3Z"/>
<path d="M1181.4 487.2L1188.4 494.2L1181.4 501.2L1174.4 494.2Z"/>
<path d="M1175.8 402.1L1182.8 409.1L1175.8 416.1L1168.8 409.1Z"/>
<path d="M1194.1 428.7L1201.1 435.7L1194.1 442.7L1187.1 435.7Z"/>
<path d="M1194.2 337.1L1201.2 344.1L1194.2 351.1L1187.2 344.1Z"/>
<path d="M1189.1 467.7L1196.1 474.7L1189.1 481.7L1182.1 474.7Z"/>
<path d="M1187.8 271.0L1194.8 278.0L1187.8 285.0L1180.8 278.0Z"/>
<path d="M1181.4 421.6L1188.4 428.6L1181.4 435.6L1174.4 428.6Z"/>
<path d="M1190.5 359.2L1197.5 366.2L1190.5 373.2L1183.5 366.2Z"/>
<path d="M1178.5 414.2L1185.5 421.2L1178.5 428.2L1171.5 421.2Z"/>
<path d="M1187.4 422.0L1194.4 429.0L1187.4 436.0L1180.4 429.0Z"/>
<path d="M1198.4 455.1L1205.4 462.1L1198.4 469.1L1191.4 462.1Z"/>
<path d="M1180.2 478.5L1187.2 485.5L1180.2 492.5L1173.2 485.5Z"/>
<path d="M1175.8 441.2L1182.8 448.2L1175.8 455.2L1168.8 448.2Z"/>
<path d="M1197.9 478.1L1204.9 485.1L1197.9 492.1L1190.9 485.1Z"/>
<path d="M1186.5 493.2L1193.5 500.2L1186.5 507.2L1179.5 500.2Z"/>
<path d="M1195.0 497.6L1202.0 504.6L1195.0 511.6L1188.0 504.6Z"/>
<path d="M1191.0 471.6L1198.0 478.6L1191.0 485.6L1184.0 478.6Z"/>
<path d="M1200.2 429.6L1207.2 436.6L1200.2 443.6L1193.2 436.6Z"/>
<path d="M1184.9 344.4L1191.9 351.4L1184.9 358.4L1177.9 351.4Z"/>
<path d="M1188.6 389.9L1195.6 396.9L1188.6 403.9L1181.6 396.9Z"/>
<path d="M1194.3 519.8L1201.3 526.8L1194.3 533.8L1187.3 526.8Z"/>
<path d="M1186.8 362.7L1193.8 369.7L1186.8 376.7L1179.8 369.7Z"/>
<path d="M1197.9 487.5L1204.9 494.5L1197.9 501.5L1190.9 494.5Z"/>
<path d="M1177.7 493.2L1184.7 500.2L1177.7 507.2L1170.7 500.2Z"/>
<path d="M1190.5 398.3L1197.5 405.3L1190.5 412.3L1183.5 405.3Z"/>
<path d="M1192.4 343.4L1199.4 350.4L1192.4 357.4L1185.4 350.4Z"/>
<path d="M1195.2 461.6L1202.2 468.6L1195.2 475.6L1188.2 468.6Z"/>
<path d="M1195.8 467.7L1202.8 474.7L1195.8 481.7L1188.8 474.7Z"/>
<path d="M1180.0 461.4L1187.0 468.4L1180.0 475.4L1173.0 468.4Z"/>
<path d="M1194.3 513.5L1201.3 520.5L1194.3 527.5L1187.3 520.5Z"/>
<path d="M1189.4 433.8L1196.4 440.8L1189.4 447.8L1182.4 440.8Z"/>
<path d="M1180.2 503.5L1187.2 510.5L1180.2 517.5L1173.2 510.5Z"/>
<path d="M1186.2 415.8L1193.2 422.8L1186.2 429.8L1179.2 422.8Z"/>
<path d="M1180.6 427.3L1187.6 434.3L1180.6 441.3L1173.6 434.3Z"/>
<path d="M1174.0 427.0L1181.0 434.0L1174.0 441.0L1167.0 434.0Z"/>
<path d="M1200.8 415.2L1207.8 422.2L1200.8 429.2L1193.8 422.2Z"/>
<path d="M1197.0 497.4L1204.0 504.4L1197.0 511.4L1190.0 504.4Z"/>
<path d="M1195.6 434.5L1202.6 441.5L1195.6 448.5L1188.6 441.5Z"/>
<path d="M1197.8 402.8L1204.8 409.8L1197.8 416.8L1190.8 409.8Z"/>
<path d="M1181.4 518.2L1188.4 525.2L1181.4 532.2L1174.4 525.2Z"/>
<path d="M1192.3 487.6L1199.3 494.6L1192.3 501.6L1185.3 494.6Z"/>
<path d="M1179.8 454.1L1186.8 461.1L1179.8 468.1L1172.8 461.1Z"/>
<path d="M1195.1 491.9L1202.1 498.9L1195.1 505.9L1188.1 498.9Z"/>
<path d="M1198.9 421.5L1205.9 428.5L1198.9 435.5L1191.9 428.5Z"/>
<path d="M1189.2 503.5L1196.2 510.5L1189.2 517.5L1182.2 510.5Z"/>
<path d="M1197.9 503.9L1204.9 510.9L1197.9 517.9L1190.9 510.9Z"/>
<path d="M1180.7 512.2L1187.7 519.2L1180.7 526.2L1173.7 519.2Z"/>
<path d="M1187.8 243.3L1194.8 250.3L1187.8 257.3L1180.8 250.3Z"/>
<path d="M1181.2 499.4L1188.2 506.4L1181.2 513.4L1174.2 506.4Z"/>
<path d="M1181.1 474.9L1188.1 481.9L1181.1 488.9L1174.1 481.9Z"/>
<path d="M1187.8 304.4L1194.8 311.4L1187.8 318.4L1180.8 311.4Z"/>
<path d="M1174.7 421.8L1181.7 428.8L1174.7 435.8L1167.7 428.8Z"/>
<path d="M1188.0 452.6L1195.0 459.6L1188.0 466.6L1181.0 459.6Z"/>
<path d="M1181.9 353.5L1188.9 360.5L1181.9 367.5L1174.9 360.5Z"/>
<path d="M1190.8 282.2L1197.8 289.2L1190.8 296.2L1183.8 289.2Z"/>
<path d="M1178.4 434.4L1185.4 441.4L1178.4 448.4L1171.4 441.4Z"/>
<path d="M1185.5 357.7L1192.5 364.7L1185.5 371.7L1178.5 364.7Z"/>
<path d="M1194.8 350.0L1201.8 357.0L1194.8 364.0L1187.8 357.0Z"/>
<path d="M1199.2 442.7L1206.2 449.7L1199.2 456.7L1192.2 449.7Z"/>
<path d="M1192.7 395.5L1199.7 402.5L1192.7 409.5L1185.7 402.5Z"/>
<path d="M1183.9 340.1L1190.9 347.1L1183.9 354.1L1176.9 347.1Z"/>
<path d="M1177.7 465.0L1184.7 472.0L1177.7 479.0L1170.7 472.0Z"/>
<path d="M1184.8 288.7L1191.8 295.7L1184.8 302.7L1177.8 295.7Z"/>
</g>
<g fill="#22C3E8" stroke="#06121a" stroke-width="1.5">
<path d="M1274.6 450.2L1281.6 457.2L1274.6 464.2L1267.6 457.2Z"/>
<path d="M1268.8 441.5L1275.8 448.5L1268.8 455.5L1261.8 448.5Z"/>
<path d="M1265.2 296.4L1272.2 303.4L1265.2 310.4L1258.2 303.4Z"/>
<path d="M1250.2 409.9L1257.2 416.9L1250.2 423.9L1243.2 416.9Z"/>
<path d="M1254.4 391.5L1261.4 398.5L1254.4 405.5L1247.4 398.5Z"/>
<path d="M1269.9 480.6L1276.9 487.6L1269.9 494.6L1262.9 487.6Z"/>
<path d="M1262.2 325.5L1269.2 332.5L1262.2 339.5L1255.2 332.5Z"/>
<path d="M1263.2 304.0L1270.2 311.0L1263.2 318.0L1256.2 311.0Z"/>
<path d="M1262.3 491.3L1269.3 498.3L1262.3 505.3L1255.3 498.3Z"/>
<path d="M1258.7 481.1L1265.7 488.1L1258.7 495.1L1251.7 488.1Z"/>
<path d="M1279.3 441.0L1286.3 448.0L1279.3 455.0L1272.3 448.0Z"/>
<path d="M1281.6 428.3L1288.6 435.3L1281.6 442.3L1274.6 435.3Z"/>
<path d="M1250.4 403.3L1257.4 410.3L1250.4 417.3L1243.4 410.3Z"/>
<path d="M1257.0 417.5L1264.0 424.5L1257.0 431.5L1250.0 424.5Z"/>
<path d="M1268.6 494.5L1275.6 501.5L1268.6 508.5L1261.6 501.5Z"/>
<path d="M1262.4 488.7L1269.4 495.7L1262.4 502.7L1255.4 495.7Z"/>
<path d="M1268.0 414.8L1275.0 421.8L1268.0 428.8L1261.0 421.8Z"/>
<path d="M1249.7 436.4L1256.7 443.4L1249.7 450.4L1242.7 443.4Z"/>
<path d="M1248.8 410.0L1255.8 417.0L1248.8 424.0L1241.8 417.0Z"/>
<path d="M1272.8 475.2L1279.8 482.2L1272.8 489.2L1265.8 482.2Z"/>
<path d="M1279.3 417.4L1286.3 424.4L1279.3 431.4L1272.3 424.4Z"/>
<path d="M1263.6 408.6L1270.6 415.6L1263.6 422.6L1256.6 415.6Z"/>
<path d="M1254.3 422.6L1261.3 429.6L1254.3 436.6L1247.3 429.6Z"/>
<path d="M1267.2 308.7L1274.2 315.7L1267.2 322.7L1260.2 315.7Z"/>
<path d="M1263.8 397.0L1270.8 404.0L1263.8 411.0L1256.8 404.0Z"/>
<path d="M1273.6 389.4L1280.6 396.4L1273.6 403.4L1266.6 396.4Z"/>
<path d="M1262.5 429.9L1269.5 436.9L1262.5 443.9L1255.5 436.9Z"/>
<path d="M1247.6 418.5L1254.6 425.5L1247.6 432.5L1240.6 425.5Z"/>
<path d="M1264.5 454.6L1271.5 461.6L1264.5 468.6L1257.5 461.6Z"/>
<path d="M1265.2 322.0L1272.2 329.0L1265.2 336.0L1258.2 329.0Z"/>
<path d="M1257.7 402.5L1264.7 409.5L1257.7 416.5L1250.7 409.5Z"/>
<path d="M1261.2 367.0L1268.2 374.0L1261.2 381.0L1254.2 374.0Z"/>
<path d="M1266.4 391.7L1273.4 398.7L1266.4 405.7L1259.4 398.7Z"/>
<path d="M1265.2 375.8L1272.2 382.8L1265.2 389.8L1258.2 382.8Z"/>
<path d="M1256.3 469.6L1263.3 476.6L1256.3 483.6L1249.3 476.6Z"/>
<path d="M1273.5 404.5L1280.5 411.5L1273.5 418.5L1266.5 411.5Z"/>
<path d="M1265.2 355.7L1272.2 362.7L1265.2 369.7L1258.2 362.7Z"/>
<path d="M1271.6 428.3L1278.6 435.3L1271.6 442.3L1264.6 435.3Z"/>
<path d="M1264.5 435.8L1271.5 442.8L1264.5 449.8L1257.5 442.8Z"/>
<path d="M1265.2 247.2L1272.2 254.2L1265.2 261.2L1258.2 254.2Z"/>
<path d="M1269.2 371.0L1276.2 378.0L1269.2 385.0L1262.2 378.0Z"/>
<path d="M1262.5 421.7L1269.5 428.7L1262.5 435.7L1255.5 428.7Z"/>
<path d="M1265.9 469.1L1272.9 476.1L1265.9 483.1L1258.9 476.1Z"/>
<path d="M1267.3 485.6L1274.3 492.6L1267.3 499.6L1260.3 492.6Z"/>
<path d="M1248.7 431.0L1255.7 438.0L1248.7 445.0L1241.7 438.0Z"/>
<path d="M1273.5 467.6L1280.5 474.6L1273.5 481.6L1266.5 474.6Z"/>
<path d="M1256.5 395.8L1263.5 402.8L1256.5 409.8L1249.5 402.8Z"/>
<path d="M1267.2 344.5L1274.2 351.5L1267.2 358.5L1260.2 351.5Z"/>
<path d="M1260.8 459.9L1267.8 466.9L1260.8 473.9L1253.8 466.9Z"/>
<path d="M1273.5 455.8L1280.5 462.8L1273.5 469.8L1266.5 462.8Z"/>
<path d="M1251.9 437.5L1258.9 444.5L1251.9 451.5L1244.9 444.5Z"/>
<path d="M1281.0 401.7L1288.0 408.7L1281.0 415.7L1274.0 408.7Z"/>
<path d="M1271.0 460.2L1278.0 467.2L1271.0 474.2L1264.0 467.2Z"/>
<path d="M1265.2 337.8L1272.2 344.8L1265.2 351.8L1258.2 344.8Z"/>
<path d="M1273.3 437.3L1280.3 444.3L1273.3 451.3L1266.3 444.3Z"/>
<path d="M1251.0 441.6L1258.0 448.6L1251.0 455.6L1244.0 448.6Z"/>
<path d="M1261.4 446.9L1268.4 453.9L1261.4 460.9L1254.4 453.9Z"/>
<path d="M1276.4 423.1L1283.4 430.1L1276.4 437.1L1269.4 430.1Z"/>
<path d="M1269.7 449.7L1276.7 456.7L1269.7 463.7L1262.7 456.7Z"/>
<path d="M1275.1 399.1L1282.1 406.1L1275.1 413.1L1268.1 406.1Z"/>
<path d="M1261.7 442.7L1268.7 449.7L1261.7 456.7L1254.7 449.7Z"/>
<path d="M1274.9 409.4L1281.9 416.4L1274.9 423.4L1267.9 416.4Z"/>
<path d="M1257.2 453.8L1264.2 460.8L1257.2 467.8L1250.2 460.8Z"/>
<path d="M1260.6 475.5L1267.6 482.5L1260.6 489.5L1253.6 482.5Z"/>
</g>
<g fill="#22C3E8" stroke="#06121a" stroke-width="1.5">
<path d="M1342.6 297.5L1349.6 304.5L1342.6 311.5L1335.6 304.5Z"/>
<path d="M1333.2 459.0L1340.2 466.0L1333.2 473.0L1326.2 466.0Z"/>
<path d="M1341.5 459.0L1348.5 466.0L1341.5 473.0L1334.5 466.0Z"/>
<path d="M1348.5 498.3L1355.5 505.3L1348.5 512.3L1341.5 505.3Z"/>
<path d="M1346.5 493.6L1353.5 500.6L1346.5 507.6L1339.5 500.6Z"/>
<path d="M1337.7 503.8L1344.7 510.8L1337.7 517.8L1330.7 510.8Z"/>
<path d="M1340.6 313.2L1347.6 320.2L1340.6 327.2L1333.6 320.2Z"/>
<path d="M1355.9 464.4L1362.9 471.4L1355.9 478.4L1348.9 471.4Z"/>
<path d="M1353.6 419.6L1360.6 426.6L1353.6 433.6L1346.6 426.6Z"/>
<path d="M1344.8 503.8L1351.8 510.8L1344.8 517.8L1337.8 510.8Z"/>
<path d="M1348.0 451.8L1355.0 458.8L1348.0 465.8L1341.0 458.8Z"/>
<path d="M1348.1 409.8L1355.1 416.8L1348.1 423.8L1341.1 416.8Z"/>
<path d="M1345.6 305.4L1352.6 312.4L1345.6 319.4L1338.6 312.4Z"/>
<path d="M1331.4 413.0L1338.4 420.0L1331.4 427.0L1324.4 420.0Z"/>
<path d="M1343.1 447.7L1350.1 454.7L1343.1 461.7L1336.1 454.7Z"/>
<path d="M1348.0 484.3L1355.0 491.3L1348.0 498.3L1341.0 491.3Z"/>
<path d="M1336.6 486.5L1343.6 493.5L1336.6 500.5L1329.6 493.5Z"/>
<path d="M1344.5 357.6L1351.5 364.6L1344.5 371.6L1337.5 364.6Z"/>
<path d="M1352.5 407.9L1359.5 414.9L1352.5 421.9L1345.5 414.9Z"/>
<path d="M1338.1 490.0L1345.1 497.0L1338.1 504.0L1331.1 497.0Z"/>
<path d="M1354.4 429.0L1361.4 436.0L1354.4 443.0L1347.4 436.0Z"/>
<path d="M1348.8 371.9L1355.8 378.9L1348.8 385.9L1341.8 378.9Z"/>
<path d="M1333.5 422.5L1340.5 429.5L1333.5 436.5L1326.5 429.5Z"/>
<path d="M1326.4 453.4L1333.4 460.4L1326.4 467.4L1319.4 460.4Z"/>
<path d="M1351.7 478.6L1358.7 485.6L1351.7 492.6L1344.7 485.6Z"/>
<path d="M1342.6 497.5L1349.6 504.5L1342.6 511.5L1335.6 504.5Z"/>
<path d="M1342.3 378.4L1349.3 385.4L1342.3 392.4L1335.3 385.4Z"/>
<path d="M1342.6 257.3L1349.6 264.3L1342.6 271.3L1335.6 264.3Z"/>
<path d="M1340.1 370.6L1347.1 377.6L1340.1 384.6L1333.1 377.6Z"/>
<path d="M1333.3 390.1L1340.3 397.1L1333.3 404.1L1326.3 397.1Z"/>
<path d="M1348.2 471.1L1355.2 478.1L1348.2 485.1L1341.2 478.1Z"/>
<path d="M1339.1 358.7L1346.1 365.7L1339.1 372.7L1332.1 365.7Z"/>
<path d="M1333.3 381.0L1340.3 388.0L1333.3 395.0L1326.3 388.0Z"/>
<path d="M1342.6 235.0L1349.6 242.0L1342.6 249.0L1335.6 242.0Z"/>
<path d="M1340.9 389.0L1347.9 396.0L1340.9 403.0L1333.9 396.0Z"/>
<path d="M1333.5 448.8L1340.5 455.8L1333.5 462.8L1326.5 455.8Z"/>
<path d="M1351.2 375.3L1358.2 382.3L1351.2 389.3L1344.2 382.3Z"/>
<path d="M1347.3 349.8L1354.3 356.8L1347.3 363.8L1340.3 356.8Z"/>
<path d="M1334.5 435.1L1341.5 442.1L1334.5 449.1L1327.5 442.1Z"/>
<path d="M1351.2 390.9L1358.2 397.9L1351.2 404.9L1344.2 397.9Z"/>
<path d="M1342.6 324.4L1349.6 331.4L1342.6 338.4L1335.6 331.4Z"/>
<path d="M1340.1 464.7L1347.1 471.7L1340.1 478.7L1333.1 471.7Z"/>
<path d="M1344.1 402.8L1351.1 409.8L1344.1 416.8L1337.1 409.8Z"/>
<path d="M1330.7 429.2L1337.7 436.2L1330.7 443.2L1323.7 436.2Z"/>
<path d="M1345.6 236.0L1352.6 243.0L1345.6 250.0L1338.6 243.0Z"/>
<path d="M1353.7 413.9L1360.7 420.9L1353.7 427.9L1346.7 420.9Z"/>
<path d="M1347.6 337.0L1354.6 344.0L1347.6 351.0L1340.6 344.0Z"/>
<path d="M1353.2 459.6L1360.2 466.6L1353.2 473.6L1346.2 466.6Z"/>
<path d="M1351.7 421.3L1358.7 428.3L1351.7 435.3L1344.7 428.3Z"/>
<path d="M1337.2 408.5L1344.2 415.5L1337.2 422.5L1330.2 415.5Z"/>
<path d="M1347.6 465.6L1354.6 472.6L1347.6 479.6L1340.6 472.6Z"/>
<path d="M1337.6 334.4L1344.6 341.4L1337.6 348.4L1330.6 341.4Z"/>
<path d="M1335.9 381.8L1342.9 388.8L1335.9 395.8L1328.9 388.8Z"/>
<path d="M1336.5 472.8L1343.5 479.8L1336.5 486.8L1329.5 479.8Z"/>
<path d="M1350.1 363.7L1357.1 370.7L1350.1 377.7L1343.1 370.7Z"/>
<path d="M1335.4 438.6L1342.4 445.6L1335.4 452.6L1328.4 445.6Z"/>
<path d="M1348.7 382.4L1355.7 389.4L1348.7 396.4L1341.7 389.4Z"/>
<path d="M1336.6 362.2L1343.6 369.2L1336.6 376.2L1329.6 369.2Z"/>
<path d="M1342.5 510.4L1349.5 517.4L1342.5 524.4L1335.5 517.4Z"/>
<path d="M1354.5 446.7L1361.5 453.7L1354.5 460.7L1347.5 453.7Z"/>
<path d="M1352.4 433.2L1359.4 440.2L1352.4 447.2L1345.4 440.2Z"/>
<path d="M1329.0 440.4L1336.0 447.4L1329.0 454.4L1322.0 447.4Z"/>
<path d="M1357.8 453.8L1364.8 460.8L1357.8 467.8L1350.8 460.8Z"/>
<path d="M1340.1 428.4L1347.1 435.4L1340.1 442.4L1333.1 435.4Z"/>
<path d="M1356.1 438.8L1363.1 445.8L1356.1 452.8L1349.1 445.8Z"/>
<path d="M1341.3 516.2L1348.3 523.2L1341.3 530.2L1334.3 523.2Z"/>
<path d="M1348.1 397.2L1355.1 404.2L1348.1 411.2L1341.1 404.2Z"/>
<path d="M1333.9 376.7L1340.9 383.7L1333.9 390.7L1326.9 383.7Z"/>
<path d="M1352.1 403.4L1359.1 410.4L1352.1 417.4L1345.1 410.4Z"/>
<path d="M1349.8 441.8L1356.8 448.8L1349.8 455.8L1342.8 448.8Z"/>
<path d="M1358.9 458.6L1365.9 465.6L1358.9 472.6L1351.9 465.6Z"/>
<path d="M1334.5 477.3L1341.5 484.3L1334.5 491.3L1327.5 484.3Z"/>
<path d="M1329.2 467.0L1336.2 474.0L1329.2 481.0L1322.2 474.0Z"/>
<path d="M1344.8 477.7L1351.8 484.7L1344.8 491.7L1337.8 484.7Z"/>
<path d="M1337.8 351.7L1344.8 358.7L1337.8 365.7L1330.8 358.7Z"/>
<path d="M1341.4 416.5L1348.4 423.5L1341.4 430.5L1334.4 423.5Z"/>
<path d="M1339.7 397.4L1346.7 404.4L1339.7 411.4L1332.7 404.4Z"/>
<path d="M1332.0 403.2L1339.0 410.2L1332.0 417.2L1325.0 410.2Z"/>
<path d="M1340.1 452.5L1347.1 459.5L1340.1 466.5L1333.1 459.5Z"/>
</g>
<g fill="#22C3E8" stroke="#06121a" stroke-width="1.5">
<path d="M1435.6 387.5L1442.6 394.5L1435.6 401.5L1428.6 394.5Z"/>
<path d="M1425.5 367.6L1432.5 374.6L1425.5 381.6L1418.5 374.6Z"/>
<path d="M1429.1 359.1L1436.1 366.1L1429.1 373.1L1422.1 366.1Z"/>
<path d="M1429.8 348.3L1436.8 355.3L1429.8 362.3L1422.8 355.3Z"/>
<path d="M1419.9 255.0L1426.9 262.0L1419.9 269.0L1412.9 262.0Z"/>
<path d="M1417.7 330.5L1424.7 337.5L1417.7 344.5L1410.7 337.5Z"/>
<path d="M1414.5 348.1L1421.5 355.1L1414.5 362.1L1407.5 355.1Z"/>
<path d="M1411.9 464.9L1418.9 471.9L1411.9 478.9L1404.9 471.9Z"/>
<path d="M1427.6 425.8L1434.6 432.8L1427.6 439.8L1420.6 432.8Z"/>
<path d="M1425.9 474.2L1432.9 481.2L1425.9 488.2L1418.9 481.2Z"/>
<path d="M1415.0 450.8L1422.0 457.8L1415.0 464.8L1408.0 457.8Z"/>
<path d="M1430.7 454.9L1437.7 461.9L1430.7 468.9L1423.7 461.9Z"/>
<path d="M1415.8 477.7L1422.8 484.7L1415.8 491.7L1408.8 484.7Z"/>
<path d="M1416.9 247.2L1423.9 254.2L1416.9 261.2L1409.9 254.2Z"/>
<path d="M1416.9 470.0L1423.9 477.0L1416.9 484.0L1409.9 477.0Z"/>
<path d="M1426.7 379.7L1433.7 386.7L1426.7 393.7L1419.7 386.7Z"/>
<path d="M1424.3 438.5L1431.3 445.5L1424.3 452.5L1417.3 445.5Z"/>
<path d="M1408.4 437.4L1415.4 444.4L1408.4 451.4L1401.4 444.4Z"/>
<path d="M1415.7 394.3L1422.7 401.3L1415.7 408.3L1408.7 401.3Z"/>
<path d="M1413.8 406.7L1420.8 413.7L1413.8 420.7L1406.8 413.7Z"/>
<path d="M1419.2 360.9L1426.2 367.9L1419.2 374.9L1412.2 367.9Z"/>
<path d="M1435.1 381.3L1442.1 388.3L1435.1 395.3L1428.1 388.3Z"/>
<path d="M1407.0 379.3L1414.0 386.3L1407.0 393.3L1400.0 386.3Z"/>
<path d="M1419.5 431.8L1426.5 438.8L1419.5 445.8L1412.5 438.8Z"/>
<path d="M1417.0 380.7L1424.0 387.7L1417.0 394.7L1410.0 387.7Z"/>
<path d="M1408.3 355.1L1415.3 362.1L1408.3 369.1L1401.3 362.1Z"/>
<path d="M1408.7 444.6L1415.7 451.6L1408.7 458.6L1401.7 451.6Z"/>
<path d="M1408.3 369.0L1415.3 376.0L1408.3 383.0L1401.3 376.0Z"/>
<path d="M1426.0 342.6L1433.0 349.6L1426.0 356.6L1419.0 349.6Z"/>
<path d="M1409.2 457.5L1416.2 464.5L1409.2 471.5L1402.2 464.5Z"/>
<path d="M1419.9 278.5L1426.9 285.5L1419.9 292.5L1412.9 285.5Z"/>
<path d="M1429.2 432.3L1436.2 439.3L1429.2 446.3L1422.2 439.3Z"/>
<path d="M1421.9 323.4L1428.9 330.4L1421.9 337.4L1414.9 330.4Z"/>
<path d="M1421.3 322.8L1428.3 329.8L1421.3 336.8L1414.3 329.8Z"/>
<path d="M1420.5 457.6L1427.5 464.6L1420.5 471.6L1413.5 464.6Z"/>
<path d="M1426.4 335.6L1433.4 342.6L1426.4 349.6L1419.4 342.6Z"/>
<path d="M1425.1 348.5L1432.1 355.5L1425.1 362.5L1418.1 355.5Z"/>
<path d="M1405.5 407.4L1412.5 414.4L1405.5 421.4L1398.5 414.4Z"/>
<path d="M1427.9 413.4L1434.9 420.4L1427.9 427.4L1420.9 420.4Z"/>
<path d="M1434.3 393.3L1441.3 400.3L1434.3 407.3L1427.3 400.3Z"/>
<path d="M1429.9 355.4L1436.9 362.4L1429.9 369.4L1422.9 362.4Z"/>
<path d="M1412.0 384.4L1419.0 391.4L1412.0 398.4L1405.0 391.4Z"/>
<path d="M1424.3 392.2L1431.3 399.2L1424.3 406.2L1417.3 399.2Z"/>
<path d="M1421.6 355.4L1428.6 362.4L1421.6 369.4L1414.6 362.4Z"/>
<path d="M1417.7 316.6L1424.7 323.6L1417.7 330.6L1410.7 323.6Z"/>
<path d="M1406.9 398.1L1413.9 405.1L1406.9 412.1L1399.9 405.1Z"/>
<path d="M1418.5 417.1L1425.5 424.1L1418.5 431.1L1411.5 424.1Z"/>
<path d="M1416.4 422.9L1423.4 429.9L1416.4 436.9L1409.4 429.9Z"/>
<path d="M1407.2 420.1L1414.2 427.1L1407.2 434.1L1400.2 427.1Z"/>
<path d="M1417.9 409.9L1424.9 416.9L1417.9 423.9L1410.9 416.9Z"/>
<path d="M1431.2 443.2L1438.2 450.2L1431.2 457.2L1424.2 450.2Z"/>
<path d="M1419.9 297.5L1426.9 304.5L1419.9 311.5L1412.9 304.5Z"/>
<path d="M1433.7 365.6L1440.7 372.6L1433.7 379.6L1426.7 372.6Z"/>
<path d="M1421.6 374.5L1428.6 381.5L1421.6 388.5L1414.6 381.5Z"/>
<path d="M1422.7 465.0L1429.7 472.0L1422.7 479.0L1415.7 472.0Z"/>
<path d="M1432.2 361.9L1439.2 368.9L1432.2 375.9L1425.2 368.9Z"/>
<path d="M1428.4 375.1L1435.4 382.1L1428.4 389.1L1421.4 382.1Z"/>
<path d="M1417.7 484.2L1424.7 491.2L1417.7 498.2L1410.7 491.2Z"/>
<path d="M1411.3 359.7L1418.3 366.7L1411.3 373.7L1404.3 366.7Z"/>
<path d="M1426.9 405.4L1433.9 412.4L1426.9 419.4L1419.9 412.4Z"/>
<path d="M1413.3 410.3L1420.3 417.3L1413.3 424.3L1406.3 417.3Z"/>
<path d="M1408.1 432.8L1415.1 439.8L1408.1 446.8L1401.1 439.8Z"/>
<path d="M1419.3 443.5L1426.3 450.5L1419.3 457.5L1412.3 450.5Z"/>
<path d="M1428.5 469.7L1435.5 476.7L1428.5 483.7L1421.5 476.7Z"/>
<path d="M1431.4 398.4L1438.4 405.4L1431.4 412.4L1424.4 405.4Z"/>
<path d="M1406.5 392.2L1413.5 399.2L1406.5 406.2L1399.5 399.2Z"/>
<path d="M1411.6 436.9L1418.6 443.9L1411.6 450.9L1404.6 443.9Z"/>
<path d="M1425.1 481.2L1432.1 488.2L1425.1 495.2L1418.1 488.2Z"/>
<path d="M1417.0 398.5L1424.0 405.5L1417.0 412.5L1410.0 405.5Z"/>
<path d="M1419.9 267.4L1426.9 274.4L1419.9 281.4L1412.9 274.4Z"/>
<path d="M1422.9 248.0L1429.9 255.0L1422.9 262.0L1415.9 255.0Z"/>
<path d="M1434.3 407.2L1441.3 414.2L1434.3 421.2L1427.3 414.2Z"/>
<path d="M1409.8 469.7L1416.8 476.7L1409.8 483.7L1402.8 476.7Z"/>
<path d="M1432.6 416.5L1439.6 423.5L1432.6 430.5L1425.6 423.5Z"/>
<path d="M1420.4 333.3L1427.4 340.3L1420.4 347.3L1413.4 340.3Z"/>
<path d="M1423.5 448.4L1430.5 455.4L1423.5 462.4L1416.5 455.4Z"/>
<path d="M1408.3 373.9L1415.3 380.9L1408.3 387.9L1401.3 380.9Z"/>
<path d="M1424.5 330.2L1431.5 337.2L1424.5 344.2L1417.5 337.2Z"/>
<path d="M1412.9 340.1L1419.9 347.1L1412.9 354.1L1405.9 347.1Z"/>
<path d="M1419.9 288.6L1426.9 295.6L1419.9 302.6L1412.9 295.6Z"/>
<path d="M1419.2 386.9L1426.2 393.9L1419.2 400.9L1412.2 393.9Z"/>
<path d="M1422.3 315.3L1429.3 322.3L1422.3 329.3L1415.3 322.3Z"/>
<path d="M1413.1 368.8L1420.1 375.8L1413.1 382.8L1406.1 375.8Z"/>
<path d="M1428.6 384.4L1435.6 391.4L1428.6 398.4L1421.6 391.4Z"/>
<path d="M1419.1 340.1L1426.1 347.1L1419.1 354.1L1412.1 347.1Z"/>
</g>
<g fill="#22C3E8" stroke="#06121a" stroke-width="1.5">
<path d="M1490.5 401.1L1497.5 408.1L1490.5 415.1L1483.5 408.1Z"/>
<path d="M1509.8 432.5L1516.8 439.5L1509.8 446.5L1502.8 439.5Z"/>
<path d="M1488.9 472.8L1495.9 479.8L1488.9 486.8L1481.9 479.8Z"/>
<path d="M1488.3 441.3L1495.3 448.3L1488.3 455.3L1481.3 448.3Z"/>
<path d="M1495.2 377.0L1502.2 384.0L1495.2 391.0L1488.2 384.0Z"/>
<path d="M1505.4 452.3L1512.4 459.3L1505.4 466.3L1498.4 459.3Z"/>
<path d="M1507.1 368.8L1514.1 375.8L1507.1 382.8L1500.1 375.8Z"/>
<path d="M1497.3 297.5L1504.3 304.5L1497.3 311.5L1490.3 304.5Z"/>
<path d="M1506.6 376.6L1513.6 383.6L1506.6 390.6L1499.6 383.6Z"/>
<path d="M1500.3 325.6L1507.3 332.6L1500.3 339.6L1493.3 332.6Z"/>
<path d="M1506.3 387.7L1513.3 394.7L1506.3 401.7L1499.3 394.7Z"/>
<path d="M1494.5 421.1L1501.5 428.1L1494.5 435.1L1487.5 428.1Z"/>
<path d="M1511.4 414.8L1518.4 421.8L1511.4 428.8L1504.4 421.8Z"/>
<path d="M1496.9 371.0L1503.9 378.0L1496.9 385.0L1489.9 378.0Z"/>
<path d="M1492.9 458.9L1499.9 465.9L1492.9 472.9L1485.9 465.9Z"/>
<path d="M1500.8 395.2L1507.8 402.2L1500.8 409.2L1493.8 402.2Z"/>
<path d="M1497.4 413.0L1504.4 420.0L1497.4 427.0L1490.4 420.0Z"/>
<path d="M1498.6 477.2L1505.6 484.2L1498.6 491.2L1491.6 484.2Z"/>
<path d="M1502.5 445.5L1509.5 452.5L1502.5 459.5L1495.5 452.5Z"/>
<path d="M1508.6 383.1L1515.6 390.1L1508.6 397.1L1501.6 390.1Z"/>
<path d="M1497.3 246.1L1504.3 253.1L1497.3 260.1L1490.3 253.1Z"/>
<path d="M1498.8 325.7L1505.8 332.7L1498.8 339.7L1491.8 332.7Z"/>
<path d="M1497.1 472.0L1504.1 479.0L1497.1 486.0L1490.1 479.0Z"/>
<path d="M1487.2 415.9L1494.2 422.9L1487.2 429.9L1480.2 422.9Z"/>
<path d="M1493.3 406.8L1500.3 413.8L1493.3 420.8L1486.3 413.8Z"/>
<path d="M1484.7 432.4L1491.7 439.4L1484.7 446.4L1477.7 439.4Z"/>
<path d="M1491.2 383.3L1498.2 390.3L1491.2 397.3L1484.2 390.3Z"/>
<path d="M1485.1 452.3L1492.1 459.3L1485.1 466.3L1478.1 459.3Z"/>
<path d="M1498.6 428.4L1505.6 435.4L1498.6 442.4L1491.6 435.4Z"/>
<path d="M1484.9 381.9L1491.9 388.9L1484.9 395.9L1477.9 388.9Z"/>
<path d="M1502.1 461.2L1509.1 468.2L1502.1 475.2L1495.1 468.2Z"/>
<path d="M1510.9 460.9L1517.9 467.9L1510.9 474.9L1503.9 467.9Z"/>
<path d="M1500.0 452.6L1507.0 459.6L1500.0 466.6L1493.0 459.6Z"/>
<path d="M1499.2 336.8L1506.2 343.8L1499.2 350.8L1492.2 343.8Z"/>
<path d="M1491.6 362.9L1498.6 369.9L1491.6 376.9L1484.6 369.9Z"/>
<path d="M1492.4 480.7L1499.4 487.7L1492.4 494.7L1485.4 487.7Z"/>
<path d="M1495.2 396.6L1502.2 403.6L1495.2 410.6L1488.2 403.6Z"/>
<path d="M1492.2 339.4L1499.2 346.4L1492.2 353.4L1485.2 346.4Z"/>
<path d="M1496.9 401.1L1503.9 408.1L1496.9 415.1L1489.9 408.1Z"/>
<path d="M1501.5 421.3L1508.5 428.3L1501.5 435.3L1494.5 428.3Z"/>
<path d="M1493.8 350.4L1500.8 357.4L1493.8 364.4L1486.8 357.4Z"/>
<path d="M1506.1 427.9L1513.1 434.9L1506.1 441.9L1499.1 434.9Z"/>
<path d="M1507.3 403.5L1514.3 410.5L1507.3 417.5L1500.3 410.5Z"/>
<path d="M1503.1 364.3L1510.1 371.3L1503.1 378.3L1496.1 371.3Z"/>
<path d="M1485.1 377.1L1492.1 384.1L1485.1 391.1L1478.1 384.1Z"/>
<path d="M1484.3 448.2L1491.3 455.2L1484.3 462.2L1477.3 455.2Z"/>
<path d="M1483.2 422.9L1490.2 429.9L1483.2 436.9L1476.2 429.9Z"/>
<path d="M1487.7 362.8L1494.7 369.8L1487.7 376.8L1480.7 369.8Z"/>
<path d="M1511.4 446.2L1518.4 453.2L1511.4 460.2L1504.4 453.2Z"/>
<path d="M1493.1 355.8L1500.1 362.8L1493.1 369.8L1486.1 362.8Z"/>
<path d="M1488.9 425.9L1495.9 432.9L1488.9 439.9L1481.9 432.9Z"/>
<path d="M1497.3 275.2L1504.3 282.2L1497.3 289.2L1490.3 282.2Z"/>
<path d="M1511.2 421.3L1518.2 428.3L1511.2 435.3L1504.2 428.3Z"/>
<path d="M1499.4 320.0L1506.4 327.0L1499.4 334.0L1492.4 327.0Z"/>
<path d="M1504.3 355.9L1511.3 362.9L1504.3 369.9L1497.3 362.9Z"/>
<path d="M1511.4 393.9L1518.4 400.9L1511.4 407.9L1504.4 400.9Z"/>
<path d="M1511.4 409.9L1518.4 416.9L1511.4 423.9L1504.4 416.9Z"/>
<path d="M1499.8 432.5L1506.8 439.5L1499.8 446.5L1492.8 439.5Z"/>
<path d="M1497.3 284.1L1504.3 291.1L1497.3 298.1L1490.3 291.1Z"/>
<path d="M1501.2 466.2L1508.2 473.2L1501.2 480.2L1494.2 473.2Z"/>
<path d="M1485.2 457.9L1492.2 464.9L1485.2 471.9L1478.2 464.9Z"/>
<path d="M1503.0 346.1L1510.0 353.1L1503.0 360.1L1496.0 353.1Z"/>
<path d="M1495.5 332.7L1502.5 339.7L1495.5 346.7L1488.5 339.7Z"/>
<path d="M1484.5 370.6L1491.5 377.6L1484.5 384.6L1477.5 377.6Z"/>
<path d="M1494.8 440.4L1501.8 447.4L1494.8 454.4L1487.8 447.4Z"/>
<path d="M1502.3 382.1L1509.3 389.1L1502.3 396.1L1495.3 389.1Z"/>
<path d="M1491.5 345.8L1498.5 352.8L1491.5 359.8L1484.5 352.8Z"/>
<path d="M1489.4 464.3L1496.4 471.3L1489.4 478.3L1482.4 471.3Z"/>
<path d="M1505.6 473.7L1512.6 480.7L1505.6 487.7L1498.6 480.7Z"/>
<path d="M1497.3 127.6L1504.3 134.6L1497.3 141.6L1490.3 134.6Z"/>
<path d="M1494.1 435.4L1501.1 442.4L1494.1 449.4L1487.1 442.4Z"/>
<path d="M1492.1 448.4L1499.1 455.4L1492.1 462.4L1485.1 455.4Z"/>
<path d="M1496.0 389.3L1503.0 396.3L1496.0 403.3L1489.0 396.3Z"/>
<path d="M1486.5 389.4L1493.5 396.4L1486.5 403.4L1479.5 396.4Z"/>
<path d="M1504.7 407.3L1511.7 414.3L1504.7 421.3L1497.7 414.3Z"/>
<path d="M1507.7 438.7L1514.7 445.7L1507.7 452.7L1500.7 445.7Z"/>
<path d="M1483.2 397.4L1490.2 404.4L1483.2 411.4L1476.2 404.4Z"/>
<path d="M1483.2 408.8L1490.2 415.8L1483.2 422.8L1476.2 415.8Z"/>
<path d="M1499.4 331.2L1506.4 338.2L1499.4 345.2L1492.4 338.2Z"/>
<path d="M1506.7 415.3L1513.7 422.3L1506.7 429.3L1499.7 422.3Z"/>
</g>
<g fill="#C993EE" stroke="#1a0a26" stroke-width="1.5">
<rect x="1588.0" y="383.6" width="11.2" height="11.2"/>
<rect x="1604.4" y="420.5" width="11.2" height="11.2"/>
<rect x="1600.7" y="381.7" width="11.2" height="11.2"/>
<rect x="1611.6" y="419.6" width="11.2" height="11.2"/>
<rect x="1596.1" y="333.5" width="11.2" height="11.2"/>
<rect x="1595.2" y="433.5" width="11.2" height="11.2"/>
<rect x="1582.5" y="448.8" width="11.2" height="11.2"/>
<rect x="1603.9" y="406.1" width="11.2" height="11.2"/>
<rect x="1576.2" y="413.6" width="11.2" height="11.2"/>
<rect x="1601.6" y="390.5" width="11.2" height="11.2"/>
<rect x="1611.8" y="429.7" width="11.2" height="11.2"/>
<rect x="1605.4" y="433.3" width="11.2" height="11.2"/>
<rect x="1591.5" y="473.9" width="11.2" height="11.2"/>
<rect x="1589.3" y="411.6" width="11.2" height="11.2"/>
<rect x="1595.7" y="322.6" width="11.2" height="11.2"/>
<rect x="1594.9" y="207.2" width="11.2" height="11.2"/>
<rect x="1594.9" y="118.5" width="11.2" height="11.2"/>
<rect x="1597.5" y="450.3" width="11.2" height="11.2"/>
<rect x="1594.7" y="287.7" width="11.2" height="11.2"/>
<rect x="1598.8" y="464.5" width="11.2" height="11.2"/>
<rect x="1591.9" y="465.9" width="11.2" height="11.2"/>
<rect x="1576.2" y="429.5" width="11.2" height="11.2"/>
<rect x="1608.7" y="398.3" width="11.2" height="11.2"/>
<rect x="1597.7" y="427.9" width="11.2" height="11.2"/>
<rect x="1594.9" y="172.3" width="11.2" height="11.2"/>
<rect x="1583.1" y="405.6" width="11.2" height="11.2"/>
<rect x="1584.1" y="433.5" width="11.2" height="11.2"/>
<rect x="1592.3" y="390.0" width="11.2" height="11.2"/>
<rect x="1594.9" y="217.7" width="11.2" height="11.2"/>
<rect x="1607.9" y="457.8" width="11.2" height="11.2"/>
<rect x="1583.6" y="389.7" width="11.2" height="11.2"/>
<rect x="1595.3" y="315.2" width="11.2" height="11.2"/>
<rect x="1594.6" y="403.9" width="11.2" height="11.2"/>
<rect x="1601.6" y="396.5" width="11.2" height="11.2"/>
<rect x="1594.1" y="301.8" width="11.2" height="11.2"/>
<rect x="1594.9" y="504.1" width="11.2" height="11.2"/>
<rect x="1589.2" y="426.8" width="11.2" height="11.2"/>
<rect x="1590.2" y="441.2" width="11.2" height="11.2"/>
<rect x="1594.9" y="130.4" width="11.2" height="11.2"/>
<rect x="1593.1" y="419.4" width="11.2" height="11.2"/>
<rect x="1612.7" y="414.7" width="11.2" height="11.2"/>
<rect x="1594.4" y="294.7" width="11.2" height="11.2"/>
<rect x="1600.0" y="411.6" width="11.2" height="11.2"/>
<rect x="1594.7" y="277.8" width="11.2" height="11.2"/>
<rect x="1594.9" y="242.7" width="11.2" height="11.2"/>
<rect x="1599.0" y="443.9" width="11.2" height="11.2"/>
<rect x="1581.3" y="396.4" width="11.2" height="11.2"/>
<rect x="1597.7" y="471.7" width="11.2" height="11.2"/>
<rect x="1594.7" y="377.0" width="11.2" height="11.2"/>
<rect x="1591.5" y="368.9" width="11.2" height="11.2"/>
<rect x="1598.3" y="368.7" width="11.2" height="11.2"/>
<rect x="1596.2" y="339.0" width="11.2" height="11.2"/>
<rect x="1603.2" y="451.0" width="11.2" height="11.2"/>
<rect x="1588.0" y="398.3" width="11.2" height="11.2"/>
<rect x="1581.9" y="459.2" width="11.2" height="11.2"/>
<rect x="1594.9" y="142.2" width="11.2" height="11.2"/>
<rect x="1595.7" y="353.7" width="11.2" height="11.2"/>
<rect x="1578.4" y="440.8" width="11.2" height="11.2"/>
<rect x="1581.0" y="418.9" width="11.2" height="11.2"/>
<rect x="1613.6" y="444.5" width="11.2" height="11.2"/>
<rect x="1594.3" y="345.7" width="11.2" height="11.2"/>
<rect x="1591.5" y="377.5" width="11.2" height="11.2"/>
<rect x="1578.9" y="450.7" width="11.2" height="11.2"/>
<rect x="1596.5" y="359.5" width="11.2" height="11.2"/>
<rect x="1595.4" y="309.0" width="11.2" height="11.2"/>
<rect x="1592.9" y="455.5" width="11.2" height="11.2"/>
</g>
<g fill="#C993EE" stroke="#1a0a26" stroke-width="1.5">
<rect x="1669.4" y="422.1" width="11.2" height="11.2"/>
<rect x="1671.8" y="324.5" width="11.2" height="11.2"/>
<rect x="1672.4" y="267.8" width="11.2" height="11.2"/>
<rect x="1670.1" y="354.5" width="11.2" height="11.2"/>
<rect x="1665.8" y="362.8" width="11.2" height="11.2"/>
<rect x="1671.8" y="490.0" width="11.2" height="11.2"/>
<rect x="1664.8" y="430.8" width="11.2" height="11.2"/>
<rect x="1672.2" y="311.7" width="11.2" height="11.2"/>
<rect x="1672.6" y="289.4" width="11.2" height="11.2"/>
<rect x="1672.2" y="223.0" width="11.2" height="11.2"/>
<rect x="1672.4" y="260.2" width="11.2" height="11.2"/>
<rect x="1671.6" y="295.2" width="11.2" height="11.2"/>
<rect x="1672.9" y="391.5" width="11.2" height="11.2"/>
<rect x="1673.5" y="271.7" width="11.2" height="11.2"/>
<rect x="1672.2" y="207.8" width="11.2" height="11.2"/>
<rect x="1676.1" y="339.0" width="11.2" height="11.2"/>
<rect x="1669.7" y="451.4" width="11.2" height="11.2"/>
<rect x="1672.2" y="302.0" width="11.2" height="11.2"/>
<rect x="1683.4" y="389.9" width="11.2" height="11.2"/>
<rect x="1662.9" y="393.8" width="11.2" height="11.2"/>
<rect x="1677.0" y="346.7" width="11.2" height="11.2"/>
<rect x="1674.2" y="436.1" width="11.2" height="11.2"/>
<rect x="1656.1" y="451.5" width="11.2" height="11.2"/>
<rect x="1664.3" y="399.6" width="11.2" height="11.2"/>
<rect x="1672.2" y="234.0" width="11.2" height="11.2"/>
<rect x="1673.8" y="473.9" width="11.2" height="11.2"/>
<rect x="1663.9" y="376.5" width="11.2" height="11.2"/>
<rect x="1682.2" y="437.3" width="11.2" height="11.2"/>
<rect x="1681.4" y="407.4" width="11.2" height="11.2"/>
<rect x="1667.3" y="348.0" width="11.2" height="11.2"/>
<rect x="1675.9" y="399.9" width="11.2" height="11.2"/>
<rect x="1671.2" y="369.0" width="11.2" height="11.2"/>
<rect x="1672.9" y="496.3" width="11.2" height="11.2"/>
<rect x="1664.3" y="407.6" width="11.2" height="11.2"/>
<rect x="1662.2" y="436.5" width="11.2" height="11.2"/>
<rect x="1677.8" y="355.1" width="11.2" height="11.2"/>
<rect x="1675.5" y="334.2" width="11.2" height="11.2"/>
<rect x="1670.0" y="383.8" width="11.2" height="11.2"/>
<rect x="1675.9" y="386.0" width="11.2" height="11.2"/>
<rect x="1667.6" y="441.8" width="11.2" height="11.2"/>
<rect x="1675.8" y="428.4" width="11.2" height="11.2"/>
<rect x="1666.3" y="459.5" width="11.2" height="11.2"/>
<rect x="1680.0" y="449.3" width="11.2" height="11.2"/>
<rect x="1680.4" y="443.0" width="11.2" height="11.2"/>
<rect x="1685.9" y="450.7" width="11.2" height="11.2"/>
<rect x="1677.4" y="457.7" width="11.2" height="11.2"/>
<rect x="1676.4" y="361.8" width="11.2" height="11.2"/>
<rect x="1668.9" y="334.5" width="11.2" height="11.2"/>
<rect x="1671.4" y="501.5" width="11.2" height="11.2"/>
<rect x="1673.7" y="414.6" width="11.2" height="11.2"/>
<rect x="1672.7" y="339.4" width="11.2" height="11.2"/>
<rect x="1672.8" y="319.5" width="11.2" height="11.2"/>
<rect x="1677.1" y="378.4" width="11.2" height="11.2"/>
<rect x="1676.0" y="413.9" width="11.2" height="11.2"/>
<rect x="1672.3" y="465.6" width="11.2" height="11.2"/>
<rect x="1672.7" y="280.5" width="11.2" height="11.2"/>
<rect x="1673.2" y="481.4" width="11.2" height="11.2"/>
<rect x="1673.2" y="407.7" width="11.2" height="11.2"/>
<rect x="1677.4" y="422.0" width="11.2" height="11.2"/>
</g>
<g fill="#C993EE" stroke="#1a0a26" stroke-width="1.5">
<rect x="1746.6" y="315.4" width="11.2" height="11.2"/>
<rect x="1743.6" y="382.7" width="11.2" height="11.2"/>
<rect x="1742.0" y="367.7" width="11.2" height="11.2"/>
<rect x="1742.2" y="396.7" width="11.2" height="11.2"/>
<rect x="1747.4" y="396.3" width="11.2" height="11.2"/>
<rect x="1758.1" y="424.4" width="11.2" height="11.2"/>
<rect x="1741.5" y="352.2" width="11.2" height="11.2"/>
<rect x="1749.5" y="209.9" width="11.2" height="11.2"/>
<rect x="1746.9" y="416.2" width="11.2" height="11.2"/>
<rect x="1756.4" y="308.3" width="11.2" height="11.2"/>
<rect x="1749.5" y="228.2" width="11.2" height="11.2"/>
<rect x="1749.5" y="161.3" width="11.2" height="11.2"/>
<rect x="1744.6" y="306.8" width="11.2" height="11.2"/>
<rect x="1747.5" y="298.0" width="11.2" height="11.2"/>
<rect x="1755.9" y="323.1" width="11.2" height="11.2"/>
<rect x="1746.0" y="464.4" width="11.2" height="11.2"/>
<rect x="1760.6" y="404.9" width="11.2" height="11.2"/>
<rect x="1744.5" y="113.3" width="11.2" height="11.2"/>
<rect x="1757.1" y="335.3" width="11.2" height="11.2"/>
<rect x="1758.8" y="395.0" width="11.2" height="11.2"/>
<rect x="1756.4" y="455.5" width="11.2" height="11.2"/>
<rect x="1746.0" y="374.4" width="11.2" height="11.2"/>
<rect x="1756.0" y="418.3" width="11.2" height="11.2"/>
<rect x="1750.8" y="283.1" width="11.2" height="11.2"/>
<rect x="1741.8" y="337.5" width="11.2" height="11.2"/>
<rect x="1744.0" y="402.7" width="11.2" height="11.2"/>
<rect x="1749.5" y="200.7" width="11.2" height="11.2"/>
<rect x="1757.8" y="439.2" width="11.2" height="11.2"/>
<rect x="1750.7" y="477.1" width="11.2" height="11.2"/>
<rect x="1758.8" y="403.6" width="11.2" height="11.2"/>
<rect x="1752.7" y="432.0" width="11.2" height="11.2"/>
<rect x="1742.1" y="323.3" width="11.2" height="11.2"/>
<rect x="1749.5" y="237.4" width="11.2" height="11.2"/>
<rect x="1754.2" y="299.9" width="11.2" height="11.2"/>
<rect x="1752.9" y="359.2" width="11.2" height="11.2"/>
<rect x="1742.9" y="468.4" width="11.2" height="11.2"/>
<rect x="1743.0" y="358.5" width="11.2" height="11.2"/>
<rect x="1762.7" y="411.8" width="11.2" height="11.2"/>
<rect x="1753.8" y="315.5" width="11.2" height="11.2"/>
<rect x="1752.5" y="165.2" width="11.2" height="11.2"/>
<rect x="1744.5" y="171.3" width="11.2" height="11.2"/>
<rect x="1748.7" y="345.8" width="11.2" height="11.2"/>
<rect x="1741.3" y="409.6" width="11.2" height="11.2"/>
<rect x="1740.8" y="427.4" width="11.2" height="11.2"/>
<rect x="1748.4" y="425.6" width="11.2" height="11.2"/>
<rect x="1748.9" y="264.4" width="11.2" height="11.2"/>
<rect x="1752.8" y="389.1" width="11.2" height="11.2"/>
<rect x="1748.6" y="329.3" width="11.2" height="11.2"/>
<rect x="1755.4" y="367.5" width="11.2" height="11.2"/>
<rect x="1751.1" y="292.6" width="11.2" height="11.2"/>
<rect x="1745.8" y="484.3" width="11.2" height="11.2"/>
<rect x="1752.5" y="113.3" width="11.2" height="11.2"/>
<rect x="1738.3" y="418.0" width="11.2" height="11.2"/>
<rect x="1748.7" y="448.2" width="11.2" height="11.2"/>
<rect x="1747.9" y="493.0" width="11.2" height="11.2"/>
<rect x="1749.6" y="269.3" width="11.2" height="11.2"/>
<rect x="1752.3" y="461.8" width="11.2" height="11.2"/>
<rect x="1753.3" y="448.6" width="11.2" height="11.2"/>
<rect x="1754.7" y="353.2" width="11.2" height="11.2"/>
<rect x="1755.9" y="469.7" width="11.2" height="11.2"/>
<rect x="1745.9" y="441.2" width="11.2" height="11.2"/>
<rect x="1742.3" y="455.1" width="11.2" height="11.2"/>
<rect x="1754.8" y="410.5" width="11.2" height="11.2"/>
<rect x="1741.5" y="217.7" width="11.2" height="11.2"/>
<rect x="1733.9" y="412.5" width="11.2" height="11.2"/>
<rect x="1749.5" y="245.3" width="11.2" height="11.2"/>
<rect x="1757.9" y="382.7" width="11.2" height="11.2"/>
<rect x="1751.8" y="483.8" width="11.2" height="11.2"/>
<rect x="1750.1" y="276.5" width="11.2" height="11.2"/>
<rect x="1754.5" y="217.7" width="11.2" height="11.2"/>
</g>
<g fill="#C993EE" stroke="#1a0a26" stroke-width="1.5">
<rect x="1818.7" y="378.3" width="11.2" height="11.2"/>
<rect x="1830.6" y="481.2" width="11.2" height="11.2"/>
<rect x="1834.7" y="240.0" width="11.2" height="11.2"/>
<rect x="1818.0" y="341.4" width="11.2" height="11.2"/>
<rect x="1831.4" y="504.9" width="11.2" height="11.2"/>
<rect x="1827.1" y="341.9" width="11.2" height="11.2"/>
<rect x="1833.6" y="363.4" width="11.2" height="11.2"/>
<rect x="1838.3" y="362.4" width="11.2" height="11.2"/>
<rect x="1819.0" y="408.7" width="11.2" height="11.2"/>
<rect x="1819.9" y="384.6" width="11.2" height="11.2"/>
<rect x="1821.2" y="497.1" width="11.2" height="11.2"/>
<rect x="1819.9" y="326.8" width="11.2" height="11.2"/>
<rect x="1840.6" y="386.5" width="11.2" height="11.2"/>
<rect x="1823.6" y="376.2" width="11.2" height="11.2"/>
<rect x="1834.5" y="384.3" width="11.2" height="11.2"/>
<rect x="1814.9" y="445.8" width="11.2" height="11.2"/>
<rect x="1835.2" y="473.0" width="11.2" height="11.2"/>
<rect x="1819.6" y="334.3" width="11.2" height="11.2"/>
<rect x="1837.6" y="378.3" width="11.2" height="11.2"/>
<rect x="1830.4" y="437.8" width="11.2" height="11.2"/>
<rect x="1837.4" y="356.0" width="11.2" height="11.2"/>
<rect x="1815.1" y="400.5" width="11.2" height="11.2"/>
<rect x="1827.8" y="406.9" width="11.2" height="11.2"/>
<rect x="1835.8" y="429.6" width="11.2" height="11.2"/>
<rect x="1826.7" y="195.9" width="11.2" height="11.2"/>
<rect x="1821.9" y="450.3" width="11.2" height="11.2"/>
<rect x="1820.7" y="246.9" width="11.2" height="11.2"/>
<rect x="1821.2" y="346.2" width="11.2" height="11.2"/>
<rect x="1838.4" y="397.9" width="11.2" height="11.2"/>
<rect x="1823.9" y="391.8" width="11.2" height="11.2"/>
<rect x="1836.4" y="347.5" width="11.2" height="11.2"/>
<rect x="1829.9" y="452.8" width="11.2" height="11.2"/>
<rect x="1824.2" y="317.0" width="11.2" height="11.2"/>
<rect x="1824.0" y="334.6" width="11.2" height="11.2"/>
<rect x="1828.2" y="496.4" width="11.2" height="11.2"/>
<rect x="1828.3" y="429.7" width="11.2" height="11.2"/>
<rect x="1829.6" y="326.6" width="11.2" height="11.2"/>
<rect x="1822.9" y="421.9" width="11.2" height="11.2"/>
<rect x="1840.3" y="442.2" width="11.2" height="11.2"/>
<rect x="1819.0" y="457.9" width="11.2" height="11.2"/>
<rect x="1826.7" y="232.4" width="11.2" height="11.2"/>
<rect x="1837.6" y="370.7" width="11.2" height="11.2"/>
<rect x="1815.4" y="435.3" width="11.2" height="11.2"/>
<rect x="1816.6" y="354.9" width="11.2" height="11.2"/>
<rect x="1827.6" y="369.4" width="11.2" height="11.2"/>
<rect x="1831.4" y="311.6" width="11.2" height="11.2"/>
<rect x="1826.6" y="401.0" width="11.2" height="11.2"/>
<rect x="1812.0" y="382.7" width="11.2" height="11.2"/>
<rect x="1824.6" y="310.4" width="11.2" height="11.2"/>
<rect x="1827.6" y="353.4" width="11.2" height="11.2"/>
<rect x="1829.7" y="257.4" width="11.2" height="11.2"/>
<rect x="1822.1" y="501.8" width="11.2" height="11.2"/>
<rect x="1821.1" y="464.4" width="11.2" height="11.2"/>
<rect x="1836.1" y="458.7" width="11.2" height="11.2"/>
<rect x="1820.1" y="472.4" width="11.2" height="11.2"/>
<rect x="1824.1" y="457.9" width="11.2" height="11.2"/>
<rect x="1834.4" y="412.4" width="11.2" height="11.2"/>
<rect x="1826.7" y="112.2" width="11.2" height="11.2"/>
<rect x="1818.0" y="392.4" width="11.2" height="11.2"/>
<rect x="1833.3" y="486.6" width="11.2" height="11.2"/>
<rect x="1826.7" y="160.0" width="11.2" height="11.2"/>
<rect x="1820.2" y="489.3" width="11.2" height="11.2"/>
<rect x="1835.3" y="338.3" width="11.2" height="11.2"/>
<rect x="1823.7" y="287.4" width="11.2" height="11.2"/>
<rect x="1815.9" y="369.9" width="11.2" height="11.2"/>
<rect x="1829.3" y="346.5" width="11.2" height="11.2"/>
<rect x="1828.7" y="444.4" width="11.2" height="11.2"/>
<rect x="1818.2" y="429.9" width="11.2" height="11.2"/>
<rect x="1829.1" y="318.4" width="11.2" height="11.2"/>
<rect x="1821.5" y="436.5" width="11.2" height="11.2"/>
<rect x="1819.0" y="412.6" width="11.2" height="11.2"/>
<rect x="1826.7" y="275.4" width="11.2" height="11.2"/>
<rect x="1818.6" y="364.5" width="11.2" height="11.2"/>
<rect x="1837.6" y="390.3" width="11.2" height="11.2"/>
<rect x="1829.7" y="464.3" width="11.2" height="11.2"/>
</g>
<g fill="#C993EE" stroke="#1a0a26" stroke-width="1.5">
<rect x="1910.0" y="209.3" width="11.2" height="11.2"/>
<rect x="1910.1" y="429.9" width="11.2" height="11.2"/>
<rect x="1907.7" y="456.4" width="11.2" height="11.2"/>
<rect x="1885.4" y="385.8" width="11.2" height="11.2"/>
<rect x="1906.3" y="420.4" width="11.2" height="11.2"/>
<rect x="1907.5" y="324.9" width="11.2" height="11.2"/>
<rect x="1902.0" y="475.1" width="11.2" height="11.2"/>
<rect x="1891.4" y="408.2" width="11.2" height="11.2"/>
<rect x="1902.4" y="287.1" width="11.2" height="11.2"/>
<rect x="1901.2" y="456.6" width="11.2" height="11.2"/>
<rect x="1892.3" y="326.5" width="11.2" height="11.2"/>
<rect x="1909.8" y="375.7" width="11.2" height="11.2"/>
<rect x="1906.0" y="369.6" width="11.2" height="11.2"/>
<rect x="1903.9" y="391.3" width="11.2" height="11.2"/>
<rect x="1919.9" y="444.1" width="11.2" height="11.2"/>
<rect x="1913.6" y="391.6" width="11.2" height="11.2"/>
<rect x="1892.3" y="353.6" width="11.2" height="11.2"/>
<rect x="1903.8" y="452.3" width="11.2" height="11.2"/>
<rect x="1895.6" y="375.8" width="11.2" height="11.2"/>
<rect x="1910.4" y="465.7" width="11.2" height="11.2"/>
<rect x="1917.4" y="434.7" width="11.2" height="11.2"/>
<rect x="1895.3" y="467.5" width="11.2" height="11.2"/>
<rect x="1888.8" y="419.7" width="11.2" height="11.2"/>
<rect x="1897.9" y="413.8" width="11.2" height="11.2"/>
<rect x="1917.5" y="422.5" width="11.2" height="11.2"/>
<rect x="1907.4" y="349.2" width="11.2" height="11.2"/>
<rect x="1915.7" y="340.2" width="11.2" height="11.2"/>
<rect x="1895.9" y="345.7" width="11.2" height="11.2"/>
<rect x="1915.7" y="352.8" width="11.2" height="11.2"/>
<rect x="1917.3" y="404.7" width="11.2" height="11.2"/>
<rect x="1886.9" y="441.7" width="11.2" height="11.2"/>
<rect x="1905.1" y="353.0" width="11.2" height="11.2"/>
<rect x="1885.3" y="428.7" width="11.2" height="11.2"/>
<rect x="1907.0" y="398.1" width="11.2" height="11.2"/>
<rect x="1911.4" y="308.8" width="11.2" height="11.2"/>
<rect x="1915.7" y="318.5" width="11.2" height="11.2"/>
<rect x="1891.3" y="391.7" width="11.2" height="11.2"/>
<rect x="1910.0" y="296.1" width="11.2" height="11.2"/>
<rect x="1892.3" y="338.5" width="11.2" height="11.2"/>
<rect x="1906.6" y="278.8" width="11.2" height="11.2"/>
<rect x="1897.2" y="398.9" width="11.2" height="11.2"/>
<rect x="1893.0" y="471.9" width="11.2" height="11.2"/>
<rect x="1901.3" y="295.9" width="11.2" height="11.2"/>
<rect x="1893.5" y="309.7" width="11.2" height="11.2"/>
<rect x="1890.4" y="450.7" width="11.2" height="11.2"/>
<rect x="1920.4" y="398.5" width="11.2" height="11.2"/>
<rect x="1897.5" y="444.9" width="11.2" height="11.2"/>
<rect x="1901.9" y="406.0" width="11.2" height="11.2"/>
<rect x="1901.1" y="316.7" width="11.2" height="11.2"/>
<rect x="1893.1" y="437.2" width="11.2" height="11.2"/>
<rect x="1888.4" y="398.2" width="11.2" height="11.2"/>
<rect x="1911.3" y="385.0" width="11.2" height="11.2"/>
<rect x="1907.9" y="333.2" width="11.2" height="11.2"/>
<rect x="1895.6" y="361.6" width="11.2" height="11.2"/>
<rect x="1885.3" y="412.3" width="11.2" height="11.2"/>
<rect x="1892.3" y="369.0" width="11.2" height="11.2"/>
<rect x="1910.3" y="413.8" width="11.2" height="11.2"/>
<rect x="1922.4" y="385.6" width="11.2" height="11.2"/>
<rect x="1905.9" y="302.1" width="11.2" height="11.2"/>
<rect x="1900.6" y="436.8" width="11.2" height="11.2"/>
<rect x="1913.1" y="363.0" width="11.2" height="11.2"/>
<rect x="1915.7" y="324.4" width="11.2" height="11.2"/>
<rect x="1909.5" y="317.3" width="11.2" height="11.2"/>
<rect x="1901.3" y="308.9" width="11.2" height="11.2"/>
<rect x="1885.7" y="393.4" width="11.2" height="11.2"/>
<rect x="1912.4" y="444.1" width="11.2" height="11.2"/>
<rect x="1917.5" y="457.0" width="11.2" height="11.2"/>
<rect x="1912.5" y="481.6" width="11.2" height="11.2"/>
<rect x="1921.3" y="415.7" width="11.2" height="11.2"/>
<rect x="1896.8" y="382.5" width="11.2" height="11.2"/>
<rect x="1900.5" y="333.7" width="11.2" height="11.2"/>
<rect x="1915.9" y="472.9" width="11.2" height="11.2"/>
<rect x="1899.0" y="215.6" width="11.2" height="11.2"/>
<rect x="1897.0" y="481.3" width="11.2" height="11.2"/>
<rect x="1915.7" y="331.6" width="11.2" height="11.2"/>
<rect x="1889.1" y="406.2" width="11.2" height="11.2"/>
<rect x="1916.0" y="450.0" width="11.2" height="11.2"/>
<rect x="1892.3" y="457.1" width="11.2" height="11.2"/>
<rect x="1920.9" y="430.3" width="11.2" height="11.2"/>
<rect x="1899.3" y="429.2" width="11.2" height="11.2"/>
<rect x="1906.8" y="480.8" width="11.2" height="11.2"/>
<rect x="1892.7" y="375.8" width="11.2" height="11.2"/>
<rect x="1917.2" y="467.7" width="11.2" height="11.2"/>
<rect x="1901.8" y="340.5" width="11.2" height="11.2"/>
<rect x="1901.5" y="279.7" width="11.2" height="11.2"/>
<rect x="1914.0" y="367.9" width="11.2" height="11.2"/>
</g>
<g fill="#C993EE" stroke="#1a0a26" stroke-width="1.5">
<rect x="1978.3" y="502.7" width="11.2" height="11.2"/>
<rect x="1974.5" y="483.9" width="11.2" height="11.2"/>
<rect x="1971.3" y="409.5" width="11.2" height="11.2"/>
<rect x="1984.3" y="154.2" width="11.2" height="11.2"/>
<rect x="1963.6" y="463.7" width="11.2" height="11.2"/>
<rect x="1991.7" y="389.8" width="11.2" height="11.2"/>
<rect x="1979.5" y="353.2" width="11.2" height="11.2"/>
<rect x="1987.3" y="185.7" width="11.2" height="11.2"/>
<rect x="1987.0" y="346.0" width="11.2" height="11.2"/>
<rect x="1986.3" y="251.3" width="11.2" height="11.2"/>
<rect x="1976.8" y="326.7" width="11.2" height="11.2"/>
<rect x="1975.3" y="289.9" width="11.2" height="11.2"/>
<rect x="1977.1" y="463.8" width="11.2" height="11.2"/>
<rect x="1976.6" y="511.5" width="11.2" height="11.2"/>
<rect x="1984.6" y="511.9" width="11.2" height="11.2"/>
<rect x="1977.0" y="342.9" width="11.2" height="11.2"/>
<rect x="1978.7" y="362.3" width="11.2" height="11.2"/>
<rect x="1984.1" y="437.1" width="11.2" height="11.2"/>
<rect x="1964.1" y="418.6" width="11.2" height="11.2"/>
<rect x="1974.0" y="425.7" width="11.2" height="11.2"/>
<rect x="1986.6" y="427.3" width="11.2" height="11.2"/>
<rect x="1983.3" y="334.9" width="11.2" height="11.2"/>
<rect x="1975.3" y="304.4" width="11.2" height="11.2"/>
<rect x="1993.3" y="444.3" width="11.2" height="11.2"/>
<rect x="1981.3" y="278.1" width="11.2" height="11.2"/>
<rect x="1965.3" y="116.7" width="11.2" height="11.2"/>
<rect x="1971.6" y="371.4" width="11.2" height="11.2"/>
<rect x="1978.2" y="419.3" width="11.2" height="11.2"/>
<rect x="1963.6" y="471.9" width="11.2" height="11.2"/>
<rect x="1995.1" y="464.5" width="11.2" height="11.2"/>
<rect x="1987.6" y="482.3" width="11.2" height="11.2"/>
<rect x="1966.7" y="482.9" width="11.2" height="11.2"/>
<rect x="1975.3" y="260.2" width="11.2" height="11.2"/>
<rect x="1986.3" y="116.7" width="11.2" height="11.2"/>
<rect x="1979.8" y="518.3" width="11.2" height="11.2"/>
<rect x="1984.3" y="128.5" width="11.2" height="11.2"/>
<rect x="1990.8" y="372.6" width="11.2" height="11.2"/>
<rect x="1985.0" y="364.5" width="11.2" height="11.2"/>
<rect x="1998.7" y="390.6" width="11.2" height="11.2"/>
<rect x="1997.0" y="400.4" width="11.2" height="11.2"/>
<rect x="1975.4" y="499.8" width="11.2" height="11.2"/>
<rect x="1966.4" y="380.1" width="11.2" height="11.2"/>
<rect x="1977.3" y="380.3" width="11.2" height="11.2"/>
<rect x="1981.1" y="472.0" width="11.2" height="11.2"/>
<rect x="1994.2" y="436.3" width="11.2" height="11.2"/>
<rect x="1963.6" y="490.4" width="11.2" height="11.2"/>
<rect x="1985.9" y="490.8" width="11.2" height="11.2"/>
<rect x="1996.4" y="472.3" width="11.2" height="11.2"/>
<rect x="1961.3" y="270.7" width="11.2" height="11.2"/>
<rect x="1984.0" y="400.5" width="11.2" height="11.2"/>
<rect x="1981.3" y="192.8" width="11.2" height="11.2"/>
<rect x="1999.3" y="118.4" width="11.2" height="11.2"/>
<rect x="1996.3" y="299.1" width="11.2" height="11.2"/>
<rect x="1981.3" y="136.9" width="11.2" height="11.2"/>
<rect x="1973.7" y="390.3" width="11.2" height="11.2"/>
<rect x="1986.3" y="283.4" width="11.2" height="11.2"/>
<rect x="1983.6" y="335.7" width="11.2" height="11.2"/>
<rect x="1999.0" y="493.0" width="11.2" height="11.2"/>
<rect x="1986.1" y="408.1" width="11.2" height="11.2"/>
<rect x="1995.5" y="454.1" width="11.2" height="11.2"/>
<rect x="1975.3" y="241.9" width="11.2" height="11.2"/>
<rect x="1993.3" y="273.4" width="11.2" height="11.2"/>
<rect x="1963.6" y="456.8" width="11.2" height="11.2"/>
<rect x="1977.8" y="456.3" width="11.2" height="11.2"/>
<rect x="1967.4" y="447.3" width="11.2" height="11.2"/>
<rect x="1975.3" y="154.2" width="11.2" height="11.2"/>
<rect x="1996.1" y="379.3" width="11.2" height="11.2"/>
<rect x="1965.4" y="438.3" width="11.2" height="11.2"/>
<rect x="1996.3" y="417.7" width="11.2" height="11.2"/>
<rect x="1984.1" y="326.2" width="11.2" height="11.2"/>
<rect x="1963.6" y="400.9" width="11.2" height="11.2"/>
<rect x="1976.3" y="122.0" width="11.2" height="11.2"/>
<rect x="1975.3" y="182.3" width="11.2" height="11.2"/>
</g>
<g fill="#C993EE" stroke="#1a0a26" stroke-width="1.5">
<rect x="2068.8" y="371.4" width="11.2" height="11.2"/>
<rect x="2060.0" y="408.6" width="11.2" height="11.2"/>
<rect x="2072.3" y="379.2" width="11.2" height="11.2"/>
<rect x="2058.0" y="325.2" width="11.2" height="11.2"/>
<rect x="2057.6" y="259.6" width="11.2" height="11.2"/>
<rect x="2046.6" y="332.5" width="11.2" height="11.2"/>
<rect x="2072.3" y="422.3" width="11.2" height="11.2"/>
<rect x="2055.7" y="333.5" width="11.2" height="11.2"/>
<rect x="2053.9" y="342.1" width="11.2" height="11.2"/>
<rect x="2048.5" y="340.7" width="11.2" height="11.2"/>
<rect x="2055.0" y="459.6" width="11.2" height="11.2"/>
<rect x="2055.6" y="157.4" width="11.2" height="11.2"/>
<rect x="2071.4" y="348.9" width="11.2" height="11.2"/>
<rect x="2061.7" y="414.4" width="11.2" height="11.2"/>
<rect x="2053.8" y="372.8" width="11.2" height="11.2"/>
<rect x="2048.7" y="358.3" width="11.2" height="11.2"/>
<rect x="2057.0" y="422.8" width="11.2" height="11.2"/>
<rect x="2056.6" y="297.1" width="11.2" height="11.2"/>
<rect x="2056.1" y="302.8" width="11.2" height="11.2"/>
<rect x="2058.1" y="474.8" width="11.2" height="11.2"/>
<rect x="2061.4" y="451.0" width="11.2" height="11.2"/>
<rect x="2072.3" y="409.9" width="11.2" height="11.2"/>
<rect x="2061.8" y="429.8" width="11.2" height="11.2"/>
<rect x="2063.4" y="341.3" width="11.2" height="11.2"/>
<rect x="2057.1" y="312.0" width="11.2" height="11.2"/>
<rect x="2058.4" y="482.9" width="11.2" height="11.2"/>
<rect x="2061.6" y="160.5" width="11.2" height="11.2"/>
<rect x="2053.1" y="429.2" width="11.2" height="11.2"/>
<rect x="2056.3" y="364.9" width="11.2" height="11.2"/>
<rect x="2068.6" y="385.5" width="11.2" height="11.2"/>
<rect x="2044.9" y="422.4" width="11.2" height="11.2"/>
<rect x="2057.7" y="253.6" width="11.2" height="11.2"/>
<rect x="2072.3" y="439.1" width="11.2" height="11.2"/>
<rect x="2059.6" y="274.6" width="11.2" height="11.2"/>
<rect x="2045.8" y="348.5" width="11.2" height="11.2"/>
<rect x="2044.9" y="372.5" width="11.2" height="11.2"/>
<rect x="2070.6" y="335.4" width="11.2" height="11.2"/>
<rect x="2044.9" y="379.5" width="11.2" height="11.2"/>
<rect x="2060.8" y="306.6" width="11.2" height="11.2"/>
<rect x="2058.5" y="268.5" width="11.2" height="11.2"/>
<rect x="2063.8" y="400.0" width="11.2" height="11.2"/>
<rect x="2061.5" y="460.6" width="11.2" height="11.2"/>
<rect x="2057.2" y="236.4" width="11.2" height="11.2"/>
<rect x="2044.9" y="365.1" width="11.2" height="11.2"/>
<rect x="2052.9" y="417.3" width="11.2" height="11.2"/>
<rect x="2066.7" y="385.0" width="11.2" height="11.2"/>
<rect x="2069.7" y="363.5" width="11.2" height="11.2"/>
<rect x="2058.2" y="245.4" width="11.2" height="11.2"/>
<rect x="2053.2" y="384.1" width="11.2" height="11.2"/>
<rect x="2068.5" y="392.4" width="11.2" height="11.2"/>
<rect x="2058.4" y="284.2" width="11.2" height="11.2"/>
<rect x="2058.6" y="113.3" width="11.2" height="11.2"/>
<rect x="2055.7" y="445.2" width="11.2" height="11.2"/>
<rect x="2072.3" y="431.6" width="11.2" height="11.2"/>
<rect x="2058.7" y="380.6" width="11.2" height="11.2"/>
<rect x="2060.9" y="350.7" width="11.2" height="11.2"/>
<rect x="2072.3" y="451.2" width="11.2" height="11.2"/>
<rect x="2061.5" y="468.1" width="11.2" height="11.2"/>
<rect x="2061.3" y="320.5" width="11.2" height="11.2"/>
<rect x="2055.4" y="400.5" width="11.2" height="11.2"/>
<rect x="2047.8" y="438.1" width="11.2" height="11.2"/>
<rect x="2058.7" y="231.8" width="11.2" height="11.2"/>
<rect x="2068.7" y="357.4" width="11.2" height="11.2"/>
<rect x="2062.3" y="439.5" width="11.2" height="11.2"/>
<rect x="2046.9" y="452.1" width="11.2" height="11.2"/>
<rect x="2060.7" y="290.4" width="11.2" height="11.2"/>
<rect x="2052.3" y="468.9" width="11.2" height="11.2"/>
<rect x="2055.6" y="317.8" width="11.2" height="11.2"/>
<rect x="2044.9" y="409.4" width="11.2" height="11.2"/>
<rect x="2047.2" y="391.7" width="11.2" height="11.2"/>
<rect x="2072.3" y="402.7" width="11.2" height="11.2"/>
<rect x="2056.6" y="395.5" width="11.2" height="11.2"/>
<rect x="2069.1" y="445.1" width="11.2" height="11.2"/>
<rect x="2058.6" y="200.1" width="11.2" height="11.2"/>
</g>
<g stroke="#000" fill="none">
<line x1="150.0" y1="533.2" x2="214.0" y2="533.2" stroke-width="3.3"/>
<line x1="182.0" y1="531.7" x2="182.0" y2="534.7" stroke-width="2.4"/>
<line x1="170.0" y1="531.7" x2="194.0" y2="531.7" stroke-width="2.4"/>
<line x1="170.0" y1="534.7" x2="194.0" y2="534.7" stroke-width="2.4"/>
<line x1="227.4" y1="538.9" x2="291.4" y2="538.9" stroke-width="3.3"/>
<line x1="259.4" y1="537.7" x2="259.4" y2="540.1" stroke-width="2.4"/>
<line x1="247.4" y1="537.7" x2="271.4" y2="537.7" stroke-width="2.4"/>
<line x1="247.4" y1="540.1" x2="271.4" y2="540.1" stroke-width="2.4"/>
<line x1="304.7" y1="525.3" x2="368.7" y2="525.3" stroke-width="3.3"/>
<line x1="336.7" y1="523.3" x2="336.7" y2="527.3" stroke-width="2.4"/>
<line x1="324.7" y1="523.3" x2="348.7" y2="523.3" stroke-width="2.4"/>
<line x1="324.7" y1="527.3" x2="348.7" y2="527.3" stroke-width="2.4"/>
<line x1="382.1" y1="513.2" x2="446.1" y2="513.2" stroke-width="3.3"/>
<line x1="414.1" y1="510.7" x2="414.1" y2="515.7" stroke-width="2.4"/>
<line x1="402.1" y1="510.7" x2="426.1" y2="510.7" stroke-width="2.4"/>
<line x1="402.1" y1="515.7" x2="426.1" y2="515.7" stroke-width="2.4"/>
<line x1="459.5" y1="517.0" x2="523.5" y2="517.0" stroke-width="3.3"/>
<line x1="491.5" y1="514.5" x2="491.5" y2="519.5" stroke-width="2.4"/>
<line x1="479.5" y1="514.5" x2="503.5" y2="514.5" stroke-width="2.4"/>
<line x1="479.5" y1="519.5" x2="503.5" y2="519.5" stroke-width="2.4"/>
<line x1="536.9" y1="490.0" x2="600.9" y2="490.0" stroke-width="3.3"/>
<line x1="568.9" y1="486.5" x2="568.9" y2="493.5" stroke-width="2.4"/>
<line x1="556.9" y1="486.5" x2="580.9" y2="486.5" stroke-width="2.4"/>
<line x1="556.9" y1="493.5" x2="580.9" y2="493.5" stroke-width="2.4"/>
<line x1="614.2" y1="456.6" x2="678.2" y2="456.6" stroke-width="3.3"/>
<line x1="646.2" y1="453.1" x2="646.2" y2="460.1" stroke-width="2.4"/>
<line x1="634.2" y1="453.1" x2="658.2" y2="453.1" stroke-width="2.4"/>
<line x1="634.2" y1="460.1" x2="658.2" y2="460.1" stroke-width="2.4"/>
<line x1="691.6" y1="458.6" x2="755.6" y2="458.6" stroke-width="3.3"/>
<line x1="723.6" y1="454.1" x2="723.6" y2="463.1" stroke-width="2.4"/>
<line x1="711.6" y1="454.1" x2="735.6" y2="454.1" stroke-width="2.4"/>
<line x1="711.6" y1="463.1" x2="735.6" y2="463.1" stroke-width="2.4"/>
<line x1="769.0" y1="456.6" x2="833.0" y2="456.6" stroke-width="3.3"/>
<line x1="801.0" y1="452.1" x2="801.0" y2="461.1" stroke-width="2.4"/>
<line x1="789.0" y1="452.1" x2="813.0" y2="452.1" stroke-width="2.4"/>
<line x1="789.0" y1="461.1" x2="813.0" y2="461.1" stroke-width="2.4"/>
<line x1="846.3" y1="425.8" x2="910.3" y2="425.8" stroke-width="3.3"/>
<line x1="878.3" y1="421.8" x2="878.3" y2="429.8" stroke-width="2.4"/>
<line x1="866.3" y1="421.8" x2="890.3" y2="421.8" stroke-width="2.4"/>
<line x1="866.3" y1="429.8" x2="890.3" y2="429.8" stroke-width="2.4"/>
<line x1="923.7" y1="465.7" x2="987.7" y2="465.7" stroke-width="3.3"/>
<line x1="955.7" y1="459.7" x2="955.7" y2="471.7" stroke-width="2.4"/>
<line x1="943.7" y1="459.7" x2="967.7" y2="459.7" stroke-width="2.4"/>
<line x1="943.7" y1="471.7" x2="967.7" y2="471.7" stroke-width="2.4"/>
<line x1="1001.1" y1="442.4" x2="1065.1" y2="442.4" stroke-width="3.3"/>
<line x1="1033.1" y1="436.4" x2="1033.1" y2="448.4" stroke-width="2.4"/>
<line x1="1021.1" y1="436.4" x2="1045.1" y2="436.4" stroke-width="2.4"/>
<line x1="1021.1" y1="448.4" x2="1045.1" y2="448.4" stroke-width="2.4"/>
<line x1="1078.4" y1="423.7" x2="1142.4" y2="423.7" stroke-width="3.3"/>
<line x1="1110.4" y1="418.7" x2="1110.4" y2="428.7" stroke-width="2.4"/>
<line x1="1098.4" y1="418.7" x2="1122.4" y2="418.7" stroke-width="2.4"/>
<line x1="1098.4" y1="428.7" x2="1122.4" y2="428.7" stroke-width="2.4"/>
<line x1="1155.8" y1="427.4" x2="1219.8" y2="427.4" stroke-width="3.3"/>
<line x1="1187.8" y1="421.4" x2="1187.8" y2="433.4" stroke-width="2.4"/>
<line x1="1175.8" y1="421.4" x2="1199.8" y2="421.4" stroke-width="2.4"/>
<line x1="1175.8" y1="433.4" x2="1199.8" y2="433.4" stroke-width="2.4"/>
<line x1="1233.2" y1="422.0" x2="1297.2" y2="422.0" stroke-width="3.3"/>
<line x1="1265.2" y1="417.0" x2="1265.2" y2="427.0" stroke-width="2.4"/>
<line x1="1253.2" y1="417.0" x2="1277.2" y2="417.0" stroke-width="2.4"/>
<line x1="1253.2" y1="427.0" x2="1277.2" y2="427.0" stroke-width="2.4"/>
<line x1="1310.6" y1="424.8" x2="1374.6" y2="424.8" stroke-width="3.3"/>
<line x1="1342.6" y1="418.8" x2="1342.6" y2="430.8" stroke-width="2.4"/>
<line x1="1330.6" y1="418.8" x2="1354.6" y2="418.8" stroke-width="2.4"/>
<line x1="1330.6" y1="430.8" x2="1354.6" y2="430.8" stroke-width="2.4"/>
<line x1="1387.9" y1="392.8" x2="1451.9" y2="392.8" stroke-width="3.3"/>
<line x1="1419.9" y1="387.8" x2="1419.9" y2="397.8" stroke-width="2.4"/>
<line x1="1407.9" y1="387.8" x2="1431.9" y2="387.8" stroke-width="2.4"/>
<line x1="1407.9" y1="397.8" x2="1431.9" y2="397.8" stroke-width="2.4"/>
<line x1="1465.3" y1="409.4" x2="1529.3" y2="409.4" stroke-width="3.3"/>
<line x1="1497.3" y1="403.4" x2="1497.3" y2="415.4" stroke-width="2.4"/>
<line x1="1485.3" y1="403.4" x2="1509.3" y2="403.4" stroke-width="2.4"/>
<line x1="1485.3" y1="415.4" x2="1509.3" y2="415.4" stroke-width="2.4"/>
<line x1="1568.5" y1="394.1" x2="1632.5" y2="394.1" stroke-width="3.3"/>
<line x1="1600.5" y1="388.9" x2="1600.5" y2="399.3" stroke-width="2.4"/>
<line x1="1588.5" y1="388.9" x2="1612.5" y2="388.9" stroke-width="2.4"/>
<line x1="1588.5" y1="399.3" x2="1612.5" y2="399.3" stroke-width="2.4"/>
<line x1="1645.8" y1="398.3" x2="1709.8" y2="398.3" stroke-width="3.3"/>
<line x1="1677.8" y1="392.5" x2="1677.8" y2="404.1" stroke-width="2.4"/>
<line x1="1665.8" y1="392.5" x2="1689.8" y2="392.5" stroke-width="2.4"/>
<line x1="1665.8" y1="404.1" x2="1689.8" y2="404.1" stroke-width="2.4"/>
<line x1="1723.1" y1="364.7" x2="1787.1" y2="364.7" stroke-width="3.3"/>
<line x1="1755.1" y1="356.3" x2="1755.1" y2="373.1" stroke-width="2.4"/>
<line x1="1743.1" y1="356.3" x2="1767.1" y2="356.3" stroke-width="2.4"/>
<line x1="1743.1" y1="373.1" x2="1767.1" y2="373.1" stroke-width="2.4"/>
<line x1="1800.3" y1="391.9" x2="1864.3" y2="391.9" stroke-width="3.3"/>
<line x1="1832.3" y1="384.9" x2="1832.3" y2="398.9" stroke-width="2.4"/>
<line x1="1820.3" y1="384.9" x2="1844.3" y2="384.9" stroke-width="2.4"/>
<line x1="1820.3" y1="398.9" x2="1844.3" y2="398.9" stroke-width="2.4"/>
<line x1="1877.6" y1="388.4" x2="1941.6" y2="388.4" stroke-width="3.3"/>
<line x1="1909.6" y1="381.4" x2="1909.6" y2="395.4" stroke-width="2.4"/>
<line x1="1897.6" y1="381.4" x2="1921.6" y2="381.4" stroke-width="2.4"/>
<line x1="1897.6" y1="395.4" x2="1921.6" y2="395.4" stroke-width="2.4"/>
<line x1="1954.9" y1="371.5" x2="2018.9" y2="371.5" stroke-width="3.3"/>
<line x1="1986.9" y1="361.0" x2="1986.9" y2="382.0" stroke-width="2.4"/>
<line x1="1974.9" y1="361.0" x2="1998.9" y2="361.0" stroke-width="2.4"/>
<line x1="1974.9" y1="382.0" x2="1998.9" y2="382.0" stroke-width="2.4"/>
<line x1="2032.2" y1="368.3" x2="2096.2" y2="368.3" stroke-width="3.3"/>
<line x1="2064.2" y1="361.3" x2="2064.2" y2="375.3" stroke-width="2.4"/>
<line x1="2052.2" y1="361.3" x2="2076.2" y2="361.3" stroke-width="2.4"/>
<line x1="2052.2" y1="375.3" x2="2076.2" y2="375.3" stroke-width="2.4"/>
</g>
<g font-family='"Liberation Sans", Arial, Helvetica, sans-serif' font-size="20.2" fill="#111" text-anchor="middle">
<text x="182.0" y="591.4">1278</text><text x="182.0" y="615.6" font-size="20.7">[0.4-M]</text>
<text x="259.4" y="591.4">5817</text><text x="259.4" y="615.6" font-size="20.7">[0.6-M]</text>
<text x="336.7" y="591.4">4638</text><text x="336.7" y="615.6" font-size="20.7">[15.1-F]</text>
<text x="414.1" y="591.4">5532</text><text x="414.1" y="615.6" font-size="20.7">[18.4-M]</text>
<text x="491.5" y="591.4">5559</text><text x="491.5" y="615.6" font-size="20.7">[19.8-F]</text>
<text x="568.9" y="591.4">4643</text><text x="568.9" y="615.6" font-size="20.7">[42.2-F]</text>
<text x="646.2" y="591.4">5087</text><text x="646.2" y="615.6" font-size="20.7">[44-M]</text>
<text x="723.6" y="591.4">5773</text><text x="723.6" y="615.6" font-size="20.7">[46-F]</text>
<text x="801.0" y="591.4">936</text><text x="801.0" y="615.6" font-size="20.7">[49.2-F]</text>
<text x="878.3" y="591.4">5451</text><text x="878.3" y="615.6" font-size="20.7">[57-F]</text>
<text x="955.7" y="591.4">5943</text><text x="955.7" y="615.6" font-size="20.7">[69-M]</text>
<text x="1033.1" y="591.4">5840</text><text x="1033.1" y="615.6" font-size="20.7">[75.3-M]</text>
<text x="1110.4" y="591.4">5219</text><text x="1110.4" y="615.6" font-size="20.7">[77-F]</text>
<text x="1187.8" y="591.4">5171</text><text x="1187.8" y="615.6" font-size="20.7">[79.2-M]</text>
<text x="1265.2" y="591.4">5511</text><text x="1265.2" y="615.6" font-size="20.7">[80.2-F]</text>
<text x="1342.6" y="591.4">5657</text><text x="1342.6" y="615.6" font-size="20.7">[82.2-M]</text>
<text x="1419.9" y="591.4">5823</text><text x="1419.9" y="615.6" font-size="20.7">[82.7-F]</text>
<text x="1497.3" y="591.4">4976</text><text x="1497.3" y="615.6" font-size="20.7">[104-F]</text>
<text x="1600.5" y="591.4">1353</text><text x="1600.5" y="615.6" font-size="20.7">[57-F]</text>
<text x="1677.8" y="591.4">1647</text><text x="1677.8" y="615.6" font-size="20.7">[59-F]</text>
<text x="1755.1" y="591.4">4556</text><text x="1755.1" y="615.6" font-size="20.7">[70-F]</text>
<text x="1832.3" y="591.4">5222</text><text x="1832.3" y="615.6" font-size="20.7">[80-F]</text>
<text x="1909.6" y="591.4">1456</text><text x="1909.6" y="615.6" font-size="20.7">[81-M]</text>
<text x="1986.9" y="591.4">1995</text><text x="1986.9" y="615.6" font-size="20.7">[89-F]</text>
<text x="2064.2" y="591.4">1828</text><text x="2064.2" y="615.6" font-size="20.7">[91-F]</text>
</g>
<g fill="none" stroke-width="1.6">
<rect x="143.4" y="571.1" width="76.6" height="51.6" stroke="#3cc3df"/>
<rect x="452.9" y="571.1" width="76.6" height="51.6" stroke="#3cc3df"/>
<rect x="685.0" y="571.1" width="76.6" height="51.6" stroke="#3cc3df"/>
<rect x="839.7" y="571.1" width="76.6" height="51.6" stroke="#3cc3df"/>
<rect x="917.1" y="571.1" width="76.6" height="51.6" stroke="#3cc3df"/>
<rect x="1304.0" y="571.1" width="76.6" height="51.6" stroke="#3cc3df"/>
<rect x="1458.7" y="571.1" width="76.6" height="51.6" stroke="#3cc3df"/>
<rect x="1561.9" y="571.1" width="76.6" height="51.6" stroke="#c7a2ea"/>
<rect x="1716.5" y="571.1" width="76.6" height="51.6" stroke="#c7a2ea"/>
<rect x="1871.0" y="571.1" width="76.6" height="51.6" stroke="#c7a2ea"/>
<rect x="2025.6" y="571.1" width="76.6" height="51.6" stroke="#c7a2ea"/>
</g>
<g fill="none" stroke="#000" stroke-width="4.2" stroke-linejoin="miter">
<polyline points="16,698.5 143.5,642.5 1520,642.5 1322,698.5"/>
<polyline points="1352,698.5 1569,642.5 2072,642.5 2101,698.5"/>
</g>
<g font-family='"Liberation Sans", Arial, Helvetica, sans-serif' font-size="26" fill="#111">
<text x="556" y="685.5">Neurotypical Control</text>
<text x="1628" y="684.7">Alzheimer’s Disease</text>
</g>
</svg>
</body></html>
